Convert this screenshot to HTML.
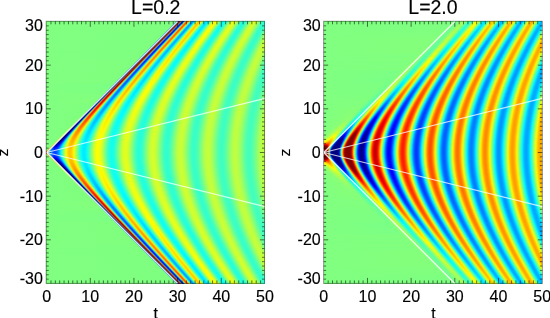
<!DOCTYPE html>
<html><head><meta charset="utf-8"><style>
html,body{margin:0;padding:0;background:#fff}
#w{position:relative;width:550px;height:318px;overflow:hidden;background:#fff;font-family:"Liberation Sans",sans-serif}
.hm{position:absolute;top:21px;height:263px}
.hm i{display:block;height:1px}
svg{position:absolute;left:0;top:0;will-change:transform}
text{font-family:"Liberation Sans",sans-serif;fill:#000;stroke:#000;stroke-width:0.15px}
.l0{background:linear-gradient(90deg,#9f1400 0px,#870000 1px,#a0dd5f 2px,#04eefb 3px,#008cff 5px,#004fff 7px,#0040ff 9px,#005fff 11px,#00a4ff 13px,#09fbf6 15px,#cdff32 19px,#f4fe0b 20px,#ffd300 22px,#ffc100 24px,#ffd600 26px,#f5ff0a 28px,#23ffdc 34px,#0afff5 35px,#00ecff 37px,#00eeff 39px,#00faff 40px,#25ffda 42px,#d3ff2c 48px,#f5ff0a 50px,#ffff00 52px,#deff21 55px,#32ffcd 62px,#0ffff0 65px,#20ffdf 68px,#72ff8d 72px,#caff35 76px,#e6ff19 79px,#d3ff2c 82px,#6fff90 87px,#2bffd4 91px,#23ffdc 94px,#45ffba 97px,#b9ff46 103px,#d7ff28 106px,#cdff32 109px,#8eff71 113px,#46ffb9 117px,#2dffd2 120px,#39ffc6 123px,#b9ff46 131px,#ceff31 134px,#bfff40 137px,#45ffba 145px,#34ffcb 148px,#46ffb9 151px,#baff45 159px,#c7ff38 162px,#b4ff4b 165px,#45ffba 173px,#3bffc4 176px,#5dffa2 180px,#b1ff4e 186px,#c2ff3d 189px,#aaff55 193px,#4dffb2 200px,#41ffbe 204px,#66ff99 208px,#b3ff4c 214px,#bdff42 217px,#b4ff4b 219px)}
.l1{background:linear-gradient(90deg,#be2d01 0px,#cc4f0d 2px,#3ff2c0 3px,#00b9ff 4px,#0066ff 6px,#003fff 8px,#0047ff 10px,#007bff 12px,#08faf7 15px,#ccff33 19px,#f3fe0c 20px,#ffd300 22px,#ffc100 24px,#ffd500 26px,#f5fe0a 28px,#23ffdc 34px,#0afff5 35px,#00ecff 37px,#00eeff 39px,#00f9ff 40px,#25ffda 42px,#d2ff2d 48px,#f5ff0a 50px,#ffff00 52px,#deff21 55px,#32ffcd 62px,#0ffff0 65px,#20ffdf 68px,#72ff8d 72px,#caff35 76px,#e6ff19 79px,#d3ff2c 82px,#6fff90 87px,#2bffd4 91px,#23ffdc 94px,#45ffba 97px,#b9ff46 103px,#d7ff28 106px,#cdff32 109px,#8eff71 113px,#46ffb9 117px,#2dffd2 120px,#39ffc6 123px,#b9ff46 131px,#ceff31 134px,#bfff40 137px,#45ffba 145px,#34ffcb 148px,#46ffb9 151px,#baff45 159px,#c7ff38 162px,#b4ff4b 165px,#45ffba 173px,#3bffc4 176px,#5dffa2 180px,#b1ff4e 186px,#c2ff3d 189px,#aaff55 193px,#4dffb2 200px,#41ffbe 204px,#66ff99 208px,#b3ff4c 214px,#bdff42 217px,#b4ff4b 219px)}
.l2{background:linear-gradient(90deg,#b8ed47 0px,#a6fa59 1px,#dc6007 2px,#ce6417 3px,#27d9d8 4px,#0087ff 5px,#0060ff 6px,#0038ff 8px,#003fff 10px,#0073ff 12px,#05f7fa 15px,#c9ff36 19px,#f1ff0e 20px,#ffec00 21px,#ffc500 23px,#ffc600 25px,#f7fe08 28px,#24ffdb 34px,#0bfff4 35px,#00ecff 37px,#00edff 39px,#0cfff3 41px,#7dff82 45px,#d2ff2d 48px,#f5ff0a 50px,#ffff00 52px,#dfff20 55px,#32ffcd 62px,#0ffff0 65px,#1fffe0 68px,#72ff8d 72px,#caff35 76px,#e6ff19 79px,#d4ff2b 82px,#37ffc8 90px,#21ffde 93px,#35ffca 96px,#c6ff39 104px,#d8ff27 107px,#c1ff3e 110px,#3affc5 118px,#2dffd2 121px,#45ffba 124px,#b9ff46 131px,#ceff31 134px,#bfff40 137px,#45ffba 145px,#34ffcb 148px,#45ffba 151px,#baff45 159px,#c7ff38 162px,#b4ff4b 165px,#45ffba 173px,#3bffc4 176px,#5dffa2 180px,#b1ff4e 186px,#c2ff3d 189px,#aaff55 193px,#4dffb2 200px,#41ffbe 204px,#66ff99 208px,#b3ff4c 214px,#bdff42 217px,#b5ff4a 219px)}
.l3{background:linear-gradient(90deg,#81ff7e 0px,#80ff7f 1px,#a4fa5b 2px,#e56408 3px,#cf7722 4px,#19b6e6 5px,#0058ff 6px,#003bff 7px,#0029ff 9px,#0047ff 11px,#008eff 13px,#01effe 15px,#28ffd7 16px,#c3ff3c 19px,#edff12 20px,#ffee00 21px,#ffc500 23px,#ffc400 25px,#f9fd06 28px,#26ffd9 34px,#0cfff3 35px,#00edff 37px,#00ecff 39px,#0afff5 41px,#7bff84 45px,#d1ff2e 48px,#fdff02 51px,#fbff04 53px,#caff35 56px,#33ffcc 62px,#0ffff0 65px,#1fffe0 68px,#71ff8e 72px,#c9ff36 76px,#e6ff19 79px,#d4ff2b 82px,#70ff8f 87px,#2bffd4 91px,#23ffdc 94px,#44ffbb 97px,#b8ff47 103px,#d6ff29 106px,#cdff32 109px,#8eff71 113px,#3affc5 118px,#2dffd2 121px,#45ffba 124px,#b9ff46 131px,#ceff31 134px,#c0ff3f 137px,#46ffb9 145px,#34ffcb 148px,#45ffba 151px,#baff45 159px,#c7ff38 162px,#b4ff4b 165px,#45ffba 173px,#3bffc4 176px,#5cffa3 180px,#b1ff4e 186px,#c1ff3e 190px,#9eff61 194px,#4dffb2 200px,#41ffbe 204px,#66ff99 208px,#b3ff4c 214px,#bdff42 217px,#b5ff4a 219px)}
.l4{background:linear-gradient(90deg,#80ff7f 0px,#80ff7f 2px,#a3fb5c 3px,#ed6708 4px,#c88232 5px,#0f8cf0 6px,#002dff 7px,#001aff 8px,#0016ff 9px,#0033ff 11px,#007cff 13px,#00e1ff 15px,#1affe5 16px,#bbff44 19px,#e7ff18 20px,#fff200 21px,#ffc600 23px,#ffc200 25px,#ffe300 27px,#fbfb04 28px,#93ff6c 31px,#29ffd6 34px,#0efff1 35px,#00f9ff 36px,#00e8ff 38px,#08fff7 41px,#79ff86 45px,#cfff30 48px,#f4ff0b 50px,#ffff00 52px,#e1ff1e 55px,#34ffcb 62px,#0ffff0 65px,#1effe1 68px,#70ff8f 72px,#c9ff36 76px,#e6ff19 79px,#d5ff2a 82px,#71ff8e 87px,#38ffc7 90px,#21ffde 93px,#34ffcb 96px,#c6ff39 104px,#d8ff27 107px,#c2ff3d 110px,#3affc5 118px,#2dffd2 121px,#44ffbb 124px,#b9ff46 131px,#ceff31 134px,#c0ff3f 137px,#46ffb9 145px,#34ffcb 148px,#45ffba 151px,#b9ff46 159px,#c7ff38 162px,#b4ff4b 165px,#45ffba 173px,#3bffc4 176px,#5cffa3 180px,#b1ff4e 186px,#c1ff3e 190px,#9eff61 194px,#4dffb2 200px,#41ffbe 204px,#66ff99 208px,#b2ff4d 214px,#bdff42 217px,#b5ff4a 219px)}
.l5{background:linear-gradient(90deg,#80ff7f 0px,#80ff7f 3px,#a3fb5c 4px,#f36d08 5px,#bc9141 6px,#0862f7 7px,#0006fd 8px,#0007fd 10px,#0019ff 11px,#0063ff 13px,#00ccff 15px,#0bfaf4 16px,#dfff20 20px,#fdf702 21px,#ffc700 23px,#ffbf00 25px,#ffdd00 27px,#fef701 28px,#c0ff3f 30px,#2dffd2 34px,#01fafe 36px,#00e8ff 38px,#06fff9 41px,#76ff89 45px,#cdff32 48px,#fdff02 51px,#fcff03 53px,#ceff31 56px,#35ffca 62px,#0ffff0 65px,#1dffe2 68px,#6eff91 72px,#c8ff37 76px,#e6ff19 79px,#d5ff2a 82px,#89ff76 86px,#39ffc6 90px,#21ffde 93px,#34ffcb 96px,#c5ff3a 104px,#d8ff27 107px,#c3ff3c 110px,#3bffc4 118px,#2dffd2 121px,#44ffbb 124px,#b8ff47 131px,#ceff31 134px,#c0ff3f 137px,#46ffb9 145px,#34ffcb 148px,#45ffba 151px,#b9ff46 159px,#c7ff38 162px,#a9ff56 166px,#50ffaf 172px,#3bffc4 175px,#4fffb0 179px,#b1ff4e 186px,#c1ff3e 190px,#9eff61 194px,#4dffb2 200px,#41ffbe 204px,#66ff99 208px,#b2ff4d 214px,#bdff42 217px,#b5ff4a 219px)}
.l6{background:linear-gradient(90deg,#80ff7f 0px,#80ff7f 4px,#a2fb5d 5px,#f67609 6px,#b49c4b 7px,#053bf4 8px,#0000de 9px,#0000e3 10px,#0002f5 11px,#0019ff 12px,#0077ff 14px,#02ebfd 16px,#2cffd3 17px,#d3ff2c 20px,#f9fb06 21px,#ffc900 23px,#ffbc00 25px,#ffd700 27px,#fff200 28px,#ecff13 29px,#31ffce 34px,#02fcfd 36px,#00e8ff 38px,#00f2ff 40px,#04fefb 41px,#52ffad 44px,#caff35 48px,#f1ff0e 50px,#fffe00 52px,#f4ff0b 54px,#b8ff47 57px,#37ffc8 62px,#10ffef 65px,#1cffe3 68px,#6cff93 72px,#c7ff38 76px,#e6ff19 79px,#d6ff29 82px,#8aff75 86px,#3affc5 90px,#21ffde 93px,#33ffcc 96px,#c5ff3a 104px,#d8ff27 107px,#c3ff3c 110px,#3bffc4 118px,#2cffd3 121px,#43ffbc 124px,#b8ff47 131px,#ceff31 134px,#c1ff3e 137px,#47ffb8 145px,#34ffcb 148px,#44ffbb 151px,#b9ff46 159px,#c7ff38 162px,#b5ff4a 165px,#46ffb9 173px,#3bffc4 176px,#5bffa4 180px,#b0ff4f 186px,#c2ff3d 189px,#b5ff4a 192px,#4effb1 200px,#3fffc0 203px,#59ffa6 207px,#b2ff4d 214px,#bdff42 217px,#b5ff4a 219px)}
.l7{background:linear-gradient(90deg,#80ff80 0px,#80ff7f 5px,#a2fc5d 6px,#f68209 7px,#a8a457 8px,#0327e1 9px,#0000bc 10px,#0000ce 11px,#0002ed 12px,#001cff 13px,#008dff 15px,#00ceff 16px,#13fcec 17px,#c4ff3b 20px,#f2fe0d 21px,#ffe700 22px,#ffbd00 24px,#ffc000 26px,#ffe900 28px,#f4fe0b 29px,#37ffc8 34px,#03fdfc 36px,#00e8ff 38px,#00efff 40px,#02fcfd 41px,#4dffb2 44px,#c7ff38 48px,#f0ff0f 50px,#fffe00 52px,#f5ff0a 54px,#bbff44 57px,#39ffc6 62px,#10ffef 65px,#11ffee 67px,#3cffc3 70px,#c5ff3a 76px,#e6ff19 79px,#d7ff28 82px,#8cff73 86px,#3bffc4 90px,#21ffde 93px,#32ffcd 96px,#c4ff3b 104px,#d8ff27 107px,#c4ff3b 110px,#3cffc3 118px,#2cffd3 121px,#43ffbc 124px,#c3ff3c 132px,#ceff31 135px,#b6ff49 138px,#47ffb8 145px,#34ffcb 148px,#44ffbb 151px,#b8ff47 159px,#c7ff38 162px,#b6ff49 165px,#46ffb9 173px,#3bffc4 176px,#5bffa4 180px,#b0ff4f 186px,#c2ff3d 189px,#b6ff49 192px,#4effb1 200px,#3fffc0 203px,#58ffa7 207px,#b2ff4d 214px,#bdff42 217px,#b5ff4a 219px)}
.l8{background:linear-gradient(90deg,#80ff80 0px,#80ff7f 6px,#a1fc5e 7px,#f68d09 8px,#96a669 9px,#001bc7 10px,#00009d 11px,#0000bc 12px,#0002e8 13px,#0023ff 14px,#03eafc 17px,#33ffcc 18px,#b0ff4f 20px,#e4ff1b 21px,#fff000 22px,#ffbe00 24px,#ffbb00 26px,#ffe000 28px,#fbfb04 29px,#1fffe0 35px,#06fef9 36px,#00e6ff 39px,#01fafe 41px,#2affd5 43px,#c3ff3c 48px,#eeff11 50px,#fffe00 52px,#f7ff08 54px,#bfff40 57px,#3cffc3 62px,#19ffe6 64px,#10ffef 67px,#3affc5 70px,#c3ff3c 76px,#e6ff19 79px,#d9ff26 82px,#8eff71 86px,#3cffc3 90px,#21ffde 93px,#31ffce 96px,#79ff86 100px,#c3ff3c 104px,#d8ff27 107px,#c5ff3a 110px,#3dffc2 118px,#2cffd3 121px,#42ffbd 124px,#c2ff3d 132px,#ceff31 135px,#b6ff49 138px,#48ffb7 145px,#34ffcb 148px,#43ffbc 151px,#b8ff47 159px,#c7ff38 162px,#b6ff49 165px,#47ffb8 173px,#3bffc4 176px,#5affa5 180px,#afff50 186px,#c2ff3d 189px,#acff53 193px,#4effb1 200px,#3fffc0 203px,#58ffa7 207px,#b2ff4d 214px,#bdff42 217px,#b6ff49 219px)}
.l9{background:linear-gradient(90deg,#80ff80 0px,#80ff7f 7px,#a1fc5e 8px,#f5990a 9px,#88a675 10px,#0013a8 11px,#000088 12px,#0000ae 13px,#0003e6 14px,#002dff 15px,#00c1ff 17px,#12faed 18px,#d1ff2e 21px,#faf905 22px,#ffc100 24px,#ffb500 26px,#ffd600 28px,#fef301 29px,#e7ff18 30px,#25ffda 35px,#0afff5 36px,#00e9ff 38px,#00eaff 40px,#0bfff4 42px,#d8ff27 49px,#f9ff06 51px,#f9ff06 54px,#c3ff3c 57px,#3effc1 62px,#11ffee 65px,#10ffef 67px,#37ffc8 70px,#c1ff3e 76px,#e5ff1a 79px,#daff25 82px,#90ff6f 86px,#3dffc2 90px,#21ffde 93px,#30ffcf 96px,#8cff73 101px,#ceff31 105px,#d7ff28 108px,#b8ff47 111px,#3dffc2 118px,#2cffd3 121px,#41ffbe 124px,#c1ff3e 132px,#ceff31 135px,#b7ff48 138px,#48ffb7 145px,#34ffcb 148px,#43ffbc 151px,#b7ff48 159px,#c7ff38 162px,#b7ff48 165px,#47ffb8 173px,#3bffc4 176px,#4effb1 179px,#b8ff47 187px,#c1ff3e 190px,#a0ff5f 194px,#4fffb0 200px,#3fffc0 203px,#57ffa8 207px,#b1ff4e 214px,#beff41 217px,#b6ff49 219px)}
.l10{background:linear-gradient(90deg,#80ff80 0px,#80ff7f 8px,#a0fd5f 9px,#f5a50a 10px,#7ea27c 11px,#000b9c 12px,#000082 13px,#0000a4 14px,#0004e6 15px,#0039ff 16px,#01dcfe 18px,#2dffd2 19px,#b8ff47 21px,#eefe11 22px,#ffe500 23px,#ffc600 24px,#ffb500 25px,#ffb900 27px,#ffe700 29px,#f3fe0c 30px,#2dffd2 35px,#10ffef 36px,#00f8ff 37px,#00e4ff 39px,#06fef9 42px,#5affa5 45px,#d3ff2c 49px,#f7ff08 51px,#fffd00 53px,#efff10 55px,#adff52 58px,#42ffbd 62px,#12ffed 65px,#0ffff0 67px,#34ffcb 70px,#bfff40 76px,#e5ff1a 79px,#dbff24 82px,#93ff6c 86px,#3fffc0 90px,#21ffde 93px,#2fffd0 96px,#75ff8a 100px,#c1ff3e 104px,#d8ff27 107px,#c7ff38 110px,#3effc1 118px,#2cffd3 121px,#40ffbf 124px,#c1ff3e 132px,#ceff31 135px,#b8ff47 138px,#49ffb6 145px,#34ffcb 148px,#42ffbd 151px,#b7ff48 159px,#c7ff38 162px,#b7ff48 165px,#47ffb8 173px,#3bffc4 176px,#59ffa6 180px,#b8ff47 187px,#c1ff3e 190px,#a1ff5e 194px,#4fffb0 200px,#3fffc0 203px,#57ffa8 207px,#b1ff4e 214px,#bbff44 218px,#b6ff49 219px)}
.l11{background:linear-gradient(90deg,#80ff80 0px,#80ff7f 9px,#a0fd5f 10px,#f5b00a 11px,#75a181 12px,#000893 13px,#000080 14px,#00009e 15px,#0007e8 16px,#0049ff 17px,#0af1f5 19px,#4effb1 20px,#d7ff28 22px,#fdf302 23px,#ffcf00 24px,#ffb800 25px,#ffae00 26px,#ffc000 28px,#fcf803 30px,#b2ff4d 32px,#37ffc8 35px,#02fbfd 37px,#00e4ff 39px,#00edff 41px,#02fcfd 42px,#32ffcd 44px,#ceff31 49px,#f5ff0a 51px,#fffc00 53px,#f3ff0c 55px,#b2ff4d 58px,#30ffcf 63px,#0dfff2 66px,#20ffdf 69px,#76ff89 73px,#ceff31 77px,#e7ff18 80px,#d0ff2f 83px,#41ffbe 90px,#21ffde 93px,#2dffd2 96px,#73ff8c 100px,#bfff40 104px,#d8ff27 107px,#c8ff37 110px,#71ff8e 115px,#35ffca 119px,#2effd1 122px,#5cffa3 126px,#c0ff3f 132px,#ceff31 135px,#b9ff46 138px,#3fffc0 146px,#35ffca 149px,#4dffb2 152px,#b6ff49 159px,#c7ff38 162px,#b8ff47 165px,#48ffb7 173px,#3bffc4 176px,#4cffb3 179px,#b8ff47 187px,#c2ff3d 190px,#a2ff5d 194px,#47ffb8 201px,#40ffbf 204px,#62ff9d 208px,#b0ff4f 214px,#bcff43 218px,#b6ff49 219px)}
.l12{background:linear-gradient(90deg,#80ff80 0px,#80ff7f 10px,#9ffd60 11px,#f4bb0b 12px,#679f89 13px,#00058e 14px,#000080 15px,#00009c 16px,#000beb 17px,#005bff 18px,#00bcff 19px,#1dfce2 20px,#b7ff48 22px,#f1fd0e 23px,#ffdd00 24px,#ffbe00 25px,#ffad00 26px,#ffab00 27px,#ffcc00 29px,#ffeb00 30px,#ecff13 31px,#43ffbc 35px,#05fefa 37px,#00e4ff 39px,#00e9ff 41px,#00f7ff 42px,#0efff1 43px,#c9ff36 49px,#f3ff0c 51px,#fffc00 53px,#f6ff09 55px,#b8ff47 58px,#33ffcc 63px,#14ffeb 65px,#12ffed 68px,#42ffbd 71px,#ccff33 77px,#e7ff18 80px,#d2ff2d 83px,#82ff7d 87px,#33ffcc 91px,#20ffdf 94px,#38ffc7 97px,#beff41 104px,#d8ff27 107px,#caff35 110px,#73ff8c 115px,#36ffc9 119px,#2effd1 122px,#4bffb4 125px,#bfff40 132px,#cfff30 135px,#baff45 138px,#40ffbf 146px,#35ffca 149px,#59ffa6 153px,#b5ff4a 159px,#c7ff38 162px,#b9ff46 165px,#49ffb6 173px,#3affc5 176px,#57ffa8 180px,#b7ff48 187px,#c2ff3d 190px,#a2ff5d 194px,#50ffaf 200px,#40ffbf 204px,#62ff9d 208px,#b0ff4f 214px,#bcff43 218px,#b7ff48 219px)}
.l13{background:linear-gradient(90deg,#80ff80 0px,#80ff7f 11px,#9ffe60 12px,#f2c40d 13px,#589b93 14px,#000388 15px,#000080 16px,#00009c 17px,#0011ef 18px,#006eff 19px,#02d5fd 20px,#38ffc7 21px,#8dff72 22px,#d4ff2b 23px,#fdef02 24px,#ffc800 25px,#ffb000 26px,#ffa600 27px,#ffbe00 29px,#fafa05 31px,#2bffd4 36px,#0cfff3 37px,#00e5ff 39px,#00e5ff 41px,#07fef8 43px,#dbff24 50px,#fcff03 52px,#f9ff06 55px,#beff41 58px,#37ffc8 63px,#0efff1 66px,#11ffee 68px,#3effc1 71px,#caff35 77px,#e7ff18 80px,#d5ff2a 83px,#85ff7a 87px,#35ffca 91px,#20ffdf 94px,#37ffc8 97px,#bcff43 104px,#d8ff27 107px,#cbff34 110px,#89ff76 114px,#42ffbd 118px,#2cffd3 121px,#3cffc3 124px,#beff41 132px,#cfff30 135px,#bbff44 138px,#41ffbe 146px,#35ffca 149px,#4bffb4 152px,#b5ff4a 159px,#c7ff38 162px,#b9ff46 165px,#49ffb6 173px,#3affc5 176px,#56ffa9 180px,#b6ff49 187px,#c2ff3d 190px,#a3ff5c 194px,#48ffb7 201px,#40ffbf 204px,#61ff9e 208px,#afff50 214px,#beff41 217px,#b7ff48 219px)}
.l14{background:linear-gradient(90deg,#80ff80 0px,#80ff7f 12px,#9efe61 13px,#efcd10 14px,#509197 15px,#000087 16px,#000080 17px,#00009e 18px,#001af2 19px,#0084ff 20px,#09e9f6 21px,#56ffa9 22px,#abff54 23px,#eefd11 24px,#ffd900 25px,#ffb700 26px,#ffa500 27px,#ffa400 28px,#ffb000 29px,#ffec00 31px,#e9ff16 32px,#38ffc7 36px,#15ffea 37px,#01f9fe 38px,#00e0ff 40px,#00ebff 42px,#02fbfd 43px,#35ffca 45px,#baff45 49px,#ebff14 51px,#fffc00 53px,#fcff03 55px,#c4ff3b 58px,#3cffc3 63px,#18ffe7 65px,#0ffff0 68px,#3affc5 71px,#c7ff38 77px,#e7ff18 80px,#d7ff28 83px,#89ff76 87px,#37ffc8 91px,#20ffdf 94px,#34ffcb 97px,#c8ff37 105px,#d8ff27 108px,#c0ff3f 111px,#43ffbc 118px,#2cffd3 121px,#3bffc4 124px,#bdff42 132px,#cfff30 135px,#bcff43 138px,#42ffbd 146px,#34ffcb 149px,#49ffb6 152px,#b4ff4b 159px,#c7ff38 162px,#baff45 165px,#4affb5 173px,#3affc5 176px,#55ffaa 180px,#b6ff49 187px,#c2ff3d 190px,#a4ff5b 194px,#49ffb6 201px,#40ffbf 204px,#60ff9f 208px,#afff50 214px,#beff41 217px,#b8ff47 219px)}
.l15{background:linear-gradient(90deg,#80ff80 0px,#80ff7f 13px,#9dfe62 14px,#edd612 15px,#4a879a 16px,#000085 17px,#000080 18px,#0000a1 19px,#0025f6 20px,#009aff 21px,#18f6e7 22px,#c8ff37 24px,#fcf003 25px,#ffc500 26px,#ffa900 27px,#ff9e00 28px,#ffa400 29px,#ffd800 31px,#f9f906 32px,#21ffde 37px,#05fdfa 38px,#00e0ff 40px,#00e5ff 42px,#00f5ff 43px,#0dfff2 44px,#ceff31 50px,#f7ff08 52px,#fefe01 55px,#e2ff1d 57px,#2bffd4 64px,#10ffef 66px,#0dfff2 68px,#35ffca 71px,#c3ff3c 77px,#e7ff18 80px,#d9ff26 83px,#8dff72 87px,#3affc5 91px,#20ffdf 94px,#32ffcd 97px,#c6ff39 105px,#d9ff26 108px,#c2ff3d 111px,#45ffba 118px,#2cffd3 121px,#3affc5 124px,#8cff73 129px,#c6ff39 133px,#cdff32 136px,#b1ff4e 139px,#43ffbc 146px,#34ffcb 149px,#48ffb7 152px,#bdff42 160px,#c7ff38 163px,#a3ff5c 167px,#4bffb4 173px,#3affc5 176px,#54ffab 180px,#b5ff4a 187px,#c2ff3d 190px,#a5ff5a 194px,#49ffb6 201px,#43ffbc 205px,#6dff92 209px,#aeff51 214px,#beff41 217px,#b8ff47 219px)}
.l16{background:linear-gradient(90deg,#80ff80 0px,#80ff7f 14px,#9dfe62 15px,#ebdf14 16px,#448299 17px,#000083 18px,#000080 19px,#0000a5 20px,#0032f8 21px,#00b2ff 22px,#2efcd1 23px,#92ff6d 24px,#e3fe1c 25px,#ffdc00 26px,#ffb300 27px,#ff9e00 28px,#ff9b00 29px,#ffa800 30px,#ffe800 32px,#e9ff16 33px,#30ffcf 37px,#0efff1 38px,#00f3ff 39px,#00dcff 41px,#00edff 43px,#05fdfa 44px,#85ff7a 48px,#e0ff1f 51px,#fefd01 53px,#f8ff07 56px,#b8ff47 59px,#30ffcf 64px,#0cfff3 67px,#13ffec 69px,#46ffb9 72px,#bfff40 77px,#e6ff19 80px,#dcff23 83px,#91ff6e 87px,#3cffc3 91px,#20ffdf 94px,#30ffcf 97px,#8fff70 102px,#d0ff2f 106px,#d6ff29 109px,#b5ff4a 112px,#47ffb8 118px,#2cffd3 121px,#38ffc7 124px,#8aff75 129px,#c5ff3a 133px,#ceff31 136px,#b3ff4c 139px,#44ffbb 146px,#34ffcb 149px,#47ffb8 152px,#bcff43 160px,#c7ff38 163px,#a5ff5a 167px,#4cffb3 173px,#3affc5 176px,#48ffb7 179px,#b4ff4b 187px,#c2ff3d 190px,#a6ff59 194px,#4affb5 201px,#40ffbf 204px,#5effa1 208px,#aeff51 214px,#bdff42 218px,#b8ff47 219px)}
.l17{background:linear-gradient(90deg,#80ff80 0px,#80ff7f 15px,#9cff63 16px,#e8e717 17px,#3d7b9a 18px,#000081 19px,#000080 20px,#0001aa 21px,#0041fa 22px,#03c8fc 23px,#49ffb6 24px,#afff50 25px,#f5f60a 26px,#ffc600 27px,#ffa400 28px,#ff9600 29px,#ff9a00 30px,#ffaf00 31px,#fbf704 33px,#a0ff5f 35px,#41ffbe 37px,#1bffe4 38px,#02f9fd 39px,#00dcff 41px,#00e6ff 43px,#01f8fe 44px,#13ffec 45px,#d9ff26 51px,#fdfe02 53px,#fcff03 56px,#c0ff3f 59px,#35ffca 64px,#0cfff3 67px,#1bffe4 70px,#72ff8d 74px,#ceff31 78px,#e9ff16 81px,#d1ff2e 84px,#3fffc0 91px,#20ffdf 94px,#2effd1 97px,#76ff89 101px,#c2ff3d 105px,#d9ff26 108px,#c6ff39 111px,#3bffc4 119px,#2cffd3 122px,#42ffbd 125px,#b9ff46 132px,#cfff30 135px,#c0ff3f 138px,#45ffba 146px,#34ffcb 149px,#46ffb9 152px,#bbff44 160px,#c7ff38 163px,#b3ff4c 166px,#43ffbc 174px,#3bffc4 177px,#5fffa0 181px,#b4ff4b 187px,#c2ff3d 190px,#b2ff4d 193px,#4affb5 201px,#3fffc0 204px,#5dffa2 208px,#adff52 214px,#bdff42 218px,#b9ff46 219px)}
.l18{background:linear-gradient(90deg,#7fff80 0px,#80ff7f 16px,#9cff63 17px,#e2ec1d 18px,#35749c 19px,#000080 20px,#000080 21px,#0002b0 22px,#0052fd 23px,#0adcf5 24px,#65ff9a 25px,#cbff34 26px,#fde502 27px,#ffb300 28px,#ff9700 29px,#ff9100 30px,#ff9d00 31px,#ffe000 33px,#edfe12 34px,#2bffd4 38px,#09fef6 39px,#00deff 41px,#00dfff 43px,#08fef7 45px,#d0ff2f 51px,#faff05 53px,#fefd01 56px,#e1ff1e 58px,#3bffc4 64px,#0dfff2 67px,#0efff1 69px,#3bffc4 72px,#caff35 78px,#e9ff16 81px,#d5ff2a 84px,#32ffcd 92px,#1fffe0 95px,#39ffc6 98px,#c0ff3f 105px,#d9ff26 108px,#c8ff37 111px,#3dffc2 119px,#2bffd4 122px,#41ffbe 125px,#c3ff3c 133px,#ceff31 136px,#b6ff49 139px,#46ffb9 146px,#34ffcb 149px,#44ffbb 152px,#baff45 160px,#c8ff37 163px,#b4ff4b 166px,#44ffbb 174px,#3bffc4 177px,#5effa1 181px,#b3ff4c 187px,#c2ff3d 190px,#a8ff57 194px,#4bffb4 201px,#3fffc0 204px,#5cffa3 208px,#b5ff4a 215px,#bdff42 218px,#b9ff46 219px)}
.l19{background:linear-gradient(90deg,#80ff80 0px,#80ff7f 17px,#9bff64 18px,#ddf122 19px,#2d6da3 20px,#000080 21px,#000080 22px,#0005b6 23px,#0066fd 24px,#15eaea 25px,#81ff7e 26px,#e3fc1c 27px,#ffd000 28px,#ffa200 29px,#ff8e00 30px,#ff8f00 31px,#ffa300 32px,#fdf002 34px,#d8ff27 35px,#3fffc0 38px,#16ffe9 39px,#01f6fe 40px,#00d8ff 42px,#00e5ff 44px,#01f9fe 45px,#39ffc6 47px,#c6ff39 51px,#f6ff09 53px,#fff700 55px,#f9ff06 57px,#b6ff49 60px,#2bffd4 65px,#0ffff0 67px,#0cfff3 69px,#35ffca 72px,#c6ff39 78px,#e8ff17 81px,#e3ff1c 83px,#b5ff4a 86px,#35ffca 92px,#1fffe0 95px,#36ffc9 98px,#beff41 105px,#d9ff26 108px,#caff35 111px,#3fffc0 119px,#2bffd4 122px,#3fffc0 125px,#c1ff3e 133px,#cfff30 136px,#b8ff47 139px,#48ffb7 146px,#34ffcb 149px,#43ffbc 152px,#b9ff46 160px,#c8ff37 163px,#b5ff4a 166px,#45ffba 174px,#3bffc4 177px,#5cffa3 181px,#b2ff4d 187px,#c2ff3d 190px,#b4ff4b 193px,#4cffb3 201px,#3fffc0 204px,#5bffa4 208px,#b4ff4b 215px,#baff45 219px)}
.l20{background:linear-gradient(90deg,#80ff80 0px,#80ff7f 18px,#9aff65 19px,#d7f628 20px,#2664aa 21px,#000080 22px,#000080 23px,#0008be 24px,#007afe 25px,#26f4d9 26px,#9dff62 27px,#f4f30b 28px,#ffbb00 29px,#ff9400 30px,#ff8700 31px,#ff9000 32px,#ffab00 33px,#f4fb0b 35px,#29ffd6 39px,#06fdf9 40px,#00d9ff 42px,#00ddff 44px,#0afef5 46px,#d8ff27 52px,#fefd01 54px,#fff700 56px,#efff10 58px,#84ff7b 62px,#31ffce 65px,#11ffee 67px,#0afff5 69px,#2fffd0 72px,#c1ff3e 78px,#e8ff17 81px,#dbff24 84px,#8dff72 88px,#38ffc7 92px,#1fffe0 95px,#33ffcc 98px,#c9ff36 106px,#d9ff26 109px,#c0ff3f 112px,#41ffbe 119px,#2bffd4 122px,#3dffc2 125px,#c0ff3f 133px,#cfff30 136px,#baff45 139px,#3effc1 147px,#35ffca 150px,#5bffa4 154px,#b8ff47 160px,#c8ff37 163px,#b7ff48 166px,#46ffb9 174px,#3affc5 177px,#5bffa4 181px,#b1ff4e 187px,#c2ff3d 190px,#b5ff4a 193px,#4dffb2 201px,#3fffc0 204px,#5affa5 208px,#b4ff4b 215px,#baff45 219px)}
.l21{background:linear-gradient(90deg,#80ff80 0px,#80ff7f 19px,#9aff65 20px,#d2fa2d 21px,#225aab 22px,#000080 23px,#000080 24px,#000cc6 25px,#0190fe 26px,#3cfac3 27px,#b9ff46 28px,#fce303 29px,#ffa800 30px,#ff8800 31px,#ff8200 32px,#ff9300 33px,#ffb500 34px,#ffe400 35px,#e3ff1c 36px,#40ffbf 39px,#15ffea 40px,#00f3ff 41px,#00d4ff 43px,#00e4ff 45px,#02f9fd 46px,#19ffe6 47px,#ceff31 52px,#fbff04 54px,#fff500 56px,#f6ff09 58px,#adff52 61px,#38ffc7 65px,#0bfff4 68px,#0efff1 70px,#3effc1 73px,#bcff43 78px,#e7ff18 81px,#deff21 84px,#aaff55 87px,#3cffc3 92px,#1fffe0 95px,#30ffcf 98px,#c7ff38 106px,#daff25 109px,#c2ff3d 112px,#43ffbc 119px,#2bffd4 122px,#3bffc4 125px,#beff41 133px,#cfff30 136px,#bbff44 139px,#40ffbf 147px,#34ffcb 150px,#4cffb3 153px,#b6ff49 160px,#c8ff37 163px,#b8ff47 166px,#47ffb8 174px,#3affc5 177px,#59ffa6 181px,#b0ff4f 187px,#c2ff3d 190px,#acff53 194px,#4effb1 201px,#3fffc0 204px,#59ffa6 208px,#b3ff4c 215px,#bbff44 219px)}
.l22{background:linear-gradient(90deg,#80ff80 0px,#80ff7f 20px,#99ff66 21px,#ccfb33 22px,#1f55a7 23px,#000080 24px,#000081 25px,#0012cc 26px,#02a5fd 27px,#54fdab 28px,#d2fd2d 29px,#ffce00 30px,#ff9700 31px,#ff7e00 32px,#ff8100 33px,#ff9900 34px,#fbf204 36px,#ceff31 37px,#2affd5 40px,#06fcf9 41px,#00d6ff 43px,#00daff 45px,#0afef5 47px,#dfff20 53px,#fffa00 55px,#fff700 57px,#fcfe03 58px,#b7ff48 61px,#40ffbf 65px,#0cfff3 68px,#0bfff4 70px,#37ffc8 73px,#cbff34 79px,#eaff15 82px,#d5ff2a 85px,#40ffbf 92px,#1fffe0 95px,#2dffd2 98px,#77ff88 102px,#c4ff3b 106px,#daff25 109px,#c5ff3a 112px,#39ffc6 120px,#2bffd4 123px,#45ffba 126px,#bcff43 133px,#cfff30 136px,#bdff42 139px,#41ffbe 147px,#34ffcb 150px,#4affb5 153px,#b5ff4a 160px,#c8ff37 163px,#b9ff46 166px,#48ffb7 174px,#3affc5 177px,#58ffa7 181px,#b8ff47 188px,#c2ff3d 191px,#a1ff5e 195px,#46ffb9 202px,#41ffbe 205px,#64ff9b 209px,#b2ff4d 215px,#beff41 218px,#bbff44 219px)}
.l23{background:linear-gradient(90deg,#80ff80 0px,#80ff7f 21px,#98ff67 22px,#c5fa3a 23px,#1b50a3 24px,#000080 25px,#000082 26px,#001ad2 27px,#07b8f8 28px,#6dff92 29px,#e6f719 30px,#ffb900 31px,#ff8800 32px,#ff7700 33px,#ff8100 34px,#ffa100 35px,#ffd100 36px,#f0fb0f 37px,#45ffba 40px,#16ffe9 41px,#00f1ff 42px,#00d0ff 44px,#00e1ff 46px,#01f7fe 47px,#19ffe6 48px,#d3ff2c 53px,#fdfd02 55px,#fff400 57px,#f3ff0c 59px,#a5ff5a 62px,#30ffcf 66px,#0ffff0 68px,#09fff6 70px,#30ffcf 73px,#c6ff39 79px,#eaff15 82px,#d9ff26 85px,#87ff78 89px,#33ffcc 93px,#1effe1 96px,#37ffc8 99px,#c1ff3e 106px,#daff25 109px,#c8ff37 112px,#3bffc4 120px,#2bffd4 123px,#43ffbc 126px,#baff45 133px,#cfff30 136px,#bfff40 139px,#43ffbc 147px,#34ffcb 150px,#48ffb7 153px,#beff41 161px,#c7ff38 164px,#b0ff4f 167px,#49ffb6 174px,#3affc5 177px,#56ffa9 181px,#b7ff48 188px,#c2ff3d 191px,#a2ff5d 195px,#47ffb8 202px,#40ffbf 205px,#63ff9c 209px,#b1ff4e 215px,#beff41 218px,#bcff43 219px)}
.l24{background:linear-gradient(90deg,#80ff80 0px,#80ff7f 22px,#97ff68 23px,#bdf942 24px,#184b9f 25px,#000080 26px,#000083 27px,#0022d9 28px,#0ecaf1 29px,#88ff77 30px,#f3ec0c 31px,#ffa500 32px,#ff7b00 33px,#ff7200 34px,#ff8400 35px,#ffe000 37px,#dffe20 38px,#2fffd0 41px,#07fcf8 42px,#00d2ff 44px,#00d6ff 46px,#09fef6 48px,#c6ff39 53px,#f9ff06 55px,#fff200 57px,#fbfe04 59px,#b1ff4e 62px,#38ffc7 66px,#12ffed 68px,#07fff8 70px,#18ffe7 72px,#59ffa6 75px,#c0ff3f 79px,#e9ff16 82px,#ddff22 85px,#8dff72 89px,#37ffc8 93px,#1effe1 96px,#34ffcb 99px,#ccff33 107px,#d9ff26 110px,#bdff42 113px,#3dffc2 120px,#2bffd4 123px,#40ffbf 126px,#c4ff3b 134px,#cfff30 137px,#b5ff4a 140px,#44ffbb 147px,#33ffcc 150px,#46ffb9 153px,#bcff43 161px,#c8ff37 164px,#a4ff5b 168px,#4bffb4 174px,#3affc5 177px,#49ffb6 180px,#b6ff49 188px,#c2ff3d 191px,#a4ff5b 195px,#51ffae 201px,#3fffc0 204px,#55ffaa 208px,#b0ff4f 215px,#bcff43 219px)}
.l25{background:linear-gradient(90deg,#80ff80 0px,#80ff7f 23px,#b4f74b 25px,#15469c 26px,#000080 27px,#000084 28px,#002dde 29px,#18d9e7 30px,#a3ff5c 31px,#fbdb04 32px,#ff9300 33px,#ff7000 34px,#ff6f00 35px,#ff8a00 36px,#fbef04 38px,#cbff34 39px,#4effb1 41px,#1bffe4 42px,#01f2fe 43px,#00ccff 45px,#00dcff 47px,#01f4fe 48px,#17ffe8 49px,#d7ff28 54px,#f2ff0d 55px,#fffa00 56px,#fff200 58px,#f1ff0e 60px,#7dff82 64px,#29ffd6 67px,#0bfff4 69px,#09fff6 71px,#37ffc8 74px,#ceff31 80px,#ebff14 83px,#d3ff2c 86px,#3bffc4 93px,#1effe1 96px,#30ffcf 99px,#c9ff36 107px,#daff25 110px,#c0ff3f 113px,#40ffbf 120px,#2bffd4 123px,#3dffc2 126px,#c2ff3d 134px,#cfff30 137px,#b7ff48 140px,#46ffb9 147px,#33ffcc 150px,#44ffbb 153px,#bbff44 161px,#c8ff37 164px,#b3ff4c 167px,#43ffbc 175px,#3bffc4 178px,#60ff9f 182px,#b5ff4a 188px,#c2ff3d 191px,#a6ff59 195px,#49ffb6 202px,#40ffbf 205px,#60ff9f 209px,#afff50 215px,#beff41 218px,#bcff43 219px)}
.l26{background:linear-gradient(90deg,#80ff80 0px,#80ff7f 24px,#acf653 26px,#11419e 27px,#000080 28px,#000086 29px,#003be3 30px,#26e4d9 31px,#bcfd43 32px,#fec701 33px,#ff8200 34px,#ff6700 35px,#ff6f00 36px,#ff9100 37px,#ffc600 38px,#f2f80d 39px,#39ffc6 42px,#0bfdf4 43px,#00d0ff 45px,#00c9ff 46px,#00e5ff 48px,#06fcf9 49px,#c9ff36 54px,#fcfe03 56px,#fff000 58px,#fafe05 60px,#abff54 63px,#31ffce 67px,#0efff1 69px,#07fff8 71px,#1cffe3 73px,#7dff82 77px,#c8ff37 80px,#ebff14 83px,#e4ff1b 85px,#b2ff4d 88px,#40ffbf 93px,#1effe1 96px,#2cffd3 99px,#78ff87 103px,#c6ff39 107px,#daff25 110px,#c4ff3b 113px,#43ffbc 120px,#2bffd4 123px,#3bffc4 126px,#c0ff3f 134px,#d0ff2f 137px,#baff45 140px,#48ffb7 147px,#33ffcc 150px,#42ffbd 153px,#baff45 161px,#c8ff37 164px,#b5ff4a 167px,#44ffbb 175px,#3bffc4 178px,#51ffae 181px,#b4ff4b 188px,#c2ff3d 191px,#b2ff4d 194px,#4affb5 202px,#3fffc0 205px,#5effa1 209px,#aeff51 215px,#beff41 218px,#bdff42 219px)}
.l27{background:linear-gradient(90deg,#80ff80 0px,#80ff7f 25px,#a4f45b 27px,#0e3ca1 28px,#000080 29px,#000089 30px,#0048e8 31px,#37eec8 32px,#d1f92e 33px,#ffb300 34px,#ff7300 35px,#ff6000 36px,#ff7000 37px,#ff9a00 38px,#ffd500 39px,#e3fd1c 40px,#5dffa2 42px,#24ffdb 43px,#02f4fd 44px,#00d8ff 45px,#00c9ff 46px,#00c9ff 47px,#00efff 49px,#13ffec 50px,#daff25 55px,#f5ff0a 56px,#ffef00 58px,#fefb01 60px,#d7ff28 62px,#3bffc4 67px,#12ffed 69px,#05fffa 71px,#15ffea 73px,#73ff8c 77px,#c1ff3e 80px,#eaff15 83px,#e7ff18 85px,#b9ff46 88px,#33ffcc 94px,#1dffe2 97px,#37ffc8 100px,#c2ff3d 107px,#dbff24 110px,#c7ff38 113px,#46ffb9 120px,#2bffd4 123px,#38ffc7 126px,#beff41 134px,#d0ff2f 137px,#bcff43 140px,#3fffc0 148px,#34ffcb 151px,#4cffb3 154px,#b8ff47 161px,#c8ff37 164px,#b7ff48 167px,#45ffba 175px,#3affc5 178px,#5cffa3 182px,#b2ff4d 188px,#c3ff3c 191px,#a9ff56 195px,#4bffb4 202px,#3fffc0 205px,#5cffa3 209px,#adff52 215px,#bdff42 219px)}
.l28{background:linear-gradient(90deg,#80ff80 0px,#80ff7f 26px,#9cf363 28px,#0b38a5 29px,#000080 30px,#00008c 31px,#0057ed 32px,#4bf4b4 33px,#e2f11d 34px,#ff9e00 35px,#ff6600 36px,#ff5c00 37px,#ff7400 38px,#ffa500 39px,#fde402 40px,#d0ff2f 41px,#47ffb8 43px,#12feed 44px,#00e7ff 45px,#00ceff 46px,#00c5ff 47px,#00cbff 48px,#03f9fc 50px,#4effb1 52px,#caff35 55px,#fdfc02 57px,#ffee00 59px,#fafe05 61px,#a7ff58 64px,#2cffd3 68px,#0bfff4 70px,#07fff8 72px,#34ffcb 75px,#cfff30 81px,#e9ff16 83px,#eaff15 85px,#c0ff3f 88px,#38ffc7 94px,#1dffe2 97px,#32ffcd 100px,#bfff40 107px,#dbff24 110px,#caff35 113px,#6eff91 118px,#3bffc4 121px,#2affd5 124px,#42ffbd 127px,#bbff44 134px,#d0ff2f 137px,#bfff40 140px,#41ffbe 148px,#33ffcc 151px,#57ffa8 155px,#b6ff49 161px,#c8ff37 164px,#b9ff46 167px,#47ffb8 175px,#3affc5 178px,#5affa5 182px,#b1ff4e 188px,#c3ff3c 191px,#abff54 195px,#4cffb3 202px,#3fffc0 205px,#5bffa4 209px,#b5ff4a 216px,#bdff42 219px)}
.l29{background:linear-gradient(90deg,#80ff80 0px,#80ff7f 27px,#93ff6c 28px,#94f16b 29px,#0932a7 30px,#000080 31px,#00018f 32px,#0267ee 33px,#60f89f 34px,#eee511 35px,#ff8b00 36px,#ff5b00 37px,#ff5900 38px,#ff7900 39px,#f7f008 41px,#bbff44 42px,#33ffcc 44px,#06f8f9 45px,#00c6ff 47px,#00c3ff 48px,#00cfff 49px,#00e8ff 50px,#0dfef2 51px,#dbff24 56px,#f6ff09 57px,#ffed00 59px,#fefa01 61px,#d6ff29 63px,#36ffc9 68px,#0ffff0 70px,#04fffb 72px,#2bffd4 75px,#c8ff37 81px,#e6ff19 83px,#ecff13 85px,#c7ff38 88px,#3dffc2 94px,#1dffe2 97px,#2effd1 100px,#7cff83 104px,#c9ff36 108px,#dbff24 111px,#c0ff3f 114px,#3effc1 121px,#2affd5 124px,#3fffc0 127px,#b8ff47 134px,#d0ff2f 137px,#c1ff3e 140px,#43ffbc 148px,#33ffcc 151px,#47ffb8 154px,#b4ff4b 161px,#c8ff37 164px,#baff45 167px,#48ffb7 175px,#3affc5 178px,#4cffb3 181px,#b9ff46 189px,#c2ff3d 192px,#a0ff5f 196px,#4dffb2 202px,#3fffc0 205px,#59ffa6 209px,#b4ff4b 216px,#beff41 219px)}
.l30{background:linear-gradient(90deg,#80ff80 0px,#80ff7f 28px,#93ff6c 29px,#8eed71 30px,#082ca7 31px,#000080 32px,#000291 33px,#0478ee 34px,#76fc89 35px,#f7d508 36px,#ff7900 37px,#ff5100 38px,#ff5800 39px,#ff8100 40px,#ffc000 41px,#edf912 42px,#5dffa2 44px,#1fffe0 45px,#01edfe 46px,#00cfff 47px,#00c1ff 48px,#00c4ff 49px,#01f2fe 51px,#1bffe4 52px,#c9ff36 56px,#eaff15 57px,#fefb01 58px,#ffeb00 60px,#fafe05 62px,#c6ff39 64px,#42ffbd 68px,#14ffeb 70px,#03fffc 72px,#11ffee 74px,#53ffac 77px,#c0ff3f 81px,#e3ff1c 83px,#edff12 85px,#ceff31 88px,#31ffce 95px,#1cffe3 98px,#38ffc7 101px,#c6ff39 108px,#dbff24 111px,#c4ff3b 114px,#41ffbe 121px,#2affd5 124px,#3cffc3 127px,#c2ff3d 135px,#d0ff2f 138px,#b8ff47 141px,#45ffba 148px,#33ffcc 151px,#45ffba 154px,#bdff42 162px,#c8ff37 165px,#a4ff5b 169px,#4affb5 175px,#3affc5 178px,#4affb5 181px,#b7ff48 189px,#c2ff3d 192px,#a2ff5d 196px,#4fffb0 202px,#3fffc0 205px,#57ffa8 209px,#b2ff4d 216px,#beff41 219px)}
.l31{background:linear-gradient(90deg,#80ff80 0px,#80ff7f 29px,#92ff6d 30px,#88ea75 31px,#072aa3 32px,#000080 33px,#000394 34px,#0887ed 35px,#8dfc72 36px,#fbc304 37px,#ff6900 38px,#ff4900 39px,#ff5900 40px,#ff8a00 41px,#ffcf00 42px,#defd21 43px,#48ffb7 45px,#0efdf1 46px,#00dfff 47px,#00c6ff 48px,#00beff 49px,#00c7ff 50px,#06faf9 52px,#daff25 57px,#f7ff08 58px,#ffeb00 60px,#fff800 62px,#f1ff0e 63px,#32ffcd 69px,#0bfff4 71px,#03fffc 73px,#1affe5 75px,#82ff7d 79px,#ceff31 82px,#e9ff16 84px,#ebff14 86px,#c1ff3e 89px,#36ffc9 95px,#1cffe3 98px,#33ffcc 101px,#c2ff3d 108px,#dbff24 111px,#c8ff37 114px,#45ffba 121px,#2affd5 124px,#39ffc6 127px,#c0ff3f 135px,#d0ff2f 138px,#bbff44 141px,#47ffb8 148px,#33ffcc 151px,#43ffbc 154px,#bbff44 162px,#c8ff37 165px,#b4ff4b 168px,#4cffb3 175px,#3affc5 178px,#48ffb7 181px,#b6ff49 189px,#c3ff3c 192px,#a4ff5b 196px,#47ffb8 203px,#40ffbf 206px,#62ff9d 210px,#b1ff4e 216px,#beff41 219px)}
.l32{background:linear-gradient(90deg,#80ff80 0px,#80ff7f 30px,#91ff6e 31px,#83e87a 32px,#0628a0 33px,#000080 34px,#000599 35px,#0d95eb 36px,#a3fb5c 37px,#feaf01 38px,#ff5a00 39px,#ff4300 40px,#ff5b00 41px,#ff9400 42px,#fdde02 43px,#cbff34 44px,#33ffcc 46px,#04f5fb 47px,#00d3ff 48px,#00beff 49px,#00bdff 50px,#00ccff 51px,#00e8ff 52px,#11feee 53px,#c7ff38 57px,#e9ff16 58px,#fefa01 59px,#ffe900 61px,#fbfd04 63px,#c6ff39 65px,#3effc1 69px,#11ffee 71px,#02fffd 73px,#12ffed 75px,#59ffa6 78px,#c6ff39 82px,#e7ff18 84px,#e7ff18 87px,#b3ff4c 90px,#3cffc3 95px,#1cffe3 98px,#2effd1 101px,#bdff42 108px,#dbff24 111px,#ccff33 114px,#3bffc4 122px,#2affd5 125px,#42ffbd 128px,#bdff42 135px,#d1ff2e 138px,#bdff42 141px,#4affb5 148px,#33ffcc 151px,#40ffbf 154px,#b9ff46 162px,#c9ff36 165px,#b6ff49 168px,#4effb1 175px,#3affc5 178px,#46ffb9 181px,#b5ff4a 189px,#c3ff3c 192px,#b2ff4d 195px,#48ffb7 203px,#3fffc0 206px,#60ff9f 210px,#b0ff4f 216px,#beff41 219px)}
.l33{background:linear-gradient(90deg,#80ff80 0px,#80ff7f 31px,#91ff6e 32px,#7ee67e 33px,#05259c 34px,#000080 35px,#00079e 36px,#13a5e7 37px,#b7f748 38px,#ff9c00 39px,#ff4c00 40px,#ff3e00 41px,#ff6000 42px,#f8eb07 44px,#b6ff49 45px,#20ffdf 47px,#01e9fe 48px,#00c8ff 49px,#00b9ff 50px,#00beff 51px,#02f3fd 53px,#21ffde 54px,#d8ff27 58px,#f6fe09 59px,#ffe800 61px,#fff600 63px,#f3ff0c 64px,#2fffd0 70px,#09fff6 72px,#03fffc 74px,#1cffe3 76px,#87ff78 80px,#d3ff2c 83px,#ecff13 85px,#ebff14 87px,#bbff44 90px,#42ffbd 95px,#1dffe2 98px,#20ffdf 100px,#4bffb4 103px,#b8ff47 108px,#daff25 111px,#cfff30 114px,#89ff76 118px,#3effc1 122px,#29ffd6 125px,#3fffc0 128px,#baff45 135px,#d1ff2e 138px,#c0ff3f 141px,#41ffbe 149px,#33ffcc 152px,#49ffb6 155px,#b7ff48 162px,#c9ff36 165px,#b8ff47 168px,#45ffba 176px,#3affc5 179px,#5cffa3 183px,#b3ff4c 189px,#c3ff3c 192px,#b3ff4c 195px,#4affb5 203px,#3fffc0 206px,#5effa1 210px,#afff50 216px,#beff41 219px)}
.l34{background:linear-gradient(90deg,#80ff80 0px,#80ff7f 32px,#90ff6f 33px,#78e382 34px,#052399 35px,#000080 36px,#000ba1 37px,#1cb2de 38px,#c9f036 39px,#ff8800 40px,#ff4000 41px,#ff3c00 42px,#ff6600 43px,#ffae00 44px,#eff410 45px,#50ffaf 47px,#10fcef 48px,#00dbff 49px,#00beff 50px,#00b6ff 51px,#00c1ff 52px,#08faf7 54px,#c2ff3d 58px,#e7ff18 59px,#fdfa02 60px,#ffe600 62px,#fdfb02 64px,#c8ff37 66px,#3cffc3 70px,#0efff1 72px,#00ffff 74px,#13ffec 76px,#5dffa2 79px,#cbff34 83px,#eaff15 85px,#edff12 87px,#c4ff3b 90px,#36ffc9 96px,#1effe1 98px,#1dffe2 100px,#45ffba 103px,#c4ff3b 109px,#dcff23 112px,#c6ff39 115px,#42ffbd 122px,#29ffd6 125px,#3bffc4 128px,#c3ff3c 136px,#d0ff2f 139px,#b7ff48 142px,#43ffbc 149px,#33ffcc 152px,#47ffb8 155px,#bfff40 163px,#c8ff37 166px,#a0ff5f 170px,#47ffb8 176px,#39ffc6 179px,#59ffa6 183px,#b1ff4e 189px,#c3ff3c 192px,#b5ff4a 195px,#4bffb4 203px,#3fffc0 206px,#50ffaf 209px,#b6ff49 217px,#beff41 219px)}
.l35{background:linear-gradient(90deg,#80ff80 0px,#80ff7f 33px,#8fff70 34px,#73e185 35px,#042195 36px,#000080 37px,#000fa5 38px,#26bfd6 39px,#d8e727 40px,#ff7500 41px,#ff3600 42px,#ff3a00 43px,#ff6d00 44px,#ffbc00 45px,#e2fa1d 46px,#3cffc3 48px,#06f5f9 49px,#00ceff 50px,#00b7ff 51px,#00b5ff 52px,#00c6ff 53px,#00e6ff 54px,#13feec 55px,#d3ff2c 59px,#f4ff0b 60px,#ffe600 62px,#fff200 64px,#f6fe09 65px,#6eff91 69px,#2dffd2 71px,#07fff8 73px,#02fffd 75px,#1dffe2 77px,#c2ff3d 83px,#e6ff19 85px,#efff10 87px,#deff21 89px,#83ff7c 93px,#3cffc3 96px,#1bffe4 99px,#22ffdd 101px,#52ffad 104px,#bfff40 109px,#dcff23 112px,#cbff34 115px,#38ffc7 123px,#29ffd6 126px,#45ffba 129px,#c0ff3f 136px,#d1ff2e 139px,#baff45 142px,#46ffb9 149px,#32ffcd 152px,#44ffbb 155px,#bdff42 163px,#c8ff37 166px,#a4ff5b 170px,#49ffb6 176px,#39ffc6 179px,#57ffa8 183px,#b9ff46 190px,#c2ff3d 193px,#a0ff5f 197px,#4dffb2 203px,#3fffc0 206px,#4fffb0 209px,#b5ff4a 217px,#beff41 219px)}
.l36{background:linear-gradient(90deg,#80ff80 0px,#80ff7f 34px,#8eff71 35px,#6edf8a 36px,#031f94 37px,#000080 38px,#0013a8 39px,#31cacc 40px,#e3db1c 41px,#ff6300 42px,#ff2d00 43px,#ff3b00 44px,#ff7600 45px,#fecb01 46px,#d2fe2d 47px,#28ffd7 49px,#01e9fe 50px,#00c3ff 51px,#00b2ff 52px,#00b6ff 53px,#00cdff 54px,#02f1fd 55px,#22ffdd 56px,#baff45 59px,#e2ff1d 60px,#fdfb02 61px,#ffe300 63px,#fef801 65px,#ebff14 66px,#3bffc4 71px,#0dfff2 73px,#00feff 75px,#13ffec 77px,#60ff9f 80px,#cfff30 84px,#ecff13 86px,#edff12 88px,#d4ff2b 90px,#31ffce 97px,#1cffe3 99px,#1fffe0 101px,#4bffb4 104px,#b9ff46 109px,#dbff24 112px,#cfff30 115px,#86ff79 119px,#3bffc4 123px,#29ffd6 126px,#41ffbe 129px,#bdff42 136px,#d1ff2e 139px,#bdff42 142px,#3dffc2 150px,#33ffcc 153px,#4effb1 156px,#bbff44 163px,#c9ff36 166px,#a7ff58 170px,#4bffb4 176px,#39ffc6 179px,#49ffb6 182px,#b7ff48 190px,#c3ff3c 193px,#a2ff5d 197px,#4effb1 203px,#3effc1 206px,#58ffa7 210px,#b3ff4c 217px,#beff41 219px)}
.l37{background:linear-gradient(90deg,#80ff80 0px,#80ff7f 35px,#8eff71 36px,#68dd8f 37px,#021d95 38px,#000080 39px,#0017ac 40px,#41d1be 41px,#edcd12 42px,#ff5200 43px,#ff2500 44px,#ff3d00 45px,#ff8100 46px,#fcd903 47px,#bfff40 48px,#63ff9c 49px,#17fde8 50px,#00dbff 51px,#00b9ff 52px,#00aeff 53px,#00b9ff 54px,#07f9f8 56px,#cbff34 60px,#f1ff0e 61px,#fff300 62px,#ffe300 64px,#fafd05 66px,#95ff6a 69px,#2dffd2 72px,#05fffa 74px,#01fefe 76px,#1dffe2 78px,#c6ff39 84px,#e9ff16 86px,#f0ff0f 88px,#c9ff36 91px,#37ffc8 97px,#1affe5 100px,#32ffcd 103px,#c5ff3a 110px,#ddff22 113px,#c6ff39 116px,#3fffc0 123px,#28ffd7 126px,#3dffc2 129px,#baff45 136px,#d1ff2e 139px,#c1ff3e 142px,#40ffbf 150px,#33ffcc 153px,#4affb5 156px,#b9ff46 163px,#c9ff36 166px,#b6ff49 169px,#43ffbc 177px,#3affc5 180px,#5fffa0 184px,#b6ff49 190px,#c3ff3c 193px,#a5ff5a 197px,#50ffaf 203px,#3effc1 206px,#56ffa9 210px,#b2ff4d 217px,#bdff42 219px)}
.l38{background:linear-gradient(90deg,#80ff80 0px,#80ff7f 36px,#8dff72 37px,#63db94 38px,#011a96 39px,#000080 40px,#001cb1 41px,#50d9af 42px,#f3bc0c 43px,#ff4200 44px,#ff1f00 45px,#ff4000 46px,#ff8c00 47px,#f7e508 48px,#abff54 49px,#4effb1 50px,#0bf7f4 51px,#00cdff 52px,#00b1ff 53px,#00adff 54px,#00beff 55px,#00e0ff 56px,#11fdee 57px,#afff50 60px,#dbff24 61px,#fafc05 62px,#ffe100 64px,#fff400 66px,#f1ff0e 67px,#3cffc3 72px,#0bfff4 74px,#00fcff 76px,#13ffec 78px,#61ff9e 81px,#d2ff2d 85px,#eeff11 87px,#edff12 89px,#bcff43 92px,#3effc1 97px,#1affe5 100px,#2cffd3 103px,#bfff40 110px,#ddff22 113px,#cbff34 116px,#44ffbb 123px,#29ffd6 126px,#39ffc6 129px,#c3ff3c 137px,#d1ff2e 140px,#b7ff48 143px,#42ffbd 150px,#32ffcd 153px,#47ffb8 156px,#b6ff49 163px,#c9ff36 166px,#b9ff46 169px,#45ffba 177px,#39ffc6 180px,#5cffa3 184px,#b4ff4b 190px,#c3ff3c 193px,#b3ff4c 196px,#48ffb7 204px,#3fffc0 207px,#60ff9f 211px,#b0ff4f 217px,#bdff42 219px)}
.l39{background:linear-gradient(90deg,#80ff80 0px,#80ff7f 37px,#8cff73 38px,#5ed999 39px,#011897 40px,#000080 41px,#0024b5 42px,#5ee1a1 43px,#f8ab07 44px,#ff3300 45px,#ff1a00 46px,#ff4500 47px,#ff9900 48px,#eff010 49px,#97ff68 50px,#3affc5 51px,#04edfb 52px,#00c1ff 53px,#00abff 54px,#00adff 55px,#00c4ff 56px,#01ebfe 57px,#1fffe0 58px,#c0ff3f 61px,#eaff15 62px,#fff500 63px,#ffe400 64px,#ffe800 66px,#fdfa02 67px,#c1ff3e 69px,#2dffd2 73px,#04fffb 75px,#00fdff 77px,#1cffe3 79px,#c9ff36 85px,#ebff14 87px,#f0ff0f 89px,#c6ff39 92px,#46ffb9 97px,#1bffe4 100px,#26ffd9 103px,#76ff89 107px,#caff35 111px,#ddff22 114px,#c1ff3e 117px,#3affc5 124px,#28ffd7 127px,#42ffbd 130px,#c0ff3f 137px,#d1ff2e 140px,#bbff44 143px,#45ffba 150px,#32ffcd 153px,#44ffbb 156px,#beff41 164px,#c8ff37 167px,#a2ff5d 171px,#47ffb8 177px,#39ffc6 180px,#59ffa6 184px,#b2ff4d 190px,#c3ff3c 193px,#b5ff4a 196px,#4affb5 204px,#3fffc0 207px,#5dffa2 211px,#afff50 217px,#bcff43 219px)}
.l40{background:linear-gradient(90deg,#80ff80 0px,#80ff7f 38px,#8cff73 39px,#59d69e 40px,#001697 41px,#000080 42px,#002cba 43px,#6fe590 44px,#fb9904 45px,#ff2600 46px,#ff1600 47px,#ff4b00 48px,#ffa700 49px,#e3f71c 50px,#28fed7 52px,#01e0fe 53px,#00b6ff 54px,#00a7ff 55px,#00afff 56px,#04f4fb 58px,#2fffd0 59px,#d1ff2e 62px,#f6fd09 63px,#ffdf00 65px,#ffe000 66px,#f6fe09 68px,#88ff77 71px,#20ffdf 74px,#00fdff 76px,#03fefc 78px,#28ffd7 80px,#beff41 85px,#e6ff19 87px,#f2ff0d 89px,#e1ff1e 91px,#9fff60 94px,#3affc5 98px,#19ffe6 101px,#22ffdd 103px,#56ffa9 106px,#c5ff3a 111px,#deff21 114px,#c7ff38 117px,#3effc1 124px,#28ffd7 127px,#3effc1 130px,#bcff43 137px,#d2ff2d 140px,#bfff40 143px,#49ffb6 150px,#32ffcd 153px,#41ffbe 156px,#bcff43 164px,#c9ff36 167px,#b3ff4c 170px,#49ffb6 177px,#39ffc6 180px,#4affb5 183px,#b9ff46 191px,#c3ff3c 194px,#9fff60 198px,#4cffb3 204px,#3effc1 207px,#5bffa4 211px,#b6ff49 218px,#bcff43 219px)}
.l41{background:linear-gradient(90deg,#80ff80 0px,#80ff7f 39px,#8bff74 40px,#55d3a2 41px,#001397 42px,#000080 43px,#0233bd 44px,#7fe580 45px,#fd8602 46px,#ff1a00 47px,#ff1400 48px,#ff5200 49px,#ffb500 50px,#d4fb2b 51px,#6eff91 52px,#18fce7 53px,#00d2ff 54px,#00adff 55px,#00a4ff 56px,#00b3ff 57px,#0cfbf3 59px,#b2ff4d 62px,#e1ff1e 63px,#fdf802 64px,#ffdc00 66px,#fef501 68px,#ecff13 69px,#2fffd0 74px,#03fffc 76px,#00fbff 78px,#1bffe4 80px,#cbff34 86px,#edff12 88px,#f1ff0e 90px,#d8ff27 92px,#2fffd0 99px,#1affe5 101px,#1effe1 103px,#4dffb2 106px,#bfff40 111px,#deff21 114px,#ccff33 117px,#43ffbc 124px,#28ffd7 127px,#39ffc6 130px,#c5ff3a 138px,#d1ff2e 141px,#b5ff4a 144px,#40ffbf 151px,#32ffcd 154px,#4affb5 157px,#b9ff46 164px,#c9ff36 167px,#b6ff49 170px,#4cffb3 177px,#39ffc6 180px,#48ffb7 183px,#b8ff47 191px,#c3ff3c 194px,#afff50 197px,#4effb1 204px,#3effc1 207px,#4effb1 210px,#b4ff4b 218px,#bbff44 219px)}
.l42{background:linear-gradient(90deg,#80ff80 0px,#80ff7f 40px,#8aff75 41px,#52cfa5 42px,#001197 43px,#000080 44px,#033ac0 45px,#8ee571 46px,#fe7401 47px,#ff0f00 48px,#ff1400 49px,#ff5b00 50px,#fec401 51px,#c4fe3b 52px,#5affa5 53px,#0cf5f3 54px,#00c5ff 55px,#00a6ff 56px,#00a3ff 57px,#00b8ff 58px,#00e1ff 59px,#18fee7 60px,#c3ff3c 63px,#efff10 64px,#ffef00 65px,#ffde00 66px,#ffdc00 67px,#fbfb04 69px,#b8ff47 71px,#41ffbe 74px,#0bfff4 76px,#00f9ff 78px,#01fdfe 79px,#26ffd9 81px,#bfff40 86px,#e8ff17 88px,#f3ff0c 90px,#e1ff1e 92px,#80ff7f 96px,#36ffc9 99px,#1cffe3 101px,#1affe5 103px,#45ffba 106px,#c9ff36 112px,#ddff22 114px,#d1ff2e 117px,#86ff79 121px,#39ffc6 125px,#28ffd7 128px,#43ffbc 131px,#c1ff3e 138px,#d2ff2d 141px,#b9ff46 144px,#43ffbc 151px,#32ffcd 154px,#46ffb9 157px,#b7ff48 164px,#caff35 167px,#b9ff46 170px,#44ffbb 178px,#39ffc6 181px,#50ffaf 184px,#b6ff49 191px,#c3ff3c 194px,#a5ff5a 198px,#50ffaf 204px,#3effc1 207px,#56ffa9 211px,#b3ff4c 218px,#baff45 219px)}
.l43{background:linear-gradient(90deg,#80ff80 0px,#80ff7f 41px,#8aff75 42px,#4fcba8 43px,#000e97 44px,#000080 45px,#0541c4 46px,#9de562 47px,#ff6100 48px,#fd0700 49px,#fe1500 50px,#ff6500 51px,#fbd104 52px,#b1ff4e 53px,#46ffb9 54px,#05ebfa 55px,#00b9ff 56px,#00a0ff 57px,#00a4ff 58px,#00bfff 59px,#02ebfd 60px,#27ffd8 61px,#d4ff2b 64px,#f9fb06 65px,#ffda00 67px,#ffdd00 68px,#f4fe0b 70px,#32ffcd 75px,#03fefc 77px,#00f9ff 79px,#05fffa 80px,#32ffcd 82px,#ccff33 87px,#eeff11 89px,#f2ff0d 91px,#c2ff3d 94px,#3fffc0 99px,#1fffe0 101px,#18ffe7 103px,#3cffc3 106px,#c3ff3c 112px,#dfff20 115px,#c8ff37 118px,#3effc1 125px,#27ffd8 128px,#3effc1 131px,#beff41 138px,#d2ff2d 141px,#beff41 144px,#46ffb9 151px,#31ffce 154px,#43ffbc 157px,#bfff40 165px,#c9ff36 168px,#b0ff4f 171px,#46ffb9 178px,#39ffc6 181px,#4effb1 184px,#b3ff4c 191px,#c4ff3b 194px,#a8ff57 198px,#48ffb7 205px,#3fffc0 208px,#60ff9f 212px,#b1ff4e 218px,#b9ff46 219px)}
.l44{background:linear-gradient(90deg,#80ff80 0px,#80ff7f 42px,#89ff76 43px,#4dc8aa 44px,#000d96 45px,#000080 46px,#0648c7 47px,#a9e056 48px,#ff4f00 49px,#f80300 50px,#fd1800 51px,#ff7000 52px,#f6de09 53px,#9eff61 54px,#33fecc 55px,#01dffe 56px,#00aeff 57px,#009bff 58px,#00a6ff 59px,#06f4f9 61px,#76ff89 63px,#e3ff1c 65px,#fef401 66px,#ffdf00 67px,#ffd800 68px,#fef401 70px,#e9ff16 71px,#24ffdb 76px,#0bfff4 77px,#00f7ff 79px,#0cfff3 81px,#60ff9f 84px,#c0ff3f 87px,#e9ff16 89px,#f4ff0b 91px,#e1ff1e 93px,#7dff82 97px,#33ffcc 100px,#1affe5 102px,#1bffe4 104px,#48ffb7 107px,#bdff42 112px,#deff21 115px,#ceff31 118px,#43ffbc 125px,#27ffd8 128px,#39ffc6 131px,#b9ff46 138px,#d2ff2d 141px,#c1ff3e 144px,#3effc1 152px,#32ffcd 155px,#4cffb3 158px,#bcff43 165px,#caff35 168px,#b3ff4c 171px,#48ffb7 178px,#38ffc7 181px,#4bffb4 184px,#bbff44 192px,#c2ff3d 195px,#abff54 198px,#4affb5 205px,#3effc1 208px,#5dffa2 212px,#b8ff47 219px)}
.l45{background:linear-gradient(90deg,#80ff80 0px,#80ff7f 43px,#88ff77 44px,#4ac5ab 45px,#000c94 46px,#000080 47px,#0b51c5 48px,#b7d948 49px,#fe3e00 50px,#f30100 51px,#fd1b00 52px,#ff7c00 53px,#efe810 54px,#8aff75 55px,#22fcdd 56px,#00d1ff 57px,#00a4ff 58px,#0099ff 59px,#00aaff 60px,#00d1ff 61px,#0efaf1 62px,#c2ff3d 65px,#f1fe0e 66px,#ffeb00 67px,#ffd900 68px,#ffd700 69px,#fbfa04 71px,#b3ff4c 73px,#37ffc8 76px,#04fefb 78px,#00f7ff 80px,#03fefc 81px,#2fffd0 83px,#cdff32 88px,#f0ff0f 90px,#f3ff0c 92px,#d7ff28 94px,#3cffc3 100px,#1dffe2 102px,#18ffe7 104px,#3fffc0 107px,#c7ff38 113px,#dfff20 116px,#c5ff3a 119px,#39ffc6 126px,#27ffd8 129px,#42ffbd 132px,#c3ff3c 139px,#d2ff2d 142px,#b8ff47 145px,#41ffbe 152px,#31ffce 155px,#48ffb7 158px,#b9ff46 165px,#caff35 168px,#b6ff49 171px,#4bffb4 178px,#38ffc7 181px,#48ffb7 184px,#b9ff46 192px,#c3ff3c 195px,#adff52 198px,#4cffb3 205px,#3effc1 208px,#4fffb0 211px,#b6ff49 219px)}
.l46{background:linear-gradient(90deg,#80ff80 0px,#80ff7f 44px,#88ff77 45px,#47c3ab 46px,#000c92 47px,#000080 48px,#0f5ac1 49px,#c4d23b 50px,#fc2f00 51px,#ed0000 52px,#fc2000 53px,#ff8800 54px,#e5f01a 55px,#76ff89 56px,#15f8ea 57px,#00c3ff 58px,#009cff 59px,#0097ff 60px,#00afff 61px,#00dcff 62px,#1afee5 63px,#d3ff2c 66px,#fafa05 67px,#ffd500 69px,#ffd900 70px,#f3fe0c 72px,#29ffd6 77px,#0dfff2 78px,#00fbff 79px,#00f9ff 81px,#09fff6 82px,#5dffa2 85px,#c0ff3f 88px,#eaff15 90px,#f6ff09 92px,#e1ff1e 94px,#7bff84 98px,#31ffce 101px,#18ffe7 103px,#1bffe4 105px,#4bffb4 108px,#c1ff3e 113px,#dfff20 116px,#cbff34 119px,#3effc1 126px,#27ffd8 129px,#3dffc2 132px,#bfff40 139px,#d3ff2c 142px,#bdff42 145px,#44ffbb 152px,#31ffce 155px,#45ffba 158px,#c1ff3e 166px,#c9ff36 169px,#adff52 172px,#43ffbc 179px,#39ffc6 182px,#5effa1 186px,#b7ff48 192px,#c4ff3b 195px,#a4ff5b 199px,#4effb1 205px,#3effc1 208px,#58ffa7 212px,#b5ff4a 219px)}
.l47{background:linear-gradient(90deg,#80ff80 0px,#80ff7f 45px,#87ff78 46px,#44c1ac 47px,#000b90 48px,#000080 49px,#1464bf 50px,#cdc732 51px,#f92300 52px,#e80000 53px,#fc2500 54px,#ff9600 55px,#d8f627 56px,#62ff9d 57px,#0bf0f4 58px,#00b6ff 59px,#0096ff 60px,#0098ff 61px,#00b6ff 62px,#02e7fd 63px,#29ffd6 64px,#acff53 66px,#e2ff1d 67px,#fef201 68px,#ffdb00 69px,#ffd300 70px,#ffdc00 71px,#fef301 72px,#e9ff16 73px,#3dffc2 77px,#05fefa 79px,#00f4ff 81px,#01fcfe 82px,#2bffd4 84px,#ccff33 89px,#f1ff0e 91px,#f4ff0b 93px,#c1ff3e 96px,#39ffc6 101px,#1bffe4 103px,#17ffe8 105px,#41ffbe 108px,#b9ff46 113px,#dfff20 116px,#d0ff2f 119px,#82ff7d 123px,#35ffca 127px,#27ffd8 130px,#47ffb8 133px,#baff45 139px,#d3ff2c 142px,#c1ff3e 145px,#48ffb7 152px,#31ffce 155px,#41ffbe 158px,#beff41 166px,#c9ff36 169px,#b1ff4e 172px,#46ffb9 179px,#38ffc7 182px,#4effb1 185px,#b4ff4b 192px,#c4ff3b 195px,#b3ff4c 198px,#47ffb8 206px,#3fffc0 209px,#62ff9d 213px,#b3ff4c 219px)}
.l48{background:linear-gradient(90deg,#80ff80 0px,#80ff7f 46px,#86ff79 47px,#42bfad 48px,#000a8e 49px,#000081 50px,#186ebe 51px,#d4bb2b 52px,#f51800 53px,#e30100 54px,#fd2c00 55px,#fea401 56px,#c9fa36 57px,#4effb1 58px,#05e5fa 59px,#00aaff 60px,#0091ff 61px,#0099ff 62px,#00beff 63px,#05f0fa 64px,#39ffc6 65px,#bdff42 67px,#effe10 68px,#ffe800 69px,#ffd500 70px,#ffd300 71px,#fbf904 73px,#afff50 75px,#2fffd0 78px,#11ffee 79px,#01fbfe 80px,#00f6ff 82px,#05fefa 83px,#38ffc7 85px,#beff41 89px,#ebff14 91px,#f7ff08 93px,#e2ff1d 95px,#7aff85 99px,#2fffd0 102px,#17ffe8 104px,#1bffe4 106px,#4effb1 109px,#c4ff3b 114px,#ddff22 116px,#d6ff29 119px,#8bff74 123px,#3affc5 127px,#26ffd9 130px,#41ffbe 133px,#c3ff3c 140px,#d3ff2c 143px,#b8ff47 146px,#40ffbf 153px,#31ffce 156px,#4affb5 159px,#bbff44 166px,#caff35 169px,#b4ff4b 172px,#48ffb7 179px,#38ffc7 182px,#4bffb4 185px,#bbff44 193px,#c3ff3c 196px,#9cff63 200px,#49ffb6 206px,#3effc1 209px,#5fffa0 213px,#b1ff4e 219px)}
.l49{background:linear-gradient(90deg,#80ff80 0px,#80ff7f 47px,#86ff79 48px,#3fbdae 49px,#000a8c 50px,#000083 51px,#1d77be 52px,#dcaf23 53px,#ee1100 54px,#e00100 55px,#fd3300 56px,#fdb202 57px,#b9fd46 58px,#3cfec3 59px,#01d8fe 60px,#00a0ff 61px,#008dff 62px,#009dff 63px,#0cf7f3 65px,#cdff32 68px,#f9fa06 69px,#ffdf00 70px,#ffd100 71px,#ffd400 72px,#f5fd0a 74px,#46ffb9 78px,#07fff8 80px,#00f2ff 82px,#0cfff3 84px,#68ff97 87px,#cbff34 90px,#f1ff0e 92px,#f5ff0a 94px,#d9ff26 96px,#38ffc7 102px,#1affe5 104px,#17ffe8 106px,#43ffbc 109px,#bcff43 114px,#e0ff1f 117px,#ceff31 120px,#3fffc0 127px,#26ffd9 130px,#3bffc4 133px,#bfff40 140px,#d3ff2c 143px,#bdff42 146px,#43ffbc 153px,#31ffce 156px,#45ffba 159px,#b8ff47 166px,#caff35 169px,#b8ff47 172px,#41ffbe 180px,#39ffc6 183px,#62ff9d 187px,#b9ff46 193px,#c3ff3c 196px,#adff52 199px,#4bffb4 206px,#3effc1 209px,#5cffa3 213px,#afff50 219px)}
.l50{background:linear-gradient(90deg,#80ff80 0px,#85ff7a 49px,#3cbbaf 50px,#00098a 51px,#000084 52px,#247eba 53px,#e4a21b 54px,#e70a00 55px,#de0100 56px,#fe3b00 57px,#fbc004 58px,#a7fe58 59px,#2bfcd4 60px,#00caff 61px,#0097ff 62px,#008bff 63px,#00a1ff 64px,#00d2ff 65px,#17fce8 66px,#a1ff5e 68px,#ddff22 69px,#fdf202 70px,#ffd800 71px,#ffce00 72px,#ffd700 73px,#ffef00 74px,#eaff15 75px,#37ffc8 79px,#16ffe9 80px,#02fcfd 81px,#00f2ff 83px,#02fcfd 84px,#32ffcd 86px,#bcff43 90px,#ebff14 92px,#f8ff07 94px,#e4ff1b 96px,#97ff68 99px,#2dffd2 103px,#16ffe9 105px,#1bffe4 107px,#50ffaf 110px,#c7ff38 115px,#e1ff1e 118px,#c6ff39 121px,#46ffb9 127px,#26ffd9 130px,#36ffc9 133px,#baff45 140px,#d3ff2c 143px,#c2ff3d 146px,#47ffb8 153px,#30ffcf 156px,#41ffbe 159px,#c0ff3f 167px,#c9ff36 170px,#afff50 173px,#44ffbb 180px,#39ffc6 183px,#50ffaf 186px,#b7ff48 193px,#c4ff3b 196px,#b0ff4f 199px,#4dffb2 206px,#3effc1 209px,#4effb1 212px,#adff52 219px)}
.l51{background:linear-gradient(90deg,#80ff80 0px,#84ff7b 50px,#3ab9af 51px,#000889 52px,#000085 53px,#2c83b6 54px,#e89217 55px,#de0700 56px,#dc0200 57px,#fe4400 58px,#f7cd08 59px,#94ff6b 60px,#1df8e2 61px,#00bcff 62px,#008fff 63px,#008aff 64px,#00a7ff 65px,#01ddfe 66px,#24fedb 67px,#b2ff4d 69px,#ebfe14 70px,#ffe800 71px,#ffd100 72px,#ffcd00 73px,#ffdb00 74px,#fdf602 75px,#deff21 76px,#29ffd6 80px,#0bfff4 81px,#00f0ff 83px,#07fef8 85px,#3fffc0 87px,#c9ff36 91px,#f2ff0d 93px,#f7ff08 95px,#dbff24 97px,#37ffc8 103px,#18ffe7 105px,#16ffe9 107px,#45ffba 110px,#bfff40 115px,#dcff23 117px,#d9ff26 120px,#a7ff58 123px,#3cffc3 128px,#25ffda 131px,#3fffc0 134px,#c3ff3c 141px,#d3ff2c 144px,#b9ff46 147px,#3fffc0 154px,#31ffce 157px,#4affb5 160px,#bdff42 167px,#caff35 170px,#b3ff4c 173px,#46ffb9 180px,#38ffc7 183px,#4dffb2 186px,#b4ff4b 193px,#c4ff3b 196px,#b3ff4c 199px,#46ffb9 207px,#3fffc0 210px,#63ff9c 214px,#aaff55 219px)}
.l52{background:linear-gradient(90deg,#80ff80 0px,#84ff7b 51px,#37b7b0 52px,#000887 53px,#000086 54px,#3387b2 55px,#eb8312 56px,#d60400 57px,#dc0300 58px,#fe4f00 59px,#f1d80e 60px,#81ff7e 61px,#12f1ed 62px,#00afff 63px,#0088ff 64px,#008aff 65px,#00aeff 66px,#03e7fc 67px,#33ffcc 68px,#c3ff3c 70px,#f6fb09 71px,#ffcd00 73px,#ffce00 74px,#f7fb08 76px,#9fff60 78px,#42ffbd 80px,#04fdfb 82px,#00efff 84px,#00f8ff 85px,#0efff1 86px,#d5ff2a 92px,#f7ff08 94px,#f4ff0b 96px,#d1ff2e 98px,#42ffbd 103px,#1dffe2 105px,#14ffeb 107px,#27ffd8 109px,#c9ff36 116px,#e0ff1f 118px,#ddff22 120px,#b0ff4f 123px,#42ffbd 128px,#25ffda 131px,#39ffc6 134px,#beff41 141px,#d4ff2b 144px,#beff41 147px,#43ffbc 154px,#30ffcf 157px,#46ffb9 160px,#b9ff46 167px,#cbff34 170px,#b7ff48 173px,#49ffb6 180px,#38ffc7 183px,#49ffb6 186px,#b1ff4e 193px,#c4ff3b 196px,#b6ff49 199px,#48ffb7 207px,#3effc1 210px,#60ff9f 214px,#a8ff57 219px)}
.l53{background:linear-gradient(90deg,#80ff80 0px,#83ff7c 52px,#35b5b2 53px,#000787 54px,#000087 55px,#3a8ead 56px,#ee740e 57px,#cd0200 58px,#db0500 59px,#fe5a00 60px,#eae215 61px,#6dff92 62px,#0ae8f5 63px,#00a3ff 64px,#0083ff 65px,#008cff 66px,#00b7ff 67px,#07f0f8 68px,#44ffbb 69px,#d3ff2c 71px,#fcf403 72px,#ffd600 73px,#ffc900 74px,#ffd100 75px,#ffe900 76px,#effe10 77px,#33ffcc 81px,#11ffee 82px,#00f8ff 83px,#00eeff 84px,#03fcfc 86px,#37ffc8 88px,#c6ff39 92px,#f1ff0e 94px,#f9ff06 96px,#ddff22 98px,#36ffc9 104px,#17ffe8 106px,#16ffe9 108px,#45ffba 111px,#c1ff3e 116px,#e2ff1d 119px,#cbff34 122px,#39ffc6 129px,#25ffda 132px,#42ffbd 135px,#b9ff46 141px,#d4ff2b 144px,#c3ff3c 147px,#3bffc4 155px,#31ffce 158px,#4fffb0 161px,#b6ff49 167px,#cbff34 170px,#baff45 173px,#42ffbd 181px,#39ffc6 184px,#52ffad 187px,#b9ff46 194px,#c4ff3b 197px,#a0ff5f 201px,#4affb5 207px,#3dffc2 210px,#5cffa3 214px,#a5ff5a 219px)}
.l54{background:linear-gradient(90deg,#80ff80 0px,#82ff7d 53px,#32b3b5 54px,#000687 55px,#000187 56px,#4296a5 57px,#f0680a 58px,#c50100 59px,#dc0600 60px,#ff6500 61px,#e0ea1f 62px,#5affa5 63px,#05dcfa 64px,#0098ff 65px,#007eff 66px,#008fff 67px,#00c0ff 68px,#0ff7f0 69px,#e2ff1d 72px,#feeb01 73px,#ffcf00 74px,#ffc800 75px,#ffd400 76px,#fef001 77px,#e3ff1c 78px,#4fffb0 81px,#08fef7 83px,#00edff 85px,#07fef8 87px,#6aff95 90px,#d2ff2d 93px,#f7ff08 95px,#f6ff09 97px,#d4ff2b 99px,#42ffbd 104px,#1cffe3 106px,#13ffec 108px,#27ffd8 110px,#cbff34 117px,#e1ff1e 119px,#d2ff2d 122px,#3fffc0 129px,#24ffdb 132px,#3bffc4 135px,#c2ff3d 142px,#d4ff2b 145px,#baff45 148px,#3fffc0 155px,#30ffcf 158px,#4affb5 161px,#beff41 168px,#cbff34 171px,#b2ff4d 174px,#45ffba 181px,#38ffc7 184px,#4effb1 187px,#b6ff49 194px,#c4ff3b 197px,#b1ff4e 200px,#4dffb2 207px,#3dffc2 210px,#59ffa6 214px,#a2ff5d 219px)}
.l55{background:linear-gradient(90deg,#80ff80 0px,#82ff7d 54px,#30b2b7 55px,#000687 56px,#000387 57px,#499e9f 58px,#f05a07 59px,#bd0000 60px,#de0800 61px,#ff7200 62px,#d4f02b 63px,#48feb7 64px,#02d0fd 65px,#008eff 66px,#007cff 67px,#0093ff 68px,#00cbff 69px,#19fbe6 70px,#b1ff4e 72px,#eefd11 73px,#ffe100 74px,#ffca00 75px,#ffc800 76px,#fbf704 78px,#d6ff29 79px,#40ffbf 82px,#19ffe6 83px,#02fbfd 84px,#00edff 86px,#00f8ff 87px,#0ffff0 88px,#c1ff3e 93px,#f1ff0e 95px,#fbff04 97px,#e1ff1e 99px,#36ffc9 105px,#17ffe8 107px,#15ffea 109px,#30ffcf 111px,#c3ff3c 117px,#deff21 119px,#e0ff1f 121px,#b7ff48 124px,#46ffb9 129px,#25ffda 132px,#35ffca 135px,#bcff43 142px,#d5ff2a 145px,#c0ff3f 148px,#43ffbc 155px,#30ffcf 158px,#45ffba 161px,#baff45 168px,#cbff34 171px,#b6ff49 174px,#48ffb7 181px,#37ffc8 184px,#4bffb4 187px,#b3ff4c 194px,#c5ff3a 197px,#b4ff4b 200px,#46ffb9 208px,#3effc1 211px,#63ff9c 215px,#9eff61 219px)}
.l56{background:linear-gradient(90deg,#80ff80 0px,#81ff7e 55px,#2db0ba 56px,#000587 57px,#000487 58px,#4ea299 59px,#ed4d06 60px,#b50000 61px,#df0b00 62px,#ff8000 63px,#c7f638 64px,#38fcc7 65px,#01c2fe 66px,#0085ff 67px,#007aff 68px,#0099ff 69px,#01d5fe 70px,#26fed9 71px,#c2ff3d 73px,#f7f808 74px,#ffd700 75px,#ffc500 76px,#ffc900 77px,#f4fc0b 79px,#32ffcd 83px,#0efff1 84px,#00f5ff 85px,#00ebff 86px,#03fbfc 88px,#3bffc4 90px,#ceff31 94px,#f7ff08 96px,#f9ff06 98px,#d7ff28 100px,#2cffd3 106px,#13ffec 108px,#18ffe7 110px,#52ffad 113px,#baff45 117px,#dbff24 119px,#e3ff1c 121px,#c0ff3f 124px,#3cffc3 130px,#24ffdb 133px,#3effc1 136px,#c5ff3a 143px,#d4ff2b 146px,#b7ff48 149px,#48ffb7 155px,#2fffd0 158px,#41ffbe 161px,#b6ff49 168px,#cbff34 171px,#baff45 174px,#4bffb4 181px,#37ffc8 184px,#47ffb8 187px,#bbff44 195px,#c4ff3b 198px,#9eff61 202px,#48ffb7 208px,#3effc1 211px,#5fffa0 215px,#9bff64 219px)}
.l57{background:linear-gradient(90deg,#80ff80 0px,#81ff7e 56px,#2baebc 57px,#000587 58px,#000587 59px,#58a390 60px,#e94204 61px,#af0000 62px,#e10e00 63px,#fe8d01 64px,#b8f947 65px,#29f8d6 66px,#00b4ff 67px,#007dff 68px,#007aff 69px,#00a0ff 70px,#02e0fd 71px,#35ffca 72px,#d2ff2d 74px,#fcf003 75px,#ffcf00 76px,#ffc300 77px,#ffcc00 78px,#ffe800 79px,#ebfe14 80px,#50ffaf 83px,#06fdf9 85px,#00e9ff 87px,#08fef7 89px,#49ffb6 91px,#bcff43 94px,#efff10 96px,#fdff02 98px,#e5ff1a 100px,#70ff8f 104px,#23ffdc 107px,#11ffee 109px,#1effe1 111px,#5fffa0 114px,#c5ff3a 118px,#e0ff1f 120px,#e1ff1e 122px,#b5ff4a 125px,#43ffbc 130px,#24ffdb 133px,#37ffc8 136px,#c0ff3f 143px,#d5ff2a 146px,#bdff42 149px,#3fffc0 156px,#30ffcf 159px,#49ffb6 162px,#beff41 169px,#cbff34 172px,#b2ff4d 175px,#44ffbb 182px,#38ffc7 185px,#4fffb0 188px,#b8ff47 195px,#c4ff3b 198px,#afff50 201px,#4bffb4 208px,#3dffc2 211px,#50ffaf 214px,#97ff68 219px)}
.l58{background:linear-gradient(90deg,#80ff80 0px,#80ff7f 57px,#29abbe 58px,#000487 59px,#00078a 60px,#61a389 61px,#e53703 62px,#a90000 63px,#e31200 64px,#fd9a02 65px,#a8fc57 66px,#1df2e2 67px,#00a7ff 68px,#0077ff 69px,#007bff 70px,#00a8ff 71px,#06eaf9 72px,#45ffba 73px,#e1fe1e 75px,#ffe700 76px,#ffc800 77px,#ffc100 78px,#ffd000 79px,#fdf002 80px,#dfff20 81px,#41ffbe 84px,#18ffe7 85px,#01f9fe 86px,#00ebff 87px,#00eaff 88px,#00f6ff 89px,#0ffff0 90px,#c8ff37 95px,#f6ff09 97px,#fcff03 99px,#dcff23 101px,#45ffba 106px,#1cffe3 108px,#11ffee 110px,#25ffda 112px,#88ff77 116px,#ceff31 119px,#e3ff1c 121px,#ddff22 123px,#a9ff56 126px,#3affc5 131px,#23ffdc 134px,#40ffbf 137px,#baff45 143px,#d5ff2a 146px,#c2ff3d 149px,#44ffbb 156px,#2fffd0 159px,#44ffbb 162px,#baff45 169px,#ccff33 172px,#b6ff49 175px,#47ffb8 182px,#37ffc8 185px,#4bffb4 188px,#b5ff4a 195px,#c5ff3a 198px,#b2ff4d 201px,#4effb1 208px,#3dffc2 211px,#4dffb2 214px,#94ff6b 219px)}
.l59{background:linear-gradient(90deg,#80ff80 0px,#7fff80 58px,#28a8bf 59px,#000387 60px,#00088c 61px,#6ba381 62px,#e02f01 63px,#a40000 64px,#e61700 65px,#fba804 66px,#96fd69 67px,#13ebec 68px,#009aff 69px,#0071ff 70px,#007dff 71px,#00b0ff 72px,#0cf2f3 73px,#56ffa9 74px,#aaff55 75px,#edfc12 76px,#ffdc00 77px,#ffc300 78px,#ffc100 79px,#faf705 81px,#d1ff2e 82px,#33ffcc 85px,#0dfff2 86px,#00f2ff 87px,#00e8ff 88px,#02fafd 90px,#19ffe6 91px,#d4ff2b 96px,#fbff04 98px,#f9ff06 100px,#d2ff2d 102px,#39ffc6 107px,#16ffe9 109px,#12ffed 111px,#2dffd2 113px,#c6ff39 119px,#e1ff1e 121px,#e1ff1e 123px,#b4ff4b 126px,#41ffbe 131px,#23ffdc 134px,#39ffc6 137px,#c3ff3c 144px,#d5ff2a 147px,#baff45 150px,#49ffb6 156px,#2fffd0 159px,#3fffc0 162px,#c2ff3d 170px,#caff35 173px,#adff52 176px,#4bffb4 182px,#37ffc8 185px,#48ffb7 188px,#bcff43 196px,#c4ff3b 199px,#9cff63 203px,#51ffae 208px,#3dffc2 211px,#4affb5 214px,#90ff6f 219px)}
.l60{background:linear-gradient(90deg,#80ff80 0px,#7fff80 59px,#27a4c0 60px,#000387 61px,#00098e 62px,#75a37a 63px,#d82800 64px,#a00000 65px,#e91b00 66px,#f7b408 67px,#85fe7a 68px,#0ce1f3 69px,#008fff 70px,#006dff 71px,#0080ff 72px,#00baff 73px,#15f7ea 74px,#baff45 76px,#f6f709 77px,#ffd300 78px,#ffbf00 79px,#ffc300 80px,#f4fb0b 82px,#26ffd9 86px,#05fcfa 87px,#00e6ff 89px,#07fdf8 91px,#4bffb4 93px,#c1ff3e 96px,#f4ff0b 98px,#feff01 100px,#e1ff1e 102px,#2effd1 108px,#11ffee 110px,#15ffea 112px,#50ffaf 115px,#bbff44 119px,#ddff22 121px,#e4ff1b 123px,#beff41 126px,#38ffc7 132px,#23ffdc 135px,#42ffbd 138px,#bdff42 144px,#d6ff29 147px,#c0ff3f 150px,#40ffbf 157px,#2fffd0 160px,#48ffb7 163px,#beff41 170px,#cbff34 173px,#b2ff4d 176px,#43ffbc 183px,#37ffc8 186px,#50ffaf 189px,#b9ff46 196px,#c4ff3b 199px,#aeff51 202px,#49ffb6 209px,#3dffc2 212px,#52ffad 215px,#8cff73 219px)}
.l61{background:linear-gradient(90deg,#80ff80 0px,#7eff81 60px,#27a1c1 61px,#000287 62px,#000b91 63px,#7da175 64px,#d02100 65px,#9c0000 66px,#eb2200 67px,#f3c10c 68px,#73ff8c 69px,#07d6f8 70px,#0084ff 71px,#006aff 72px,#0084ff 73px,#00c5ff 74px,#20fbdf 75px,#caff35 77px,#fcf003 78px,#ffca00 79px,#ffbc00 80px,#ffc600 81px,#ffe400 82px,#eafe15 83px,#45ffba 86px,#19ffe6 87px,#01f7fe 88px,#00e8ff 89px,#00e6ff 90px,#00f3ff 91px,#0efff1 92px,#ceff31 97px,#faff05 99px,#fcff03 101px,#d7ff28 103px,#3bffc4 108px,#16ffe9 110px,#11ffee 112px,#2bffd4 114px,#c6ff39 120px,#e1ff1e 122px,#e2ff1d 124px,#b3ff4c 127px,#3fffc0 132px,#22ffdd 135px,#3bffc4 138px,#c5ff3a 145px,#d5ff2a 148px,#b7ff48 151px,#45ffba 157px,#2effd1 160px,#42ffbd 163px,#baff45 170px,#ccff33 173px,#b7ff48 176px,#46ffb9 183px,#37ffc8 186px,#4cffb3 189px,#b6ff49 196px,#c5ff3a 199px,#b1ff4e 202px,#4cffb3 209px,#3dffc2 212px,#4effb1 215px,#87ff78 219px)}
.l62{background:linear-gradient(90deg,#80ff80 0px,#7dff82 61px,#269ec1 62px,#000287 63px,#000c93 64px,#829d72 65px,#c81a00 66px,#9a0000 67px,#ed2a00 68px,#edcb12 69px,#61fe9e 70px,#03c9fc 71px,#007aff 72px,#0068ff 73px,#008aff 74px,#01d0fe 75px,#2dfed2 76px,#d9ff26 78px,#fee601 79px,#ffc300 80px,#ffba00 81px,#ffca00 82px,#feec01 83px,#deff21 84px,#37ffc8 87px,#0efef1 88px,#00f1ff 89px,#00e5ff 90px,#00e8ff 91px,#01f8fe 92px,#18ffe7 93px,#b9ff46 97px,#f1ff0e 99px,#fffd00 101px,#e6ff19 103px,#30ffcf 109px,#11ffee 111px,#14ffeb 113px,#35ffca 115px,#bbff44 120px,#e5ff1a 123px,#deff21 125px,#a8ff57 128px,#48ffb7 132px,#23ffdc 135px,#28ffd7 137px,#57ffa8 140px,#c0ff3f 145px,#d6ff29 148px,#bdff42 151px,#3dffc2 158px,#2fffd0 161px,#4bffb4 164px,#b5ff4a 170px,#ccff33 173px,#bbff44 176px,#4affb5 183px,#36ffc9 186px,#48ffb7 189px,#b3ff4c 196px,#c5ff3a 199px,#b5ff4a 202px,#45ffba 210px,#3effc1 213px,#64ff9b 217px,#83ff7c 219px)}
.l63{background:linear-gradient(90deg,#80ff80 0px,#7dff82 62px,#259bc2 63px,#000187 64px,#000d96 65px,#879a6f 66px,#bf1500 67px,#990000 68px,#ef3100 69px,#e6d519 70px,#50fdaf 71px,#02bcfd 72px,#0072ff 73px,#0067ff 74px,#0090ff 75px,#03dafc 76px,#3cffc3 77px,#99ff66 78px,#e6fd19 79px,#ffdc00 80px,#ffbd00 81px,#ffba00 82px,#ffcf00 83px,#fbf404 84px,#d1ff2e 85px,#2affd5 88px,#06fcf9 89px,#00e3ff 91px,#05fcfa 93px,#4bffb4 95px,#c6ff39 98px,#f8ff07 100px,#fefe01 102px,#deff21 104px,#3effc1 109px,#16ffe9 111px,#0ffff0 113px,#29ffd6 115px,#c6ff39 121px,#e2ff1d 123px,#e2ff1d 125px,#b3ff4c 128px,#3effc1 133px,#25ffda 135px,#2effd1 138px,#7aff85 142px,#c8ff37 146px,#d5ff2a 149px,#b4ff4b 152px,#42ffbd 158px,#2effd1 161px,#45ffba 164px,#bdff42 171px,#ccff33 174px,#b3ff4c 177px,#43ffbc 184px,#37ffc8 187px,#50ffaf 190px,#baff45 197px,#c5ff3a 200px,#9fff60 204px,#48ffb7 210px,#3dffc2 213px,#53ffac 216px,#7eff81 219px)}
.l64{background:linear-gradient(90deg,#80ff80 0px,#7cff83 63px,#2497c3 64px,#000087 65px,#001097 66px,#8c996a 67px,#b61100 68px,#9a0000 69px,#f23a00 70px,#dedf21 71px,#41f9be 72px,#00aeff 73px,#006aff 74px,#0067ff 75px,#0098ff 76px,#06e4f9 77px,#4cffb3 78px,#a9ff56 79px,#f1f90e 80px,#ffd200 81px,#ffb900 82px,#ffbb00 83px,#f5f90a 85px,#1dffe2 89px,#02f7fd 90px,#00e5ff 91px,#00e2ff 92px,#0bfef4 94px,#d2ff2d 99px,#fdfe02 101px,#fcfe03 103px,#d4ff2b 105px,#33ffcc 110px,#11ffee 112px,#11ffee 114px,#32ffcd 116px,#bbff44 121px,#deff21 123px,#e5ff1a 125px,#d1ff2e 127px,#35ffca 134px,#22ffdd 136px,#34ffcb 139px,#c2ff3d 146px,#d6ff29 149px,#bbff44 152px,#48ffb7 158px,#2effd1 161px,#40ffbf 164px,#b9ff46 171px,#cdff32 174px,#b8ff47 177px,#46ffb9 184px,#36ffc9 187px,#4cffb3 190px,#b7ff48 197px,#c5ff3a 200px,#b1ff4e 203px,#4bffb4 210px,#3cffc3 213px,#5cffa3 217px,#7aff85 219px)}
.l65{background:linear-gradient(90deg,#80ff80 0px,#7cff83 64px,#2394c4 65px,#000087 66px,#001397 67px,#939762 68px,#ae0d00 69px,#9c0000 70px,#f44300 71px,#d3e52c 72px,#32f6cd 73px,#00a1ff 74px,#0063ff 75px,#0068ff 76px,#00a0ff 77px,#0bedf4 78px,#5cffa3 79px,#b9ff46 80px,#f8f307 81px,#ffc900 82px,#ffb500 83px,#ffbd00 84px,#ffdd00 85px,#edfd12 86px,#3fffc0 89px,#11ffee 90px,#00f0ff 91px,#00e2ff 92px,#00e4ff 93px,#01f4fe 94px,#14ffeb 95px,#bbff44 99px,#f5ff0a 101px,#fffb00 103px,#f8ff07 104px,#c9ff36 106px,#43ffbc 110px,#17ffe8 112px,#0dfff2 114px,#26ffd9 116px,#c5ff3a 122px,#e3ff1c 124px,#e3ff1c 126px,#b4ff4b 129px,#3cffc3 134px,#24ffdb 136px,#25ffda 138px,#4fffb0 141px,#bbff44 146px,#d7ff28 149px,#c2ff3d 152px,#3fffc0 159px,#2effd1 162px,#48ffb7 165px,#b4ff4b 171px,#cdff32 174px,#bcff43 177px,#4affb5 184px,#36ffc9 187px,#47ffb8 190px,#b3ff4c 197px,#c6ff39 200px,#b4ff4b 203px,#44ffbb 211px,#3effc1 214px,#66ff99 218px,#75ff8a 219px)}
.l66{background:linear-gradient(90deg,#80ff80 0px,#7bff84 65px,#2292c4 66px,#000087 67px,#021696 68px,#9b9358 69px,#a80a00 70px,#9e0000 71px,#f64d00 72px,#c7eb38 73px,#27f0d8 74px,#0094ff 75px,#005dff 76px,#006aff 77px,#00aaff 78px,#13f3ec 79px,#c9ff36 81px,#fcea03 82px,#ffc100 83px,#ffb300 84px,#ffc100 85px,#fee601 86px,#e2fe1d 87px,#31ffce 90px,#08fdf7 91px,#00dfff 93px,#03f9fc 95px,#1fffe0 96px,#c8ff37 100px,#fbfe04 102px,#fefc01 104px,#f3ff0c 105px,#9aff65 108px,#37ffc8 111px,#12ffed 113px,#0ffff0 115px,#2effd1 117px,#cfff30 123px,#e6ff19 125px,#e0ff1f 127px,#a8ff57 130px,#45ffba 134px,#21ffde 137px,#35ffca 140px,#c4ff3b 147px,#d7ff28 150px,#b9ff46 153px,#45ffba 159px,#2dffd2 162px,#43ffbc 165px,#bcff43 172px,#cdff32 175px,#b5ff4a 178px,#43ffbc 185px,#37ffc8 188px,#50ffaf 191px,#afff50 197px,#c5ff3a 200px,#b8ff47 203px,#47ffb8 211px,#3dffc2 214px,#61ff9e 218px,#70ff8f 219px)}
.l67{background:linear-gradient(90deg,#80ff80 0px,#7bff84 66px,#2191c3 67px,#000086 68px,#031894 69px,#a4904f 70px,#a10700 71px,#a10100 72px,#f75900 73px,#bbf144 74px,#1ce9e3 75px,#0088ff 76px,#0059ff 77px,#006eff 78px,#00b4ff 79px,#1df8e2 80px,#d8fe27 82px,#fee001 83px,#ffba00 84px,#ffb200 85px,#ffc600 86px,#fdee02 87px,#d5ff2a 88px,#23ffdc 91px,#03f8fc 92px,#00e4ff 93px,#00dfff 94px,#08fdf7 96px,#56ffa9 98px,#d4ff2b 101px,#f0ff0f 102px,#fefd01 103px,#fdfe02 105px,#d1ff2e 107px,#2dffd2 112px,#0efff1 114px,#13ffec 116px,#38ffc7 118px,#c4ff3b 123px,#e3ff1c 125px,#e5ff1a 127px,#b5ff4a 130px,#3cffc3 135px,#23ffdc 137px,#24ffdb 139px,#50ffaf 142px,#bdff42 147px,#d7ff28 150px,#c0ff3f 153px,#3dffc2 160px,#2effd1 163px,#4bffb4 166px,#b8ff47 172px,#cdff32 175px,#baff45 178px,#47ffb8 185px,#36ffc9 188px,#4bffb4 191px,#b7ff48 198px,#c6ff39 201px,#b1ff4e 204px,#4affb5 211px,#3cffc3 214px,#50ffaf 217px,#6cff93 219px)}
.l68{background:linear-gradient(90deg,#80ff80 0px,#7aff85 67px,#2190c2 68px,#000086 69px,#041b93 70px,#a88a49 71px,#9c0500 72px,#a30200 73px,#f86401 74px,#acf453 75px,#14e0eb 76px,#007cff 77px,#0055ff 78px,#0072ff 79px,#00bfff 80px,#29fbd6 81px,#8eff71 82px,#e5fc1a 83px,#ffd600 84px,#ffb400 85px,#ffb200 86px,#ffcc00 87px,#f9f406 88px,#c7ff38 89px,#4affb5 91px,#17ffe8 92px,#00f1ff 93px,#00dfff 94px,#00dfff 95px,#00efff 96px,#0ffef0 97px,#bcff43 101px,#f7ff08 103px,#fff900 105px,#f9ff06 106px,#c6ff39 108px,#3cffc3 112px,#13ffec 114px,#0dfff2 116px,#2affd5 118px,#ceff31 124px,#e6ff19 126px,#e1ff1e 128px,#a9ff56 131px,#45ffba 135px,#27ffd8 137px,#21ffde 139px,#47ffb8 142px,#c6ff39 148px,#d7ff28 151px,#b7ff48 154px,#42ffbd 160px,#2dffd2 163px,#45ffba 166px,#bfff40 173px,#cdff32 176px,#b1ff4e 179px,#4bffb4 185px,#36ffc9 188px,#47ffb8 191px,#b3ff4c 198px,#c6ff39 201px,#b4ff4b 204px,#4dffb2 211px,#3cffc3 214px,#4dffb2 217px,#67ff98 219px)}
.l69{background:linear-gradient(90deg,#80ff80 0px,#80ff7f 67px,#79ff86 68px,#208ec1 69px,#000085 70px,#061e92 71px,#a98445 72px,#970400 73px,#a70300 74px,#f86f02 75px,#9df762 76px,#0dd6f2 77px,#0071ff 78px,#0052ff 79px,#0078ff 80px,#01cafe 81px,#36fec9 82px,#9eff61 83px,#eff810 84px,#ffcc00 85px,#ffaf00 86px,#ffb300 87px,#ffd300 88px,#f2f90d 89px,#3cffc3 92px,#0dfdf2 93px,#00eaff 94px,#00dcff 95px,#00e1ff 96px,#01f5fe 97px,#19ffe6 98px,#c9ff36 102px,#e9ff16 103px,#fcfd03 104px,#fffb00 106px,#f3ff0c 107px,#96ff69 110px,#31ffce 113px,#0efff1 115px,#10ffef 117px,#34ffcb 119px,#c2ff3d 124px,#e3ff1c 126px,#e6ff19 128px,#b6ff49 131px,#3bffc4 136px,#20ffdf 139px,#3dffc2 142px,#bfff40 148px,#d8ff27 151px,#bfff40 154px,#48ffb7 160px,#2dffd2 163px,#3fffc0 166px,#bbff44 173px,#cdff32 176px,#b7ff48 179px,#44ffbb 186px,#36ffc9 189px,#4fffb0 192px,#bbff44 199px,#c5ff3a 202px,#acff53 205px,#46ffb9 212px,#3dffc2 215px,#62ff9d 219px)}
.l70{background:linear-gradient(90deg,#80ff80 0px,#80ff7f 68px,#79ff86 69px,#1f8dc0 70px,#000085 71px,#072090 72px,#aa7e41 73px,#920300 74px,#aa0300 75px,#f97a03 76px,#8efa71 77px,#09caf6 78px,#0068ff 79px,#0051ff 80px,#007eff 81px,#03d4fc 82px,#45feba 83px,#aeff51 84px,#f6f209 85px,#ffc200 86px,#ffac00 87px,#ffb600 88px,#ffdb00 89px,#e9fd16 90px,#2effd1 93px,#06faf9 94px,#00e4ff 95px,#00dbff 96px,#04f9fb 98px,#24ffdb 99px,#d5ff2a 103px,#f2ff0d 104px,#fffb00 105px,#fdfd02 107px,#d0ff2f 109px,#42ffbd 113px,#14ffeb 115px,#0bfff4 117px,#26ffd9 119px,#ccff33 125px,#e7ff18 127px,#e3ff1c 129px,#abff54 132px,#45ffba 136px,#26ffd9 138px,#21ffde 140px,#47ffb8 143px,#b7ff48 148px,#d8ff27 151px,#c6ff39 154px,#40ffbf 161px,#2dffd2 164px,#47ffb8 167px,#b5ff4a 173px,#cdff32 176px,#bcff43 179px,#48ffb7 186px,#35ffca 189px,#4affb5 192px,#b7ff48 199px,#c6ff39 202px,#b1ff4e 205px,#49ffb6 212px,#3cffc3 215px,#51ffae 218px,#5effa1 219px)}
.l71{background:linear-gradient(90deg,#80ff80 0px,#80ff7f 69px,#78ff87 70px,#1e8bc0 71px,#000084 72px,#08238f 73px,#ab783d 74px,#8f0200 75px,#ae0500 76px,#f78605 77px,#7ffb80 78px,#06bef9 79px,#005fff 80px,#0050ff 81px,#0085ff 82px,#06def9 83px,#55ffaa 84px,#beff41 85px,#fbe904 86px,#ffba00 87px,#ffaa00 88px,#ffba00 89px,#fee301 90px,#defe21 91px,#5affa5 93px,#21ffde 94px,#02f4fd 95px,#00deff 96px,#00daff 97px,#09fdf6 99px,#e0ff1f 104px,#f9fe06 105px,#fff700 107px,#fafe05 108px,#c5ff3a 110px,#37ffc8 114px,#0ffff0 116px,#0dfff2 118px,#2fffd0 120px,#c0ff3f 125px,#e3ff1c 127px,#e7ff18 129px,#ceff31 131px,#3bffc4 137px,#22ffdd 139px,#23ffdc 141px,#51ffae 144px,#c0ff3f 149px,#d6ff29 151px,#ccff33 154px,#81ff7e 158px,#39ffc6 162px,#2effd1 165px,#50ffaf 168px,#bdff42 174px,#cdff32 177px,#b4ff4b 180px,#41ffbe 187px,#36ffc9 190px,#52ffad 193px,#b3ff4c 199px,#c6ff39 202px,#b5ff4a 205px,#4dffb2 212px,#3cffc3 215px,#4dffb2 218px,#59ffa6 219px)}
.l72{background:linear-gradient(90deg,#80ff80 0px,#80ff7f 70px,#78ff87 71px,#1d8abf 72px,#000084 73px,#0a2590 74px,#ad723a 75px,#8d0100 76px,#b10700 77px,#f59208 78px,#6ffb90 79px,#03b2fc 80px,#0056ff 81px,#0050ff 82px,#008dff 83px,#0ce6f3 84px,#65ff9a 85px,#cdfe32 86px,#fee001 87px,#ffb300 88px,#ffa900 89px,#ffbf00 90px,#fceb03 91px,#d1ff2e 92px,#4bffb4 94px,#15feea 95px,#00edff 96px,#00daff 97px,#00dbff 98px,#00eeff 99px,#11feee 100px,#c8ff37 104px,#eaff15 105px,#fdfc02 106px,#fff900 108px,#f4ff0b 109px,#b9ff46 111px,#2cffd3 115px,#0bfff4 117px,#10ffef 119px,#55ffaa 122px,#caff35 126px,#e7ff18 128px,#e4ff1b 130px,#c5ff3a 132px,#46ffb9 137px,#26ffd9 139px,#20ffdf 141px,#46ffb9 144px,#b8ff47 149px,#d8ff27 152px,#d1ff2e 154px,#a1ff5e 157px,#3effc1 162px,#2dffd2 165px,#49ffb6 168px,#b8ff47 174px,#ceff31 177px,#baff45 180px,#45ffba 187px,#35ffca 190px,#4dffb2 193px,#baff45 200px,#c6ff39 203px,#adff52 206px,#46ffb9 213px,#3dffc2 216px,#55ffaa 219px)}
.l73{background:linear-gradient(90deg,#80ff80 0px,#80ff7f 71px,#77ff88 72px,#1d89be 73px,#000083 74px,#0b2892 75px,#ae6c37 76px,#8b0000 77px,#b40a00 78px,#f29d0c 79px,#60f99f 80px,#02a4fd 81px,#004fff 82px,#0051ff 83px,#0096ff 84px,#12eeed 85px,#75ff8a 86px,#dafd25 87px,#ffd500 88px,#ffad00 89px,#ffa900 90px,#ffc400 91px,#f9f206 92px,#c4ff3b 93px,#3dffc2 95px,#0bfcf4 96px,#00d7ff 98px,#00ddff 99px,#01f4fe 100px,#1bffe4 101px,#d4ff2b 105px,#f3ff0c 106px,#fff400 108px,#fefb01 109px,#d0ff2f 111px,#3effc1 115px,#11ffee 117px,#0afff5 119px,#29ffd6 121px,#bcff43 126px,#e2ff1d 128px,#e9ff16 130px,#d0ff2f 132px,#3cffc3 138px,#22ffdd 140px,#22ffdd 142px,#51ffae 145px,#c1ff3e 150px,#d9ff26 153px,#bdff42 156px,#44ffbb 162px,#2cffd3 165px,#42ffbd 168px,#c0ff3f 175px,#cdff32 178px,#b1ff4e 181px,#49ffb6 187px,#35ffca 190px,#48ffb7 193px,#b6ff49 200px,#c6ff39 203px,#b2ff4d 206px,#49ffb6 213px,#3cffc3 216px,#51ffae 219px)}
.l74{background:linear-gradient(90deg,#80ff80 0px,#80ff7f 72px,#77ff88 73px,#1c87bd 74px,#000083 75px,#0c2a94 76px,#ae6935 77px,#880000 78px,#b80c00 79px,#efa90f 80px,#52f7ad 81px,#0097ff 82px,#0049ff 83px,#0053ff 84px,#009fff 85px,#1bf3e4 86px,#85ff7a 87px,#e6fa19 88px,#ffcb00 89px,#ffa800 90px,#ffaa00 91px,#f3f80c 93px,#2fffd0 96px,#05f8fa 97px,#00dfff 98px,#00d6ff 99px,#00e1ff 100px,#04f9fb 101px,#26ffd9 102px,#b8ff47 105px,#dfff20 106px,#f9fe06 107px,#fff500 109px,#fbfd04 110px,#c5ff3a 112px,#33ffcc 116px,#0cfff3 118px,#0dfff2 120px,#32ffcd 122px,#c7ff38 127px,#e7ff18 129px,#e6ff19 131px,#b0ff4f 134px,#33ffcc 139px,#1fffe0 141px,#26ffd9 143px,#5cffa3 146px,#b9ff46 150px,#d9ff26 153px,#c5ff3a 156px,#3cffc3 163px,#2cffd3 166px,#4bffb4 169px,#baff45 175px,#ceff31 178px,#b7ff48 181px,#42ffbd 188px,#36ffc9 191px,#50ffaf 194px,#b2ff4d 200px,#c7ff38 203px,#b6ff49 206px,#4dffb2 213px,#3bffc4 216px,#4dffb2 219px)}
.l75{background:linear-gradient(90deg,#80ff80 0px,#80ff7f 73px,#76ff89 74px,#1b86bd 75px,#000082 76px,#0e2d96 77px,#ad6732 78px,#850000 79px,#bc0f00 80px,#eab215 81px,#44f4bb 82px,#008aff 83px,#0043ff 84px,#0057ff 85px,#00aaff 86px,#25f8da 87px,#95ff6a 88px,#f0f50f 89px,#ffc100 90px,#ffa400 91px,#ffac00 92px,#ffd300 93px,#eafb15 94px,#22ffdd 97px,#02f2fd 98px,#00daff 99px,#00d6ff 100px,#09fcf6 102px,#64ff9b 104px,#c5ff3a 106px,#e9ff16 107px,#fdfb02 108px,#fff600 110px,#f7ff08 111px,#b9ff46 113px,#29ffd6 117px,#08fff7 119px,#11ffee 121px,#3dffc2 123px,#d0ff2f 128px,#eaff15 130px,#e2ff1d 132px,#a5ff5a 135px,#3dffc2 139px,#21ffde 141px,#21ffde 143px,#50ffaf 146px,#c2ff3d 151px,#d9ff26 154px,#bdff42 157px,#43ffbc 163px,#2cffd3 166px,#44ffbb 169px,#c2ff3d 176px,#cdff32 179px,#afff50 182px,#47ffb8 188px,#35ffca 191px,#4bffb4 194px,#b9ff46 201px,#c6ff39 204px,#aeff51 207px,#46ffb9 214px,#3cffc3 217px,#49ffb6 219px)}
.l76{background:linear-gradient(90deg,#80ff80 0px,#80ff7f 74px,#76ff89 75px,#1a85bc 76px,#000082 77px,#0f2f99 78px,#ad642e 79px,#840000 80px,#c11200 81px,#e3bc1c 82px,#39eec6 83px,#007eff 84px,#003eff 85px,#005bff 86px,#01b4fe 87px,#32fbcd 88px,#a5ff5a 89px,#f6ee09 90px,#ffb800 91px,#ffa100 92px,#ffaf00 93px,#ffdc00 94px,#e0fe1f 95px,#51ffae 97px,#16fee9 98px,#00eaff 99px,#00d6ff 100px,#00d6ff 101px,#00ebff 102px,#11feee 103px,#d1ff2e 107px,#f2ff0d 108px,#fff700 109px,#fff100 110px,#fef901 111px,#f0ff0f 112px,#3bffc4 117px,#0efff1 119px,#09fff6 121px,#2cffd3 123px,#c3ff3c 128px,#e6ff19 130px,#e8ff17 132px,#cbff34 134px,#34ffcb 140px,#1effe1 142px,#25ffda 144px,#5bffa4 147px,#b9ff46 151px,#daff25 154px,#c4ff3b 157px,#3bffc4 164px,#2cffd3 167px,#4dffb2 170px,#bdff42 176px,#ceff31 179px,#b5ff4a 182px,#4cffb3 188px,#35ffca 191px,#46ffb9 194px,#b5ff4a 201px,#c7ff38 204px,#b3ff4c 207px,#49ffb6 214px,#3bffc4 217px,#46ffb9 219px)}
.l77{background:linear-gradient(90deg,#80ff80 0px,#80ff7f 75px,#75ff8a 76px,#1a83bb 77px,#000081 78px,#123099 79px,#ae5d2b 80px,#840000 81px,#c51700 82px,#dcc523 83px,#2de8d2 84px,#0072ff 85px,#003bff 86px,#005fff 87px,#01bffe 88px,#3ffdc0 89px,#b5ff4a 90px,#fbe504 91px,#ffb000 92px,#ff9f00 93px,#ffb400 94px,#fde402 95px,#d4ff2b 96px,#43ffbc 98px,#0dfcf2 99px,#00e3ff 100px,#00d3ff 101px,#00d9ff 102px,#01f1fe 103px,#1bffe4 104px,#b2ff4d 107px,#dcff23 108px,#f9fe06 109px,#fff200 111px,#fdfc02 112px,#e8ff17 113px,#30ffcf 118px,#09fff6 120px,#0cfff3 122px,#35ffca 124px,#cdff32 129px,#eaff15 131px,#e5ff1a 133px,#c2ff3d 135px,#3effc1 140px,#21ffde 142px,#20ffdf 144px,#4fffb0 147px,#c2ff3d 152px,#daff25 155px,#bcff43 158px,#41ffbe 164px,#2bffd4 167px,#45ffba 170px,#b7ff48 176px,#cfff30 179px,#bbff44 182px,#44ffbb 189px,#35ffca 192px,#4dffb2 195px,#bcff43 202px,#c6ff39 205px,#9cff63 209px,#4dffb2 214px,#3bffc4 217px,#43ffbc 219px)}
.l78{background:linear-gradient(90deg,#80ff80 0px,#80ff7f 76px,#74ff8b 77px,#1982ba 78px,#000081 79px,#152e9a 80px,#ae552a 81px,#830000 82px,#c81c00 83px,#d5cf2a 84px,#23e1dc 85px,#0066ff 86px,#0038ff 87px,#0065ff 88px,#04c9fb 89px,#4efeb1 90px,#c4fe3b 91px,#fddc02 92px,#ffa900 93px,#ff9e00 94px,#ffb900 95px,#fbec04 96px,#c6ff39 97px,#35ffca 99px,#06f8f9 100px,#00dcff 101px,#00d1ff 102px,#00dcff 103px,#03f6fc 104px,#26ffd9 105px,#bfff40 108px,#e6ff19 109px,#fdfb02 110px,#fff000 111px,#f9fe06 113px,#bbff44 115px,#45ffba 118px,#11ffee 120px,#06fff9 122px,#25ffda 124px,#bfff40 129px,#e5ff1a 131px,#eaff15 133px,#cfff30 135px,#35ffca 141px,#1effe1 143px,#24ffdb 145px,#5affa5 148px,#b9ff46 152px,#daff25 155px,#c5ff3a 158px,#3affc5 165px,#2cffd3 168px,#4effb1 171px,#beff41 177px,#cfff30 180px,#b3ff4c 183px,#49ffb6 189px,#34ffcb 192px,#48ffb7 195px,#b8ff47 202px,#c7ff38 205px,#b0ff4f 208px,#46ffb9 215px,#3cffc3 218px,#40ffbf 219px)}
.l79{background:linear-gradient(90deg,#80ff80 0px,#80ff7f 77px,#74ff8b 78px,#1881ba 79px,#000080 80px,#173098 81px,#ae4e27 82px,#830000 83px,#cc2100 84px,#cbd634 85px,#1cd7e3 86px,#005bff 87px,#0036ff 88px,#006cff 89px,#06d3f9 90px,#5dffa2 91px,#d2fd2d 92px,#fed101 93px,#ffa300 94px,#ff9e00 95px,#ffbf00 96px,#f6f309 97px,#b8ff47 98px,#28ffd7 100px,#02f2fd 101px,#00d6ff 102px,#00d0ff 103px,#08fbf7 105px,#67ff98 107px,#cbff34 109px,#f0ff0f 110px,#fff700 111px,#ffef00 112px,#f3ff0c 114px,#aeff51 116px,#39ffc6 119px,#0bfff4 121px,#08fff7 123px,#2effd1 125px,#c9ff36 130px,#e9ff16 132px,#e8ff17 134px,#adff52 137px,#40ffbf 141px,#21ffde 143px,#1fffe0 145px,#4dffb2 148px,#c2ff3d 153px,#d9ff26 155px,#d6ff29 157px,#a9ff56 160px,#40ffbf 165px,#2bffd4 168px,#46ffb9 171px,#b9ff46 177px,#cfff30 180px,#b9ff46 183px,#42ffbd 190px,#35ffca 193px,#50ffaf 196px,#b4ff4b 202px,#c7ff38 205px,#b5ff4a 208px,#4affb5 215px,#3bffc4 218px,#3effc1 219px)}
.l80{background:linear-gradient(90deg,#80ff80 0px,#80ff7f 78px,#73ff8c 79px,#177fb9 80px,#000080 81px,#1a3296 82px,#ad4725 83px,#820000 84px,#d12600 85px,#c0dc3f 86px,#15cdea 87px,#0051ff 88px,#0035ff 89px,#0073ff 90px,#0bdcf4 91px,#6cff93 92px,#defa21 93px,#ffc700 94px,#ff9d00 95px,#ffa000 96px,#ffc700 97px,#f0f80f 98px,#1cfee3 101px,#00eaff 102px,#00d2ff 103px,#00d1ff 104px,#00e6ff 105px,#0ffdf0 106px,#d7ff28 110px,#f7fe08 111px,#ffee00 113px,#fef901 114px,#ecff13 115px,#2fffd0 120px,#07fff8 122px,#0cfff3 124px,#37ffc8 126px,#d2ff2d 131px,#ecff13 133px,#e3ff1c 135px,#a1ff5e 138px,#37ffc8 142px,#1effe1 144px,#22ffdd 146px,#58ffa7 149px,#b8ff47 153px,#d5ff2a 155px,#d9ff26 157px,#b3ff4c 160px,#48ffb7 165px,#2bffd4 168px,#3fffc0 171px,#c0ff3f 178px,#cfff30 181px,#b1ff4e 184px,#47ffb8 190px,#34ffcb 193px,#4affb5 196px,#bbff44 203px,#c7ff38 206px,#adff52 209px,#4effb1 215px,#3bffc4 218px,#3cffc3 219px)}
.l81{background:linear-gradient(90deg,#80ff80 0px,#80ff7f 79px,#73ff8c 80px,#167eb9 81px,#000080 82px,#1c3493 83px,#ab4222 84px,#820000 85px,#d52c00 86px,#b5e24a 87px,#0fc4f0 88px,#0048ff 89px,#0034ff 90px,#007bff 91px,#10e5ef 92px,#7cff83 93px,#e8f617 94px,#ffbc00 95px,#ff9900 96px,#ffa200 97px,#ffcf00 98px,#e7fb18 99px,#4fffb0 101px,#11fdee 102px,#00e2ff 103px,#00ceff 104px,#00d3ff 105px,#00ecff 106px,#18ffe7 107px,#b7ff48 110px,#e2ff1d 111px,#fcfb03 112px,#ffef00 114px,#fcfc03 115px,#beff41 117px,#44ffbb 120px,#0ffff0 122px,#05fffa 124px,#25ffda 126px,#c3ff3c 131px,#e8ff17 133px,#eaff15 135px,#cbff34 137px,#43ffbc 142px,#22ffdd 144px,#1effe1 146px,#4bffb4 149px,#c1ff3e 154px,#d9ff26 156px,#cdff32 159px,#3fffc0 166px,#2affd5 169px,#47ffb8 172px,#baff45 178px,#d0ff2f 181px,#b8ff47 184px,#4cffb3 190px,#34ffcb 193px,#45ffba 196px,#b7ff48 203px,#c7ff38 206px,#b2ff4d 209px,#47ffb8 216px,#3bffc4 219px)}
.l82{background:linear-gradient(90deg,#80ff80 0px,#80ff7f 80px,#72ff8d 81px,#167db9 82px,#000080 83px,#1f3791 84px,#a94020 85px,#830000 86px,#d93200 87px,#aae755 88px,#0cb8f3 89px,#0040ff 90px,#0035ff 91px,#0084ff 92px,#17ece8 93px,#8cff73 94px,#f0f00f 95px,#ffb300 96px,#ff9600 97px,#ffa500 98px,#fed701 99px,#dcfd23 100px,#41ffbe 102px,#09f9f6 103px,#00dbff 104px,#00ccff 105px,#00d6ff 106px,#02f2fd 107px,#23ffdc 108px,#c3ff3c 111px,#ecff13 112px,#fef701 113px,#ffec00 114px,#f8fe07 116px,#b2ff4d 118px,#39ffc6 121px,#09fff6 123px,#07fff8 125px,#2effd1 127px,#cdff32 132px,#ecff13 134px,#e7ff18 136px,#a6ff59 139px,#39ffc6 143px,#1effe1 145px,#20ffdf 147px,#55ffaa 150px,#b8ff47 154px,#dbff24 157px,#c6ff39 160px,#47ffb8 166px,#2affd5 169px,#3fffc0 172px,#b3ff4c 178px,#cfff30 181px,#beff41 184px,#45ffba 191px,#34ffcb 194px,#4cffb3 197px,#b2ff4d 203px,#c8ff37 206px,#b7ff48 209px,#4bffb4 216px,#3bffc4 219px)}
.l83{background:linear-gradient(90deg,#80ff80 0px,#80ff7f 81px,#72ff8d 82px,#157cba 83px,#000080 84px,#21398e 85px,#a73e1d 86px,#830000 87px,#db3b00 88px,#9eeb61 89px,#08acf7 90px,#0038ff 91px,#0036ff 92px,#008dff 93px,#20f1df 94px,#9cff63 95px,#f6e809 96px,#ffaa00 97px,#ff9400 98px,#ffa900 99px,#fde002 100px,#d0fe2f 101px,#33ffcc 103px,#04f4fb 104px,#00d5ff 105px,#00cbff 106px,#00daff 107px,#05f7fa 108px,#2effd1 109px,#cfff30 112px,#f4fe0b 113px,#ffeb00 115px,#fff500 116px,#f1ff0e 117px,#2effd1 122px,#05fffa 124px,#0afff5 126px,#38ffc7 128px,#bdff42 132px,#e7ff18 134px,#edff12 136px,#d0ff2f 138px,#46ffb9 143px,#22ffdd 145px,#1cffe3 147px,#48ffb7 150px,#c1ff3e 155px,#dcff23 158px,#beff41 161px,#3fffc0 167px,#2bffd4 169px,#39ffc6 172px,#bcff43 179px,#d0ff2f 182px,#b7ff48 185px,#4affb5 191px,#33ffcc 194px,#47ffb8 197px,#b9ff46 204px,#c7ff38 207px,#afff50 210px,#50ffaf 216px,#3affc5 219px)}
.l84{background:linear-gradient(90deg,#80ff80 0px,#80ff7f 82px,#71ff8e 83px,#147abb 84px,#000080 85px,#243b8c 86px,#a63b1b 87px,#840000 88px,#dc4301 89px,#91ed6e 90px,#05a0fa 91px,#0031ff 92px,#0038ff 93px,#0097ff 94px,#2af6d5 95px,#acff53 96px,#fadf05 97px,#ffa300 98px,#ff9300 99px,#ffaf00 100px,#fbe804 101px,#c3ff3c 102px,#26ffd9 104px,#01edfe 105px,#00cfff 106px,#00cbff 107px,#0bfbf4 109px,#dbff24 113px,#fafc05 114px,#ffec00 116px,#fef801 117px,#e9ff16 118px,#45ffba 122px,#0dfff2 124px,#03fffc 126px,#25ffda 128px,#c7ff38 133px,#ebff14 135px,#eaff15 137px,#c7ff38 139px,#3cffc3 144px,#1effe1 146px,#1fffe0 148px,#52ffad 151px,#b6ff49 155px,#d5ff2a 157px,#dbff24 159px,#b5ff4a 162px,#47ffb8 167px,#2affd5 170px,#3fffc0 173px,#c3ff3c 180px,#cfff30 183px,#aeff51 186px,#43ffbc 192px,#34ffcb 195px,#4effb1 198px,#b4ff4b 204px,#c8ff37 207px,#b5ff4a 210px,#48ffb7 217px,#3bffc4 219px)}
.l85{background:linear-gradient(90deg,#80ff80 0px,#80ff7f 83px,#71ff8e 84px,#1479bc 85px,#000080 86px,#263e89 87px,#a43919 88px,#850000 89px,#de4b02 90px,#84ee7b 91px,#0394fc 92px,#002aff 93px,#003bff 94px,#00a1ff 95px,#36f9c9 96px,#bafe45 97px,#fdd602 98px,#ff9c00 99px,#ff9200 100px,#ffb500 101px,#f7ee08 102px,#b5ff4a 103px,#61ff9e 104px,#1afee5 105px,#00e5ff 106px,#00cbff 107px,#00ccff 108px,#00e5ff 109px,#12fded 110px,#b8ff47 113px,#e6ff19 114px,#fef801 115px,#ffeb00 116px,#fbfb04 118px,#e0ff1f 119px,#3affc5 123px,#08fff7 125px,#00ffff 126px,#15ffea 128px,#71ff8e 131px,#d1ff2e 134px,#eeff11 136px,#e6ff19 138px,#a1ff5e 141px,#33ffcc 145px,#1bffe4 147px,#22ffdd 149px,#5dffa2 152px,#c0ff3f 156px,#d9ff26 158px,#d9ff26 160px,#abff54 163px,#3fffc0 168px,#29ffd6 171px,#47ffb8 174px,#bdff42 180px,#d0ff2f 183px,#b6ff49 186px,#48ffb7 192px,#33ffcc 195px,#48ffb7 198px,#bbff44 205px,#c7ff38 208px,#adff52 211px,#4dffb2 217px,#3cffc3 219px)}
.l86{background:linear-gradient(90deg,#80ff80 0px,#80ff7f 84px,#70ff8f 85px,#1378bc 86px,#000080 87px,#284087 88px,#a33716 89px,#870000 90px,#e05303 91px,#79ee86 92px,#0287fd 93px,#0025ff 94px,#003fff 95px,#01acfe 96px,#43fbbc 97px,#c8fd37 98px,#fecb01 99px,#ff9600 100px,#ff9300 101px,#ffbc00 102px,#f1f50e 103px,#53ffac 105px,#11fcee 106px,#00ddff 107px,#00c8ff 108px,#00ceff 109px,#01ebfe 110px,#1cffe3 111px,#c5ff3a 114px,#efff10 115px,#fff300 116px,#ffe900 117px,#f7fe08 119px,#acff53 121px,#2fffd0 124px,#04fffb 126px,#08fff7 128px,#38ffc7 130px,#c0ff3f 134px,#e9ff16 136px,#edff12 138px,#cdff32 140px,#40ffbf 145px,#1fffe0 147px,#1dffe2 149px,#39ffc6 151px,#c8ff37 157px,#dcff23 159px,#d5ff2a 161px,#a1ff5e 164px,#47ffb8 168px,#29ffd6 171px,#3fffc0 174px,#c4ff3b 181px,#cfff30 184px,#adff52 187px,#41ffbe 193px,#34ffcb 196px,#50ffaf 199px,#b6ff49 205px,#c8ff37 208px,#b3ff4c 211px,#46ffb9 218px,#3effc1 219px)}
.l87{background:linear-gradient(90deg,#80ff80 0px,#80ff7f 85px,#70ff8f 86px,#1277bd 87px,#000080 88px,#2b4384 89px,#a13514 90px,#890000 91px,#e25c04 92px,#6eee91 93px,#017bfe 94px,#0020ff 95px,#0044ff 96px,#02b7fd 97px,#51fdae 98px,#d4fa2b 99px,#ffc100 100px,#ff9100 101px,#ff9500 102px,#ffc300 103px,#e9f916 104px,#45ffba 106px,#09f8f6 107px,#00d5ff 108px,#00c6ff 109px,#00d1ff 110px,#02f1fd 111px,#27ffd8 112px,#d1ff2e 115px,#f7fd08 116px,#ffe800 118px,#fff300 119px,#f0ff0f 120px,#25ffda 125px,#01fefe 127px,#0dfff2 129px,#43ffbc 131px,#caff35 135px,#eeff11 137px,#eaff15 139px,#c4ff3b 141px,#37ffc8 146px,#1bffe4 148px,#20ffdf 150px,#5affa5 153px,#beff41 157px,#d9ff26 159px,#daff25 161px,#adff52 164px,#3fffc0 169px,#2affd5 171px,#38ffc7 174px,#beff41 181px,#d0ff2f 184px,#b5ff4a 187px,#47ffb8 193px,#33ffcc 196px,#4affb5 199px,#bdff42 206px,#c7ff38 209px,#aaff55 212px,#4affb5 218px,#41ffbe 219px)}
.l88{background:linear-gradient(90deg,#80ff80 0px,#80ff7f 86px,#6fff90 87px,#1276be 88px,#000080 89px,#2d4582 90px,#a03311 91px,#8a0000 92px,#e46406 93px,#61ed9e 94px,#006fff 95px,#001cff 96px,#0049ff 97px,#05c0fa 98px,#5ffea0 99px,#dff620 100px,#ffb600 101px,#ff8d00 102px,#ff9700 103px,#ffcc00 104px,#dffc20 105px,#37ffc8 107px,#04f2fb 108px,#00cfff 109px,#00c5ff 110px,#00d5ff 111px,#06f6f9 112px,#33ffcc 113px,#aaff55 115px,#dcff23 116px,#fcfa03 117px,#ffea00 118px,#ffe900 119px,#fef701 120px,#e8ff17 121px,#3dffc2 125px,#07fff8 127px,#03fffc 129px,#2dffd2 131px,#d4ff2b 136px,#f0ff0f 138px,#e6ff19 140px,#9cff63 143px,#2effd1 147px,#19ffe6 149px,#25ffda 151px,#65ff9a 154px,#c6ff39 158px,#dcff23 160px,#d6ff29 162px,#a2ff5d 165px,#47ffb8 169px,#29ffd6 172px,#32ffcd 174px,#7aff85 178px,#c4ff3b 182px,#cfff30 185px,#acff53 188px,#40ffbf 194px,#34ffcb 197px,#52ffad 200px,#b8ff47 206px,#c8ff37 209px,#b0ff4f 212px,#44ffbb 219px)}
.l89{background:linear-gradient(90deg,#80ff80 0px,#80ff7f 87px,#6fff90 88px,#1174be 89px,#000080 90px,#304880 91px,#9f3010 92px,#8c0000 93px,#e36b09 94px,#56eaa9 95px,#0063ff 96px,#0019ff 97px,#004fff 98px,#08caf7 99px,#6eff91 100px,#e9f216 101px,#ffad00 102px,#ff8900 103px,#ff9b00 104px,#fed401 105px,#d4fe2b 106px,#2affd5 108px,#02eafd 109px,#00caff 110px,#00c5ff 111px,#0bfaf4 113px,#b7ff48 116px,#e7ff18 117px,#fef501 118px,#ffe700 119px,#ffea00 120px,#fbfb04 121px,#deff21 122px,#32ffcd 126px,#14ffeb 127px,#03fefc 128px,#06fff9 130px,#36ffc9 132px,#c3ff3c 136px,#ecff13 138px,#eeff11 140px,#cbff34 142px,#3affc5 147px,#1cffe3 149px,#1effe1 151px,#3dffc2 153px,#bcff43 158px,#d9ff26 160px,#dbff24 162px,#afff50 165px,#3fffc0 170px,#28ffd7 173px,#47ffb8 176px,#beff41 182px,#d1ff2e 185px,#b4ff4b 188px,#45ffba 194px,#33ffcc 197px,#4bffb4 200px,#b3ff4c 206px,#c9ff36 209px,#b6ff49 212px,#48ffb7 219px)}
.l90{background:linear-gradient(90deg,#80ff80 0px,#80ff7f 88px,#6fff90 89px,#1172be 90px,#000080 91px,#304880 92px,#9f2c10 93px,#8e0100 94px,#e1750d 95px,#4ce5b3 96px,#0057ff 97px,#0016ff 98px,#0055ff 99px,#0cd3f3 100px,#7dff82 101px,#f0eb0f 102px,#ffa400 103px,#ff8700 104px,#ff9f00 105px,#fddd02 106px,#c8fe37 107px,#6dff92 108px,#1ffee0 109px,#00e2ff 110px,#00c5ff 111px,#00c6ff 112px,#00e1ff 113px,#13fdec 114px,#c3ff3c 117px,#f0fe0f 118px,#fff000 119px,#ffe500 120px,#f7fd08 122px,#a8ff57 124px,#28ffd7 127px,#0dfff2 128px,#00fdff 130px,#0afff5 131px,#41ffbe 133px,#cdff32 137px,#f0ff0f 139px,#eaff15 141px,#c1ff3e 143px,#49ffb6 147px,#22ffdd 149px,#19ffe6 151px,#31ffce 153px,#c5ff3a 159px,#dcff23 161px,#d8ff27 163px,#a4ff5b 166px,#48ffb7 170px,#28ffd7 173px,#3effc1 176px,#b7ff48 182px,#d1ff2e 185px,#bbff44 188px,#4cffb3 194px,#32ffcd 197px,#45ffba 200px,#baff45 207px,#c8ff37 210px,#aeff51 213px,#4cffb3 219px)}
.l91{background:linear-gradient(90deg,#80ff80 0px,#80ff7f 89px,#6eff91 90px,#1171be 91px,#000080 92px,#2f4880 93px,#9d2a10 94px,#8f0100 95px,#df7e10 96px,#42e0bd 97px,#004cff 98px,#0014ff 99px,#005dff 100px,#11dbee 101px,#8dff72 102px,#f5e30a 103px,#ff9c00 104px,#ff8500 105px,#ffa400 106px,#fae505 107px,#bbff44 108px,#5fffa0 109px,#14fceb 110px,#00daff 111px,#00c2ff 112px,#00c8ff 113px,#01e7fe 114px,#1cfee3 115px,#cfff30 118px,#f7fc08 119px,#ffe400 121px,#fff100 122px,#f1fe0e 123px,#41ffbe 127px,#07fff8 129px,#01fefe 131px,#2affd5 133px,#baff45 137px,#e9ff16 139px,#f1ff0e 141px,#d2ff2d 143px,#3fffc0 148px,#1dffe2 150px,#1bffe4 152px,#51ffae 155px,#baff45 159px,#d9ff26 161px,#dcff23 163px,#c5ff3a 165px,#3fffc0 171px,#28ffd7 174px,#46ffb9 177px,#bfff40 183px,#d1ff2e 186px,#b4ff4b 189px,#44ffbb 195px,#32ffcd 198px,#4cffb3 201px,#b5ff4a 207px,#c9ff36 210px,#b4ff4b 213px,#52ffad 219px)}
.l92{background:linear-gradient(90deg,#80ff80 0px,#80ff7f 90px,#6efe91 91px,#116fbe 92px,#000080 93px,#2f4982 94px,#9b280f 95px,#900200 96px,#dd8813 97px,#38dbc7 98px,#0041ff 99px,#0013ff 100px,#0065ff 101px,#17e3e8 102px,#9cff63 103px,#f9da06 104px,#ff9400 105px,#ff8500 106px,#ffaa00 107px,#f6ec09 108px,#adff52 109px,#51ffae 110px,#0cf8f3 111px,#00d3ff 112px,#00c0ff 113px,#00cbff 114px,#02eefd 115px,#27ffd8 116px,#a5ff5a 118px,#dbff24 119px,#fcf903 120px,#ffe700 121px,#ffe500 122px,#fef501 123px,#e8ff17 124px,#36ffc9 128px,#16ffe9 129px,#03fefc 130px,#04fefb 132px,#34ffcb 134px,#c4ff3b 138px,#eeff11 140px,#efff10 142px,#c9ff36 144px,#36ffc9 149px,#1affe5 151px,#1fffe0 153px,#5bffa4 156px,#c2ff3d 160px,#dcff23 162px,#daff25 164px,#a7ff58 167px,#49ffb6 171px,#28ffd7 174px,#3dffc2 177px,#b7ff48 183px,#d2ff2d 186px,#bbff44 189px,#4affb5 195px,#32ffcd 198px,#46ffb9 201px,#bcff43 208px,#c8ff37 211px,#acff53 214px,#57ffa8 219px)}
.l93{background:linear-gradient(90deg,#80ff80 0px,#80ff7f 91px,#6efe91 92px,#116dbf 93px,#000080 94px,#314782 95px,#99260e 96px,#920300 97px,#db9117 98px,#30d4cf 99px,#0037ff 100px,#0013ff 101px,#006dff 102px,#1fe9e0 103px,#abfe54 104px,#fcd003 105px,#ff8d00 106px,#ff8500 107px,#ffb100 108px,#f1f20e 109px,#9fff60 110px,#43ffbc 111px,#07f2f8 112px,#00ccff 113px,#00beff 114px,#00cfff 115px,#05f3fa 116px,#33ffcc 117px,#b2ff4d 119px,#e6ff19 120px,#fef301 121px,#ffe400 122px,#ffe700 123px,#fcf903 124px,#dfff20 125px,#2bffd4 129px,#0efff1 130px,#00fbff 132px,#07fff8 133px,#3effc1 135px,#ceff31 139px,#f1ff0e 141px,#ebff14 143px,#c0ff3f 145px,#45ffba 149px,#1effe1 151px,#19ffe6 153px,#35ffca 155px,#caff35 161px,#deff21 163px,#d5ff2a 165px,#9cff63 168px,#40ffbf 172px,#29ffd6 174px,#2cffd3 176px,#58ffa7 179px,#bfff40 184px,#d2ff2d 187px,#b3ff4c 190px,#43ffbc 196px,#32ffcd 199px,#4effb1 202px,#b7ff48 208px,#c9ff36 211px,#b3ff4c 214px,#5effa1 219px)}
.l94{background:linear-gradient(90deg,#7fff80 0px,#80ff7f 92px,#6dfe92 93px,#106cbf 94px,#000080 95px,#344583 96px,#97240d 97px,#940400 98px,#d7981d 99px,#29cbd6 100px,#002eff 101px,#0013ff 102px,#0076ff 103px,#29eed6 104px,#b9fd46 105px,#fec601 106px,#ff8800 107px,#ff8600 108px,#ffb900 109px,#e9f616 110px,#36ffc9 112px,#03ecfc 113px,#00c6ff 114px,#00beff 115px,#00d4ff 116px,#09f8f6 117px,#81ff7e 119px,#effe10 121px,#ffee00 122px,#ffe200 123px,#f8fc07 125px,#a6ff59 127px,#47ffb8 129px,#08fff7 131px,#00fbff 133px,#0cfff3 134px,#49ffb6 136px,#baff45 139px,#eaff15 141px,#f2ff0d 143px,#d1ff2e 145px,#3bffc4 150px,#1affe5 152px,#1cffe3 154px,#3dffc2 156px,#c0ff3f 161px,#dcff23 163px,#dbff24 165px,#aaff55 168px,#4affb5 172px,#27ffd8 175px,#3cffc3 178px,#b7ff48 184px,#cfff30 186px,#c8ff37 189px,#82ff7d 193px,#3dffc2 197px,#34ffcb 200px,#56ffa9 203px,#b1ff4e 208px,#c9ff36 211px,#b8ff47 214px,#65ff9a 219px)}
.l95{background:linear-gradient(90deg,#80ff80 0px,#7fff80 93px,#6dfe92 94px,#106abf 95px,#000080 96px,#364284 97px,#95210c 98px,#970500 99px,#d39f23 100px,#23c1dc 101px,#0025ff 102px,#0015fe 103px,#0080ff 104px,#32f3cd 105px,#c5fb3a 106px,#febc01 107px,#ff8300 108px,#ff8800 109px,#ffc100 110px,#e0fa1f 111px,#29fed6 113px,#01e4fe 114px,#00c1ff 115px,#00beff 116px,#00daff 117px,#10fbef 118px,#caff35 121px,#f6fc09 122px,#ffe800 123px,#ffe100 124px,#f3fe0c 126px,#3cffc3 130px,#19ffe6 131px,#03fefc 132px,#02fdfd 134px,#12ffed 135px,#c4ff3b 140px,#efff10 142px,#f0ff0f 144px,#c9ff36 146px,#33ffcc 151px,#18ffe7 153px,#20ffdf 155px,#61ff9e 158px,#c8ff37 162px,#dfff20 164px,#d8ff27 166px,#9fff60 169px,#42ffbd 173px,#29ffd6 175px,#34ffcb 178px,#bfff40 185px,#d2ff2d 188px,#b3ff4c 191px,#42ffbd 197px,#32ffcd 200px,#4effb1 203px,#b8ff47 209px,#c9ff36 212px,#b1ff4e 215px,#6cff93 219px)}
.l96{background:linear-gradient(90deg,#80ff80 0px,#7fff80 94px,#6dfe92 95px,#1069bf 96px,#000080 97px,#394085 98px,#941f0b 99px,#9a0600 100px,#cfa62a 101px,#1cb8e3 102px,#001dfe 103px,#0017fe 104px,#008aff 105px,#3ef6c1 106px,#d2f82d 107px,#ffb100 108px,#ff7e00 109px,#ff8b00 110px,#fec901 111px,#d5fc2a 112px,#1efde1 114px,#00dcff 115px,#00bdff 116px,#00c0ff 117px,#00e0ff 118px,#19fde6 119px,#d6ff29 122px,#fbf804 123px,#ffe400 124px,#ffe100 125px,#fff100 126px,#ebff14 127px,#31ffce 131px,#11ffee 132px,#01fcfe 133px,#04fefb 135px,#3affc5 137px,#ceff31 141px,#f3ff0c 143px,#ecff13 145px,#bfff40 147px,#41ffbe 151px,#1cffe3 153px,#19ffe6 155px,#37ffc8 157px,#bcff43 162px,#dbff24 164px,#ddff22 166px,#adff52 169px,#3affc5 174px,#27ffd8 176px,#2effd1 178px,#61ff9e 181px,#b7ff48 185px,#d3ff2c 188px,#bcff43 191px,#49ffb6 197px,#31ffce 200px,#47ffb8 203px,#beff41 210px,#c8ff37 213px,#a9ff56 216px,#74ff8b 219px)}
.l97{background:linear-gradient(90deg,#80ff80 0px,#7fff80 95px,#6cfe93 96px,#1067bf 97px,#000080 98px,#3b3e86 99px,#921d0a 100px,#9d0700 101px,#c9ae30 102px,#16afe9 103px,#0017fd 104px,#001afd 105px,#0194fe 106px,#4bf9b4 107px,#dbf324 108px,#ffa700 109px,#ff7b00 110px,#ff8f00 111px,#fed201 112px,#cafe35 113px,#66ff99 114px,#14faeb 115px,#00d3ff 116px,#00baff 117px,#00c3ff 118px,#01e7fe 119px,#23ffdc 120px,#a8ff57 122px,#e1ff1e 123px,#fef301 124px,#ffe100 125px,#ffe200 126px,#fdf602 127px,#e2ff1d 128px,#27ffd8 132px,#0afff5 133px,#00f9ff 135px,#08fff7 136px,#44ffbb 138px,#b9ff46 141px,#ebff14 143px,#f4ff0b 145px,#d2ff2d 147px,#38ffc7 152px,#18ffe7 154px,#1cffe3 156px,#5affa5 159px,#c5ff3a 163px,#deff21 165px,#daff25 167px,#a3ff5c 170px,#43ffbc 174px,#29ffd6 176px,#29ffd6 178px,#55ffaa 181px,#bfff40 186px,#d2ff2d 188px,#c3ff3c 191px,#42ffbd 198px,#32ffcd 201px,#4fffb0 204px,#b9ff46 210px,#caff35 213px,#b0ff4f 216px,#7cff83 219px)}
.l98{background:linear-gradient(90deg,#80ff80 0px,#7fff80 96px,#6cfd93 97px,#1066c0 98px,#000080 99px,#3e3c86 100px,#911b08 101px,#9f0a00 102px,#c4b636 103px,#13a4ec 104px,#0011fc 105px,#001efd 106px,#029efd 107px,#57fca8 108px,#e5ef1a 109px,#ff9e00 110px,#ff7800 111px,#ff9300 112px,#fcda03 113px,#bdff42 114px,#58ffa7 115px,#0df6f2 116px,#00ccff 117px,#00b8ff 118px,#00c6ff 119px,#03edfc 120px,#2effd1 121px,#b5ff4a 123px,#ebfe14 124px,#ffed00 125px,#ffde00 126px,#ffe400 127px,#fbf904 128px,#d8ff27 129px,#44ffbb 132px,#1effe1 133px,#05fefa 134px,#00faff 136px,#0dfff2 137px,#4fffb0 139px,#c3ff3c 142px,#f0ff0f 144px,#f1ff0e 146px,#c9ff36 148px,#49ffb6 152px,#1effe1 154px,#17ffe8 156px,#32ffcd 158px,#b8ff47 163px,#daff25 165px,#dfff20 167px,#b1ff4e 170px,#3bffc4 175px,#27ffd8 177px,#39ffc6 180px,#b7ff48 186px,#d3ff2c 189px,#bcff43 192px,#48ffb7 198px,#31ffce 201px,#48ffb7 204px,#b3ff4c 210px,#caff35 213px,#b6ff49 216px,#84ff7b 219px)}
.l99{background:linear-gradient(90deg,#80ff80 0px,#7fff80 97px,#6cfd93 98px,#0f64c0 99px,#000080 100px,#403b87 101px,#901907 102px,#a10c00 103px,#bebe3c 104px,#0f98f0 105px,#000df9 106px,#0022fd 107px,#04a9fb 108px,#65fd9a 109px,#ece813 110px,#ff9500 111px,#ff7600 112px,#ff9800 113px,#f9e206 114px,#b0ff4f 115px,#4affb5 116px,#07f0f8 117px,#00c5ff 118px,#00b7ff 119px,#00caff 120px,#06f3f9 121px,#3affc5 122px,#c2ff3d 124px,#f3fd0c 125px,#ffdd00 127px,#f6fc09 129px,#9bff64 131px,#39ffc6 133px,#15ffea 134px,#01fcfe 135px,#02fcfd 137px,#14ffeb 138px,#cdff32 143px,#f4ff0b 145px,#eeff11 147px,#c0ff3f 149px,#3fffc0 153px,#1affe5 155px,#19ffe6 157px,#3affc5 159px,#c1ff3e 164px,#deff21 166px,#dcff23 168px,#a7ff58 171px,#45ffba 175px,#2affd5 177px,#28ffd7 179px,#53ffac 182px,#beff41 187px,#d3ff2c 190px,#b4ff4b 193px,#41ffbe 199px,#31ffce 202px,#4fffb0 205px,#baff45 211px,#caff35 214px,#afff50 217px,#8dff72 219px)}
.l100{background:linear-gradient(90deg,#80ff80 0px,#7fff80 98px,#6bfd94 99px,#0f63c0 100px,#000080 101px,#433c84 102px,#911706 103px,#a30f00 104px,#b6c245 105px,#0c8df3 106px,#000af7 107px,#0026fc 108px,#06b2f9 109px,#73fe8c 110px,#f1e00e 111px,#ff8d00 112px,#ff7500 113px,#ff9e00 114px,#f4e90b 115px,#a2ff5d 116px,#3dffc2 117px,#04e9fb 118px,#00bfff 119px,#00b6ff 120px,#00d0ff 121px,#0bf8f4 122px,#ceff31 125px,#f9f906 126px,#ffe300 127px,#ffdc00 128px,#ffec00 129px,#effe10 130px,#2effd1 134px,#0dfff2 135px,#00f9ff 136px,#04fdfb 138px,#3effc1 140px,#d6ff29 144px,#f7ff08 146px,#e9ff16 148px,#b6ff49 150px,#36ffc9 154px,#16ffe9 156px,#1cffe3 158px,#5effa1 161px,#c9ff36 165px,#e0ff1f 167px,#d8ff27 169px,#9dff62 172px,#3dffc2 176px,#27ffd8 178px,#2bffd4 180px,#5dffa2 183px,#b6ff49 187px,#d3ff2c 190px,#caff35 192px,#82ff7d 196px,#3bffc4 200px,#33ffcc 203px,#58ffa7 206px,#b4ff4b 211px,#caff35 214px,#b5ff4a 217px,#95ff6a 219px)}
.l101{background:linear-gradient(90deg,#7fff80 0px,#7fff80 99px,#6bfd94 100px,#0f61c0 101px,#000080 102px,#473e81 103px,#921505 104px,#a51200 105px,#adc54f 106px,#0983f6 107px,#0007f5 108px,#002bfc 109px,#09bcf6 110px,#82ff7d 111px,#f6d809 112px,#ff8600 113px,#ff7500 114px,#ffa500 115px,#eff010 116px,#94ff6b 117px,#30fecf 118px,#01e2fe 119px,#00baff 120px,#00b7ff 121px,#00d6ff 122px,#12fbed 123px,#d9ff26 126px,#fdf502 127px,#ffdf00 128px,#ffdd00 129px,#fef101 130px,#e7ff18 131px,#24ffdb 135px,#07fef8 136px,#00f7ff 138px,#08fef7 139px,#49ffb6 141px,#c1ff3e 144px,#f1ff0e 146px,#f3ff0c 148px,#caff35 150px,#47ffb8 154px,#1cffe3 156px,#16ffe9 158px,#33ffcc 160px,#bdff42 165px,#ddff22 167px,#deff21 169px,#abff54 172px,#48ffb7 176px,#2affd5 178px,#27ffd8 180px,#51ffae 183px,#beff41 188px,#d4ff2b 191px,#b5ff4a 194px,#41ffbe 200px,#31ffce 203px,#50ffaf 206px,#bbff44 212px,#caff35 215px,#aeff51 218px,#9dff62 219px)}
.l102{background:linear-gradient(90deg,#80ff80 0px,#7fff80 100px,#6bfd94 101px,#0f60c0 102px,#000080 103px,#4a407d 104px,#931304 105px,#a81500 106px,#a4c958 107px,#0678f9 108px,#0005f2 109px,#0031fc 110px,#0cc6f3 111px,#90fe6f 112px,#f9ce06 113px,#ff7f00 114px,#ff7600 115px,#ffad00 116px,#e8f417 117px,#86ff79 118px,#25fdda 119px,#00d9ff 120px,#00b6ff 121px,#00b9ff 122px,#00dcff 123px,#1bfde4 124px,#a7ff58 126px,#e4ff1b 127px,#feef01 128px,#ffdb00 129px,#ffdf00 130px,#fdf502 131px,#deff21 132px,#44ffbb 135px,#1bffe4 136px,#03fcfc 137px,#00f4ff 138px,#00f9ff 139px,#0efff1 140px,#54ffab 142px,#cbff34 145px,#f5ff0a 147px,#f0ff0f 149px,#c1ff3e 151px,#3dffc2 155px,#18ffe7 157px,#18ffe7 159px,#3cffc3 161px,#c5ff3a 166px,#e0ff1f 168px,#dbff24 170px,#a1ff5e 173px,#3fffc0 177px,#27ffd8 179px,#2affd5 181px,#5bffa4 184px,#b5ff4a 188px,#d4ff2b 191px,#beff41 194px,#48ffb7 200px,#30ffcf 203px,#48ffb7 206px,#b5ff4a 212px,#cbff34 215px,#b5ff4a 218px,#a5ff5a 219px)}
.l103{background:linear-gradient(90deg,#80ff80 0px,#7fff80 101px,#6bfd94 102px,#0f5ec1 103px,#000080 104px,#4d437a 105px,#941103 106px,#aa1800 107px,#9dcc61 108px,#056df9 109px,#0004f0 110px,#0037fc 111px,#12cded 112px,#9efe61 113px,#fcc403 114px,#ff7900 115px,#ff7700 116px,#ffb500 117px,#dff820 118px,#1afbe5 120px,#00d1ff 121px,#00b3ff 122px,#00bbff 123px,#01e3fe 124px,#25feda 125px,#b4ff4b 127px,#edfe12 128px,#ffe900 129px,#ffd900 130px,#ffe200 131px,#faf905 132px,#d4ff2b 133px,#38ffc7 136px,#12ffed 137px,#01f9fe 138px,#00f3ff 139px,#01fbfe 140px,#14ffeb 141px,#d4ff2b 146px,#f8ff07 148px,#ebff14 150px,#b7ff48 152px,#34ffcb 156px,#15ffea 158px,#1cffe3 160px,#61ff9e 163px,#cdff32 167px,#e2ff1d 169px,#d7ff28 171px,#97ff68 174px,#38ffc7 178px,#25ffda 180px,#2effd1 182px,#65ff9a 185px,#bdff42 189px,#d4ff2b 192px,#b7ff48 195px,#41ffbe 201px,#31ffce 204px,#4fffb0 207px,#bcff43 213px,#caff35 216px,#adff52 219px)}
.l104{background:linear-gradient(90deg,#80ff80 0px,#7fff80 102px,#6afd95 103px,#0f5dc1 104px,#000080 105px,#504577 106px,#951002 107px,#ad1a00 108px,#96ce68 109px,#0461fa 110px,#0003ed 111px,#003efd 112px,#17d5e8 113px,#acfc53 114px,#fdba02 115px,#ff7400 116px,#ff7a00 117px,#ffbd00 118px,#d5fb2a 119px,#6aff95 120px,#12f7ed 121px,#00c9ff 122px,#00b0ff 123px,#00beff 124px,#03eafc 125px,#30ffcf 126px,#c1ff3e 128px,#f5fb0a 129px,#ffe300 130px,#ffd800 131px,#f5fc0a 133px,#93ff6c 135px,#2effd1 137px,#0bfff4 138px,#00f3ff 140px,#04fdfb 141px,#1cffe3 142px,#bdff42 146px,#f1ff0e 148px,#faff05 149px,#e6ff19 151px,#89ff76 154px,#2cffd3 157px,#13ffec 159px,#21ffde 161px,#6cff93 164px,#c1ff3e 167px,#dfff20 169px,#deff21 171px,#a7ff58 174px,#42ffbd 178px,#27ffd8 180px,#28ffd7 182px,#58ffa7 185px,#b3ff4c 189px,#d4ff2b 192px,#bfff40 195px,#48ffb7 201px,#30ffcf 204px,#47ffb8 207px,#b6ff49 213px,#cbff34 216px,#b4ff4b 219px)}
.l105{background:linear-gradient(90deg,#80ff80 0px,#7fff80 103px,#6afc95 104px,#0e5bc1 105px,#000080 106px,#524974 107px,#941001 108px,#b11d00 109px,#8fd070 110px,#0357fa 111px,#0002eb 112px,#0045fd 113px,#1ddde2 114px,#b8fa47 115px,#feb001 116px,#ff6f00 117px,#ff7d00 118px,#fec501 119px,#cafd35 120px,#5cffa3 121px,#0bf2f4 122px,#00c2ff 123px,#00afff 124px,#00c3ff 125px,#06f0f9 126px,#3cffc3 127px,#cdff32 129px,#faf705 130px,#ffde00 131px,#ffd800 132px,#ffea00 133px,#eefe11 134px,#24ffdb 138px,#06fdf9 139px,#00f4ff 141px,#07fef8 142px,#4cffb3 144px,#c7ff38 147px,#f5ff0a 149px,#faff05 150px,#dfff20 152px,#3cffc3 157px,#16ffe9 159px,#18ffe7 161px,#3dffc2 163px,#c9ff36 168px,#e2ff1d 170px,#daff25 172px,#9cff63 175px,#3affc5 179px,#25ffda 181px,#2cffd3 183px,#62ff9d 186px,#bbff44 190px,#d2ff2d 192px,#d1ff2e 194px,#a5ff5a 197px,#41ffbe 202px,#30ffcf 205px,#4fffb0 208px,#bdff42 214px,#caff35 217px,#baff45 219px)}
.l106{background:linear-gradient(90deg,#80ff80 0px,#7fff80 104px,#6afc95 105px,#0e5ac1 106px,#000080 107px,#534d71 108px,#931000 109px,#b52200 110px,#87d278 111px,#024ef9 112px,#0002e9 113px,#004cfe 114px,#25e3da 115px,#c4f73b 116px,#ffa600 117px,#ff6b00 118px,#ff8000 119px,#fdce02 120px,#befe41 121px,#4effb1 122px,#06ecf9 123px,#00bbff 124px,#00aeff 125px,#00c8ff 126px,#0af5f5 127px,#48ffb7 128px,#d8ff27 130px,#fdf202 131px,#ffda00 132px,#ffd900 133px,#feef01 134px,#e6ff19 135px,#45ffba 138px,#1affe5 139px,#02fbfd 140px,#00f1ff 141px,#00f6ff 142px,#0dfff2 143px,#57ffa8 145px,#d1ff2e 148px,#f9ff06 150px,#faff05 151px,#d8ff27 153px,#33ffcc 158px,#13ffec 160px,#1bffe4 162px,#63ff9c 165px,#bbff44 168px,#deff21 170px,#e0ff1f 172px,#c3ff3c 174px,#45ffba 179px,#28ffd7 181px,#27ffd8 183px,#54ffab 186px,#c3ff3c 191px,#d4ff2b 193px,#cdff32 195px,#9cff63 198px,#49ffb6 202px,#2fffd0 205px,#47ffb8 208px,#b6ff49 214px,#cbff34 217px,#c0ff3f 219px)}
.l107{background:linear-gradient(90deg,#80ff80 0px,#7fff80 105px,#69fc96 106px,#0e58c1 107px,#000080 108px,#524f70 109px,#910f00 110px,#b62701 111px,#7cd283 112px,#0144f9 113px,#0002e8 114px,#0055fe 115px,#2ee8d1 116px,#cff330 117px,#ff9c00 118px,#ff6800 119px,#ff8500 120px,#fad605 121px,#b1ff4e 122px,#41ffbe 123px,#03e4fc 124px,#00b6ff 125px,#00aeff 126px,#00cdff 127px,#10f9ef 128px,#e3ff1c 131px,#feec01 132px,#ffd700 133px,#ffdb00 134px,#fdf302 135px,#dcff23 136px,#3affc5 139px,#12ffed 140px,#00f7ff 141px,#00f0ff 142px,#01f9fe 143px,#13ffec 144px,#daff25 149px,#f1ff0e 150px,#fbff04 151px,#e9ff16 153px,#afff50 155px,#2bffd4 159px,#12ffed 161px,#20ffdf 163px,#6eff91 166px,#c4ff3b 169px,#e1ff1e 171px,#ddff22 173px,#a2ff5d 176px,#3dffc2 180px,#25ffda 182px,#2affd5 184px,#5effa1 187px,#baff45 191px,#d2ff2d 193px,#d2ff2d 195px,#a7ff58 198px,#41ffbe 203px,#30ffcf 206px,#4fffb0 209px,#bdff42 215px,#caff35 218px,#c5ff3a 219px)}
.l108{background:linear-gradient(90deg,#80ff80 0px,#7fff80 106px,#69fc96 107px,#0e57c1 108px,#000080 109px,#515070 110px,#900e00 111px,#b82b02 112px,#72d28d 113px,#003cf8 114px,#0003e6 115px,#005dfe 116px,#38edc7 117px,#d8ef27 118px,#ff9300 119px,#ff6600 120px,#ff8a00 121px,#f8de07 122px,#a4ff5b 123px,#34fecb 124px,#01dcfe 125px,#00b1ff 126px,#00afff 127px,#00d4ff 128px,#18fce7 129px,#aeff51 131px,#ecfd13 132px,#ffe600 133px,#ffd500 134px,#ffdd00 135px,#faf805 136px,#d2ff2d 137px,#2fffd0 140px,#0bfef4 141px,#00f0ff 143px,#03fbfc 144px,#1bffe4 145px,#c2ff3d 149px,#e2ff1d 150px,#fcff03 152px,#e3ff1c 154px,#3cffc3 159px,#15ffea 161px,#17ffe8 163px,#3dffc2 165px,#ccff33 170px,#e3ff1c 172px,#d9ff26 174px,#98ff67 177px,#36ffc9 181px,#23ffdc 183px,#2effd1 185px,#68ff97 188px,#c1ff3e 192px,#d5ff2a 194px,#ceff31 196px,#9dff62 199px,#49ffb6 203px,#2fffd0 206px,#46ffb9 209px,#b7ff48 215px,#ccff33 218px,#c8ff37 219px)}
.l109{background:linear-gradient(90deg,#80ff80 0px,#7fff80 107px,#69fc96 108px,#0e56c1 109px,#000080 110px,#4f5170 111px,#8e0d00 112px,#ba3003 113px,#6bcf94 114px,#0034f5 115px,#0004e5 116px,#0067fe 117px,#41f2be 118px,#e1ea1e 119px,#ff8a00 120px,#ff6400 121px,#ff9000 122px,#f3e50c 123px,#96ff69 124px,#29fdd6 125px,#00d4ff 126px,#00adff 127px,#00b1ff 128px,#01dbfe 129px,#21fdde 130px,#baff45 132px,#f3fb0c 133px,#ffe000 134px,#ffd300 135px,#f5fb0a 137px,#8eff71 139px,#25ffda 141px,#05fdfa 142px,#00f0ff 143px,#06fdf9 145px,#4dffb2 147px,#ccff33 150px,#e9ff16 151px,#f9ff06 152px,#fcff03 153px,#dcff23 155px,#33ffcc 160px,#12ffed 162px,#1affe5 164px,#64ff9b 167px,#beff41 170px,#e0ff1f 172px,#e0ff1f 174px,#c1ff3e 176px,#41ffbe 181px,#26ffd9 183px,#28ffd7 185px,#5affa5 188px,#b8ff47 192px,#d6ff29 195px,#bcff43 198px,#42ffbd 204px,#2fffd0 207px,#4effb1 210px,#bdff42 216px,#cbff34 219px)}
.l110{background:linear-gradient(90deg,#80ff80 0px,#7fff80 108px,#69fc96 109px,#0d55c1 110px,#000080 111px,#4d5270 112px,#8c0c00 113px,#bc3404 114px,#63cc9c 115px,#002cf3 116px,#0006e4 117px,#0070fe 118px,#4df4b2 119px,#e8e217 120px,#ff8100 121px,#ff6400 122px,#ff9600 123px,#eeec11 124px,#88ff77 125px,#1ffbe0 126px,#00ccff 127px,#00aaff 128px,#00b4ff 129px,#01e2fe 130px,#2cfed3 131px,#c7ff38 133px,#f9f706 134px,#ffdb00 135px,#ffd300 136px,#ffe600 137px,#effd10 138px,#4affb5 141px,#1cffe3 142px,#02fafd 143px,#00eeff 144px,#0bfef4 146px,#58ffa7 148px,#d5ff2a 151px,#efff10 152px,#fcff03 153px,#fbff04 154px,#d4ff2b 156px,#2bffd4 161px,#10ffef 163px,#1fffe0 165px,#6fff90 168px,#c6ff39 171px,#e3ff1c 173px,#ddff22 175px,#9eff61 178px,#39ffc6 182px,#23ffdc 184px,#2bffd4 186px,#64ff9b 189px,#bfff40 193px,#d5ff2a 195px,#d0ff2f 197px,#a0ff5f 200px,#4affb5 204px,#2fffd0 207px,#45ffba 210px,#b7ff48 216px,#ccff33 219px)}
.l111{background:linear-gradient(90deg,#80ff80 0px,#7fff80 109px,#68fc97 110px,#0d55c0 111px,#000080 112px,#4c5370 113px,#8b0b00 114px,#be3905 115px,#5ccaa3 116px,#0025f0 117px,#0007e3 118px,#0179fd 119px,#5af7a5 120px,#eddb12 121px,#ff7a00 122px,#ff6400 123px,#ff9d00 124px,#e7f118 125px,#7aff85 126px,#16f7e9 127px,#00c4ff 128px,#00a7ff 129px,#00b8ff 130px,#03e8fc 131px,#37ffc8 132px,#d2ff2d 134px,#fcf203 135px,#ffd600 136px,#ffd400 137px,#ffeb00 138px,#e7fe18 139px,#3effc1 142px,#13ffec 143px,#00f6ff 144px,#00edff 145px,#00f6ff 146px,#11ffee 147px,#bcff43 151px,#f4ff0b 153px,#fdff02 154px,#f9ff06 155px,#ccff33 157px,#3dffc2 161px,#14ffeb 163px,#15ffea 165px,#3dffc2 167px,#ceff31 172px,#e5ff1a 174px,#d8ff27 176px,#94ff6b 179px,#45ffba 182px,#27ffd8 184px,#26ffd9 186px,#56ffa9 189px,#b5ff4a 193px,#d6ff29 196px,#beff41 199px,#43ffbc 205px,#2fffd0 208px,#4dffb2 211px,#bdff42 217px,#ccff33 219px)}
.l112{background:linear-gradient(90deg,#80ff80 0px,#7fff80 110px,#68fb97 111px,#0d55bf 112px,#000080 113px,#4a5470 114px,#890a00 115px,#c03e06 116px,#55c7aa 117px,#001fed 118px,#0008e4 119px,#0283fc 120px,#66f999 121px,#f3d30c 122px,#ff7200 123px,#ff6400 124px,#ffa500 125px,#dff520 126px,#6dff92 127px,#0ff2f0 128px,#00bcff 129px,#00a6ff 130px,#00bcff 131px,#07eef8 132px,#43ffbc 133px,#ddff22 135px,#feeb01 136px,#ffd300 137px,#ffd500 138px,#fdf002 139px,#deff21 140px,#33ffcc 143px,#0cfef3 144px,#00edff 146px,#02f9fd 147px,#19ffe6 148px,#c6ff39 152px,#e6ff19 153px,#f9ff06 154px,#feff01 155px,#e1ff1e 157px,#34ffcb 162px,#11ffee 164px,#19ffe6 166px,#46ffb9 168px,#c0ff3f 172px,#e1ff1e 174px,#e0ff1f 176px,#bfff40 178px,#3dffc2 183px,#24ffdb 185px,#29ffd6 187px,#60ff9f 190px,#bdff42 194px,#d4ff2b 196px,#d1ff2e 198px,#a2ff5d 201px,#3cffc3 206px,#2effd1 208px,#44ffbb 211px,#b6ff49 217px,#caff35 219px)}
.l113{background:linear-gradient(90deg,#80ff80 0px,#7fff80 111px,#68fb97 112px,#0d54be 113px,#000080 114px,#485570 115px,#880900 116px,#c24307 117px,#4dc5b2 118px,#001ae9 119px,#000ae4 120px,#038cfc 121px,#72fb8d 122px,#f6ca09 123px,#ff6c00 124px,#ff6600 125px,#ffad00 126px,#d6f829 127px,#5fffa0 128px,#0aecf5 129px,#00b6ff 130px,#00a5ff 131px,#00c1ff 132px,#0bf4f4 133px,#50ffaf 134px,#a2ff5d 135px,#e7fd18 136px,#ffe500 137px,#ffd000 138px,#ffd800 139px,#fbf404 140px,#d4ff2b 141px,#29ffd6 144px,#06fcf9 145px,#00eeff 146px,#00eeff 147px,#04fbfb 148px,#21ffde 149px,#d0ff2f 153px,#fcff03 155px,#fdff02 156px,#d9ff26 158px,#2cffd3 163px,#0ffff0 165px,#1effe1 167px,#6fff90 170px,#c8ff37 173px,#e4ff1b 175px,#ddff22 177px,#9bff64 180px,#35ffca 184px,#22ffdd 186px,#2dffd2 188px,#6aff95 191px,#c4ff3b 195px,#d6ff29 197px,#ceff31 199px,#82ff7d 203px,#44ffbb 206px,#2effd1 209px,#4bffb4 212px,#bdff42 218px,#c7ff38 219px)}
.l114{background:linear-gradient(90deg,#80ff80 0px,#7fff80 112px,#67fb98 113px,#0d54be 114px,#000080 115px,#485770 116px,#870800 117px,#c34709 118px,#45c1ba 119px,#0016e5 120px,#000ce4 121px,#0596fa 122px,#7ffb80 123px,#f9c006 124px,#ff6600 125px,#ff6800 126px,#feb501 127px,#cbfa34 128px,#52ffad 129px,#05e5fa 130px,#00b0ff 131px,#00a5ff 132px,#00c7ff 133px,#11f8ee 134px,#afff50 136px,#effb10 137px,#ffdf00 138px,#ffcf00 139px,#ffdb00 140px,#f8f807 141px,#c9ff36 142px,#51ffae 144px,#1fffe0 145px,#02f9fd 146px,#00ecff 147px,#08fdf7 149px,#57ffa8 151px,#d9ff26 154px,#f2ff0d 155px,#feff01 156px,#fcff03 157px,#d1ff2e 159px,#3fffc0 163px,#14ffeb 165px,#14ffeb 167px,#3cffc3 169px,#b8ff47 173px,#dfff20 175px,#e3ff1c 177px,#c5ff3a 179px,#41ffbe 184px,#24ffdb 186px,#26ffd9 188px,#5bffa4 191px,#bbff44 195px,#d4ff2b 197px,#d3ff2c 199px,#a5ff5a 202px,#3dffc2 207px,#2fffd0 210px,#54ffab 213px,#b6ff49 218px,#c3ff3c 219px)}
.l115{background:linear-gradient(90deg,#80ff80 0px,#7fff80 113px,#67fb98 114px,#0d53bd 115px,#000080 116px,#49576e 117px,#870700 118px,#c34a0c 119px,#3fbac0 120px,#0011e2 121px,#000fe5 122px,#089ff7 123px,#8cfb73 124px,#fbb704 125px,#ff6100 126px,#ff6a00 127px,#febe01 128px,#c0fd3f 129px,#45feba 130px,#03ddfc 131px,#00aaff 132px,#00a6ff 133px,#00ceff 134px,#19fbe6 135px,#bbff44 137px,#f6f809 138px,#ffd900 139px,#ffce00 140px,#ffdf00 141px,#f2fb0d 142px,#46ffb9 145px,#16ffe9 146px,#01f5fe 147px,#00eaff 148px,#00f2ff 149px,#0efef1 150px,#beff41 154px,#f8ff07 156px,#fffe00 157px,#f9ff06 158px,#c8ff37 160px,#36ffc9 164px,#10ffef 166px,#17ffe8 168px,#44ffbb 170px,#c1ff3e 174px,#e3ff1c 176px,#e1ff1e 178px,#a3ff5c 181px,#39ffc6 185px,#22ffdd 187px,#2affd5 189px,#65ff9a 192px,#c2ff3d 196px,#d6ff29 198px,#d0ff2f 200px,#9cff63 203px,#45ffba 207px,#2effd1 210px,#4affb5 213px,#bdff42 219px)}
.l116{background:linear-gradient(90deg,#80ff80 0px,#7fff80 114px,#67fb98 115px,#0c53bc 116px,#000080 117px,#4d546b 118px,#870600 119px,#c1500f 120px,#3ab2c5 121px,#000ede 122px,#0012e6 123px,#0ba8f4 124px,#99fb66 125px,#fdad02 126px,#ff5c00 127px,#ff6e00 128px,#fcc603 129px,#b4fe4b 130px,#38fec7 131px,#01d5fe 132px,#00a6ff 133px,#00a8ff 134px,#00d4ff 135px,#22fddd 136px,#c7ff38 138px,#faf305 139px,#ffd400 140px,#ffce00 141px,#ffe400 142px,#ebfd14 143px,#3bffc4 146px,#0efef1 147px,#00f1ff 148px,#00eaff 149px,#01f5fe 150px,#15ffea 151px,#c8ff37 155px,#e8ff17 156px,#fbff04 157px,#fffe00 158px,#f6ff09 159px,#bfff40 161px,#4cffb3 164px,#18ffe7 166px,#0ffff0 168px,#31ffce 170px,#c9ff36 175px,#e6ff19 177px,#ddff22 179px,#99ff66 182px,#46ffb9 185px,#26ffd9 187px,#24ffdb 189px,#40ffbf 191px,#b7ff48 196px,#d3ff2c 198px,#d5ff2a 200px,#a8ff57 203px,#3fffc0 208px,#2effd1 210px,#35ffca 212px,#7bff84 216px,#b5ff4a 219px)}
.l117{background:linear-gradient(90deg,#80ff80 0px,#7fff80 115px,#67fb98 116px,#0c52bb 117px,#000080 118px,#515167 119px,#880500 120px,#c05612 121px,#35aaca 122px,#000bd9 123px,#0015e7 124px,#0eb2f1 125px,#a4f95b 126px,#fea301 127px,#ff5900 128px,#ff7200 129px,#face05 130px,#a7fe58 131px,#2dfcd2 132px,#00cdff 133px,#00a2ff 134px,#00aaff 135px,#01dcfe 136px,#2cfed3 137px,#d3ff2c 139px,#fded02 140px,#ffd000 141px,#ffcf00 142px,#feea01 143px,#e3fe1c 144px,#30ffcf 147px,#08fdf7 148px,#00edff 149px,#00eaff 150px,#02f9fd 151px,#1dffe2 152px,#d2ff2d 156px,#efff10 157px,#fefe01 158px,#f2ff0d 160px,#b5ff4a 162px,#42ffbd 165px,#14ffeb 167px,#12ffed 169px,#39ffc6 171px,#b9ff46 175px,#e1ff1e 177px,#e4ff1b 179px,#c4ff3b 181px,#3effc1 186px,#23ffdc 188px,#27ffd8 190px,#5fffa0 193px,#bfff40 197px,#d6ff29 199px,#d2ff2d 201px,#9fff60 204px,#47ffb8 208px,#2dffd2 211px,#48ffb7 214px,#adff52 219px)}
.l118{background:linear-gradient(90deg,#80ff80 0px,#7fff80 116px,#66fb99 117px,#0c52bb 118px,#000080 119px,#544f63 120px,#890400 121px,#bf5d15 122px,#30a3ce 123px,#0009d5 124px,#0019e8 125px,#12baed 126px,#b0f74f 127px,#ff9900 128px,#ff5500 129px,#ff7600 130px,#f7d708 131px,#9aff65 132px,#23fadc 133px,#00c4ff 134px,#009fff 135px,#00adff 136px,#03e2fc 137px,#38ffc7 138px,#ddfe22 140px,#fee701 141px,#ffcd00 142px,#ffd100 143px,#fdef02 144px,#d9ff26 145px,#26ffd9 148px,#04fafb 149px,#00eaff 150px,#00ebff 151px,#05fbfa 152px,#25ffda 153px,#b4ff4b 156px,#f5ff0a 158px,#fdfe02 160px,#cfff30 162px,#39ffc6 166px,#10ffef 168px,#15ffea 170px,#42ffbd 172px,#c2ff3d 176px,#e4ff1b 178px,#e1ff1e 180px,#bcff43 182px,#36ffc9 187px,#21ffde 189px,#2bffd4 191px,#69ff96 194px,#c6ff39 198px,#d8ff27 200px,#cdff32 202px,#95ff6a 205px,#40ffbf 209px,#2effd1 212px,#50ffaf 215px,#a3ff5c 219px)}
.l119{background:linear-gradient(90deg,#80ff80 0px,#7fff80 117px,#66fa99 118px,#0c52ba 119px,#000080 120px,#584c5f 121px,#8a0400 122px,#be6318 123px,#2a9dd3 124px,#0007d2 125px,#001cea 126px,#18c2e7 127px,#bcf443 128px,#ff9000 129px,#ff5300 130px,#ff7c00 131px,#f3de0c 132px,#8dff72 133px,#1af6e5 134px,#00bcff 135px,#009dff 136px,#00b1ff 137px,#05e9fa 138px,#43ffbc 139px,#9cff63 140px,#e7fd18 141px,#ffe000 142px,#ffca00 143px,#ffd400 144px,#fbf404 145px,#cfff30 146px,#50ffaf 148px,#1cffe3 149px,#01f6fe 150px,#00e8ff 151px,#09fdf6 153px,#5effa1 155px,#beff41 157px,#e3ff1c 158px,#faff05 159px,#faff05 161px,#c6ff39 163px,#30ffcf 167px,#0dfff2 169px,#19ffe6 171px,#6dff92 174px,#caff35 177px,#e7ff18 179px,#ddff22 181px,#b3ff4c 183px,#43ffbc 187px,#24ffdb 189px,#24ffdb 191px,#59ffa6 194px,#bcff43 198px,#d5ff2a 200px,#d4ff2b 202px,#a3ff5c 205px,#49ffb6 209px,#30ffcf 211px,#2fffd0 213px,#58ffa7 216px,#98ff67 219px)}
.l120{background:linear-gradient(90deg,#80ff80 0px,#7fff80 118px,#66fa99 119px,#0c51b9 120px,#000080 121px,#5c495b 122px,#8a0300 123px,#bd6a1b 124px,#2596d7 125px,#0005ce 126px,#0021ec 127px,#1dc9e2 128px,#c5f03a 129px,#ff8600 130px,#ff5100 131px,#ff8200 132px,#eee411 133px,#7fff80 134px,#12f2ed 135px,#00b5ff 136px,#009cff 137px,#00b6ff 138px,#09eef6 139px,#50ffaf 140px,#a9ff56 141px,#effa10 142px,#ffda00 143px,#ffc900 144px,#ffd700 145px,#f7f808 146px,#c4ff3b 147px,#45ffba 149px,#13ffec 150px,#00f1ff 151px,#00e7ff 152px,#00f1ff 153px,#0ffef0 154px,#c8ff37 158px,#eaff15 159px,#fdfe02 160px,#f7ff08 162px,#bdff42 164px,#47ffb8 167px,#14ffeb 169px,#0ffff0 171px,#37ffc8 173px,#b9ff46 177px,#e2ff1d 179px,#e5ff1a 181px,#c4ff3b 183px,#3bffc4 188px,#21ffde 190px,#27ffd8 192px,#63ff9c 195px,#c3ff3c 199px,#d8ff27 201px,#d0ff2f 203px,#99ff66 206px,#42ffbd 210px,#2effd1 212px,#32ffcd 214px,#61ff9e 217px,#8dff72 219px)}
.l121{background:linear-gradient(90deg,#80ff80 0px,#7fff80 119px,#65fa9a 120px,#0c51b9 121px,#000080 122px,#604759 123px,#8b0200 124px,#bd701e 125px,#2090db 126px,#0003cb 127px,#0026ed 128px,#23d1dc 129px,#ceeb31 130px,#ff7d00 131px,#ff5000 132px,#ff8800 133px,#e9eb16 134px,#72ff8d 135px,#0decf2 136px,#00aeff 137px,#009bff 138px,#00bbff 139px,#0ef4f1 140px,#b5ff4a 142px,#f5f70a 143px,#ffd400 144px,#ffc800 145px,#ffdc00 146px,#f1fb0e 147px,#3affc5 150px,#0cfdf3 151px,#00e6ff 153px,#01f4fe 154px,#16ffe9 155px,#d2ff2d 159px,#f1ff0e 160px,#fefc01 161px,#f3ff0c 163px,#b3ff4c 165px,#3dffc2 168px,#10ffef 170px,#12ffed 172px,#3fffc0 174px,#c2ff3d 178px,#e5ff1a 180px,#e2ff1d 182px,#bcff43 184px,#4affb5 188px,#26ffd9 190px,#22ffdd 192px,#3dffc2 194px,#b8ff47 199px,#d5ff2a 201px,#d5ff2a 203px,#a7ff58 206px,#4cffb3 210px,#31ffce 212px,#2effd1 214px,#56ffa9 217px,#81ff7e 219px)}
.l122{background:linear-gradient(90deg,#80ff80 0px,#7fff80 120px,#65fa9a 121px,#0b51b8 122px,#000080 123px,#634458 124px,#8c0100 125px,#bc7621 126px,#1e88dc 127px,#0003c7 128px,#002cee 129px,#29d8d6 130px,#d7e628 131px,#ff7400 132px,#ff4f00 133px,#ff8f00 134px,#e1ef1e 135px,#64ff9b 136px,#08e5f7 137px,#00a8ff 138px,#009bff 139px,#00c1ff 140px,#15f7ea 141px,#c1ff3e 143px,#faf205 144px,#ffcf00 145px,#ffc800 146px,#ffe100 147px,#eafd15 148px,#2fffd0 151px,#06fbf9 152px,#00e9ff 153px,#00e7ff 154px,#02f7fd 155px,#1effe1 156px,#b2ff4d 159px,#dbff24 160px,#f6ff09 161px,#fefd01 163px,#edff12 164px,#a8ff57 166px,#34ffcb 169px,#0dfff2 171px,#0bfff4 172px,#2bffd4 174px,#caff35 179px,#e8ff17 181px,#deff21 183px,#96ff69 186px,#41ffbe 189px,#22ffdd 191px,#24ffdb 193px,#5dffa2 196px,#c0ff3f 200px,#d7ff28 202px,#d2ff2d 204px,#9eff61 207px,#44ffbb 211px,#2cffd3 214px,#4bffb4 217px,#74ff8b 219px)}
.l123{background:linear-gradient(90deg,#80ff80 0px,#7fff80 121px,#65fa9a 122px,#0b50b7 123px,#000081 124px,#674257 125px,#8c0000 126px,#bb7a24 127px,#1b7fdd 128px,#0002c4 129px,#0032ef 130px,#32ddcd 131px,#dfe020 132px,#ff6c00 133px,#ff4f00 134px,#ff9700 135px,#d9f326 136px,#57ffa8 137px,#05defa 138px,#00a2ff 139px,#009cff 140px,#00c8ff 141px,#1dfae2 142px,#cdff32 144px,#fcec03 145px,#ffcb00 146px,#ffc900 147px,#fee601 148px,#e2fe1d 149px,#25ffda 152px,#03f8fc 153px,#00e6ff 154px,#00e8ff 155px,#05fafa 156px,#27ffd8 157px,#bcff43 160px,#e3ff1c 161px,#fbfe04 162px,#fcfe03 164px,#c6ff39 166px,#4cffb3 169px,#15ffea 171px,#0dfff2 173px,#33ffcc 175px,#b8ff47 179px,#e2ff1d 181px,#e6ff19 183px,#c4ff3b 185px,#39ffc6 190px,#20ffdf 192px,#28ffd7 194px,#66ff99 197px,#c7ff38 201px,#d9ff26 203px,#ceff31 205px,#94ff6b 208px,#3dffc2 212px,#2cffd3 214px,#35ffca 216px,#68ff97 219px)}
.l124{background:linear-gradient(90deg,#80ff80 0px,#7fff80 122px,#65fa9a 123px,#0b50b7 124px,#000082 125px,#6a4056 126px,#8d0000 127px,#b87d29 128px,#1876df 129px,#0001c1 130px,#0038f0 131px,#3be2c4 132px,#e4d81b 133px,#ff6500 134px,#ff5000 135px,#ff9f00 136px,#d0f72f 137px,#4afeb5 138px,#03d6fc 139px,#009eff 140px,#009dff 141px,#00cfff 142px,#26fcd9 143px,#d8fe27 145px,#fee601 146px,#ffc800 147px,#ffcb00 148px,#fdec02 149px,#d9ff26 150px,#53ffac 152px,#1bffe4 153px,#01f3fe 154px,#00e4ff 155px,#09fdf6 157px,#64ff9b 159px,#c7ff38 161px,#ebff14 162px,#fdfd02 163px,#f9fe06 165px,#bcff43 167px,#42ffbd 170px,#11ffee 172px,#0ffff0 174px,#3bffc4 176px,#c1ff3e 180px,#e6ff19 182px,#e3ff1c 184px,#bcff43 186px,#48ffb7 190px,#24ffdb 192px,#21ffde 194px,#3effc1 196px,#bcff43 201px,#d7ff28 203px,#d5ff2a 205px,#a2ff5d 208px,#47ffb8 212px,#2effd1 214px,#2fffd0 216px,#5cffa3 219px)}
.l125{background:linear-gradient(90deg,#80ff80 0px,#7fff80 123px,#64fa9b 124px,#0b4fb6 125px,#000083 126px,#6b4055 127px,#8d0000 128px,#b6802e 129px,#156ee0 130px,#0000bf 131px,#003ff2 132px,#44e7bb 133px,#ead115 134px,#ff5e00 135px,#ff5100 136px,#fea701 137px,#c5f93a 138px,#3efdc1 139px,#01cdfe 140px,#009aff 141px,#00a0ff 142px,#01d6fe 143px,#30fecf 144px,#e2fd1d 146px,#ffdf00 147px,#ffc500 148px,#ffce00 149px,#fbf104 150px,#ceff31 151px,#48ffb7 153px,#13feec 154px,#00eeff 155px,#00e3ff 156px,#00eeff 157px,#0ffef0 158px,#d0ff2f 162px,#f1ff0e 163px,#fffb00 164px,#f5ff0a 166px,#b2ff4d 168px,#39ffc6 171px,#0dfff2 173px,#09fff6 174px,#27ffd8 176px,#c9ff36 181px,#e9ff16 183px,#dfff20 185px,#b4ff4b 187px,#3fffc0 191px,#21ffde 193px,#24ffdb 195px,#5fffa0 198px,#c3ff3c 202px,#d9ff26 204px,#d1ff2e 206px,#99ff66 209px,#40ffbf 213px,#2cffd3 215px,#33ffcc 217px,#50ffaf 219px)}
.l126{background:linear-gradient(90deg,#80ff80 0px,#7fff80 124px,#64fa9b 125px,#0b4fb5 126px,#000084 127px,#6d4054 128px,#8d0000 129px,#b38233 130px,#1266e2 131px,#0000bd 132px,#0045f4 133px,#4decb2 134px,#efc910 135px,#ff5800 136px,#ff5300 137px,#feaf01 138px,#bbfb44 139px,#33fbcc 140px,#01c5fe 141px,#0096ff 142px,#00a3ff 143px,#03ddfc 144px,#3bfec4 145px,#9bff64 146px,#eafb15 147px,#ffd800 148px,#ffc300 149px,#ffd100 150px,#f8f507 151px,#c3ff3c 152px,#3dffc2 154px,#0cfdf3 155px,#00e3ff 157px,#01f2fe 158px,#16ffe9 159px,#d9ff26 163px,#f7ff08 164px,#fefb01 166px,#efff10 167px,#a8ff57 169px,#30ffcf 172px,#0afff5 174px,#0afff5 175px,#2effd1 177px,#d1ff2e 182px,#eaff15 184px,#dbff24 186px,#8cff73 189px,#38ffc7 192px,#1fffe0 194px,#28ffd7 196px,#69ff96 199px,#c9ff36 203px,#daff25 205px,#cdff32 207px,#76ff89 211px,#39ffc6 214px,#2bffd4 216px,#46ffb9 219px)}
.l127{background:linear-gradient(90deg,#80ff80 0px,#7fff80 125px,#64f99b 126px,#0b4fb5 127px,#000085 128px,#6e4053 129px,#8d0000 130px,#af8738 131px,#0f5fe2 132px,#0000bb 133px,#004df5 134px,#58efa7 135px,#f3c00c 136px,#ff5200 137px,#ff5600 138px,#fdb802 139px,#affd50 140px,#29f9d6 141px,#00bdff 142px,#0093ff 143px,#00a6ff 144px,#05e4fa 145px,#47ffb8 146px,#a7ff58 147px,#f1f80e 148px,#ffd200 149px,#ffc200 150px,#ffd600 151px,#f3f90c 152px,#32ffcd 155px,#06faf9 156px,#00e6ff 157px,#00e3ff 158px,#02f5fd 159px,#1effe1 160px,#b9ff46 163px,#e2ff1d 164px,#fbfd04 165px,#fdfc02 167px,#e9ff16 168px,#28ffd7 173px,#08fff7 175px,#1cffe3 177px,#7cff83 180px,#bfff40 182px,#e6ff19 184px,#e5ff1a 186px,#bdff42 188px,#47ffb8 192px,#23ffdc 194px,#21ffde 196px,#40ffbf 198px,#bfff40 203px,#d8ff27 205px,#d4ff2b 207px,#9eff61 210px,#42ffbd 214px,#2cffd3 216px,#31ffce 218px,#3dffc2 219px)}
.l128{background:linear-gradient(90deg,#80ff80 0px,#7fff80 126px,#64f99b 127px,#0b4eb4 128px,#000086 129px,#6f4052 130px,#8c0100 131px,#aa8c3d 132px,#0c59e2 133px,#0000ba 134px,#0155f5 135px,#63f19c 136px,#f5b70a 137px,#ff4d00 138px,#ff5900 139px,#fbc004 140px,#a3fe5c 141px,#20f5df 142px,#00b5ff 143px,#0091ff 144px,#00abff 145px,#08eaf7 146px,#53ffac 147px,#b4ff4b 148px,#f7f308 149px,#ffcd00 150px,#ffc200 151px,#ffda00 152px,#edfc12 153px,#28ffd7 156px,#03f6fc 157px,#00e3ff 158px,#00e5ff 159px,#04f9fb 160px,#27ffd8 161px,#c3ff3c 164px,#eaff15 165px,#fefc01 166px,#fbfe04 168px,#bdff42 170px,#40ffbf 173px,#0efff1 175px,#08fff7 176px,#22ffdd 178px,#c7ff38 183px,#e9ff16 185px,#e1ff1e 187px,#b5ff4a 189px,#3effc1 193px,#20ffdf 195px,#24ffdb 197px,#48ffb7 199px,#c6ff39 204px,#daff25 206px,#d0ff2f 208px,#94ff6b 211px,#3cffc3 215px,#2bffd4 217px,#35ffca 219px)}
.l129{background:linear-gradient(90deg,#80ff80 0px,#7fff80 127px,#63f99c 128px,#0a4eb4 129px,#000086 130px,#704051 131px,#8b0200 132px,#a59242 133px,#0953e1 134px,#0001b8 135px,#025df5 136px,#6ef291 137px,#f8ae07 138px,#ff4800 139px,#ff5d00 140px,#f8c807 141px,#96fe69 142px,#18f1e7 143px,#00adff 144px,#0090ff 145px,#00b0ff 146px,#0deff2 147px,#5fffa0 148px,#c0ff3f 149px,#faee05 150px,#ffc800 151px,#ffc300 152px,#ffe000 153px,#e5fd1a 154px,#5affa5 156px,#1effe1 157px,#01f2fe 158px,#00e1ff 159px,#00e7ff 160px,#08fbf7 161px,#66ff99 163px,#cdff32 165px,#f1ff0e 166px,#fff900 167px,#f7fe08 169px,#b4ff4b 171px,#36ffc9 174px,#0afff5 176px,#08fff7 177px,#29ffd6 179px,#cfff30 184px,#ebff14 186px,#ddff22 188px,#8cff73 191px,#37ffc8 194px,#1effe1 196px,#28ffd7 198px,#6bff94 201px,#baff45 204px,#d7ff28 206px,#d6ff29 208px,#a3ff5c 211px,#45ffba 215px,#2dffd2 217px,#2fffd0 219px)}
.l130{background:linear-gradient(90deg,#80ff80 0px,#7fff80 128px,#63f99c 129px,#0a4eb3 130px,#000087 131px,#724050 132px,#8c0300 133px,#a29646 134px,#084ce0 135px,#0001b7 136px,#0365f5 137px,#79f486 138px,#fba504 139px,#ff4400 140px,#ff6100 141px,#f6d009 142px,#8aff75 143px,#12eced 144px,#00a6ff 145px,#0090ff 146px,#00b6ff 147px,#13f4ec 148px,#cbff34 150px,#fde702 151px,#ffc400 152px,#ffc400 153px,#fee501 154px,#dcfe23 155px,#4fffb0 157px,#15feea 158px,#00edff 159px,#00dfff 160px,#00eaff 161px,#0dfdf2 162px,#d6ff29 166px,#f6fe09 167px,#fff900 169px,#f2ff0d 170px,#a9ff56 172px,#2effd1 175px,#14ffeb 176px,#08fff7 177px,#09fff6 178px,#31ffce 180px,#bcff43 184px,#e7ff18 186px,#e7ff18 188px,#bfff40 190px,#46ffb9 194px,#22ffdd 196px,#20ffdf 198px,#59ffa6 201px,#c1ff3e 205px,#daff25 207px,#d3ff2c 209px,#9aff65 212px,#3effc1 216px,#2bffd4 218px,#2bffd4 219px)}
.l131{background:linear-gradient(90deg,#80ff80 0px,#7fff80 129px,#63f99c 130px,#0a4db2 131px,#000187 132px,#73434d 133px,#8c0400 134px,#a19a49 135px,#0744de 136px,#0002b7 137px,#046df5 138px,#83f57c 139px,#fc9b03 140px,#ff4000 141px,#ff6600 142px,#f2d70d 143px,#7cff83 144px,#0de6f2 145px,#00a0ff 146px,#0090ff 147px,#00bcff 148px,#1af7e5 149px,#d6fe29 151px,#fee101 152px,#ffc100 153px,#ffc600 154px,#fdeb02 155px,#d2ff2d 156px,#44ffbb 158px,#0efdf1 159px,#00e8ff 160px,#00dfff 161px,#00eeff 162px,#14feeb 163px,#dfff20 167px,#fbfd04 168px,#fff500 169px,#fefa01 170px,#edff12 171px,#72ff8d 174px,#26ffd9 176px,#0ffff0 177px,#06fff9 178px,#0bfff4 179px,#39ffc6 181px,#c5ff3a 185px,#eaff15 187px,#e3ff1c 189px,#b7ff48 191px,#3effc1 195px,#1fffe0 197px,#23ffdc 199px,#48ffb7 201px,#b4ff4b 205px,#d5ff2a 207px,#d9ff26 209px,#a9ff56 212px,#49ffb6 216px,#2effd1 218px,#2affd5 219px)}
.r0{background:linear-gradient(90deg,#800000 0px,#800000 3px,#c91700 4px,#b1ed4e 5px,#0072fd 6px,#00008b 7px,#000080 9px,#000080 14px,#0000b6 15px,#0075ff 16px,#3dfbc2 17px,#e3ef1c 18px,#ff6400 19px,#d30200 20px,#820000 21px,#800000 26px,#9f0000 27px,#f61400 28px,#ff8700 29px,#e8f517 30px,#6cff93 31px,#07e4f8 32px,#0076ff 33px,#0016fc 34px,#0000c5 35px,#000090 36px,#000080 37px,#000080 38px,#000097 39px,#0000cc 40px,#0019fd 41px,#01d9fe 43px,#48ffb7 44px,#b5ff4a 45px,#fddf02 46px,#ff8300 47px,#ff3500 48px,#f50300 49px,#d10000 50px,#c20000 51px,#ca0000 52px,#e80000 53px,#ff1c00 54px,#ff6000 55px,#ffb200 56px,#ecfa13 57px,#34ffcb 59px,#00daff 60px,#008bff 61px,#004aff 62px,#001aff 63px,#0001fb 64px,#0000f4 65px,#0003fd 66px,#0021ff 67px,#0053ff 68px,#00dfff 70px,#32ffcd 71px,#dcff23 73px,#ffd400 74px,#ff9000 75px,#ff5900 76px,#ff3200 77px,#ff1d00 78px,#ff1a00 79px,#ff2b00 80px,#ff4c00 81px,#ff7d00 82px,#f4f70b 84px,#16fde9 87px,#00ceff 88px,#0064ff 90px,#0045ff 91px,#0036ff 92px,#0038ff 93px,#004cff 94px,#006fff 95px,#00dcff 97px,#20ffdf 98px,#f2fb0d 101px,#ffca00 102px,#ff9500 103px,#ff6e00 104px,#ff5400 105px,#ff4b00 106px,#ff5200 107px,#ff6800 108px,#ffbd00 110px,#fbf404 111px,#c5ff3a 112px,#3effc1 114px,#07f7f8 115px,#0097ff 117px,#0076ff 118px,#0062ff 119px,#005dff 120px,#0068ff 121px,#0081ff 122px,#00d7ff 124px,#13feec 125px,#cfff30 128px,#fcf203 129px,#ff9a00 131px,#ff7d00 132px,#ff6f00 133px,#ff6e00 134px,#ff7c00 135px,#ffbe00 137px,#feee01 138px,#d8ff27 139px,#24ffdb 142px,#00edff 143px,#009cff 145px,#0084ff 146px,#007aff 147px,#007dff 148px,#00abff 150px,#09fbf6 152px,#e6ff19 156px,#ffe600 157px,#ff9e00 159px,#ff8b00 160px,#ff8500 161px,#ff9f00 163px,#ffe700 165px,#e7ff18 166px,#10feef 170px,#00e0ff 171px,#00a1ff 173px,#0092ff 174px,#009aff 176px,#00d0ff 178px,#03f6fc 179px,#2affd5 180px,#f6fc09 184px,#ffba00 186px,#ff9900 188px,#ffa700 190px,#ffe100 192px,#f2fe0d 193px,#2bffd4 197px,#04f9fb 198px,#00baff 200px,#00a0ff 202px,#00b4ff 204px,#00f1ff 206px,#1cffe3 207px,#deff21 211px,#fef501 212px,#ffba00 214px,#ffa700 216px,#ffc000 218px)}
.r1{background:linear-gradient(90deg,#800000 0px,#800000 3px,#c91500 4px,#baea45 5px,#0080ff 6px,#000091 7px,#000080 8px,#000080 14px,#0000b1 15px,#006eff 16px,#38f9c7 17px,#dff220 18px,#ff6900 19px,#d60300 20px,#830000 21px,#800000 26px,#9d0000 27px,#f51300 28px,#ff8500 29px,#e9f416 30px,#6eff91 31px,#07e6f8 32px,#0078ff 33px,#0017fc 34px,#0000c6 35px,#000091 36px,#000080 37px,#000080 38px,#000096 39px,#0000cb 40px,#0019fd 41px,#0072ff 42px,#00d8ff 43px,#46ffb9 44px,#b4ff4b 45px,#fde002 46px,#ff8400 47px,#ff3600 48px,#f50300 49px,#d20000 50px,#c20000 51px,#ca0000 52px,#e80000 53px,#ff1b00 54px,#ff5f00 55px,#ffb100 56px,#edf912 57px,#35ffca 59px,#00dbff 60px,#008cff 61px,#004aff 62px,#001aff 63px,#0001fb 64px,#0000f4 65px,#0003fd 66px,#0021ff 67px,#0052ff 68px,#00deff 70px,#32ffcd 71px,#dcff23 73px,#ffd400 74px,#ff9000 75px,#ff5900 76px,#ff3200 77px,#ff1d00 78px,#ff1a00 79px,#ff2a00 80px,#ff4c00 81px,#ffba00 83px,#f4f70b 84px,#17fde8 87px,#00cfff 88px,#0093ff 89px,#0064ff 90px,#0045ff 91px,#0036ff 92px,#0038ff 93px,#004cff 94px,#006fff 95px,#00dbff 97px,#20ffdf 98px,#f2fb0d 101px,#ffca00 102px,#ff6e00 104px,#ff5500 105px,#ff4b00 106px,#ff5200 107px,#ff6800 108px,#ff8c00 109px,#fbf304 111px,#c6ff39 112px,#3effc1 114px,#07f7f8 115px,#0098ff 117px,#0076ff 118px,#0062ff 119px,#005dff 120px,#0068ff 121px,#00a6ff 123px,#00d7ff 124px,#12feed 125px,#cfff30 128px,#fcf203 129px,#ff9a00 131px,#ff7d00 132px,#ff6f00 133px,#ff6e00 134px,#ff7c00 135px,#ffbe00 137px,#feee01 138px,#d8ff27 139px,#24ffdb 142px,#00edff 143px,#009cff 145px,#0084ff 146px,#007aff 147px,#007dff 148px,#00abff 150px,#09fbf6 152px,#e6ff19 156px,#ffe600 157px,#ff9e00 159px,#ff8b00 160px,#ff8500 161px,#ff9f00 163px,#ffe700 165px,#e7ff18 166px,#10feef 170px,#00e0ff 171px,#00a1ff 173px,#0092ff 174px,#0099ff 176px,#00d0ff 178px,#03f6fc 179px,#2affd5 180px,#f6fc09 184px,#ffbb00 186px,#ff9900 188px,#ffa700 190px,#ffe100 192px,#f2fe0d 193px,#2bffd4 197px,#04f9fb 198px,#00baff 200px,#00a0ff 202px,#00b4ff 204px,#00f1ff 206px,#1cffe3 207px,#deff21 211px,#fdf502 212px,#ffba00 214px,#ffa700 216px,#ffc000 218px)}
.r2{background:linear-gradient(90deg,#800000 0px,#800000 3px,#c51100 4px,#cddf32 5px,#09a7f6 6px,#0001aa 7px,#000080 8px,#000080 14px,#0000a4 15px,#005aff 16px,#29f4d6 17px,#d2f72d 18px,#ff7900 19px,#e00600 20px,#860000 21px,#800000 26px,#990000 27px,#f21000 28px,#ff7e00 29px,#ecf013 30px,#75ff8a 31px,#0ae9f5 32px,#001bfd 34px,#0000c9 35px,#000093 36px,#000080 37px,#000080 38px,#000095 39px,#0000c9 40px,#0016fc 41px,#006eff 42px,#00d5ff 43px,#42ffbd 44px,#b0ff4f 45px,#fce203 46px,#ff3800 48px,#f60400 49px,#d30000 50px,#c20000 51px,#c90000 52px,#e70000 53px,#ff1a00 54px,#ff5d00 55px,#ffae00 56px,#eef811 57px,#37ffc8 59px,#00ddff 60px,#008dff 61px,#004cff 62px,#001bff 63px,#0001fc 64px,#0000f4 65px,#0003fd 66px,#0020ff 67px,#0051ff 68px,#00dcff 70px,#30ffcf 71px,#daff25 73px,#ffd600 74px,#ff9100 75px,#ff5a00 76px,#ff3300 77px,#ff1d00 78px,#ff1a00 79px,#ff2a00 80px,#ff4b00 81px,#ffb900 83px,#f5f60a 84px,#63ff9c 86px,#18fee7 87px,#00d0ff 88px,#0094ff 89px,#0065ff 90px,#0045ff 91px,#0036ff 92px,#0038ff 93px,#004bff 94px,#006eff 95px,#00daff 97px,#1fffe0 98px,#f1fb0e 101px,#ffcb00 102px,#ff9600 103px,#ff6e00 104px,#ff5500 105px,#ff4b00 106px,#ff5200 107px,#ff6700 108px,#ffbc00 110px,#fbf304 111px,#c7ff38 112px,#3fffc0 114px,#07f7f8 115px,#0098ff 117px,#0076ff 118px,#0062ff 119px,#005dff 120px,#0068ff 121px,#0080ff 122px,#00d6ff 124px,#12fded 125px,#ceff31 128px,#fcf303 129px,#ff9a00 131px,#ff7e00 132px,#ff6f00 133px,#ff6e00 134px,#ff9600 136px,#feed01 138px,#d8ff27 139px,#24ffdb 142px,#00edff 143px,#009cff 145px,#007aff 147px,#007dff 148px,#00abff 150px,#09fbf6 152px,#e6ff19 156px,#ffe700 157px,#ff9e00 159px,#ff8b00 160px,#ff8500 161px,#ff9f00 163px,#ffe600 165px,#e7ff18 166px,#10feef 170px,#00e1ff 171px,#00a1ff 173px,#0092ff 174px,#0099ff 176px,#00cfff 178px,#03f6fc 179px,#2affd5 180px,#f6fc09 184px,#ffbb00 186px,#ff9900 188px,#ffa700 190px,#ffe000 192px,#f2fe0d 193px,#2cffd3 197px,#05f9fa 198px,#00baff 200px,#00a0ff 202px,#00b3ff 204px,#00f0ff 206px,#1cffe3 207px,#ddff22 211px,#fdf502 212px,#ffbb00 214px,#ffa700 216px,#ffc000 218px)}
.r3{background:linear-gradient(90deg,#800000 0px,#800000 3px,#c20c00 4px,#e7cd18 5px,#20d8df 6px,#0017d5 7px,#000080 8px,#000080 14px,#000094 15px,#003dfb 16px,#17e5e8 17px,#bafe45 18px,#ff9400 19px,#ec1000 20px,#8e0000 21px,#800000 22px,#800000 26px,#920000 27px,#ec0a00 28px,#ff7200 29px,#f2ea0d 30px,#81ff7e 31px,#0feff0 32px,#0086ff 33px,#0021fe 34px,#0000ce 35px,#000096 36px,#000080 37px,#000080 38px,#000092 39px,#0000c5 40px,#0012fb 41px,#0068ff 42px,#00ceff 43px,#3cffc3 44px,#aaff55 45px,#fae705 46px,#ff3c00 48px,#f80500 49px,#d40000 50px,#c30000 51px,#c80000 52px,#e50000 53px,#ff1700 54px,#ff5a00 55px,#ffab00 56px,#f0f60f 57px,#3bffc4 59px,#00e0ff 60px,#004eff 62px,#001dff 63px,#0002fc 64px,#0000f4 65px,#0003fc 66px,#001fff 67px,#004fff 68px,#008eff 69px,#00daff 70px,#2dffd2 71px,#d7ff28 73px,#ffd800 74px,#ff5c00 76px,#ff3400 77px,#ff1e00 78px,#ff1a00 79px,#ff2900 80px,#ff4a00 81px,#ff7a00 82px,#f6f509 84px,#65ff9a 86px,#19fee6 87px,#00d2ff 88px,#0066ff 90px,#0046ff 91px,#0036ff 92px,#0038ff 93px,#004bff 94px,#006dff 95px,#00d9ff 97px,#1dffe2 98px,#f0fc0f 101px,#ffcc00 102px,#ff9700 103px,#ff6f00 104px,#ff5500 105px,#ff4b00 106px,#ff5100 107px,#ff6700 108px,#ffbb00 110px,#fcf203 111px,#c8ff37 112px,#41ffbe 114px,#08f8f7 115px,#0099ff 117px,#0077ff 118px,#0063ff 119px,#005dff 120px,#0067ff 121px,#00a5ff 123px,#00d5ff 124px,#11fdee 125px,#cdff32 128px,#fcf403 129px,#ff9b00 131px,#ff7e00 132px,#ff6f00 133px,#ff6e00 134px,#ff7b00 135px,#ffbc00 137px,#ffec00 138px,#daff25 139px,#26ffd9 142px,#01eefe 143px,#009dff 145px,#0085ff 146px,#007aff 147px,#007dff 148px,#008dff 149px,#00d2ff 151px,#08faf7 152px,#e5ff1a 156px,#ffe800 157px,#ff9f00 159px,#ff8500 161px,#ff8b00 162px,#ffbd00 164px,#ffe600 165px,#e8ff17 166px,#11feee 170px,#00e1ff 171px,#00a1ff 173px,#008fff 175px,#00afff 177px,#03f6fc 179px,#29ffd6 180px,#f5fd0a 184px,#ffbb00 186px,#ff9900 188px,#ffa600 190px,#ffe000 192px,#f3fd0c 193px,#2cffd3 197px,#05f9fa 198px,#00bbff 200px,#00a0ff 202px,#00b3ff 204px,#00f0ff 206px,#1bffe4 207px,#ddff22 211px,#fdf502 212px,#ffbb00 214px,#ffa700 216px,#ffc000 218px)}
.r4{background:linear-gradient(90deg,#800000 0px,#800000 3px,#c00600 4px,#faae05 5px,#54f9ab 6px,#0059fb 7px,#000096 8px,#000080 9px,#000086 15px,#001fee 16px,#06c9f9 17px,#90ff6f 18px,#feba01 19px,#f92300 20px,#9f0000 21px,#800000 22px,#800000 26px,#8b0000 27px,#e30500 28px,#ff6200 29px,#f9e006 30px,#91ff6e 31px,#17f6e8 32px,#0093ff 33px,#002bff 34px,#0000d6 35px,#00009b 36px,#000080 37px,#000080 38px,#00008f 39px,#0000c0 40px,#000ef9 41px,#0060ff 42px,#00c5ff 43px,#33ffcc 44px,#a1ff5e 45px,#f8ec07 46px,#ff4100 48px,#f90800 49px,#d70000 50px,#c30000 51px,#c70000 52px,#e20000 53px,#ff1400 54px,#ff5500 55px,#f3f30c 57px,#41ffbe 59px,#02e4fd 60px,#0052ff 62px,#001fff 63px,#0003fc 64px,#0000f4 65px,#0002fc 66px,#001dff 67px,#004cff 68px,#00d6ff 70px,#29ffd6 71px,#d3ff2c 73px,#ffdc00 74px,#ff5e00 76px,#ff3500 77px,#ff1e00 78px,#ff1a00 79px,#ff2800 80px,#ff4800 81px,#ffb400 83px,#f8f407 84px,#b7ff48 85px,#1cffe3 87px,#00d4ff 88px,#0068ff 90px,#0047ff 91px,#0037ff 92px,#0038ff 93px,#004aff 94px,#006bff 95px,#00d6ff 97px,#1bffe4 98px,#eefc11 101px,#ffce00 102px,#ff7000 104px,#ff5600 105px,#ff4b00 106px,#ff5100 107px,#ff6600 108px,#ff8900 109px,#fcf003 111px,#caff35 112px,#43ffbc 114px,#09f9f6 115px,#009aff 117px,#0078ff 118px,#0063ff 119px,#005dff 120px,#0067ff 121px,#007fff 122px,#00d4ff 124px,#10fdef 125px,#cbff34 128px,#fbf504 129px,#ff9c00 131px,#ff7f00 132px,#ff6f00 133px,#ff6e00 134px,#ff7b00 135px,#ffbb00 137px,#ffeb00 138px,#dbff24 139px,#27ffd8 142px,#01effe 143px,#009dff 145px,#0085ff 146px,#007aff 147px,#007dff 148px,#00a9ff 150px,#07faf8 152px,#acff53 155px,#e4ff1b 156px,#ffe900 157px,#ff9f00 159px,#ff8500 161px,#ff8b00 162px,#ffbc00 164px,#ffe500 165px,#e9ff16 166px,#11ffee 170px,#00e2ff 171px,#00a2ff 173px,#0092ff 174px,#008fff 175px,#00aeff 177px,#02f5fd 179px,#28ffd7 180px,#f5fd0a 184px,#ffbc00 186px,#ff9900 188px,#ffa600 190px,#ffdf00 192px,#f3fd0c 193px,#2dffd2 197px,#05fafa 198px,#00bbff 200px,#00a0ff 202px,#00b3ff 204px,#00efff 206px,#1affe5 207px,#dcff23 211px,#fdf602 212px,#ffbb00 214px,#ffa700 216px,#ffbf00 218px)}
.r5{background:linear-gradient(90deg,#800000 0px,#800000 3px,#c60300 4px,#ff8500 5px,#a5fe5a 6px,#09bff6 7px,#0016dc 8px,#000082 9px,#000080 15px,#0009d3 16px,#0098ff 17px,#59ffa6 18px,#f1df0e 19px,#ff4800 20px,#bd0000 21px,#800000 22px,#850000 27px,#d50100 28px,#ff4e00 29px,#fecf01 30px,#a6ff59 31px,#25fbda 32px,#00a5ff 33px,#0039ff 34px,#0000e1 35px,#0000a2 36px,#000082 37px,#000080 38px,#00008c 39px,#0000b9 40px,#0009f5 41px,#0056ff 42px,#00baff 43px,#28fed7 44px,#96ff69 45px,#f3f10c 46px,#ff4900 48px,#fc0b00 49px,#c40000 51px,#c60000 52px,#df0000 53px,#fe1000 54px,#ff4f00 55px,#f7f008 57px,#a7ff58 58px,#48ffb7 59px,#04e9fb 60px,#0056ff 62px,#0023ff 63px,#0004fd 64px,#0000f4 65px,#0001fb 66px,#001aff 67px,#0049ff 68px,#0086ff 69px,#00d0ff 70px,#23ffdc 71px,#ceff31 73px,#ffe100 74px,#ff9a00 75px,#ff6100 76px,#ff3700 77px,#ff1f00 78px,#ff1a00 79px,#ff2700 80px,#ff4600 81px,#ff7500 82px,#faf205 84px,#bbff44 85px,#20ffdf 87px,#00d8ff 88px,#006aff 90px,#0048ff 91px,#0037ff 92px,#0037ff 93px,#0048ff 94px,#006aff 95px,#00d3ff 97px,#18fee7 98px,#ecfd13 101px,#ffd100 102px,#ff9b00 103px,#ff7200 104px,#ff5700 105px,#ff4b00 106px,#ff5000 107px,#ff6500 108px,#ffb700 110px,#fdee02 111px,#cdff32 112px,#45ffba 114px,#0afaf5 115px,#009cff 117px,#0079ff 118px,#0064ff 119px,#005dff 120px,#0066ff 121px,#00a2ff 123px,#00d2ff 124px,#0efcf1 125px,#c9ff36 128px,#faf605 129px,#ff9d00 131px,#ff7f00 132px,#ff6f00 133px,#ff6e00 134px,#ff7a00 135px,#ffba00 137px,#ffea00 138px,#ddff22 139px,#29ffd6 142px,#01f0fe 143px,#009eff 145px,#007aff 147px,#008cff 149px,#00d0ff 151px,#07f9f8 152px,#70ff8f 154px,#e2ff1d 156px,#ffea00 157px,#ffa000 159px,#ff8c00 160px,#ff8500 161px,#ff9d00 163px,#ffe400 165px,#ebff14 166px,#12ffed 170px,#00e3ff 171px,#00a2ff 173px,#008fff 175px,#0098ff 176px,#00cdff 178px,#02f4fd 179px,#27ffd8 180px,#f4fd0b 184px,#ffbc00 186px,#ff9900 188px,#ff9900 189px,#ffbd00 191px,#f4fd0b 193px,#2effd1 197px,#06faf9 198px,#00bcff 200px,#00a0ff 202px,#00b2ff 204px,#00efff 206px,#19ffe6 207px,#dbff24 211px,#fdf602 212px,#ffbc00 214px,#ffa700 216px,#ffbf00 218px)}
.r6{background:linear-gradient(90deg,#800000 0px,#880000 3px,#d80200 4px,#ff6200 5px,#e4ec1b 6px,#41f9be 7px,#0075ff 8px,#0004bb 9px,#000080 10px,#000080 15px,#0000ac 16px,#0059ff 17px,#26f1d9 18px,#cdf932 19px,#ff7d00 20px,#e00800 21px,#870000 22px,#800000 27px,#c00000 28px,#ff3500 29px,#ffb700 30px,#bfff40 31px,#39ffc6 32px,#00baff 33px,#004bff 34px,#0004eb 35px,#0000ac 36px,#000085 37px,#000080 38px,#000088 39px,#0000b2 40px,#0005ef 41px,#004aff 42px,#00adff 43px,#1dfbe2 44px,#ecf713 46px,#ffa700 47px,#ff5200 48px,#fd1000 49px,#de0000 50px,#c60000 51px,#c50000 52px,#fc0c00 54px,#ff4800 55px,#faea05 57px,#b1ff4e 58px,#51ffae 59px,#06eef9 60px,#005cff 62px,#0027ff 63px,#0005fe 64px,#0000f5 65px,#0001fb 66px,#0017ff 67px,#0044ff 68px,#00caff 70px,#1efee1 71px,#c8ff37 73px,#fee501 74px,#ff6500 76px,#ff3a00 77px,#ff2000 78px,#ff1a00 79px,#ff2600 80px,#ff4300 81px,#ff7100 82px,#fbee04 84px,#c0ff3f 85px,#24ffdb 87px,#00dcff 88px,#009eff 89px,#006dff 90px,#004aff 91px,#0038ff 92px,#0037ff 93px,#0047ff 94px,#0067ff 95px,#00d0ff 97px,#15fdea 98px,#e9fe16 101px,#ffd400 102px,#ff7400 104px,#ff5800 105px,#ff4c00 106px,#ff5000 107px,#ff6300 108px,#ffb500 110px,#feec01 111px,#d0ff2f 112px,#0cfbf3 115px,#009eff 117px,#007aff 118px,#0064ff 119px,#005dff 120px,#0066ff 121px,#007cff 122px,#00d0ff 124px,#0cfcf3 125px,#c6ff39 128px,#f9f706 129px,#ff9e00 131px,#ff8000 132px,#ff7000 133px,#ff6d00 134px,#ff7900 135px,#ffb800 137px,#ffe800 138px,#dfff20 139px,#2bffd4 142px,#02f1fd 143px,#00a0ff 145px,#0087ff 146px,#007bff 147px,#007cff 148px,#008bff 149px,#00ceff 151px,#06f8f9 152px,#6eff91 154px,#e0ff1f 156px,#ffec00 157px,#ffa100 159px,#ff8500 161px,#ff8a00 162px,#ffba00 164px,#ffe200 165px,#ecff13 166px,#14ffeb 170px,#00e5ff 171px,#00a3ff 173px,#008fff 175px,#00adff 177px,#02f3fd 179px,#25ffda 180px,#f3fd0c 184px,#ffbd00 186px,#ff9900 188px,#ffa500 190px,#ffdd00 192px,#f5fd0a 193px,#06fbf9 198px,#00bcff 200px,#00a0ff 202px,#00b2ff 204px,#00edff 206px,#18ffe7 207px,#daff25 211px,#fdf702 212px,#ffbc00 214px,#ffa700 216px,#ffbe00 218px)}
.r7{background:linear-gradient(90deg,#9a0000 0px,#a50000 2px,#c20000 3px,#f20600 4px,#ff5000 5px,#fdc602 6px,#a0ff5f 7px,#13dfec 8px,#0044fa 9px,#0000a4 10px,#000080 11px,#000080 15px,#00008d 16px,#0024f2 17px,#06c8f9 18px,#8cff73 19px,#fdbc02 20px,#f92500 21px,#a00000 22px,#800000 23px,#800000 27px,#a90000 28px,#fa1e00 29px,#ff9900 30px,#d9fa26 31px,#56ffa9 32px,#01d2fe 33px,#0060ff 34px,#000bf5 35px,#0000b7 36px,#00008a 37px,#000080 38px,#000085 39px,#0000aa 40px,#0001e7 41px,#003bff 42px,#009dff 43px,#12f6ed 44px,#e1fc1e 46px,#ffb500 47px,#ff5d00 48px,#ff1700 49px,#e30000 50px,#c80000 51px,#c50000 52px,#d80000 53px,#fa0800 54px,#ff4000 55px,#fde202 57px,#bbff44 58px,#5cffa3 59px,#0bf4f4 60px,#0063ff 62px,#002bff 63px,#0007fe 64px,#0000fa 66px,#0014ff 67px,#003fff 68px,#00c3ff 70px,#18fce7 71px,#c0ff3f 73px,#fcea03 74px,#ff6900 76px,#ff3d00 77px,#ff2200 78px,#ff1a00 79px,#ff2400 80px,#ff4000 81px,#ff6d00 82px,#fdea02 84px,#c6ff39 85px,#2affd5 87px,#00e1ff 88px,#00a2ff 89px,#0070ff 90px,#004cff 91px,#0039ff 92px,#0036ff 93px,#0045ff 94px,#0065ff 95px,#0092ff 96px,#00ccff 97px,#12fced 98px,#e5ff1a 101px,#ffd800 102px,#ff7600 104px,#ff5900 105px,#ff4c00 106px,#ff4f00 107px,#ff6200 108px,#ff8300 109px,#feea01 111px,#d4ff2b 112px,#0ffcf0 115px,#00d1ff 116px,#00a0ff 117px,#007cff 118px,#0065ff 119px,#005dff 120px,#0065ff 121px,#007bff 122px,#00cdff 124px,#0afaf5 125px,#c3ff3c 128px,#f8f807 129px,#ffa000 131px,#ff7000 133px,#ff6d00 134px,#ff7800 135px,#ffb600 137px,#ffe500 138px,#e2ff1d 139px,#2effd1 142px,#03f3fc 143px,#00a1ff 145px,#0087ff 146px,#007bff 147px,#007cff 148px,#00a6ff 150px,#05f7fa 152px,#32ffcd 153px,#deff21 156px,#ffed00 157px,#ffa200 159px,#ff8d00 160px,#ff8500 161px,#ff8a00 162px,#ffb900 164px,#ffe000 165px,#eefe11 166px,#16ffe9 170px,#00e6ff 171px,#00a4ff 173px,#0093ff 174px,#0097ff 176px,#00cbff 178px,#01f2fe 179px,#24ffdb 180px,#f2fe0d 184px,#ffe000 185px,#ffa600 187px,#ff9900 189px,#ffbb00 191px,#f6fc09 193px,#07fbf8 198px,#00bdff 200px,#00a0ff 202px,#00b1ff 204px,#00ecff 206px,#17ffe8 207px,#d9ff26 211px,#fcf803 212px,#ffbd00 214px,#ffa700 216px,#ffbe00 218px)}
.r8{background:linear-gradient(90deg,#f91a00 0px,#fc1300 3px,#ff2300 4px,#ff5000 5px,#ff9d00 6px,#e6f419 7px,#62ff9d 8px,#04bcfb 9px,#0027f2 10px,#000096 11px,#000080 12px,#000080 16px,#0005d0 17px,#0082ff 18px,#40fbbf 19px,#e2ed1d 20px,#ff6100 21px,#cf0200 22px,#820000 23px,#800000 27px,#940000 28px,#ed0c00 29px,#ff7700 30px,#efed10 31px,#77ff88 32px,#0ae8f5 33px,#007bff 34px,#0018fc 35px,#0000c6 36px,#000092 37px,#000080 38px,#000082 39px,#0000a2 40px,#0000db 41px,#002bff 42px,#09ecf6 44px,#64ff9b 45px,#d2ff2d 46px,#ffc500 47px,#ff6b00 48px,#ff2100 49px,#ea0000 50px,#cb0000 51px,#c40000 52px,#d40000 53px,#f70400 54px,#ff3700 55px,#ff8100 56px,#ffd800 57px,#c8ff37 58px,#11f9ee 60px,#00b4ff 61px,#006bff 62px,#0031ff 63px,#000aff 64px,#0000f9 66px,#0010ff 67px,#003aff 68px,#0074ff 69px,#00bbff 70px,#11faee 71px,#b7ff48 73px,#faf005 74px,#ff6f00 76px,#ff4100 77px,#ff2400 78px,#ff1a00 79px,#ff2200 80px,#ff3d00 81px,#ff6800 82px,#fee501 84px,#cdff32 85px,#31ffce 87px,#01e7fe 88px,#00a7ff 89px,#0074ff 90px,#004eff 91px,#003aff 92px,#0036ff 93px,#0044ff 94px,#0062ff 95px,#008eff 96px,#00c7ff 97px,#0efbf1 98px,#e0ff1f 101px,#ffdd00 102px,#ff7900 104px,#ff5b00 105px,#ff4c00 106px,#ff4e00 107px,#ff6000 108px,#ffae00 110px,#ffe600 111px,#d8ff27 112px,#12fded 115px,#00d4ff 116px,#007eff 118px,#0066ff 119px,#005dff 120px,#0064ff 121px,#0079ff 122px,#00caff 124px,#08f9f7 125px,#f6fa09 129px,#ffa300 131px,#ff8300 132px,#ff7100 133px,#ff6d00 134px,#ff7700 135px,#ff8f00 136px,#ffe300 138px,#e5ff1a 139px,#31ffce 142px,#03f5fc 143px,#00a3ff 145px,#0088ff 146px,#007bff 147px,#007cff 148px,#00a4ff 150px,#03f6fc 152px,#69ff96 154px,#dbff24 156px,#feef01 157px,#ffa400 159px,#ff8e00 160px,#ff8500 161px,#ff9b00 163px,#ffde00 165px,#effe10 166px,#18ffe7 170px,#00e8ff 171px,#00a5ff 173px,#008fff 175px,#00abff 177px,#01f1fe 179px,#22ffdd 180px,#f0fe0f 184px,#ffe200 185px,#ffa700 187px,#ff9900 189px,#ffba00 191px,#f7fc08 193px,#08fcf7 198px,#00beff 200px,#00a0ff 202px,#00b1ff 204px,#00ebff 206px,#15ffea 207px,#d7ff28 211px,#fbf904 212px,#ffbe00 214px,#ffa700 216px,#ffbd00 218px)}
.r9{background:linear-gradient(90deg,#ff7e00 0px,#ff5400 4px,#ff6100 5px,#ff8a00 6px,#fed401 7px,#bcff43 8px,#38fac7 9px,#0099ff 10px,#0016e9 11px,#00008f 12px,#000080 13px,#000080 16px,#0000a2 17px,#0039fc 18px,#0ed9f1 19px,#9fff60 20px,#fead01 21px,#f41d00 22px,#9a0000 23px,#800000 24px,#860000 28px,#d70200 29px,#ff5100 30px,#fcd303 31px,#9eff61 32px,#1ef8e1 33px,#009aff 34px,#002fff 35px,#0000d9 36px,#00009e 37px,#000082 38px,#000081 39px,#000099 40px,#0000ce 41px,#001bfe 42px,#02ddfd 44px,#4fffb0 45px,#beff41 46px,#ffd700 47px,#ff7a00 48px,#ff2d00 49px,#f10100 50px,#cf0000 51px,#c40000 52px,#d10000 53px,#f20200 54px,#ff2c00 55px,#ffca00 57px,#d6ff29 58px,#1afce5 60px,#00c0ff 61px,#0075ff 62px,#0038ff 63px,#000fff 64px,#0000f8 65px,#000cff 67px,#0034ff 68px,#006cff 69px,#0cf6f3 71px,#adff52 73px,#f5f50a 74px,#ff7500 76px,#ff4500 77px,#ff2600 78px,#ff1a00 79px,#ff2100 80px,#ff3a00 81px,#ff6300 82px,#ffdf00 84px,#d4ff2b 85px,#38ffc7 87px,#02ecfd 88px,#0078ff 90px,#0051ff 91px,#003bff 92px,#0036ff 93px,#0042ff 94px,#005eff 95px,#00c2ff 97px,#0af8f5 98px,#dbff24 101px,#ffe200 102px,#ff7c00 104px,#ff5d00 105px,#ff4d00 106px,#ff4e00 107px,#ff5e00 108px,#ffaa00 110px,#ffe100 111px,#ddff22 112px,#15feea 115px,#00d8ff 116px,#0080ff 118px,#0067ff 119px,#005eff 120px,#0063ff 121px,#0077ff 122px,#00c6ff 124px,#06f7f9 125px,#7bff84 127px,#f4fb0b 129px,#ffa500 131px,#ff8500 132px,#ff7200 133px,#ff6d00 134px,#ff7600 135px,#ffb100 137px,#ffdf00 138px,#e8ff17 139px,#34ffcb 142px,#05f7fa 143px,#00a5ff 145px,#008aff 146px,#007cff 147px,#007bff 148px,#0088ff 149px,#00c8ff 151px,#03f4fc 152px,#2cffd3 153px,#d8ff27 156px,#fef101 157px,#ffa500 159px,#ff8500 161px,#ff9900 163px,#ffdc00 165px,#f1fd0e 166px,#1bffe4 170px,#00ebff 171px,#00a6ff 173px,#0094ff 174px,#0096ff 176px,#00c8ff 178px,#00efff 179px,#1fffe0 180px,#efff10 184px,#ffe400 185px,#ffa800 187px,#ff9a00 188px,#ffa300 190px,#ffd900 192px,#f8fb07 193px,#9bff64 195px,#09fdf6 198px,#00bfff 200px,#00a1ff 202px,#00a2ff 203px,#00c8ff 205px,#00e9ff 206px,#13ffec 207px,#d5ff2a 211px,#fbf904 212px,#ffbe00 214px,#ffa700 216px,#ffbc00 218px)}
.r10{background:linear-gradient(90deg,#ffd000 0px,#ffb500 2px,#ff8800 4px,#ff7f00 5px,#ff8c00 6px,#ffb600 7px,#f2f30d 8px,#92ff6d 9px,#1cf0e3 10px,#007bff 11px,#000de0 12px,#00008c 13px,#000080 15px,#000087 17px,#000de4 18px,#0091ff 19px,#48fcb7 20px,#e4eb1b 21px,#ff5f00 22px,#cf0300 23px,#830000 24px,#800000 28px,#b60000 29px,#fd2b00 30px,#ffab00 31px,#c8fe37 32px,#40ffbf 33px,#00beff 34px,#004dff 35px,#0004eb 36px,#0000ad 37px,#000087 38px,#000080 39px,#000091 40px,#0000c0 41px,#000ef8 42px,#0061ff 43px,#00c7ff 44px,#37ffc8 45px,#a6ff59 46px,#fae805 47px,#ff3b00 49px,#f70500 50px,#d50000 51px,#c50000 52px,#cd0000 53px,#ec0000 54px,#ff2200 55px,#ff6800 56px,#ffbb00 57px,#e3fc1c 58px,#27ffd8 60px,#00cdff 61px,#0080ff 62px,#0041ff 63px,#0014ff 64px,#0000fa 65px,#0009ff 67px,#002dff 68px,#0063ff 69px,#06f0f9 71px,#4cffb3 72px,#f0fa0f 74px,#ffbd00 75px,#ff7c00 76px,#ff4a00 77px,#ff2900 78px,#ff1b00 79px,#ff1f00 80px,#ff3600 81px,#ff5e00 82px,#ff9400 83px,#ffd700 84px,#ddff22 85px,#40ffbf 87px,#04f1fb 88px,#007dff 90px,#0055ff 91px,#003dff 92px,#0036ff 93px,#0040ff 94px,#005bff 95px,#0085ff 96px,#07f5f8 98px,#8dff72 100px,#d4ff2b 101px,#ffe700 102px,#ff7f00 104px,#ff5f00 105px,#ff4e00 106px,#ff4d00 107px,#ff5c00 108px,#ff7a00 109px,#ffdc00 111px,#e3ff1c 112px,#1affe5 115px,#00ddff 116px,#0083ff 118px,#0069ff 119px,#005eff 120px,#0062ff 121px,#0075ff 122px,#00c3ff 124px,#04f5fb 125px,#36ffc9 126px,#f1fd0e 129px,#ffd500 130px,#ff8700 132px,#ff7300 133px,#ff6d00 134px,#ff7500 135px,#ffae00 137px,#ffdc00 138px,#ecfe13 139px,#38ffc7 142px,#07f8f8 143px,#00a7ff 145px,#008bff 146px,#007cff 147px,#007bff 148px,#0087ff 149px,#00c5ff 151px,#02f1fd 152px,#29ffd6 153px,#d5ff2a 156px,#fdf302 157px,#ffa700 159px,#ff9000 160px,#ff8800 162px,#ffb400 164px,#f4fd0b 166px,#1effe1 170px,#00edff 171px,#00a8ff 173px,#0095ff 174px,#008fff 175px,#00a8ff 177px,#00edff 179px,#1dffe2 180px,#ecff13 184px,#ffe600 185px,#ffa900 187px,#ff9900 189px,#ffa200 190px,#ffd700 192px,#f9fa06 193px,#9eff61 195px,#0bfdf4 198px,#00c1ff 200px,#00a1ff 202px,#00afff 204px,#00e8ff 206px,#11ffee 207px,#d3ff2c 211px,#fafa05 212px,#ffbf00 214px,#ffa700 216px,#ffbb00 218px)}
.r11{background:linear-gradient(90deg,#f0fd0f 0px,#fdef02 2px,#ffa600 5px,#ff9e00 6px,#ffae00 7px,#ffda00 8px,#d7fe28 9px,#6eff91 10px,#0ce1f3 11px,#0064ff 12px,#0008db 13px,#00008c 14px,#000080 16px,#000080 17px,#0000b8 18px,#0043fe 19px,#0ddaf2 20px,#9aff65 21px,#fdb402 22px,#f72300 23px,#a20000 24px,#800000 25px,#800000 28px,#980000 29px,#f00e00 30px,#ff7c00 31px,#eaf015 32px,#6eff91 33px,#07e1f8 34px,#0070ff 35px,#0012f9 36px,#0000bf 37px,#000090 38px,#000080 39px,#00008b 40px,#0000b3 41px,#0005ef 42px,#0049ff 43px,#00aeff 44px,#1ffce0 45px,#8cff73 46px,#eff510 47px,#ffa100 48px,#ff4c00 49px,#fc0d00 50px,#dc0000 51px,#c70000 52px,#ca0000 53px,#e50000 54px,#ff1700 55px,#ff5a00 56px,#ffab00 57px,#eff710 58px,#37ffc8 60px,#00dcff 61px,#008cff 62px,#004bff 63px,#001bff 64px,#0002fc 65px,#0000f6 66px,#0006fe 67px,#0027ff 68px,#005aff 69px,#02e8fd 71px,#3fffc0 72px,#e7fd18 74px,#ffc700 75px,#ff8500 76px,#ff5100 77px,#ff2d00 78px,#ff1c00 79px,#ff1e00 80px,#ff3200 81px,#ff5800 82px,#ffce00 84px,#e6fe19 85px,#4affb5 87px,#09f6f6 88px,#0083ff 90px,#0059ff 91px,#003fff 92px,#0036ff 93px,#003eff 94px,#0057ff 95px,#00b5ff 97px,#04f1fb 98px,#3cffc3 99px,#cdff32 101px,#fdec02 102px,#ff8400 104px,#ff6200 105px,#ff4f00 106px,#ff4c00 107px,#ff5a00 108px,#ff7700 109px,#ffd700 111px,#e9fe16 112px,#20ffdf 115px,#00e2ff 116px,#0086ff 118px,#006bff 119px,#005eff 120px,#0061ff 121px,#0073ff 122px,#00beff 124px,#03f1fc 125px,#31ffce 126px,#edfe12 129px,#ffd900 130px,#ff8900 132px,#ff7400 133px,#ff6d00 134px,#ff7400 135px,#ff8900 136px,#ffd800 138px,#effd10 139px,#3cffc3 142px,#09faf6 143px,#00a9ff 145px,#007dff 147px,#007bff 148px,#0086ff 149px,#00c2ff 151px,#01effe 152px,#25ffda 153px,#d1ff2e 156px,#fcf503 157px,#ffa900 159px,#ff9100 160px,#ff8600 161px,#ff8800 162px,#ffb200 164px,#f6fc09 166px,#21ffde 170px,#00efff 171px,#00a9ff 173px,#008fff 175px,#00a7ff 177px,#00ebff 179px,#1affe5 180px,#eaff15 184px,#ffe800 185px,#ffaa00 187px,#ff9800 189px,#ffb600 191px,#fbf904 193px,#a1ff5e 195px,#0dfef2 198px,#00e2ff 199px,#00acff 201px,#00a2ff 203px,#00c5ff 205px,#00e6ff 206px,#0ffff0 207px,#d1ff2e 211px,#f9fb06 212px,#ffc100 214px,#ffa700 216px,#ffba00 218px)}
.r12{background:linear-gradient(90deg,#c7ff38 0px,#dfff20 2px,#f4fc0b 3px,#ffcf00 5px,#ffbc00 6px,#ffb800 7px,#ffca00 8px,#f9f306 9px,#b7ff48 10px,#4fffb0 11px,#04cffb 12px,#0053ff 13px,#0005d7 14px,#00008e 15px,#000080 16px,#000080 17px,#000096 18px,#0010ee 19px,#0090ff 20px,#3dfbc2 21px,#dbf224 22px,#ff7100 23px,#dd0700 24px,#890000 25px,#800000 28px,#860000 29px,#d40100 30px,#ff4c00 31px,#fdcf02 32px,#a1ff5e 33px,#1ff8e0 34px,#0099ff 35px,#002dff 36px,#0000d7 37px,#00009e 38px,#000083 39px,#000086 40px,#0000a6 41px,#0000e0 42px,#0031ff 43px,#0092ff 44px,#0df1f2 45px,#6fff90 46px,#dcfd23 47px,#ffb900 48px,#ff6000 49px,#ff1800 50px,#e50000 51px,#ca0000 52px,#c80000 53px,#de0000 54px,#fd0d00 55px,#ff4b00 56px,#f8ed07 58px,#aaff55 59px,#4affb5 60px,#04e9fb 61px,#0056ff 63px,#0022ff 64px,#0004fd 65px,#0000f6 66px,#0003fd 67px,#0020ff 68px,#0051ff 69px,#00ddff 71px,#31ffce 72px,#ddff22 74px,#ffd300 75px,#ff8e00 76px,#ff5800 77px,#ff3100 78px,#ff1d00 79px,#ff1c00 80px,#ff2e00 81px,#ff5200 82px,#ffc400 84px,#edfb12 85px,#0efaf1 88px,#00c3ff 89px,#005dff 91px,#0041ff 92px,#0036ff 93px,#003cff 94px,#0053ff 95px,#007aff 96px,#02ebfd 98px,#33ffcc 99px,#c5ff3a 101px,#fbf204 102px,#ff8800 104px,#ff6500 105px,#ff5000 106px,#ff4c00 107px,#ff5800 108px,#ff7300 109px,#ffd100 111px,#eefd11 112px,#26ffd9 115px,#00e8ff 116px,#0089ff 118px,#006dff 119px,#005fff 120px,#0060ff 121px,#0071ff 122px,#008fff 123px,#01edfe 125px,#2bffd4 126px,#e9ff16 129px,#ffdd00 130px,#ff8b00 132px,#ff7500 133px,#ff6d00 134px,#ff7300 135px,#ff8700 136px,#ffd400 138px,#f2fc0d 139px,#0bfcf4 143px,#00acff 145px,#007eff 147px,#007aff 148px,#009cff 150px,#00ecff 152px,#21ffde 153px,#cdff32 156px,#faf705 157px,#ffab00 159px,#ff9200 160px,#ff8600 161px,#ff8700 162px,#ffaf00 164px,#f8fa07 166px,#24ffdb 170px,#01f2fe 171px,#00abff 173px,#008fff 175px,#00a5ff 177px,#00e8ff 179px,#17ffe8 180px,#e7ff18 184px,#ffeb00 185px,#ffab00 187px,#ff9800 189px,#ffb500 191px,#fcf703 193px,#a4ff5b 195px,#0ffef0 198px,#00e4ff 199px,#00adff 201px,#00a1ff 203px,#00c4ff 205px,#00e4ff 206px,#0efef1 207px,#f7fc08 212px,#ffc200 214px,#ffa700 216px,#ffb900 218px)}
.r13{background:linear-gradient(90deg,#aaff55 0px,#bdff42 2px,#ebff14 4px,#fdf502 5px,#ffcf00 7px,#ffce00 8px,#ffe400 9px,#e7fe18 10px,#9bff64 11px,#36fdc9 12px,#01bdfe 13px,#0047fe 14px,#0004d8 15px,#000095 16px,#000080 17px,#000088 18px,#0000cd 19px,#0043ff 20px,#08d2f7 21px,#83ff7c 22px,#f9cb06 23px,#fd3900 24px,#b80000 25px,#810000 26px,#800000 29px,#ae0000 30px,#fa2000 31px,#ff9b00 32px,#d4fb2b 33px,#4dffb2 34px,#01c7fe 35px,#0054ff 36px,#0006ee 37px,#0000b1 38px,#00008b 39px,#000084 40px,#00009b 41px,#0000cd 42px,#001afd 43px,#03dcfc 45px,#50ffaf 46px,#c0ff3f 47px,#ffd400 48px,#ff7600 49px,#ff2900 50px,#ef0100 51px,#d00000 52px,#c70000 53px,#d70000 54px,#f90600 55px,#ff3b00 56px,#fede01 58px,#bfff40 59px,#5effa1 60px,#0cf4f3 61px,#0063ff 63px,#002bff 64px,#0008ff 65px,#0000f7 66px,#0001fc 67px,#0019ff 68px,#0047ff 69px,#0084ff 70px,#00cfff 71px,#23ffdc 72px,#ceff31 74px,#ffdf00 75px,#ff9900 76px,#ff6000 77px,#ff3700 78px,#ff2000 79px,#ff1c00 80px,#ff2b00 81px,#ff4b00 82px,#ff7c00 83px,#f4f70b 85px,#15fdea 88px,#00ccff 89px,#0091ff 90px,#0063ff 91px,#0044ff 92px,#0037ff 93px,#003bff 94px,#0050ff 95px,#0074ff 96px,#00e4ff 98px,#2affd5 99px,#bcff43 101px,#f8f607 102px,#ff8e00 104px,#ff6800 105px,#ff5200 106px,#ff4c00 107px,#ff5600 108px,#ff6f00 109px,#ffcb00 111px,#f3fb0c 112px,#2dffd2 115px,#01edfe 116px,#008dff 118px,#006fff 119px,#0060ff 120px,#0060ff 121px,#006eff 122px,#00b5ff 124px,#00e9ff 125px,#25ffda 126px,#e3ff1c 129px,#ffe200 130px,#ff8e00 132px,#ff7700 133px,#ff6d00 134px,#ff7200 135px,#ff8500 136px,#ffd000 138px,#f6fa09 139px,#0ffdf0 143px,#00d9ff 144px,#0091ff 146px,#007fff 147px,#007aff 148px,#0083ff 149px,#00bcff 151px,#00e8ff 152px,#1dffe2 153px,#c9ff36 156px,#f8f907 157px,#ffad00 159px,#ff8700 161px,#ff8700 162px,#ffad00 164px,#f9f806 166px,#96ff69 168px,#28ffd7 170px,#02f4fd 171px,#00adff 173px,#008fff 175px,#0093ff 176px,#00bfff 178px,#00e5ff 179px,#13ffec 180px,#e3ff1c 184px,#ffee00 185px,#ffad00 187px,#ff9800 189px,#ffb300 191px,#fdf502 193px,#d9ff26 194px,#11ffee 198px,#00e6ff 199px,#00aeff 201px,#00a1ff 203px,#00c2ff 205px,#0cfef3 207px,#f6fd09 212px,#ffc300 214px,#ffa700 216px,#ffb800 218px)}
.r14{background:linear-gradient(90deg,#98ff67 0px,#b6ff49 3px,#f9fb06 6px,#ffdf00 8px,#ffe300 9px,#fbf804 10px,#cfff30 11px,#81ff7e 12px,#23fadc 13px,#00adff 14px,#003ffe 15px,#0004dc 16px,#0000a3 17px,#000092 18px,#0000b4 19px,#0012f5 20px,#0085ff 21px,#29f6d6 22px,#c3fb3c 23px,#ff9400 24px,#f01500 25px,#9b0000 26px,#800000 27px,#800000 29px,#900000 30px,#e40600 31px,#ff6300 32px,#f5e10a 33px,#87ff78 34px,#10edef 35px,#0081ff 36px,#001bfc 37px,#0000c9 38px,#000098 39px,#000085 40px,#000092 41px,#0000bb 42px,#000af5 43px,#0057ff 44px,#00beff 45px,#2ffed0 46px,#9fff60 47px,#f7ea08 48px,#ff3e00 50px,#f80600 51px,#d70000 52px,#c80000 53px,#d20000 54px,#f20100 55px,#ff2b00 56px,#ff7400 57px,#ffca00 58px,#d5ff2a 59px,#19fce6 61px,#00bdff 62px,#0071ff 63px,#0036ff 64px,#000eff 65px,#0000f9 66px,#0000fa 67px,#0012ff 68px,#003dff 69px,#0078ff 70px,#00c0ff 71px,#16fce9 72px,#bfff40 74px,#fceb03 75px,#ff6900 77px,#ff3d00 78px,#ff2200 79px,#ff1b00 80px,#ff2700 81px,#ff4500 82px,#ff7300 83px,#faf105 85px,#bbff44 86px,#1fffe0 88px,#00d7ff 89px,#0099ff 90px,#0069ff 91px,#0048ff 92px,#0038ff 93px,#0039ff 94px,#004cff 95px,#006eff 96px,#00dbff 98px,#21ffde 99px,#f3fa0c 102px,#ff9400 104px,#ff6c00 105px,#ff5400 106px,#ff4c00 107px,#ff5400 108px,#ff6c00 109px,#ffc400 111px,#f7f708 112px,#78ff87 114px,#35ffca 115px,#03f2fc 116px,#0092ff 118px,#0072ff 119px,#0061ff 120px,#005fff 121px,#006cff 122px,#00b0ff 124px,#00e3ff 125px,#1fffe0 126px,#ddff22 129px,#ffe800 130px,#ff9200 132px,#ff7900 133px,#ff6d00 134px,#ff7100 135px,#ff8200 136px,#ffcb00 138px,#f8f807 139px,#89ff76 141px,#13feec 143px,#00deff 144px,#0093ff 146px,#0080ff 147px,#007aff 148px,#0082ff 149px,#00b8ff 151px,#00e4ff 152px,#18ffe7 153px,#f6fb09 157px,#ffb000 159px,#ff8700 161px,#ff8600 162px,#ff9200 163px,#ffce00 165px,#fbf604 166px,#d1ff2e 167px,#2cffd3 170px,#03f6fc 171px,#00afff 173px,#0099ff 174px,#0093ff 176px,#00bdff 178px,#00e2ff 179px,#10feef 180px,#e0ff1f 184px,#fff000 185px,#ffaf00 187px,#ff9d00 188px,#ff9f00 190px,#ffce00 192px,#fef301 193px,#dcff23 194px,#14ffeb 198px,#00e9ff 199px,#00afff 201px,#00a1ff 203px,#00c0ff 205px,#0afdf5 207px,#f4fe0b 212px,#ffc500 214px,#ffa800 216px,#ffb700 218px)}
.r15{background:linear-gradient(90deg,#8dff72 0px,#a2ff5d 3px,#f2fe0d 7px,#ffef00 9px,#fff500 10px,#edff12 11px,#b8ff47 12px,#16f4e9 14px,#00a0ff 15px,#003bfe 16px,#0004e3 17px,#0000b7 18px,#0000b4 19px,#0001e1 20px,#0040ff 21px,#02c1fd 22px,#61ff9e 23px,#ebe614 24px,#ff6000 25px,#d90500 26px,#8a0000 27px,#800000 29px,#820000 30px,#bf0000 31px,#fd2e00 32px,#ffad00 33px,#c4fe3b 34px,#3afec5 35px,#00b5ff 36px,#0043ff 37px,#0002e6 38px,#0000aa 39px,#00008c 40px,#00008d 41px,#0000ac 42px,#0001e5 43px,#0038ff 44px,#009bff 45px,#14f5eb 46px,#7bff84 47px,#e5fa1a 48px,#ffad00 49px,#ff5500 50px,#fe1100 51px,#e10000 52px,#cb0000 53px,#ce0000 54px,#e90000 55px,#ff1c00 56px,#ff6000 57px,#ffb300 58px,#e9fa16 59px,#2cffd3 61px,#00d1ff 62px,#0082ff 63px,#0043ff 64px,#0015ff 65px,#0001fb 66px,#0000f9 67px,#000cff 68px,#0033ff 69px,#006aff 70px,#0bf5f4 72px,#aeff51 74px,#f6f409 75px,#ff7400 77px,#ff4400 78px,#ff2600 79px,#ff1b00 80px,#ff2400 81px,#ff3f00 82px,#ff6a00 83px,#fde802 85px,#c8ff37 86px,#2bffd4 88px,#00e2ff 89px,#0070ff 91px,#004cff 92px,#0039ff 93px,#0038ff 94px,#0048ff 95px,#0068ff 96px,#00d2ff 98px,#17fee8 99px,#ecfd13 102px,#ffd000 103px,#ff9a00 104px,#ff7100 105px,#ff5700 106px,#ff4c00 107px,#ff5200 108px,#ff6800 109px,#ff8c00 110px,#fbf304 112px,#c6ff39 113px,#3dffc2 115px,#06f6f9 116px,#0096ff 118px,#0075ff 119px,#0062ff 120px,#005eff 121px,#006aff 122px,#0084ff 123px,#00ddff 125px,#18ffe7 126px,#d6ff29 129px,#feed01 130px,#ff9500 132px,#ff7b00 133px,#ff6e00 134px,#ff7000 135px,#ff8000 136px,#ffc600 138px,#fbf504 139px,#ccff33 140px,#18ffe7 143px,#00e3ff 144px,#0096ff 146px,#0081ff 147px,#007aff 148px,#0081ff 149px,#00b5ff 151px,#00dfff 152px,#13ffec 153px,#f3fd0c 157px,#ffb300 159px,#ff8800 161px,#ff8600 162px,#ffa800 164px,#fdf402 166px,#d6ff29 167px,#31ffce 170px,#05f8fa 171px,#00b1ff 173px,#0090ff 175px,#00a0ff 177px,#00deff 179px,#0dfef2 180px,#dcff23 184px,#fef301 185px,#ffb000 187px,#ff9800 189px,#ffb000 191px,#fef101 193px,#e0ff1f 194px,#17ffe8 198px,#00ecff 199px,#00b1ff 201px,#00a1ff 203px,#00beff 205px,#08fcf7 207px,#94ff6b 210px,#f1fe0e 212px,#ffe500 213px,#ffb200 215px,#ffa900 217px,#ffb600 218px)}
.r16{background:linear-gradient(90deg,#87ff78 0px,#9fff60 4px,#f9fe06 9px,#f8ff07 11px,#d9ff26 12px,#a4ff5b 13px,#58ffa7 14px,#0cedf3 15px,#0039ff 17px,#0005ec 18px,#0000ce 19px,#0000d7 20px,#0014fc 21px,#0077ff 22px,#15eaea 23px,#9cff63 24px,#fcc003 25px,#fd3600 26px,#bf0000 27px,#830000 28px,#800000 30px,#9b0000 31px,#ed0b00 32px,#ff6f00 33px,#f0e80f 34px,#7aff85 35px,#0be5f4 36px,#0075ff 37px,#0014fa 38px,#0000c4 39px,#000097 40px,#00008b 41px,#00009f 42px,#0000d0 43px,#001cfd 44px,#03dffc 46px,#55ffaa 47px,#c6ff39 48px,#ffcd00 49px,#ff7000 50px,#ff2400 51px,#ed0000 52px,#d00000 53px,#cb0000 54px,#e00000 55px,#fd0e00 56px,#ff4c00 57px,#f7ef08 59px,#a6ff59 60px,#44ffbb 61px,#02e5fd 62px,#0051ff 64px,#001fff 65px,#0003fd 66px,#0007ff 68px,#0029ff 69px,#005dff 70px,#04ebfb 72px,#45ffba 73px,#ecfb13 75px,#ffc100 76px,#ff7f00 77px,#ff4d00 78px,#ff2b00 79px,#ff1c00 80px,#ff2100 81px,#ff3800 82px,#ff6100 83px,#ffdc00 85px,#d6ff29 86px,#39ffc6 88px,#02ecfd 89px,#0078ff 91px,#0051ff 92px,#003bff 93px,#0037ff 94px,#0044ff 95px,#0062ff 96px,#00c8ff 98px,#0ffbf0 99px,#e3ff1c 102px,#ffd900 103px,#ff7700 105px,#ff5a00 106px,#ff4d00 107px,#ff5000 108px,#ff6400 109px,#ff8600 110px,#fded02 112px,#cfff30 113px,#46ffb9 115px,#0bfaf4 116px,#009cff 118px,#0079ff 119px,#0064ff 120px,#005eff 121px,#0068ff 122px,#0080ff 123px,#00d6ff 125px,#12fded 126px,#cfff30 129px,#fcf203 130px,#ff9900 132px,#ff7d00 133px,#ff6f00 134px,#ff6f00 135px,#ff7d00 136px,#ffc100 138px,#fdf102 139px,#d3ff2c 140px,#1effe1 143px,#00e8ff 144px,#0099ff 146px,#0083ff 147px,#007aff 148px,#007fff 149px,#00b1ff 151px,#00daff 152px,#0ffdf0 153px,#effe10 157px,#ffde00 158px,#ff9a00 160px,#ff8900 161px,#ff8f00 163px,#ffc700 165px,#fef001 166px,#dbff24 167px,#35ffca 170px,#07fbf8 171px,#00b4ff 173px,#0090ff 175px,#0091ff 176px,#00b8ff 178px,#0afdf5 180px,#d8ff27 184px,#fdf502 185px,#ffb200 187px,#ff9800 189px,#ffae00 191px,#ffee00 193px,#e4ff1b 194px,#1bffe4 198px,#00efff 199px,#00b2ff 201px,#00a0ff 203px,#00bcff 205px,#06faf9 207px,#5fffa0 209px,#efff10 212px,#ffe800 213px,#ffb300 215px,#ffa900 217px,#ffb500 218px)}
.r17{background:linear-gradient(90deg,#83ff7c 0px,#93ff6c 4px,#d0ff2f 8px,#f0ff0f 10px,#f4ff0b 11px,#e8ff17 12px,#c8ff37 13px,#92ff6d 14px,#47ffb8 15px,#07e6f8 16px,#003bff 18px,#0008f6 19px,#0000e6 20px,#0004f7 21px,#003fff 22px,#00acff 23px,#3bfcc4 24px,#ccf933 25px,#ff9400 26px,#f51900 27px,#aa0000 28px,#810000 29px,#870000 31px,#ca0000 32px,#fe3500 33px,#ffb400 34px,#befe41 35px,#34fdcb 36px,#00aeff 37px,#003dff 38px,#0002e3 39px,#0000aa 40px,#000090 41px,#000096 42px,#0000bc 43px,#0008f4 44px,#0054ff 45px,#00bbff 46px,#2dfed2 47px,#9eff61 48px,#f7ea08 49px,#ff3c00 51px,#f80600 52px,#d80000 53px,#cb0000 54px,#d80000 55px,#f80500 56px,#ff3800 57px,#fedc01 59px,#c1ff3e 60px,#5fffa0 61px,#0cf4f3 62px,#0062ff 64px,#002bff 65px,#0008ff 66px,#0003fe 68px,#001fff 69px,#004fff 70px,#008fff 71px,#00dcff 72px,#31ffce 73px,#ddff22 75px,#ffd100 76px,#ff8d00 77px,#ff5600 78px,#ff3100 79px,#ff1e00 80px,#ff1f00 81px,#ff3200 82px,#ff5800 83px,#ff8d00 84px,#ffcf00 85px,#e4fe1b 86px,#47ffb8 88px,#07f4f8 89px,#0081ff 91px,#0057ff 92px,#003eff 93px,#0037ff 94px,#0041ff 95px,#005cff 96px,#00beff 98px,#09f6f6 99px,#91ff6e 101px,#d8ff27 102px,#ffe300 103px,#ff7d00 105px,#ff5d00 106px,#ff4e00 107px,#ff4f00 108px,#ff6000 109px,#ff8000 110px,#ffe600 112px,#d8ff27 113px,#11fdee 116px,#00d3ff 117px,#007dff 119px,#0066ff 120px,#005eff 121px,#0066ff 122px,#007cff 123px,#00cfff 125px,#0cfbf3 126px,#c7ff38 129px,#faf605 130px,#ff9e00 132px,#ff8000 133px,#ff7000 134px,#ff6e00 135px,#ff7b00 136px,#ff9500 137px,#ffec00 139px,#daff25 140px,#25ffda 143px,#01edfe 144px,#009cff 146px,#007aff 148px,#007eff 149px,#008fff 150px,#00d5ff 152px,#0bfcf4 153px,#eaff15 157px,#ffe300 158px,#ff9c00 160px,#ff8a00 161px,#ff8500 162px,#ffa300 164px,#ffed00 166px,#e0ff1f 167px,#0afcf5 171px,#00b7ff 173px,#0091ff 175px,#009dff 177px,#00d7ff 179px,#08fbf7 180px,#d3ff2c 184px,#fbf804 185px,#ffb500 187px,#ff9800 189px,#ffac00 191px,#ffeb00 193px,#e8ff17 194px,#1fffe0 198px,#01f2fe 199px,#00b4ff 201px,#00a0ff 203px,#00baff 205px,#04f9fb 207px,#5bffa4 209px,#ecff13 212px,#ffea00 213px,#ffb400 215px,#ffa800 217px,#ffb300 218px)}
.r18{background:linear-gradient(90deg,#81ff7e 0px,#92ff6d 5px,#cbff34 9px,#e6ff19 11px,#e7ff18 12px,#d9ff26 13px,#b8ff47 14px,#82ff7d 15px,#39ffc6 16px,#04dffb 17px,#0040ff 19px,#0010fe 20px,#0003fd 21px,#0020ff 22px,#006cff 23px,#06d8f9 24px,#6cff93 25px,#ebe814 26px,#ff6b00 27px,#e80900 28px,#9c0000 29px,#800000 30px,#800000 31px,#a60000 32px,#f00d00 33px,#ff7200 34px,#f0e90f 35px,#79ff86 36px,#0ae4f5 37px,#0074ff 38px,#0014fa 39px,#0000c5 40px,#00009b 41px,#000093 42px,#0000ab 43px,#0000e1 44px,#0031ff 45px,#0092ff 46px,#0ff1f0 47px,#74ff8b 48px,#e1fb1e 49px,#ffb100 50px,#ff5800 51px,#fe1300 52px,#e30000 53px,#ce0000 54px,#d20000 55px,#ef0100 56px,#ff2500 57px,#ff6c00 58px,#ffc100 59px,#ddfe22 60px,#1dfde2 62px,#00c1ff 63px,#0075ff 64px,#0038ff 65px,#000fff 66px,#0000fb 67px,#0001fc 68px,#0016ff 69px,#0042ff 70px,#007eff 71px,#00c8ff 72px,#1dfee2 73px,#caff35 75px,#fee201 76px,#ff6200 78px,#ff3800 79px,#ff2100 80px,#ff1d00 81px,#ff2d00 82px,#ff4f00 83px,#ff8100 84px,#ffc000 85px,#f0fa0f 86px,#0ffbf0 89px,#00c5ff 90px,#008aff 91px,#005eff 92px,#0042ff 93px,#0037ff 94px,#003eff 95px,#0056ff 96px,#007eff 97px,#03effc 99px,#3affc5 100px,#ccff33 102px,#fdec02 103px,#ff8300 105px,#ff6200 106px,#ff4f00 107px,#ff4e00 108px,#ff5c00 109px,#ff7a00 110px,#ffdc00 112px,#e3ff1c 113px,#19ffe6 116px,#00dbff 117px,#0082ff 119px,#0069ff 120px,#005eff 121px,#0064ff 122px,#0078ff 123px,#00c8ff 125px,#07f8f8 126px,#beff41 129px,#f6fa09 130px,#ffa300 132px,#ff8300 133px,#ff7100 134px,#ff6e00 135px,#ff7900 136px,#ff9100 137px,#ffe600 139px,#e1ff1e 140px,#2cffd3 143px,#02f2fd 144px,#00a0ff 146px,#0087ff 147px,#007bff 148px,#007dff 149px,#00a9ff 151px,#07f9f8 153px,#72ff8d 155px,#e4ff1b 157px,#ffe800 158px,#ff9f00 160px,#ff8500 162px,#ff8c00 163px,#ffbf00 165px,#ffe800 166px,#e5ff1a 167px,#0efef1 171px,#00deff 172px,#00a0ff 174px,#0090ff 176px,#00b2ff 178px,#05f9fa 180px,#65ff9a 182px,#cfff30 184px,#f9fa06 185px,#ffb700 187px,#ff9900 189px,#ff9b00 190px,#ffc400 192px,#ffe700 193px,#ecff13 194px,#23ffdc 198px,#02f4fd 199px,#00b6ff 201px,#00a0ff 203px,#00b9ff 205px,#03f7fc 207px,#26ffd9 208px,#e8ff17 212px,#ffee00 213px,#ffb600 215px,#ffa800 217px,#ffb200 218px)}
.r19{background:linear-gradient(90deg,#80ff7f 0px,#91ff6e 6px,#ddff22 12px,#dcff23 13px,#ccff33 14px,#a9ff56 15px,#73ff8c 16px,#2dfed2 17px,#02d9fd 18px,#0047ff 20px,#001fff 21px,#001cff 22px,#0045ff 23px,#0098ff 24px,#1af4e5 25px,#9cff63 26px,#facb05 27px,#ff4900 28px,#d80300 29px,#950000 30px,#800000 31px,#900000 32px,#d00000 33px,#fe3500 34px,#ffb100 35px,#c2fe3d 36px,#38fdc7 37px,#00b2ff 38px,#0041ff 39px,#0002e6 40px,#0000af 41px,#000097 42px,#0000a0 43px,#0000c9 44px,#0013fb 45px,#0069ff 46px,#01d2fe 47px,#46ffb9 48px,#b9ff46 49px,#fed701 50px,#ff7800 51px,#ff2b00 52px,#f10100 53px,#d40000 54px,#cf0000 55px,#e40000 56px,#fe1300 57px,#ff5400 58px,#ffa500 59px,#f1f40e 60px,#38ffc7 62px,#01dbfe 63px,#008aff 64px,#0049ff 65px,#001aff 66px,#0002fd 67px,#0000fb 68px,#000eff 69px,#0035ff 70px,#006dff 71px,#00b4ff 72px,#0ef7f1 73px,#b4ff4b 75px,#f9f006 76px,#ff6e00 78px,#ff4100 79px,#ff2500 80px,#ff1d00 81px,#ff2800 82px,#ff4600 83px,#ff7500 84px,#f8f207 86px,#b8ff47 87px,#1bfee4 89px,#00d2ff 90px,#0066ff 92px,#0046ff 93px,#0038ff 94px,#003bff 95px,#0050ff 96px,#0075ff 97px,#00e6ff 99px,#2dffd2 100px,#bfff40 102px,#f9f406 103px,#ff8b00 105px,#ff6700 106px,#ff5200 107px,#ff4d00 108px,#ff5900 109px,#ff7400 110px,#ffd300 112px,#ecfd13 113px,#23ffdc 116px,#00e4ff 117px,#0087ff 119px,#006cff 120px,#005fff 121px,#0062ff 122px,#0074ff 123px,#00c0ff 125px,#04f3fb 126px,#34ffcb 127px,#f0fd0f 130px,#ffd500 131px,#ff8700 133px,#ff7300 134px,#ff6d00 135px,#ff7600 136px,#ff8d00 137px,#ffdf00 139px,#e8ff17 140px,#33ffcc 143px,#04f6fb 144px,#00a4ff 146px,#0089ff 147px,#007cff 148px,#007cff 149px,#008aff 150px,#00cbff 152px,#04f6fb 153px,#31ffce 154px,#deff21 157px,#ffed00 158px,#ffa200 160px,#ff8d00 161px,#ff8b00 163px,#ffbb00 165px,#ffe300 166px,#ebff14 167px,#12ffed 171px,#00e3ff 172px,#00a2ff 174px,#0090ff 176px,#00afff 178px,#03f6fc 180px,#5fffa0 182px,#f7fc08 185px,#ffba00 187px,#ff9900 189px,#ffa800 191px,#ffe300 193px,#f0fe0f 194px,#27ffd8 198px,#03f7fc 199px,#00b8ff 201px,#00a0ff 203px,#00b6ff 205px,#02f4fd 207px,#22ffdd 208px,#e4ff1b 212px,#fff100 213px,#ffb700 215px,#ffa800 217px,#ffb100 218px)}
.r20{background:linear-gradient(90deg,#80ff7f 0px,#8aff75 6px,#b3ff4c 10px,#d5ff2a 13px,#d1ff2e 14px,#c0ff3f 15px,#9cff63 16px,#67ff98 17px,#24fedb 18px,#01d4fe 19px,#008aff 20px,#0050ff 21px,#0031ff 22px,#0038ff 23px,#0069ff 24px,#01c1fe 25px,#3dfec2 26px,#c4fc3b 27px,#ffaa00 28px,#fd2f00 29px,#cb0000 30px,#950000 31px,#8b0000 32px,#b00000 33px,#f10c00 34px,#ff6c00 35px,#f3e40c 36px,#83ff7c 37px,#0feaf0 38px,#007cff 39px,#0019fb 40px,#0000cb 41px,#0000a3 42px,#00009c 43px,#0000b7 44px,#0003ec 45px,#0042ff 46px,#00a6ff 47px,#1cf9e3 48px,#8aff75 49px,#eff310 50px,#ff9d00 51px,#ff4700 52px,#fb0b00 53px,#de0000 54px,#cf0000 55px,#db0000 56px,#fa0700 57px,#ff3c00 58px,#fde102 60px,#baff45 61px,#57ffa8 62px,#08eff7 63px,#005bff 65px,#0026ff 66px,#0006ff 67px,#0000fb 68px,#0008ff 69px,#0029ff 70px,#005dff 71px,#04ebfb 73px,#46ffb9 74px,#eefa11 76px,#ffbe00 77px,#ff7d00 78px,#ff4b00 79px,#ff2a00 80px,#ff1d00 81px,#ff2400 82px,#ff3e00 83px,#ff6900 84px,#fee701 86px,#c9ff36 87px,#2bffd4 89px,#00e1ff 90px,#006fff 92px,#004cff 93px,#003aff 94px,#003aff 95px,#004bff 96px,#006dff 97px,#00d9ff 99px,#1fffe0 100px,#f2fa0d 103px,#ffc800 104px,#ff6c00 106px,#ff5400 107px,#ff4d00 108px,#ff5600 109px,#ff6e00 110px,#ffc900 112px,#f4fa0b 113px,#2effd1 116px,#01edfe 117px,#008dff 119px,#006fff 120px,#0060ff 121px,#0061ff 122px,#0070ff 123px,#008eff 124px,#01edfe 126px,#2bffd4 127px,#e9ff16 130px,#ffdd00 131px,#ff8b00 133px,#ff7500 134px,#ff6d00 135px,#ff7400 136px,#ff8900 137px,#ffd800 139px,#effd10 140px,#3bffc4 143px,#08faf7 144px,#00a8ff 146px,#008cff 147px,#007dff 148px,#007bff 149px,#00a1ff 151px,#02f2fd 153px,#2affd5 154px,#d7ff28 157px,#fdf202 158px,#ffa600 160px,#ff8f00 161px,#ff8600 162px,#ff9a00 164px,#ffde00 166px,#f0fe0f 167px,#18ffe7 171px,#00e8ff 172px,#00a5ff 174px,#0094ff 175px,#0098ff 177px,#00ccff 179px,#02f3fd 180px,#25ffda 181px,#f3fd0c 185px,#ffbd00 187px,#ffa500 188px,#ff9a00 190px,#ffbe00 192px,#f3fd0c 194px,#2cffd3 198px,#05f9fa 199px,#00baff 201px,#00a0ff 203px,#00b4ff 205px,#01f2fe 207px,#1effe1 208px,#e0ff1f 212px,#fef301 213px,#ffb900 215px,#ffa800 217px,#ffb000 218px)}
.r21{background:linear-gradient(90deg,#80ff7f 0px,#8aff75 7px,#b0ff4f 11px,#cdff32 14px,#c8ff37 15px,#b5ff4a 16px,#91ff6e 17px,#1cfce3 19px,#00d0ff 20px,#008dff 21px,#005aff 22px,#0044ff 23px,#0053ff 24px,#008cff 25px,#07e3f8 26px,#66ff99 27px,#e2f21d 28px,#ff8900 29px,#f91c00 30px,#c30000 31px,#9b0000 32px,#a10000 33px,#d40000 34px,#fe2f00 35px,#ffa500 36px,#cefc31 37px,#46feb9 38px,#01bffe 39px,#004cff 40px,#0005ed 41px,#0000b8 42px,#0000a0 43px,#0000aa 44px,#0000d4 45px,#001dfe 46px,#05e0fa 48px,#59ffa6 49px,#cbfe34 50px,#ffc600 51px,#ff6900 52px,#ff1f00 53px,#ec0000 54px,#d30000 55px,#d50000 56px,#f10100 57px,#ff2600 58px,#ff6d00 59px,#ffc300 60px,#dafe25 61px,#1afce5 63px,#00bdff 64px,#0071ff 65px,#0036ff 66px,#000eff 67px,#0000fc 68px,#0003fe 69px,#001dff 70px,#004cff 71px,#00d8ff 73px,#2effd1 74px,#dcff23 76px,#ffd200 77px,#ff8d00 78px,#ff5700 79px,#ff3100 80px,#ff1f00 81px,#ff2100 82px,#ff3600 83px,#ff5d00 84px,#ffd700 86px,#dcff23 87px,#3dffc2 89px,#03eefc 90px,#007aff 92px,#0053ff 93px,#003dff 94px,#0038ff 95px,#0046ff 96px,#0065ff 97px,#0092ff 98px,#00ccff 99px,#13fdec 100px,#e9fe16 103px,#ffd400 104px,#ff9d00 105px,#ff7300 106px,#ff5800 107px,#ff4d00 108px,#ff5300 109px,#ff6900 110px,#ff8d00 111px,#faf405 113px,#c2ff3d 114px,#39ffc6 116px,#05f4fa 117px,#0094ff 119px,#0073ff 120px,#0062ff 121px,#0060ff 122px,#006dff 123px,#00b1ff 125px,#00e5ff 126px,#21ffde 127px,#e0ff1f 130px,#ffe500 131px,#ff9000 133px,#ff7800 134px,#ff6e00 135px,#ff7200 136px,#ff8500 137px,#ffd100 139px,#f5fb0a 140px,#0dfdf2 144px,#00d7ff 145px,#008fff 147px,#007eff 148px,#007bff 149px,#0085ff 150px,#00c0ff 152px,#00edff 153px,#23ffdc 154px,#d0ff2f 157px,#fbf604 158px,#ffa900 160px,#ff9100 161px,#ff8600 162px,#ff8800 163px,#ffb300 165px,#f4fc0b 167px,#1effe1 171px,#00edff 172px,#00a7ff 174px,#008fff 176px,#00a9ff 178px,#00efff 180px,#1fffe0 181px,#effe10 185px,#ffe300 186px,#ffa800 188px,#ff9a00 189px,#ffa400 191px,#ffdc00 193px,#f6fc09 194px,#07fbf8 199px,#00bdff 201px,#00a0ff 203px,#00b2ff 205px,#00eeff 207px,#19ffe6 208px,#dcff23 212px,#fdf602 213px,#ffbb00 215px,#ffa700 217px,#ffae00 218px)}
.r22{background:linear-gradient(90deg,#80ff7f 0px,#89ff76 8px,#c5ff3a 15px,#bfff40 16px,#aaff55 17px,#86ff79 18px,#17fbe8 20px,#00ceff 21px,#0090ff 22px,#0065ff 23px,#0058ff 24px,#006fff 25px,#00aeff 26px,#19f7e6 27px,#8cff73 28px,#f4e10b 29px,#ff6d00 30px,#f41000 31px,#bf0000 32px,#a60000 33px,#bb0000 34px,#f20a00 35px,#ff6100 36px,#f9d806 37px,#96ff69 38px,#19f2e6 39px,#008dff 40px,#0025fe 41px,#0000d7 42px,#0000ad 43px,#0000a5 44px,#0000c0 45px,#0007f2 46px,#004dff 47px,#00b3ff 48px,#27fdd8 49px,#9aff65 50px,#f6eb09 51px,#ff3d00 53px,#f90600 54px,#dc0000 55px,#d30000 56px,#e50000 57px,#fe1200 58px,#ff5200 59px,#ffa300 60px,#f2f30d 61px,#38ffc7 63px,#01dafe 64px,#0089ff 65px,#0048ff 66px,#001aff 67px,#0002fe 68px,#0001fd 69px,#0014ff 70px,#003dff 71px,#0077ff 72px,#00c0ff 73px,#17fce8 74px,#c3ff3c 76px,#fde602 77px,#ff6400 79px,#ff3a00 80px,#ff2300 81px,#ff1f00 82px,#ff2f00 83px,#ff5200 84px,#ff8500 85px,#ffc500 86px,#ecfc13 87px,#0bf8f4 90px,#0085ff 92px,#005aff 93px,#0040ff 94px,#0038ff 95px,#0042ff 96px,#005dff 97px,#0087ff 98px,#09f7f6 100px,#dbff24 103px,#ffe100 104px,#ffa700 105px,#ff7b00 106px,#ff5c00 107px,#ff4e00 108px,#ff5100 109px,#ff6300 110px,#ff8500 111px,#fdec02 113px,#cfff30 114px,#0afaf5 117px,#009bff 119px,#0078ff 120px,#0064ff 121px,#005fff 122px,#006aff 123px,#0083ff 124px,#00dbff 126px,#17ffe8 127px,#d6ff29 130px,#feed01 131px,#ff9500 133px,#ff7b00 134px,#ff6e00 135px,#ff7100 136px,#ff8200 137px,#ffca00 139px,#f9f706 140px,#8aff75 142px,#13feec 144px,#00deff 145px,#0093ff 147px,#0080ff 148px,#007bff 149px,#0083ff 150px,#00bbff 152px,#00e7ff 153px,#1bffe4 154px,#c8ff37 157px,#f8f907 158px,#ffad00 160px,#ff8700 162px,#ff8700 163px,#ffaf00 165px,#f8fa07 167px,#24ffdb 171px,#01f1fe 172px,#00abff 174px,#0097ff 175px,#0095ff 177px,#00c4ff 179px,#00eaff 180px,#1affe5 181px,#eaff15 185px,#ffe800 186px,#ffaa00 188px,#ff9b00 189px,#ffa300 191px,#ffd700 193px,#f9fa06 194px,#9dff62 196px,#0afdf5 199px,#00c0ff 201px,#00a1ff 203px,#00b0ff 205px,#00eaff 207px,#15ffea 208px,#d7ff28 212px,#fcf903 213px,#ffbd00 215px,#ffa700 217px,#ffad00 218px)}
.r23{background:linear-gradient(90deg,#80ff7f 0px,#89ff76 9px,#beff41 16px,#b6ff49 17px,#a1ff5e 18px,#7dff82 19px,#12faed 21px,#00cdff 22px,#0096ff 23px,#0072ff 24px,#006cff 25px,#008bff 26px,#01cefe 27px,#36fec9 28px,#afff50 29px,#fcca03 30px,#ff5600 31px,#ef0900 32px,#c10000 33px,#b60000 34px,#d90000 35px,#fe2800 36px,#ff9400 37px,#dff620 38px,#5effa1 39px,#04d3fb 40px,#0060ff 41px,#000df6 42px,#0000c5 43px,#0000aa 44px,#0000b3 45px,#0000dd 46px,#0025ff 47px,#08e7f7 49px,#64ff9b 50px,#d6fd29 51px,#ffbc00 52px,#ff6000 53px,#ff1900 54px,#e90000 55px,#d50000 56px,#dd0000 57px,#f90500 58px,#ff3700 59px,#fedb01 61px,#c0ff3f 62px,#5cffa3 63px,#0af1f5 64px,#005dff 66px,#0028ff 67px,#0008ff 68px,#0000fd 69px,#000bff 70px,#002eff 71px,#0064ff 72px,#08f1f7 74px,#51ffae 75px,#aaff55 76px,#f4f50b 77px,#ff7400 79px,#ff4500 80px,#ff2800 81px,#ff1e00 82px,#ff2900 83px,#ff4700 84px,#ff7600 85px,#f7f308 87px,#b5ff4a 88px,#18fee7 90px,#00cfff 91px,#0092ff 92px,#0064ff 93px,#0045ff 94px,#0039ff 95px,#003eff 96px,#0055ff 97px,#007cff 98px,#03eefc 100px,#39ffc6 101px,#ccff33 103px,#fdec02 104px,#ff8300 106px,#ff6200 107px,#ff5000 108px,#ff4f00 109px,#ff5e00 110px,#ff7d00 111px,#ffe200 113px,#dcff23 114px,#13fdec 117px,#00d5ff 118px,#00a3ff 119px,#007eff 120px,#0067ff 121px,#005fff 122px,#0067ff 123px,#007dff 124px,#00d2ff 126px,#0efcf1 127px,#cbff34 130px,#fbf404 131px,#ff9b00 133px,#ff7e00 134px,#ff7000 135px,#ff7000 136px,#ff7e00 137px,#ffc200 139px,#fdf202 140px,#d1ff2e 141px,#1cffe3 144px,#00e6ff 145px,#0097ff 147px,#0082ff 148px,#007bff 149px,#0081ff 150px,#00b5ff 152px,#00e0ff 153px,#14ffeb 154px,#f4fc0b 158px,#ffb200 160px,#ff8800 162px,#ff9200 164px,#ffce00 166px,#fbf604 167px,#d1ff2e 168px,#2bffd4 171px,#03f6fc 172px,#00aeff 174px,#0090ff 176px,#00a4ff 178px,#00e5ff 180px,#14ffeb 181px,#e4ff1b 185px,#ffed00 186px,#ffac00 188px,#ff9c00 189px,#ffa100 191px,#ffd300 193px,#fcf703 194px,#a3ff5c 196px,#0efef1 199px,#00e3ff 200px,#00acff 202px,#00a2ff 204px,#00c6ff 206px,#00e6ff 207px,#10ffef 208px,#d2ff2d 212px,#f9fb06 213px,#ffc000 215px,#ffa700 217px,#ffac00 218px)}
.r24{background:linear-gradient(90deg,#80ff7f 0px,#88ff77 10px,#b7ff48 16px,#afff50 18px,#99ff66 19px,#75ff8a 20px,#0ff9f0 22px,#00ceff 23px,#009cff 24px,#007fff 25px,#0080ff 26px,#00a6ff 27px,#06e9f9 28px,#57ffa8 29px,#cdfc32 30px,#ffb200 31px,#ff4400 32px,#ed0500 33px,#c80000 34px,#cb0000 35px,#f30700 36px,#ff5300 37px,#fdc502 38px,#b1ff4e 39px,#2dfbd2 40px,#00a7ff 41px,#003aff 42px,#0002e7 43px,#0000ba 44px,#0000af 45px,#0000c7 46px,#0009f6 47px,#0053ff 48px,#00b9ff 49px,#2efdd1 50px,#a1ff5e 51px,#f9e606 52px,#ff3700 54px,#f80500 55px,#dc0000 56px,#d80000 57px,#ef0000 58px,#ff1f00 59px,#ff6400 60px,#ffb900 61px,#e2fc1d 62px,#21fdde 64px,#00c4ff 65px,#0076ff 66px,#0039ff 67px,#0011ff 68px,#0001fe 69px,#0005ff 70px,#0021ff 71px,#0051ff 72px,#0091ff 73px,#01defe 74px,#35ffca 75px,#e3fe1c 77px,#ffca00 78px,#ff8600 79px,#ff5100 80px,#ff2f00 81px,#ff2000 82px,#ff2500 83px,#ff3d00 84px,#ff6800 85px,#fee601 87px,#caff35 88px,#2bffd4 90px,#00e0ff 91px,#006eff 93px,#004cff 94px,#003aff 95px,#003bff 96px,#004eff 97px,#0072ff 98px,#00e1ff 100px,#28ffd7 101px,#bbff44 103px,#f8f607 104px,#ff8d00 106px,#ff6800 107px,#ff5300 108px,#ff4e00 109px,#ff5a00 110px,#ff7600 111px,#ffd600 113px,#e9fe16 114px,#1effe1 117px,#00e0ff 118px,#0084ff 120px,#006aff 121px,#005fff 122px,#0064ff 123px,#0078ff 124px,#00c8ff 126px,#08f8f7 127px,#7fff80 129px,#f6f909 131px,#ffa100 133px,#ff8200 134px,#ff7100 135px,#ff6f00 136px,#ff7b00 137px,#ffbb00 139px,#ffeb00 140px,#dbff24 141px,#25ffda 144px,#01edfe 145px,#009cff 147px,#0085ff 148px,#007bff 149px,#007fff 150px,#00afff 152px,#00d8ff 153px,#0dfdf2 154px,#eefe11 158px,#ffdf00 159px,#ff9a00 161px,#ff8600 163px,#ffa600 165px,#fdf202 167px,#d8ff27 168px,#32ffcd 171px,#06f9f9 172px,#00b2ff 174px,#0090ff 176px,#0092ff 177px,#00bbff 179px,#00e0ff 180px,#0efef1 181px,#deff21 185px,#fef101 186px,#ffaf00 188px,#ff9800 190px,#ffb200 192px,#fdf402 194px,#dbff24 195px,#12ffed 199px,#00e7ff 200px,#00afff 202px,#00a1ff 204px,#00c2ff 206px,#0cfef3 208px,#f7fd08 213px,#ffc200 215px,#ffa800 217px,#ffab00 218px)}
.r25{background:linear-gradient(90deg,#80ff7f 0px,#88ff77 11px,#b2ff4d 17px,#a8ff57 19px,#6eff91 21px,#0df9f2 23px,#00cfff 24px,#00a3ff 25px,#008dff 26px,#0095ff 27px,#00c0ff 28px,#15f8ea 29px,#76ff89 30px,#e3f51c 31px,#ff9b00 32px,#ff3600 33px,#ec0300 34px,#d20000 35px,#e20000 36px,#fe2000 37px,#ff7f00 38px,#f0ea0f 39px,#7dff82 40px,#0ee8f1 41px,#007cff 42px,#001dfd 43px,#0000d6 44px,#0000b6 45px,#0000bb 46px,#0000e2 47px,#0029ff 48px,#0ae9f5 50px,#68ff97 51px,#d9fc26 52px,#ffb700 53px,#ff5c00 54px,#fe1700 55px,#e90000 56px,#d90000 57px,#e40000 58px,#fd0c00 59px,#ff4700 60px,#f8eb07 62px,#a9ff56 63px,#45ffba 64px,#02e3fd 65px,#0092ff 66px,#004fff 67px,#001fff 68px,#0005ff 69px,#0002ff 70px,#0016ff 71px,#003fff 72px,#007aff 73px,#00c4ff 74px,#1bfde4 75px,#c9ff36 77px,#fee201 78px,#ff9a00 79px,#ff6000 80px,#ff3800 81px,#ff2300 82px,#ff2200 83px,#ff3500 84px,#ff5a00 85px,#ffd200 87px,#e0ff1f 88px,#40ffbf 90px,#04effb 91px,#007bff 93px,#0053ff 94px,#003eff 95px,#003aff 96px,#0048ff 97px,#0068ff 98px,#0096ff 99px,#00d1ff 100px,#18fee7 101px,#eefc11 104px,#ffcd00 105px,#ff6f00 107px,#ff5600 108px,#ff4e00 109px,#ff5600 110px,#ff6f00 111px,#ffc900 113px,#f3fa0c 114px,#2cffd3 117px,#01ebfe 118px,#008cff 120px,#006eff 121px,#0060ff 122px,#0062ff 123px,#0073ff 124px,#0092ff 125px,#03f1fc 127px,#32ffcd 128px,#effd10 131px,#ffd600 132px,#ff8700 134px,#ff7300 135px,#ff6e00 136px,#ff7800 137px,#ff8f00 138px,#ffe200 140px,#e5ff1a 141px,#2fffd0 144px,#03f4fc 145px,#00a1ff 147px,#0088ff 148px,#007cff 149px,#007eff 150px,#008dff 151px,#00d1ff 153px,#08faf7 154px,#e6ff19 158px,#ffe600 159px,#ff9e00 161px,#ff8b00 162px,#ff8600 163px,#ffa200 165px,#ffed00 167px,#e0ff1f 168px,#0afcf5 172px,#00b6ff 174px,#0091ff 176px,#0091ff 177px,#00b7ff 179px,#0afcf5 181px,#d8ff27 185px,#fdf502 186px,#ffb200 188px,#ff9800 190px,#ffaf00 192px,#fff000 194px,#e1ff1e 195px,#18ffe7 199px,#00ecff 200px,#00b1ff 202px,#00a1ff 204px,#00bfff 206px,#09fdf6 208px,#f3fe0c 213px,#ffc500 215px,#ffa800 217px,#ffaa00 218px)}
.r26{background:linear-gradient(90deg,#80ff7f 0px,#88ff77 12px,#aeff51 18px,#a1ff5e 20px,#8bff74 21px,#39ffc6 23px,#0bf9f4 24px,#00acff 26px,#009cff 27px,#00aaff 28px,#00d9ff 29px,#2bfed4 30px,#93ff6c 31px,#f1ea0e 32px,#ff8800 33px,#ff2c00 34px,#ef0200 35px,#e10000 36px,#f70600 37px,#ff4500 38px,#ffad00 39px,#cffc30 40px,#4cffb3 41px,#02c7fd 42px,#0057ff 43px,#000af5 44px,#0000cb 45px,#0000ba 46px,#0000cd 47px,#000bf8 48px,#0054ff 49px,#00baff 50px,#2efdd1 51px,#a2ff5d 52px,#f9e506 53px,#ff8700 54px,#ff3700 55px,#f80500 56px,#df0000 57px,#de0000 58px,#f50200 59px,#ff2b00 60px,#ff7300 61px,#ffcb00 62px,#d2ff2d 63px,#13f8ec 65px,#00b2ff 66px,#0067ff 67px,#002fff 68px,#000dff 69px,#0001ff 70px,#000dff 71px,#002fff 72px,#0064ff 73px,#09f2f6 75px,#53ffac 76px,#acff53 77px,#f6f409 78px,#ff7200 80px,#ff4300 81px,#ff2800 82px,#ff2000 83px,#ff2d00 84px,#ff4d00 85px,#ff7f00 86px,#ffbe00 87px,#f1f90e 88px,#0ffaf0 91px,#00c3ff 92px,#0089ff 93px,#005dff 94px,#0042ff 95px,#0039ff 96px,#0043ff 97px,#005eff 98px,#0089ff 99px,#0bf8f4 101px,#e0ff1f 104px,#ffdc00 105px,#ff7800 107px,#ff5b00 108px,#ff4f00 109px,#ff5300 110px,#ff6800 111px,#ff8c00 112px,#faf305 114px,#c4ff3b 115px,#3affc5 117px,#05f4fa 118px,#0094ff 120px,#0074ff 121px,#0062ff 122px,#0061ff 123px,#006eff 124px,#008bff 125px,#00e9ff 127px,#26ffd9 128px,#e5ff1a 131px,#ffe000 132px,#ff8d00 134px,#ff7600 135px,#ff6e00 136px,#ff7500 137px,#ff8a00 138px,#ffd900 140px,#eefe11 141px,#39ffc6 144px,#07f9f8 145px,#00a7ff 147px,#008bff 148px,#007dff 149px,#007cff 150px,#00a4ff 152px,#04f6fb 154px,#30ffcf 155px,#deff21 158px,#ffed00 159px,#ffa200 161px,#ff8600 163px,#ff9e00 165px,#ffe600 167px,#e8ff17 168px,#0ffef0 172px,#00e0ff 173px,#00a0ff 175px,#0092ff 176px,#009cff 178px,#00d5ff 180px,#06f9f9 181px,#66ff99 183px,#d1ff2e 185px,#faf905 186px,#ffb600 188px,#ffa100 189px,#ff9c00 191px,#ffc700 193px,#ffeb00 194px,#e7ff18 195px,#1effe1 199px,#00f1ff 200px,#00b3ff 202px,#00a1ff 204px,#00bcff 206px,#06faf9 208px,#5effa1 210px,#efff10 213px,#ffe700 214px,#ffb300 216px,#ffa900 218px)}
.r27{background:linear-gradient(90deg,#80ff7f 0px,#87ff78 13px,#aaff55 19px,#9bff64 21px,#62ff9d 23px,#0af9f5 25px,#00b4ff 27px,#00aaff 28px,#00beff 29px,#05eefa 30px,#46ffb9 31px,#aeff51 32px,#fadb05 33px,#ff7800 34px,#ff2600 35px,#f40200 36px,#f20000 37px,#ff1b00 38px,#ff6b00 39px,#fbd604 40px,#a3ff5c 41px,#24f8db 42px,#00a0ff 43px,#0038ff 44px,#0002ea 45px,#0000c6 46px,#0000c4 47px,#0000e5 48px,#0028ff 49px,#09e7f6 51px,#65ff9a 52px,#d7fd28 53px,#ffb900 54px,#ff5e00 55px,#ff1900 56px,#ec0000 57px,#dd0000 58px,#eb0000 59px,#ff1400 60px,#ff5300 61px,#ffa400 62px,#f1f40e 63px,#34ffcb 65px,#00d5ff 66px,#0084ff 67px,#0044ff 68px,#0019ff 69px,#0004ff 70px,#0007ff 71px,#0021ff 72px,#004fff 73px,#008fff 74px,#01dcfe 75px,#34ffcb 76px,#e3fd1c 78px,#ffca00 79px,#ff8600 80px,#ff5100 81px,#ff2f00 82px,#ff2100 83px,#ff2800 84px,#ff4200 85px,#ff6e00 86px,#fbed04 88px,#bfff40 89px,#20ffdf 91px,#00d6ff 92px,#0098ff 93px,#0068ff 94px,#0048ff 95px,#003aff 96px,#003fff 97px,#0055ff 98px,#007cff 99px,#03eefc 101px,#3affc5 102px,#cdff32 104px,#feeb01 105px,#ff8200 107px,#ff6100 108px,#ff5000 109px,#ff5100 110px,#ff6200 111px,#ff8200 112px,#fee901 114px,#d4ff2b 115px,#0cfbf3 118px,#009dff 120px,#007aff 121px,#0065ff 122px,#0060ff 123px,#006aff 124px,#0084ff 125px,#00ddff 127px,#19ffe6 128px,#d9ff26 131px,#ffea00 132px,#ff9300 134px,#ff7a00 135px,#ff6f00 136px,#ff7300 137px,#ff8500 138px,#ffd000 140px,#f5fa0a 141px,#0dfdf2 145px,#00d7ff 146px,#008fff 148px,#007fff 149px,#007cff 150px,#0086ff 151px,#00c3ff 153px,#01effe 154px,#27ffd8 155px,#d4ff2b 158px,#fdf302 159px,#ffa700 161px,#ff9000 162px,#ff8600 163px,#ff8a00 164px,#ffb700 166px,#ffdf00 167px,#effe10 168px,#16ffe9 172px,#00e6ff 173px,#00a4ff 175px,#0090ff 177px,#0099ff 178px,#00cfff 180px,#03f6fc 181px,#2affd5 182px,#f7fc08 186px,#ffba00 188px,#ff9900 190px,#ffa900 192px,#ffe500 194px,#edff12 195px,#24ffdb 199px,#02f5fd 200px,#00b6ff 202px,#00a0ff 204px,#00b9ff 206px,#03f8fc 208px,#58ffa7 210px,#eaff15 213px,#ffec00 214px,#ffb500 216px,#ffa900 218px)}
.r28{background:linear-gradient(90deg,#80ff7f 0px,#87ff78 14px,#a6ff59 20px,#96ff69 22px,#5dffa2 24px,#0af9f5 26px,#00beff 28px,#00b9ff 29px,#00d2ff 30px,#10faef 31px,#5fffa0 32px,#c5fe3a 33px,#fecb01 34px,#ff6b00 35px,#ff2300 36px,#fc0300 37px,#fe0800 38px,#ff3a00 39px,#ff9300 40px,#e9f116 41px,#75ff8a 42px,#0ce6f3 43px,#007cff 44px,#0020fe 45px,#0000e0 46px,#0000c7 47px,#0000d3 48px,#000af9 49px,#0051ff 50px,#00b4ff 51px,#29fcd6 52px,#9cff63 53px,#f7e808 54px,#ff3a00 56px,#fa0700 57px,#e40000 58px,#e30000 59px,#fa0500 60px,#ff3500 61px,#ff7f00 62px,#fed701 63px,#c3ff3c 64px,#5effa1 65px,#0bf1f4 66px,#005dff 68px,#0029ff 69px,#000bff 70px,#0004ff 71px,#0015ff 72px,#003cff 73px,#0076ff 74px,#00bfff 75px,#17fce8 76px,#c6ff39 78px,#fee401 79px,#ff9c00 80px,#ff6200 81px,#ff3900 82px,#ff2400 83px,#ff2400 84px,#ff3800 85px,#ff5f00 86px,#ffd900 88px,#d8ff27 89px,#37ffc8 91px,#02e9fd 92px,#0075ff 94px,#0050ff 95px,#003dff 96px,#003cff 97px,#004eff 98px,#0070ff 99px,#00dfff 101px,#26ffd9 102px,#baff45 104px,#f7f608 105px,#ff8d00 107px,#ff6800 108px,#ff5300 109px,#ff4f00 110px,#ff5c00 111px,#ff7900 112px,#ffdb00 114px,#e3ff1c 115px,#18fee7 118px,#00daff 119px,#00a7ff 120px,#0081ff 121px,#0068ff 122px,#0060ff 123px,#0067ff 124px,#007dff 125px,#00d2ff 127px,#0ffcf0 128px,#ccff33 131px,#fcf303 132px,#ff9a00 134px,#ff7e00 135px,#ff7000 136px,#ff7100 137px,#ff8000 138px,#ff9d00 139px,#fbf504 141px,#cbff34 142px,#16ffe9 145px,#00e0ff 146px,#0094ff 148px,#0081ff 149px,#007bff 150px,#0099ff 152px,#00e8ff 154px,#1dffe2 155px,#cbff34 158px,#f9f806 159px,#ffac00 161px,#ff9300 162px,#ff8700 163px,#ff9700 165px,#ffd800 167px,#f5fc0a 168px,#1effe1 172px,#00edff 173px,#00a7ff 175px,#0095ff 176px,#0097ff 178px,#00caff 180px,#01f1fe 181px,#22ffdd 182px,#f2fe0d 186px,#ffe000 187px,#ffa600 189px,#ff9a00 191px,#ffbe00 193px,#ffe000 194px,#f2fe0d 195px,#2bffd4 199px,#04f8fb 200px,#00baff 202px,#00a0ff 204px,#00b6ff 206px,#01f4fe 208px,#22ffdd 209px,#e4ff1b 213px,#fff000 214px,#ffb700 216px,#ffa800 218px)}
.r29{background:linear-gradient(90deg,#80ff7f 0px,#87ff78 15px,#a2ff5d 21px,#91ff6e 23px,#59ffa6 25px,#0afaf5 27px,#00c7ff 29px,#00c8ff 30px,#00e5ff 31px,#22fedd 32px,#76ff89 33px,#d8fb27 34px,#ffbc00 35px,#ff6200 36px,#ff2400 37px,#ff0c00 38px,#ff1e00 39px,#ff5b00 40px,#ffba00 41px,#cafd35 42px,#4afeb5 43px,#02c8fd 44px,#005dff 45px,#000ffa 46px,#0000d9 47px,#0000ce 48px,#0000e8 49px,#0026ff 50px,#007dff 51px,#06e1f9 52px,#5cffa3 53px,#cffe30 54px,#ffc000 55px,#ff6400 56px,#ff1e00 57px,#f10000 58px,#e20000 59px,#f00000 60px,#ff1b00 61px,#ff5b00 62px,#ffae00 63px,#eaf815 64px,#28fed7 66px,#00caff 67px,#007aff 68px,#003dff 69px,#0015ff 70px,#0005ff 71px,#000dff 72px,#002bff 73px,#005eff 74px,#06edf9 76px,#4cffb3 77px,#f3f60c 79px,#ff7500 81px,#ff4600 82px,#ff2a00 83px,#ff2200 84px,#ff2f00 85px,#ff5000 86px,#ff8200 87px,#ffc200 88px,#edfb12 89px,#50ffaf 91px,#0bf7f4 92px,#0084ff 94px,#005aff 95px,#0041ff 96px,#003bff 97px,#0047ff 98px,#0065ff 99px,#00cdff 101px,#14fdeb 102px,#ecfd13 105px,#ffd000 106px,#ff9900 107px,#ff7100 108px,#ff5700 109px,#ff4f00 110px,#ff5700 111px,#ff7000 112px,#ffcc00 114px,#f0fb0f 115px,#27ffd8 118px,#00e7ff 119px,#0089ff 121px,#006dff 122px,#0061ff 123px,#0064ff 124px,#0077ff 125px,#0098ff 126px,#07f7f8 128px,#3cffc3 129px,#beff41 131px,#f6fa09 132px,#ffa200 134px,#ff8300 135px,#ff7200 136px,#ff6f00 137px,#ff7c00 138px,#ff9600 139px,#feed01 141px,#d7ff28 142px,#21ffde 145px,#00eaff 146px,#009aff 148px,#0083ff 149px,#007bff 150px,#0081ff 151px,#0094ff 152px,#00dfff 154px,#13ffec 155px,#f4fc0b 159px,#ffb200 161px,#ff8800 163px,#ff8700 164px,#ffad00 166px,#faf805 168px,#95ff6a 170px,#27ffd8 172px,#02f3fd 173px,#00acff 175px,#0090ff 177px,#0095ff 178px,#00c4ff 180px,#00ebff 181px,#1bffe4 182px,#ecff13 186px,#ffe600 187px,#ffa900 189px,#ff9900 191px,#ffba00 193px,#f7fc08 195px,#07fbf8 200px,#00bdff 202px,#00a1ff 204px,#00b3ff 206px,#00f0ff 208px,#1bffe4 209px,#deff21 213px,#fef401 214px,#ffba00 216px,#ffa800 218px)}
.r30{background:linear-gradient(90deg,#80ff7f 0px,#86ff79 16px,#9fff60 22px,#8dff72 24px,#55ffaa 26px,#0afbf5 28px,#00d1ff 30px,#00d6ff 31px,#04f4fb 32px,#37ffc8 33px,#e6f719 35px,#ffae00 36px,#ff5c00 37px,#ff2700 38px,#ff1a00 39px,#ff3700 40px,#ff7c00 41px,#fadc05 42px,#a2ff5d 43px,#27f9d8 44px,#00a7ff 45px,#0042ff 46px,#0006f4 47px,#0000d7 48px,#0000da 49px,#0009f9 50px,#004aff 51px,#00aaff 52px,#20fadf 53px,#90ff6f 54px,#f2ee0d 55px,#ff9500 56px,#ff4200 57px,#fd0b00 58px,#e90000 59px,#e90000 60px,#fc0800 61px,#ff3b00 62px,#ff8600 63px,#fddf02 64px,#baff45 65px,#54ffab 66px,#07ecf8 67px,#0056ff 69px,#0025ff 70px,#000aff 71px,#0008ff 72px,#001dff 73px,#0048ff 74px,#0086ff 75px,#00d3ff 76px,#2affd5 77px,#dbfe24 79px,#ffd100 80px,#ff8c00 81px,#ff5600 82px,#ff3200 83px,#ff2300 84px,#ff2900 85px,#ff4300 86px,#ff7000 87px,#faef05 89px,#bcff43 90px,#1cfee3 92px,#00d2ff 93px,#0095ff 94px,#0066ff 95px,#0047ff 96px,#003bff 97px,#0042ff 98px,#005bff 99px,#0084ff 100px,#08f5f7 102px,#46ffb9 103px,#daff25 105px,#ffe100 106px,#ffa700 107px,#ff7b00 108px,#ff5d00 109px,#ff5000 110px,#ff5400 111px,#ff6800 112px,#ffbe00 114px,#faf405 115px,#c2ff3d 116px,#38ffc7 118px,#04f3fb 119px,#0092ff 121px,#0073ff 122px,#0062ff 123px,#0062ff 124px,#0071ff 125px,#008fff 126px,#02eefd 128px,#2effd1 129px,#edfe12 132px,#ffd800 133px,#ff8900 135px,#ff7400 136px,#ff6f00 137px,#ff7800 138px,#ffb400 140px,#ffe400 141px,#e3ff1c 142px,#2cffd3 145px,#02f2fd 146px,#00a0ff 148px,#0087ff 149px,#007cff 150px,#007fff 151px,#00adff 153px,#0cfcf3 155px,#edfe12 159px,#ffe000 160px,#ff9b00 162px,#ff8a00 163px,#ff8700 164px,#ffa700 166px,#fdf302 168px,#d6ff29 169px,#30ffcf 172px,#05f8fa 173px,#00b0ff 175px,#0090ff 177px,#00a3ff 179px,#00e4ff 181px,#13ffec 182px,#e4ff1b 186px,#ffed00 187px,#ffac00 189px,#ff9900 191px,#ffb600 193px,#fbf804 195px,#a0ff5f 197px,#0cfdf3 200px,#00c1ff 202px,#00a1ff 204px,#00b0ff 206px,#00ebff 208px,#15ffea 209px,#d8ff27 213px,#fcf803 214px,#ffbd00 216px,#ffa800 218px)}
.r31{background:linear-gradient(90deg,#80ff7f 0px,#86ff79 17px,#9cff63 23px,#88ff77 25px,#52ffad 27px,#0bfcf4 29px,#00dcff 31px,#00e5ff 32px,#0dfdf2 33px,#4bffb4 34px,#a0ff5f 35px,#f1f00e 36px,#ffa200 37px,#ff5800 38px,#ff2e00 39px,#ff2a00 40px,#ff5100 41px,#ff9e00 42px,#e9f316 43px,#7aff85 44px,#0febf0 45px,#0088ff 46px,#002dff 47px,#0002ef 48px,#0000db 49px,#0000eb 50px,#0021ff 51px,#0072ff 52px,#03d6fc 53px,#4dffb2 54px,#c2ff3d 55px,#fecd01 56px,#ff6f00 57px,#ff2700 58px,#f60200 59px,#e80000 60px,#f50100 61px,#ff2000 62px,#ff6100 63px,#ffb500 64px,#e5fa1a 65px,#21fdde 67px,#00c3ff 68px,#0075ff 69px,#0039ff 70px,#0014ff 71px,#0007ff 72px,#0013ff 73px,#0035ff 74px,#006cff 75px,#00b3ff 76px,#0ff7f0 77px,#b9ff46 79px,#fbec04 80px,#ff6900 82px,#ff3e00 83px,#ff2700 84px,#ff2500 85px,#ff3800 86px,#ff5f00 87px,#ff9600 88px,#ffda00 89px,#d7ff28 90px,#35ffca 92px,#02e8fd 93px,#0073ff 95px,#004fff 96px,#003dff 97px,#003eff 98px,#0051ff 99px,#0076ff 100px,#01e7fe 102px,#30ffcf 103px,#c5ff3a 105px,#fbf004 106px,#ff8600 108px,#ff6400 109px,#ff5200 110px,#ff5100 111px,#ff6200 112px,#ff8200 113px,#fee801 115px,#d4ff2b 116px,#0cfaf3 119px,#009cff 121px,#0079ff 122px,#0065ff 123px,#0061ff 124px,#006cff 125px,#0087ff 126px,#00e3ff 128px,#1fffe0 129px,#e0ff1f 132px,#ffe500 133px,#ff8f00 135px,#ff7800 136px,#ff6f00 137px,#ff7500 138px,#ffab00 140px,#ffd900 141px,#eefe11 142px,#39ffc6 145px,#07f8f8 146px,#00a6ff 148px,#008bff 149px,#007dff 150px,#007dff 151px,#008bff 152px,#00cdff 154px,#06f8f9 155px,#70ff8f 157px,#e3ff1c 159px,#ffe900 160px,#ff9f00 162px,#ff8c00 163px,#ff8600 164px,#ffa200 166px,#ffed00 168px,#e0ff1f 169px,#09fcf6 173px,#00b5ff 175px,#0091ff 177px,#0092ff 178px,#00b9ff 180px,#0cfdf3 182px,#dcff23 186px,#fef201 187px,#ffb000 189px,#ff9e00 190px,#ffa000 192px,#ffd000 194px,#fdf402 195px,#daff25 196px,#11ffee 200px,#00e6ff 201px,#00aeff 203px,#00a2ff 205px,#00c5ff 207px,#00e5ff 208px,#0ffff0 209px,#d1ff2e 213px,#f9fb06 214px,#ffc000 216px,#ffa800 218px)}
.r32{background:linear-gradient(90deg,#80ff7f 0px,#86ff79 18px,#99ff66 24px,#85ff7a 26px,#50ffaf 28px,#0cfef3 30px,#00e6ff 32px,#01f3fe 33px,#1cffe3 34px,#5effa1 35px,#b2ff4d 36px,#f8e807 37px,#ff9900 38px,#ff5700 39px,#ff3600 40px,#ff3d00 41px,#ff6c00 42px,#ffc000 43px,#cdfd32 44px,#54ffab 45px,#04d4fb 46px,#006dff 47px,#001dfe 48px,#0000ec 49px,#0000e4 50px,#0007fa 51px,#0042ff 52px,#009cff 53px,#15f4ea 54px,#7eff81 55px,#e8f617 56px,#ffa400 57px,#ff4e00 58px,#fe1200 59px,#f00000 60px,#ee0000 61px,#fe0b00 62px,#ff3f00 63px,#ff8a00 64px,#fce203 65px,#b5ff4a 66px,#4fffb0 67px,#05e8fa 68px,#0053ff 70px,#0024ff 71px,#000cff 72px,#000cff 73px,#0025ff 74px,#0053ff 75px,#02e1fd 77px,#3bffc4 78px,#e9fb16 80px,#ffc100 81px,#ff7f00 82px,#ff4d00 83px,#ff2e00 84px,#ff2400 85px,#ff3000 86px,#ff4f00 87px,#ff8100 88px,#ffc100 89px,#eefa11 90px,#51ffae 92px,#0bf7f4 93px,#0084ff 95px,#005aff 96px,#0042ff 97px,#003cff 98px,#004aff 99px,#0069ff 100px,#0098ff 101px,#00d4ff 102px,#1bfee4 103px,#f1fa0e 106px,#ffc800 107px,#ff9300 108px,#ff6d00 109px,#ff5600 110px,#ff5000 111px,#ff5c00 112px,#ff7700 113px,#ffd800 115px,#e6fe19 116px,#19ffe6 119px,#00dbff 120px,#0081ff 122px,#0069ff 123px,#0061ff 124px,#0068ff 125px,#007fff 126px,#00d5ff 128px,#12fded 129px,#d1ff2e 132px,#fdf002 133px,#ff9700 135px,#ff7c00 136px,#ff7000 137px,#ff7200 138px,#ff8400 139px,#ffce00 141px,#f7f908 142px,#0efdf1 146px,#00d8ff 147px,#0090ff 149px,#007fff 150px,#007cff 151px,#0087ff 152px,#00c5ff 154px,#02f1fd 155px,#2affd5 156px,#d8ff27 159px,#fef101 160px,#ffa500 162px,#ff8f00 163px,#ff8700 164px,#ff8c00 165px,#ffbc00 167px,#ffe400 168px,#e9ff16 169px,#10feef 173px,#00e0ff 174px,#00a1ff 176px,#0091ff 178px,#00b4ff 180px,#07faf8 182px,#9fff60 185px,#d4ff2b 186px,#fbf704 187px,#ffb400 189px,#ff9900 191px,#ffae00 193px,#ffef00 195px,#e2ff1d 196px,#18ffe7 200px,#00ecff 201px,#00b1ff 203px,#00a1ff 205px,#00c0ff 207px,#0afdf5 209px,#f5fd0a 214px,#ffc400 216px,#ffa800 218px)}
.r33{background:linear-gradient(90deg,#80ff7f 0px,#88ff77 20px,#96ff69 25px,#81ff7e 27px,#2dffd2 30px,#0efef1 31px,#00f0ff 33px,#05fcfa 34px,#2dffd2 35px,#6fff90 36px,#c3ff3c 37px,#fbdf04 38px,#ff9200 39px,#ff5900 40px,#ff4100 41px,#ff5100 42px,#ff8800 43px,#fbde04 44px,#abff54 45px,#33fdcc 46px,#00b9ff 47px,#0056ff 48px,#0012fd 49px,#0000ed 50px,#0000f1 51px,#001cff 52px,#0065ff 53px,#01c6fe 54px,#39fec6 55px,#aeff51 56px,#fbdd04 57px,#ff7f00 58px,#ff3300 59px,#fb0600 60px,#ef0000 61px,#f80200 62px,#ff2300 63px,#ff6300 64px,#ffb700 65px,#e3fb1c 66px,#1ffce0 68px,#00c0ff 69px,#0072ff 70px,#0038ff 71px,#0015ff 72px,#000aff 73px,#0018ff 74px,#003dff 75px,#0077ff 76px,#00c0ff 77px,#19fce6 78px,#c9ff36 80px,#fee001 81px,#ff9800 82px,#ff5f00 83px,#ff3800 84px,#ff2600 85px,#ff2a00 86px,#ff4200 87px,#ff6d00 88px,#fbec04 90px,#c0ff3f 91px,#1ffee0 93px,#00d4ff 94px,#0096ff 95px,#0067ff 96px,#0048ff 97px,#003dff 98px,#0044ff 99px,#005dff 100px,#0088ff 101px,#0bf8f4 103px,#e0ff1f 106px,#ffdb00 107px,#ffa200 108px,#ff7700 109px,#ff5b00 110px,#ff5000 111px,#ff5700 112px,#ff6e00 113px,#ffc800 115px,#f3fa0c 116px,#2bffd4 119px,#01eafe 120px,#008aff 122px,#006eff 123px,#0061ff 124px,#0065ff 125px,#0078ff 126px,#00c8ff 128px,#08f8f7 129px,#81ff7e 131px,#f8f807 133px,#ffa000 135px,#ff8100 136px,#ff7200 137px,#ff7100 138px,#ff7f00 139px,#ffc300 141px,#fcf203 142px,#cfff30 143px,#19ffe6 146px,#00e2ff 147px,#0095ff 149px,#0082ff 150px,#007cff 151px,#0084ff 152px,#00bcff 154px,#00e9ff 155px,#1effe1 156px,#cdff32 159px,#faf705 160px,#ffab00 162px,#ff9200 163px,#ff8700 164px,#ff9900 166px,#ffdc00 168px,#f1fd0e 169px,#18ffe7 173px,#00e8ff 174px,#00a5ff 176px,#0094ff 177px,#009aff 179px,#00cfff 181px,#03f6fc 182px,#2bffd4 183px,#cbff34 186px,#f7fb08 187px,#ffb900 189px,#ff9900 191px,#ffab00 193px,#ffe900 195px,#eaff15 196px,#1fffe0 200px,#01f2fe 201px,#00b4ff 203px,#00a1ff 205px,#00bcff 207px,#06fbf9 209px,#5fffa0 211px,#f0ff0f 214px,#ffe600 215px,#ffb300 217px,#ffa900 218px)}
.r34{background:linear-gradient(90deg,#80ff7f 0px,#85ff7a 20px,#93ff6c 26px,#7fff80 28px,#11ffee 32px,#02fbfd 33px,#00faff 34px,#10ffef 35px,#3dffc2 36px,#80ff7f 37px,#d1fe2e 38px,#fed601 39px,#ff8e00 40px,#ff5c00 41px,#ff4d00 42px,#ff6600 43px,#ffa500 44px,#eef211 45px,#88ff77 46px,#1af5e5 47px,#009eff 48px,#0043ff 49px,#000bfc 50px,#0000f2 51px,#0006fc 52px,#0038ff 53px,#0ae9f5 55px,#67ff98 56px,#d8fc27 57px,#ffb800 58px,#ff5f00 59px,#ff1e00 60px,#f80100 61px,#f30000 62px,#fe0d00 63px,#ff4000 64px,#fbe204 66px,#b4ff4b 67px,#4effb1 68px,#05e7fa 69px,#0053ff 71px,#0024ff 72px,#000eff 73px,#0010ff 74px,#002bff 75px,#005cff 76px,#05ebfa 78px,#49ffb6 79px,#a4ff5b 80px,#f2f60d 81px,#ffb500 82px,#ff7500 83px,#ff4600 84px,#ff2c00 85px,#ff2700 86px,#ff3700 87px,#ff5b00 88px,#ff9100 89px,#ffd400 90px,#ddff22 91px,#3bffc4 93px,#03ebfc 94px,#0076ff 96px,#0051ff 97px,#003fff 98px,#0040ff 99px,#0053ff 100px,#0078ff 101px,#02eafd 103px,#34ffcb 104px,#caff35 106px,#fded02 107px,#ff8300 109px,#ff6200 110px,#ff5200 111px,#ff5300 112px,#ff6600 113px,#ff8800 114px,#fcf003 116px,#c9ff36 117px,#3effc1 119px,#06f5f9 120px,#0095ff 122px,#0075ff 123px,#0064ff 124px,#0063ff 125px,#0072ff 126px,#0090ff 127px,#02effd 129px,#2fffd0 130px,#eefd11 133px,#ffd700 134px,#ffa900 135px,#ff8800 136px,#ff7400 137px,#ff7000 138px,#ff7a00 139px,#ffb800 141px,#ffe900 142px,#ddff22 143px,#26ffd9 146px,#01edfe 147px,#009cff 149px,#0085ff 150px,#007cff 151px,#0081ff 152px,#0094ff 153px,#00deff 155px,#13feec 156px,#f4fc0b 160px,#ffb100 162px,#ff8900 164px,#ff8800 165px,#ff9500 166px,#ffd300 168px,#f8fa07 169px,#91ff6e 171px,#22ffdd 173px,#01f0fe 174px,#00a9ff 176px,#0090ff 178px,#00aaff 180px,#01f0fe 182px,#21ffde 183px,#f2fe0d 187px,#ffe000 188px,#ffa600 190px,#ff9a00 191px,#ffa700 193px,#ffe200 195px,#f1fe0e 196px,#27ffd8 200px,#03f7fc 201px,#00b8ff 203px,#00a1ff 205px,#00b9ff 207px,#03f7fc 209px,#27ffd8 210px,#eaff15 214px,#ffec00 215px,#ffb500 217px,#ffa900 218px)}
.r35{background:linear-gradient(90deg,#80ff7f 0px,#85ff7a 21px,#91ff6e 27px,#7cff83 29px,#14ffeb 33px,#05fffa 34px,#06fff9 35px,#1dffe2 36px,#4cffb3 37px,#dcfd23 39px,#ffce00 40px,#ff8b00 41px,#ff6200 42px,#ff5b00 43px,#ff7c00 44px,#ffc200 45px,#d7fc28 46px,#67ff98 47px,#0ae6f5 48px,#0086ff 49px,#0035ff 50px,#0007fd 51px,#0000fa 52px,#0018ff 53px,#0057ff 54px,#00b2ff 55px,#24fbdb 56px,#94ff6b 57px,#f3ec0c 58px,#ff4400 60px,#fe0f00 61px,#f60000 62px,#fb0200 63px,#ff2400 64px,#ff6200 65px,#ffb500 66px,#e4fa1b 67px,#20fddf 69px,#00c1ff 70px,#0073ff 71px,#0039ff 72px,#0017ff 73px,#000eff 74px,#001dff 75px,#0044ff 76px,#0080ff 77px,#00cbff 78px,#23fedc 79px,#d6ff29 81px,#ffd500 82px,#ff8f00 83px,#ff5800 84px,#ff3500 85px,#ff2700 86px,#ff2f00 87px,#ff4b00 88px,#ff7a00 89px,#f3f70c 91px,#59ffa6 93px,#0ffaf0 94px,#00c2ff 95px,#0088ff 96px,#005dff 97px,#0044ff 98px,#003eff 99px,#004bff 100px,#006aff 101px,#0099ff 102px,#00d6ff 103px,#1dfee2 104px,#b2ff4d 106px,#f3f90c 107px,#ff9100 109px,#ff6b00 110px,#ff5600 111px,#ff5100 112px,#ff5f00 113px,#ff7c00 114px,#ffe100 116px,#ddff22 117px,#11fdee 120px,#00d2ff 121px,#007cff 123px,#0067ff 124px,#0062ff 125px,#006cff 126px,#0086ff 127px,#00e1ff 129px,#1effe1 130px,#e0ff1f 133px,#ffe500 134px,#ff8f00 136px,#ff7800 137px,#ff7000 138px,#ff7600 139px,#ffae00 141px,#ffdc00 142px,#ebfe14 143px,#34ffcb 146px,#04f6fb 147px,#00a3ff 149px,#0089ff 150px,#007dff 151px,#007fff 152px,#008fff 153px,#00d4ff 155px,#0afbf5 156px,#ebff14 160px,#ffe100 161px,#ff9b00 163px,#ff8700 165px,#ff9100 166px,#ffcb00 168px,#fcf403 169px,#d4ff2b 170px,#2dffd2 173px,#03f6fc 174px,#00afff 176px,#0099ff 177px,#0095ff 179px,#00c2ff 181px,#00e9ff 182px,#18ffe7 183px,#eaff15 187px,#ffe700 188px,#ffaa00 190px,#ff9a00 192px,#ffa400 193px,#ffdb00 195px,#f6fc09 196px,#06fbf9 201px,#00bcff 203px,#00a1ff 205px,#00b5ff 207px,#01f2fe 209px,#1fffe0 210px,#e3ff1c 214px,#fff200 215px,#ffb800 217px,#ffab00 218px)}
.r36{background:linear-gradient(90deg,#80ff7f 0px,#87ff78 23px,#8fff70 28px,#65ff9a 31px,#18ffe7 34px,#0bfff4 35px,#10ffef 36px,#29ffd6 37px,#5affa5 38px,#e6fb19 40px,#ffc800 41px,#ff8b00 42px,#ff6900 43px,#ff6b00 44px,#ff9300 45px,#fcdc03 46px,#baff45 47px,#48ffb7 48px,#03d2fc 49px,#0072ff 50px,#002aff 51px,#0006fe 52px,#0008ff 53px,#0030ff 54px,#0079ff 55px,#03d7fc 56px,#4bffb4 57px,#bfff40 58px,#fed001 59px,#ff7400 60px,#ff2e00 61px,#fd0600 62px,#f90000 63px,#ff0f00 64px,#ff3f00 65px,#ff8800 66px,#fcdf03 67px,#b9ff46 68px,#52ffad 69px,#06e9f9 70px,#0055ff 72px,#0027ff 73px,#0011ff 74px,#0014ff 75px,#0031ff 76px,#0063ff 77px,#09f1f6 79px,#54ffab 80px,#afff50 81px,#f7f108 82px,#ff6e00 84px,#ff4200 85px,#ff2b00 86px,#ff2a00 87px,#ff3e00 88px,#ff6600 89px,#fee401 91px,#caff35 92px,#27ffd8 94px,#00dcff 95px,#009cff 96px,#006bff 97px,#004bff 98px,#003eff 99px,#0045ff 100px,#005eff 101px,#0088ff 102px,#0bf8f4 104px,#e2ff1d 107px,#ffd900 108px,#ffa100 109px,#ff7600 110px,#ff5b00 111px,#ff5100 112px,#ff5900 113px,#ff7200 114px,#ff9a00 115px,#ffcf00 116px,#eefc11 117px,#22ffdd 120px,#00e3ff 121px,#00aeff 122px,#0086ff 123px,#006cff 124px,#0062ff 125px,#0068ff 126px,#007eff 127px,#00d2ff 129px,#10fdef 130px,#cfff30 133px,#fdf102 134px,#ff9800 136px,#ff7d00 137px,#ff7000 138px,#ff7300 139px,#ff8500 140px,#ffd000 142px,#f5fb0a 143px,#0cfcf3 147px,#00abff 149px,#008eff 150px,#007fff 151px,#007dff 152px,#008aff 153px,#00caff 155px,#04f6fb 156px,#31ffce 157px,#e0ff1f 160px,#ffeb00 161px,#ffa100 163px,#ff8d00 164px,#ff8700 165px,#ff8e00 166px,#ffc300 168px,#ffed00 169px,#dfff20 170px,#08fbf7 174px,#00b4ff 176px,#0091ff 178px,#0093ff 179px,#00bcff 181px,#00e1ff 182px,#0ffef0 183px,#e1ff1e 187px,#ffef00 188px,#ffae00 190px,#ff9d00 191px,#ff9900 192px,#ffb600 194px,#fbf804 196px,#a0ff5f 198px,#0bfdf4 201px,#00c1ff 203px,#00abff 204px,#00a4ff 206px,#00caff 208px,#00edff 209px,#18ffe7 210px,#dbff24 214px,#fdf602 215px,#ffbb00 217px,#ffac00 218px)}
.r37{background:linear-gradient(90deg,#80ff7f 0px,#87ff78 24px,#8dff72 29px,#63ff9c 32px,#1cffe3 35px,#12ffed 36px,#19ffe6 37px,#36ffc9 38px,#67ff98 39px,#edf812 41px,#ffc200 42px,#ff8c00 43px,#ff7200 44px,#ff7b00 45px,#ffaa00 46px,#f4ef0b 47px,#9cff63 48px,#2dfcd2 49px,#00bcff 50px,#0061ff 51px,#0023ff 52px,#000aff 53px,#0018ff 54px,#004bff 55px,#009cff 56px,#11f1ee 57px,#76ff89 58px,#e2f91d 59px,#ffad00 60px,#ff5800 61px,#ff1d00 62px,#fd0200 63px,#fe0400 64px,#ff2300 65px,#ff5f00 66px,#ffb000 67px,#e8f817 68px,#25fdda 70px,#00c5ff 71px,#0077ff 72px,#003dff 73px,#001aff 74px,#0011ff 75px,#0022ff 76px,#004aff 77px,#0086ff 78px,#00d2ff 79px,#2bffd4 80px,#defe21 82px,#ffcd00 83px,#ff8800 84px,#ff5400 85px,#ff3400 86px,#ff2900 87px,#ff3400 88px,#ff5400 89px,#ff8700 90px,#ffc800 91px,#e8fd17 92px,#47ffb8 94px,#06f2f9 95px,#007dff 97px,#0056ff 98px,#0042ff 99px,#0041ff 100px,#0053ff 101px,#0077ff 102px,#02e9fd 104px,#33ffcc 105px,#c9ff36 107px,#fded02 108px,#ff8300 110px,#ff6200 111px,#ff5300 112px,#ff5500 113px,#ff6800 114px,#ff8c00 115px,#faf305 117px,#c2ff3d 118px,#37ffc8 120px,#04f1fb 121px,#0091ff 123px,#0072ff 124px,#0063ff 125px,#0065ff 126px,#0076ff 127px,#00c4ff 129px,#06f5f9 130px,#7cff83 132px,#f6fa09 134px,#ffa200 136px,#ff8300 137px,#ff7200 138px,#ff7100 139px,#ff7f00 140px,#ff9b00 141px,#fcf303 143px,#ceff31 144px,#17ffe8 147px,#00e0ff 148px,#0094ff 150px,#0081ff 151px,#007cff 152px,#0086ff 153px,#00c0ff 155px,#01edfe 156px,#24ffdb 157px,#d3ff2c 160px,#fcf403 161px,#ffa700 163px,#ff8700 165px,#ff9d00 167px,#ffe300 169px,#eaff15 170px,#10feef 174px,#00e0ff 175px,#00a1ff 177px,#0093ff 178px,#0092ff 179px,#00b6ff 181px,#09fbf6 183px,#d7ff28 187px,#fdf502 188px,#ffb200 190px,#ff9900 192px,#ffb100 194px,#fef301 196px,#dcff23 197px,#12ffed 201px,#00e7ff 202px,#00aeff 204px,#00a2ff 206px,#00c5ff 208px,#00e6ff 209px,#10ffef 210px,#d3ff2c 214px,#fafa05 215px,#ffbf00 217px,#ffae00 218px)}
.r38{background:linear-gradient(90deg,#80ff7f 0px,#86ff79 25px,#8bff74 30px,#62ff9d 33px,#21ffde 36px,#19ffe6 37px,#23ffdc 38px,#41ffbe 39px,#73ff8c 40px,#f3f50c 42px,#ff8f00 44px,#ff7c00 45px,#ff8d00 46px,#ffc200 47px,#e3fa1c 48px,#7fff80 49px,#19f5e6 50px,#00a6ff 51px,#0053ff 52px,#0020ff 53px,#0012ff 54px,#002bff 55px,#0067ff 56px,#00c0ff 57px,#2efdd1 58px,#9fff60 59px,#f7e708 60px,#ff8e00 61px,#ff4200 62px,#ff1200 63px,#ff0100 64px,#ff1000 65px,#ff3c00 66px,#ff8200 67px,#fdd802 68px,#c1ff3e 69px,#5affa5 70px,#09eef6 71px,#005aff 73px,#002bff 74px,#0015ff 75px,#0018ff 76px,#0035ff 77px,#0068ff 78px,#0cf4f3 80px,#b6ff49 82px,#faed05 83px,#ff6a00 85px,#ff4000 86px,#ff2c00 87px,#ff2e00 88px,#ff4500 89px,#ff7000 90px,#faef05 92px,#baff45 93px,#19fde6 95px,#00ceff 96px,#0091ff 97px,#0063ff 98px,#0048ff 99px,#003fff 100px,#004bff 101px,#0068ff 102px,#00d2ff 104px,#1afee5 105px,#f2fa0d 108px,#ffc700 109px,#ff9200 110px,#ff6c00 111px,#ff5700 112px,#ff5300 113px,#ff6000 114px,#ff7f00 115px,#ffe400 117px,#d8ff27 118px,#0efbf1 121px,#00cdff 122px,#009dff 123px,#007aff 124px,#0066ff 125px,#0063ff 126px,#0070ff 127px,#008cff 128px,#01eafe 130px,#28ffd7 131px,#eafe15 134px,#ffdb00 135px,#ff8a00 137px,#ff7600 138px,#ff7000 139px,#ff7a00 140px,#ffb800 142px,#ffe800 143px,#ddff22 144px,#25ffda 147px,#01edfe 148px,#009bff 150px,#0085ff 151px,#007cff 152px,#0082ff 153px,#0096ff 154px,#00e2ff 156px,#17ffe8 157px,#c6ff39 160px,#f7fa08 161px,#ffae00 163px,#ff8800 165px,#ff9800 167px,#ffda00 169px,#f3fd0c 170px,#1affe5 174px,#00e9ff 175px,#00a5ff 177px,#0091ff 179px,#009aff 180px,#00d1ff 182px,#04f7fb 183px,#62ff9d 185px,#cdff32 187px,#f9fa06 188px,#ffb700 190px,#ff9a00 192px,#ff9d00 193px,#ffc800 195px,#ffed00 196px,#e5ff1a 197px,#1affe5 201px,#00eeff 202px,#00b2ff 204px,#00a2ff 206px,#00c0ff 208px,#0afdf5 210px,#f6fd09 215px,#ffc300 217px,#ffb000 218px)}
.r39{background:linear-gradient(90deg,#80ff7f 0px,#86ff79 26px,#89ff76 31px,#61ff9e 34px,#25ffda 37px,#20ffdf 38px,#2cffd3 39px,#4cffb3 40px,#7fff80 41px,#bfff40 42px,#f7f208 43px,#ffbc00 44px,#ff9300 45px,#ff8700 46px,#ff9f00 47px,#fed901 48px,#ccfe33 49px,#63ff9c 50px,#0beaf4 51px,#0049ff 53px,#0020ff 54px,#001eff 55px,#0041ff 56px,#0086ff 57px,#05e0fa 58px,#54ffab 59px,#c6fe39 60px,#fecb01 61px,#ff7200 62px,#ff3000 63px,#ff0c00 64px,#ff0700 65px,#ff2200 66px,#ff5900 67px,#ffa700 68px,#eff410 69px,#2efed1 71px,#00ceff 72px,#007eff 73px,#0043ff 74px,#001fff 75px,#0015ff 76px,#0025ff 77px,#004dff 78px,#008aff 79px,#00d7ff 80px,#30ffcf 81px,#e2fd1d 83px,#ffc800 84px,#ff8400 85px,#ff5100 86px,#ff3300 87px,#ff2b00 88px,#ff3900 89px,#ff5c00 90px,#ff9100 91px,#ffd500 92px,#dbff24 93px,#38ffc7 95px,#02e8fd 96px,#0074ff 98px,#0051ff 99px,#0041ff 100px,#0045ff 101px,#005cff 102px,#0084ff 103px,#08f5f7 105px,#94ff6b 107px,#deff21 108px,#ffdd00 109px,#ffa300 110px,#ff7800 111px,#ff5c00 112px,#ff5200 113px,#ff5a00 114px,#ff7300 115px,#ffd100 117px,#ecfd13 118px,#1effe1 121px,#00dfff 122px,#00abff 123px,#0084ff 124px,#006bff 125px,#0062ff 126px,#006aff 127px,#0082ff 128px,#00daff 130px,#16fee9 131px,#d9ff26 134px,#feea01 135px,#ff9300 137px,#ff7a00 138px,#ff7000 139px,#ff7600 140px,#ff8b00 141px,#ffdb00 143px,#ecfe13 144px,#35ffca 147px,#05f6fa 148px,#00a3ff 150px,#007dff 152px,#0080ff 153px,#0090ff 154px,#00d7ff 156px,#0cfcf3 157px,#effe10 161px,#ffde00 162px,#ff9a00 164px,#ff8a00 165px,#ff8800 166px,#ffac00 168px,#faf805 170px,#94ff6b 172px,#25ffda 174px,#01f2fe 175px,#00abff 177px,#0097ff 178px,#0097ff 180px,#00c9ff 182px,#01f0fe 183px,#22ffdd 184px,#f2fd0d 188px,#ffdf00 189px,#ffa600 191px,#ff9a00 192px,#ffa900 194px,#ffe500 196px,#eeff11 197px,#23ffdc 201px,#02f4fd 202px,#00b6ff 204px,#00a1ff 206px,#00bcff 208px,#05fafa 210px,#5effa1 212px,#f0ff0f 215px,#ffe700 216px,#ffb300 218px)}
.r40{background:linear-gradient(90deg,#80ff7f 0px,#86ff79 27px,#88ff77 32px,#60ff9f 35px,#29ffd6 38px,#27ffd8 39px,#35ffca 40px,#57ffa8 41px,#c9ff36 43px,#faee05 44px,#ffbb00 45px,#ff9800 46px,#ff9400 47px,#ffb200 48px,#f9ec06 49px,#b2ff4d 50px,#4affb5 51px,#04dbfb 52px,#0084ff 53px,#0042ff 54px,#0024ff 55px,#002cff 56px,#0059ff 57px,#00a6ff 58px,#15f5ea 59px,#7bff84 60px,#e4f81b 61px,#ffac00 62px,#ff5a00 63px,#ff2300 64px,#ff0a00 65px,#ff1200 66px,#ff3800 67px,#ff7900 68px,#ffce00 69px,#cdfe32 70px,#66ff99 71px,#0ef3f1 72px,#00a9ff 73px,#0062ff 74px,#0031ff 75px,#0019ff 76px,#001cff 77px,#0038ff 78px,#006aff 79px,#00b0ff 80px,#0ef5f1 81px,#baff45 83px,#fbea04 84px,#ff6700 86px,#ff3f00 87px,#ff2d00 88px,#ff3100 89px,#ff4b00 90px,#ff7900 91px,#f4f60b 93px,#5affa5 95px,#10f9ef 96px,#00c2ff 97px,#0088ff 98px,#005dff 99px,#0046ff 100px,#0041ff 101px,#0051ff 102px,#0073ff 103px,#01e3fe 105px,#2cffd3 106px,#c3ff3c 108px,#fbf004 109px,#ff8600 111px,#ff6500 112px,#ff5400 113px,#ff5600 114px,#ff6900 115px,#ff8d00 116px,#f9f406 118px,#c0ff3f 119px,#34ffcb 121px,#03f0fc 122px,#008fff 124px,#0071ff 125px,#0064ff 126px,#0066ff 127px,#0079ff 128px,#009bff 129px,#09f9f6 131px,#c6ff39 134px,#faf605 135px,#ff9d00 137px,#ff8000 138px,#ff7200 139px,#ff7300 140px,#ff8400 141px,#ffa200 142px,#f7f908 144px,#0dfcf2 148px,#00d6ff 149px,#008fff 151px,#007fff 152px,#007eff 153px,#008bff 154px,#00cbff 156px,#05f7fa 157px,#33ffcc 158px,#e2ff1d 161px,#ffe900 162px,#ff9f00 164px,#ff8d00 165px,#ff8800 166px,#ff9000 167px,#ffc700 169px,#fef101 170px,#d9ff26 171px,#31ffce 174px,#05f8fa 175px,#00b1ff 177px,#0091ff 179px,#00a5ff 181px,#00e8ff 183px,#17ffe8 184px,#eaff15 188px,#ffe800 189px,#ffaa00 191px,#ff9a00 193px,#ffbc00 195px,#f5fd0a 197px,#2dffd2 201px,#05f9fa 202px,#00baff 204px,#00a1ff 206px,#00b7ff 208px,#02f6fd 210px,#25ffda 211px,#e8ff17 215px,#ffed00 216px,#ffb600 218px)}
.r41{background:linear-gradient(90deg,#80ff7f 0px,#85ff7a 28px,#86ff79 33px,#60ff9f 36px,#2effd1 39px,#2effd1 40px,#3effc1 41px,#60ff9f 42px,#d1ff2e 44px,#fcec03 45px,#ffbc00 46px,#ff9f00 47px,#ffa100 48px,#ffc500 49px,#eef811 50px,#99ff66 51px,#33fecc 52px,#01cafe 53px,#0077ff 54px,#003fff 55px,#002aff 56px,#003cff 57px,#0073ff 58px,#00c6ff 59px,#31fece 60px,#a0ff5f 61px,#f7e808 62px,#ff9000 63px,#ff4700 64px,#ff1a00 65px,#ff0e00 66px,#ff2100 67px,#ff5200 68px,#f5ee0a 70px,#a1ff5e 71px,#3bffc4 72px,#01d9fe 73px,#0088ff 74px,#004bff 75px,#0025ff 76px,#0019ff 77px,#0028ff 78px,#004fff 79px,#008cff 80px,#01d8fe 81px,#31ffce 82px,#e4fc1b 84px,#ffc600 85px,#ff8200 86px,#ff5100 87px,#ff3400 88px,#ff2e00 89px,#ff3e00 90px,#ff6300 91px,#ff9a00 92px,#fedf01 93px,#d0ff2f 94px,#2bffd4 96px,#00dfff 97px,#009fff 98px,#006dff 99px,#004eff 100px,#0041ff 101px,#0049ff 102px,#0064ff 103px,#0090ff 104px,#00caff 105px,#13fcec 106px,#edfc12 109px,#ffcd00 110px,#ff9700 111px,#ff6f00 112px,#ff5900 113px,#ff5400 114px,#ff6100 115px,#ff7f00 116px,#ffe400 118px,#d8ff27 119px,#0dfbf2 122px,#00ccff 123px,#009cff 124px,#007aff 125px,#0067ff 126px,#0064ff 127px,#0072ff 128px,#008fff 129px,#02eefd 131px,#2fffd0 132px,#effd10 135px,#ffd500 136px,#ff8700 138px,#ff7500 139px,#ff7200 140px,#ff7e00 141px,#ff9800 142px,#fdf002 144px,#d2ff2d 145px,#1affe5 148px,#00e3ff 149px,#0096ff 151px,#0082ff 152px,#007dff 153px,#0086ff 154px,#009dff 155px,#01eefe 157px,#25ffda 158px,#d4ff2b 161px,#fdf302 162px,#ffa600 164px,#ff9000 165px,#ff8800 166px,#ff8d00 167px,#ff9f00 168px,#ffe700 170px,#e5ff1a 171px,#0cfdf3 175px,#00b8ff 177px,#0092ff 179px,#0093ff 180px,#00baff 182px,#00dfff 183px,#0efef1 184px,#dfff20 188px,#fef001 189px,#ffae00 191px,#ff9a00 193px,#ffb600 195px,#faf905 197px,#9eff61 199px,#0afdf5 202px,#00bfff 204px,#00a2ff 206px,#00b3ff 208px,#00f0ff 210px,#1cffe3 211px,#e0ff1f 215px,#fef301 216px,#ffb900 218px)}
.r42{background:linear-gradient(90deg,#80ff7f 0px,#87ff78 30px,#85ff7a 34px,#5fffa0 37px,#32ffcd 40px,#34ffcb 41px,#46ffb9 42px,#6aff95 43px,#d8ff27 45px,#fde902 46px,#ffbd00 47px,#ffa600 48px,#ffae00 49px,#ffd800 50px,#ddfd22 51px,#20fadf 53px,#00baff 54px,#006dff 55px,#003eff 56px,#0033ff 57px,#004fff 58px,#008eff 59px,#05e2fa 60px,#54ffab 61px,#c3fe3c 62px,#fecf01 63px,#ff7700 64px,#ff3800 65px,#ff1600 66px,#ff1500 67px,#ff3400 68px,#ff6f00 69px,#ffc100 70px,#dbfd24 71px,#18f9e7 73px,#00b6ff 74px,#006cff 75px,#0039ff 76px,#001eff 77px,#001fff 78px,#0039ff 79px,#006bff 80px,#00b0ff 81px,#0ef5f1 82px,#baff45 84px,#fbe904 85px,#ff6700 87px,#ff4000 88px,#ff2f00 89px,#ff3500 90px,#ff5000 91px,#ff8000 92px,#ffbf00 93px,#eefa11 94px,#4fffb0 96px,#0af5f5 97px,#0081ff 99px,#0059ff 100px,#0045ff 101px,#0044ff 102px,#0058ff 103px,#007dff 104px,#04effb 106px,#3dffc2 107px,#d4ff2b 109px,#fee401 110px,#ffaa00 111px,#ff7d00 112px,#ff5f00 113px,#ff5400 114px,#ff5b00 115px,#ff7300 116px,#ff9a00 117px,#ffd000 118px,#edfd12 119px,#1fffe0 122px,#00e0ff 123px,#00abff 124px,#0084ff 125px,#006bff 126px,#0063ff 127px,#006cff 128px,#0084ff 129px,#00deff 131px,#1bffe4 132px,#deff21 135px,#ffe500 136px,#ff9000 138px,#ff7900 139px,#ff7100 140px,#ff7900 141px,#ff8f00 142px,#ffe300 144px,#e3ff1c 145px,#2affd5 148px,#02f0fd 149px,#009eff 151px,#0087ff 152px,#007dff 153px,#0082ff 154px,#00b6ff 156px,#00e1ff 157px,#17ffe8 158px,#c6ff39 161px,#f7fa08 162px,#ffae00 164px,#ff9500 165px,#ff8900 166px,#ff8a00 167px,#ffb600 169px,#ffdc00 170px,#f0fe0f 171px,#16ffe9 175px,#00e6ff 176px,#00a4ff 178px,#0094ff 179px,#009cff 181px,#00d6ff 183px,#07faf8 184px,#a0ff5f 187px,#fcf703 189px,#ffb400 191px,#ff9a00 193px,#ff9f00 194px,#ffce00 196px,#fef301 197px,#dcff23 198px,#11ffee 202px,#00e6ff 203px,#00aeff 205px,#00a3ff 207px,#00c7ff 209px,#00e8ff 210px,#13ffec 211px,#d7ff28 215px,#fbf804 216px,#ffbd00 218px)}
.r43{background:linear-gradient(90deg,#80ff80 0px,#87ff78 31px,#84ff7b 35px,#4effb1 39px,#37ffc8 41px,#3affc5 42px,#4effb1 43px,#72ff8d 44px,#ddfe22 46px,#fee801 47px,#ffc000 48px,#ffaf00 49px,#ffbd00 50px,#fde802 51px,#c8ff37 52px,#12f4ed 54px,#00abff 55px,#0065ff 56px,#0040ff 57px,#003fff 58px,#0064ff 59px,#00aaff 60px,#14f5eb 61px,#77ff88 62px,#e0f91f 63px,#ffb300 64px,#ff6200 65px,#ff2d00 66px,#ff1700 67px,#ff2100 68px,#ff4b00 69px,#ff8f00 70px,#fbe304 71px,#b3ff4c 72px,#4dffb2 73px,#05e6fa 74px,#0096ff 75px,#0055ff 76px,#002cff 77px,#001dff 78px,#002aff 79px,#004fff 80px,#008bff 81px,#01d7fe 82px,#30ffcf 83px,#e3fd1c 85px,#ffc700 86px,#ff8300 87px,#ff5200 88px,#ff3600 89px,#ff3100 90px,#ff4200 91px,#ff6800 92px,#fde602 94px,#c7ff38 95px,#22fedd 97px,#00d6ff 98px,#0098ff 99px,#0069ff 100px,#004cff 101px,#0043ff 102px,#004eff 103px,#006cff 104px,#009bff 105px,#00d8ff 106px,#20ffdf 107px,#b7ff48 109px,#f6f609 110px,#ff8d00 112px,#ff6900 113px,#ff5700 114px,#ff5600 115px,#ff6800 116px,#ff8b00 117px,#faf205 119px,#c3ff3c 120px,#36ffc9 122px,#03f1fc 123px,#0090ff 125px,#0072ff 126px,#0065ff 127px,#0068ff 128px,#007bff 129px,#009dff 130px,#0cfaf3 132px,#caff35 135px,#fbf304 136px,#ff9a00 138px,#ff7f00 139px,#ff7200 140px,#ff7500 141px,#ff8700 142px,#ffd400 144px,#f1fc0e 145px,#3cffc3 148px,#08f9f7 149px,#00a7ff 151px,#008cff 152px,#007fff 153px,#0080ff 154px,#008fff 155px,#00d5ff 157px,#0bfcf4 158px,#eefe11 162px,#ffde00 163px,#ff9a00 165px,#ff8b00 166px,#ff8900 167px,#ff9500 168px,#ffd200 170px,#f8f907 171px,#92ff6d 173px,#22ffdd 175px,#01f0fe 176px,#00a9ff 178px,#0091ff 180px,#00adff 182px,#02f4fd 184px,#28ffd7 185px,#c9ff36 188px,#f6fc09 189px,#ffba00 191px,#ff9a00 193px,#ffac00 195px,#ffec00 197px,#e6ff19 198px,#1bffe4 202px,#00eeff 203px,#00b2ff 205px,#00a2ff 207px,#00c1ff 209px,#0cfdf3 211px,#f7fc08 216px,#ffc200 218px)}
.r44{background:linear-gradient(90deg,#80ff80 0px,#86ff79 32px,#83ff7c 36px,#3bffc4 42px,#41ffbe 43px,#56ffa9 44px,#7aff85 45px,#e2fe1d 47px,#fee701 48px,#ffc400 49px,#ffb800 50px,#ffcb00 51px,#f6f509 52px,#b3ff4c 53px,#55ffaa 54px,#09ebf6 55px,#009eff 56px,#0061ff 57px,#0044ff 58px,#004dff 59px,#007bff 60px,#00c7ff 61px,#2dfdd2 62px,#99ff66 63px,#f3ed0c 64px,#ff5100 66px,#ff2600 67px,#ff1b00 68px,#ff3100 69px,#ff6500 70px,#ffb100 71px,#e9f816 72px,#27fdd8 74px,#00c7ff 75px,#007aff 76px,#0042ff 77px,#0025ff 78px,#0022ff 79px,#003aff 80px,#006aff 81px,#0cf4f3 83px,#b8ff47 85px,#faeb05 86px,#ff6900 88px,#ff4200 89px,#ff3100 90px,#ff3800 91px,#ff5500 92px,#ff8500 93px,#ffc600 94px,#e9fc16 95px,#46ffb9 97px,#06f1f9 98px,#007cff 100px,#0057ff 101px,#0045ff 102px,#0048ff 103px,#005eff 104px,#0086ff 105px,#0af7f5 107px,#99ff66 109px,#e3fe1c 110px,#ffd700 111px,#ff9f00 112px,#ff7500 113px,#ff5c00 114px,#ff5500 115px,#ff6000 116px,#ff7c00 117px,#ffe000 119px,#dcff23 120px,#0ffcf0 123px,#00cfff 124px,#009eff 125px,#007bff 126px,#0068ff 127px,#0065ff 128px,#0073ff 129px,#0091ff 130px,#02f0fd 132px,#31ffce 133px,#f1fc0e 136px,#ffd300 137px,#ffa600 138px,#ff8600 139px,#ff7500 140px,#ff7300 141px,#ff8000 142px,#ffc600 144px,#fbf504 145px,#cbff34 146px,#13feec 149px,#00ddff 150px,#0093ff 152px,#0081ff 153px,#007eff 154px,#008aff 155px,#00a3ff 156px,#04f5fb 158px,#30ffcf 159px,#e0ff1f 162px,#ffeb00 163px,#ffa100 165px,#ff8d00 166px,#ff8800 167px,#ff9000 168px,#ffc800 170px,#fdf202 171px,#d8ff27 172px,#30ffcf 175px,#04f7fb 176px,#00b0ff 178px,#009aff 179px,#0096ff 181px,#00c4ff 183px,#00ecff 184px,#1cffe3 185px,#eefe11 189px,#ffe300 190px,#ffa800 192px,#ff9b00 193px,#ff9b00 194px,#ffc000 196px,#ffe300 197px,#f0fe0f 198px,#25ffda 202px,#02f5fd 203px,#00b7ff 205px,#00a6ff 206px,#00a9ff 208px,#00daff 210px,#06faf9 211px,#60ff9f 213px,#f1fe0e 216px,#ffe500 217px,#ffc700 218px)}
.r45{background:linear-gradient(90deg,#80ff80 0px,#82ff7d 37px,#44ffbb 42px,#3fffc0 43px,#47ffb8 44px,#5dffa2 45px,#b2ff4d 47px,#e6fe19 48px,#fee701 49px,#ffc800 50px,#ffc200 51px,#ffda00 52px,#ebfc14 53px,#9eff61 54px,#42ffbd 55px,#04e0fb 56px,#0094ff 57px,#005eff 58px,#004bff 59px,#005dff 60px,#0093ff 61px,#04e1fb 62px,#4dffb2 63px,#baff45 64px,#fcd903 65px,#ff8300 66px,#ff4400 67px,#ff2300 68px,#ff2300 69px,#ff4400 70px,#ff8100 71px,#fed301 72px,#c8ff37 73px,#62ff9d 74px,#0df1f2 75px,#00a7ff 76px,#0062ff 77px,#0035ff 78px,#0022ff 79px,#002bff 80px,#004eff 81px,#0088ff 82px,#00d3ff 83px,#2cfed3 84px,#e0fd1f 86px,#ffca00 87px,#ff8600 88px,#ff5400 89px,#ff3800 90px,#ff3300 91px,#ff4500 92px,#ff6d00 93px,#fcea03 95px,#c0ff3f 96px,#1cfee3 98px,#00d0ff 99px,#0093ff 100px,#0066ff 101px,#004bff 102px,#0045ff 103px,#0053ff 104px,#0074ff 105px,#00a5ff 106px,#01e4fe 107px,#2dffd2 108px,#c6ff39 110px,#fcee03 111px,#ff8400 113px,#ff6400 114px,#ff5600 115px,#ff5a00 116px,#ff7000 117px,#ff9600 118px,#ffca00 119px,#f1fb0e 120px,#24ffdb 123px,#00e3ff 124px,#00aeff 125px,#0086ff 126px,#006dff 127px,#0064ff 128px,#006dff 129px,#0085ff 130px,#00dfff 132px,#1cffe3 133px,#e0ff1f 136px,#ffe400 137px,#ffb300 138px,#ff8f00 139px,#ff7900 140px,#ff7200 141px,#ff7b00 142px,#ff9300 143px,#ffe800 145px,#ddff22 146px,#24ffdb 149px,#01ebfe 150px,#009aff 152px,#0085ff 153px,#007eff 154px,#0085ff 155px,#00bdff 157px,#00eaff 158px,#20ffdf 159px,#d1ff2e 162px,#fcf503 163px,#ffa800 165px,#ff9100 166px,#ff8800 167px,#ff8d00 168px,#ff9f00 169px,#ffe700 171px,#e5ff1a 172px,#0cfdf3 176px,#00b7ff 178px,#0093ff 180px,#0094ff 181px,#00bcff 183px,#00e1ff 184px,#11feee 185px,#e3ff1c 189px,#ffed00 190px,#ffad00 192px,#ff9d00 193px,#ff9a00 194px,#ffba00 196px,#f7fb08 198px,#30ffcf 202px,#06faf9 203px,#00bcff 205px,#00a2ff 207px,#00b7ff 209px,#02f5fd 211px,#24ffdb 212px,#e9ff16 216px,#ffed00 217px,#ffcc00 218px)}
.r46{background:linear-gradient(90deg,#80ff80 0px,#85ff7a 37px,#6dff92 40px,#47ffb8 43px,#4dffb2 45px,#64ff9b 46px,#b8ff47 48px,#e9fe16 49px,#ffe700 50px,#ffcd00 51px,#ffcc00 52px,#fee801 53px,#dbff24 54px,#30fecf 56px,#01d4fe 57px,#008cff 58px,#005eff 59px,#0054ff 60px,#006fff 61px,#00acff 62px,#10f3ef 63px,#6dff92 64px,#d6fc29 65px,#ffc100 66px,#ff7000 67px,#ff3a00 68px,#ff2400 69px,#ff2f00 70px,#ff5a00 71px,#f5ee0a 73px,#a2ff5d 74px,#3bffc4 75px,#02dafd 76px,#008aff 77px,#004fff 78px,#002cff 79px,#0025ff 80px,#003aff 81px,#0067ff 82px,#09f1f6 84px,#56ffa9 85px,#b2ff4d 86px,#f8ee07 87px,#ff6d00 89px,#ff4500 90px,#ff3400 91px,#ff3b00 92px,#ff5800 93px,#ff8900 94px,#ffca00 95px,#e5fd1a 96px,#41ffbe 98px,#04edfb 99px,#0079ff 101px,#0055ff 102px,#0046ff 103px,#004bff 104px,#0064ff 105px,#008fff 106px,#00c9ff 107px,#12fbed 108px,#edfc12 111px,#ffcc00 112px,#ff9700 113px,#ff7000 114px,#ff5a00 115px,#ff5700 116px,#ff6600 117px,#ff8600 118px,#fdee02 120px,#cbff34 121px,#3dffc2 123px,#06f4f9 124px,#0093ff 126px,#0075ff 127px,#0066ff 128px,#0068ff 129px,#007bff 130px,#009dff 131px,#0bfaf4 133px,#cbff34 136px,#fbf304 137px,#ff9900 139px,#ff7e00 140px,#ff7300 141px,#ff7600 142px,#ff8a00 143px,#ffd800 145px,#eefd11 146px,#36ffc9 149px,#05f6fa 150px,#00a4ff 152px,#008aff 153px,#007eff 154px,#0082ff 155px,#0093ff 156px,#00dcff 158px,#12feed 159px,#f4fc0b 163px,#ffb100 165px,#ff9700 166px,#ff8a00 167px,#ff8b00 168px,#ff9900 169px,#ffdb00 171px,#f1fd0e 172px,#16ffe9 176px,#00e6ff 177px,#00a4ff 179px,#0092ff 181px,#009dff 182px,#00d7ff 184px,#08fbf7 185px,#d7ff28 189px,#fdf502 190px,#ffb200 192px,#ff9a00 194px,#ffb400 196px,#fcf603 198px,#d6ff29 199px,#0dfef2 203px,#00e2ff 204px,#00acff 206px,#00a2ff 207px,#00b3ff 209px,#00efff 211px,#1bffe4 212px,#dfff20 216px,#fef401 217px,#ffd200 218px)}
.r47{background:linear-gradient(90deg,#80ff80 0px,#84ff7b 38px,#60ff9f 42px,#48ffb7 45px,#52ffad 46px,#6aff95 47px,#bdff42 49px,#ecfe13 50px,#ffe900 51px,#ffd300 52px,#ffd700 53px,#fbf404 54px,#c9ff36 55px,#21fcde 57px,#00c8ff 58px,#0086ff 59px,#0060ff 60px,#005fff 61px,#0082ff 62px,#00c5ff 63px,#25fcda 64px,#8cff73 65px,#ebf514 66px,#ffaa00 67px,#ff6100 68px,#ff3400 69px,#ff2900 70px,#ff3f00 71px,#ff7300 72px,#ffc000 73px,#defc21 74px,#1bfae4 76px,#00bbff 77px,#0072ff 78px,#0040ff 79px,#0029ff 80px,#002dff 81px,#004cff 82px,#0083ff 83px,#00ccff 84px,#25feda 85px,#dafe25 87px,#ffd000 88px,#ff8b00 89px,#ff5800 90px,#ff3b00 91px,#ff3600 92px,#ff4800 93px,#ff6f00 94px,#fbed04 96px,#bcff43 97px,#19fde6 99px,#00cdff 100px,#0090ff 101px,#0064ff 102px,#004bff 103px,#0047ff 104px,#0057ff 105px,#007aff 106px,#03ecfc 108px,#39ffc6 109px,#d1ff2e 111px,#fee601 112px,#ff7e00 114px,#ff6100 115px,#ff5700 116px,#ff5e00 117px,#ff7800 118px,#ffa100 119px,#ffd800 120px,#e4fe1b 121px,#15feea 124px,#00d5ff 125px,#00a3ff 126px,#007fff 127px,#006aff 128px,#0066ff 129px,#0073ff 130px,#0090ff 131px,#02effd 133px,#30ffcf 134px,#f1fc0e 137px,#ffd300 138px,#ffa600 139px,#ff8600 140px,#ff7500 141px,#ff7400 142px,#ff8200 143px,#ff9f00 144px,#f9f706 146px,#88ff77 148px,#10fdef 150px,#00d9ff 151px,#0091ff 153px,#0081ff 154px,#007fff 155px,#008dff 156px,#00cfff 158px,#07f9f8 159px,#74ff8b 161px,#e8ff17 163px,#ffe300 164px,#ff9d00 166px,#ff8c00 167px,#ff8900 168px,#ff9400 169px,#ffd000 171px,#faf805 172px,#94ff6b 174px,#24ffdb 176px,#01f1fe 177px,#00aaff 179px,#0097ff 180px,#0092ff 181px,#00aeff 183px,#03f5fc 185px,#29ffd6 186px,#cbff34 189px,#f8fb07 190px,#ffb800 192px,#ff9a00 194px,#ffae00 196px,#ffef00 198px,#e1ff1e 199px,#16ffe9 203px,#00eaff 204px,#00b0ff 206px,#00a3ff 207px,#00afff 209px,#00e7ff 211px,#11ffee 212px,#d5ff2a 216px,#fbf904 217px,#ffd900 218px)}
.r48{background:linear-gradient(90deg,#80ff80 0px,#7fff80 40px,#4cffb3 45px,#57ffa8 47px,#95ff6a 49px,#eefe11 51px,#ffeb00 52px,#ffda00 53px,#ffe200 54px,#f3fb0c 55px,#b8ff47 56px,#16f8e9 58px,#00beff 59px,#0082ff 60px,#0065ff 61px,#006bff 62px,#0096ff 63px,#02ddfd 64px,#40ffbf 65px,#a9ff56 66px,#f8e707 67px,#ff9500 68px,#ff5400 69px,#ff3200 70px,#ff3100 71px,#ff5100 72px,#ff8e00 73px,#fcde03 74px,#bcff43 75px,#56ffa9 76px,#08ecf7 77px,#005eff 79px,#0036ff 80px,#002aff 81px,#0039ff 82px,#0063ff 83px,#06ecf9 85px,#4cffb3 86px,#a9ff56 87px,#f5f20a 88px,#ff7200 90px,#ff4900 91px,#ff3700 92px,#ff3d00 93px,#ff5a00 94px,#ff8b00 95px,#ffcc00 96px,#e3fd1c 97px,#3effc1 99px,#03ebfc 100px,#0077ff 102px,#0055ff 103px,#0047ff 104px,#004eff 105px,#0069ff 106px,#0096ff 107px,#00d1ff 108px,#1afee5 109px,#b1ff4e 111px,#f3f80c 112px,#ff9000 114px,#ff6c00 115px,#ff5900 116px,#ff5900 117px,#ff6c00 118px,#ff8f00 119px,#f7f608 121px,#73ff8c 123px,#2dffd2 124px,#01eafe 125px,#008bff 127px,#0070ff 128px,#0066ff 129px,#006dff 130px,#0084ff 131px,#00dcff 133px,#1affe5 134px,#deff21 137px,#ffe500 138px,#ffb400 139px,#ff9000 140px,#ff7900 141px,#ff7300 142px,#ff7c00 143px,#ff9400 144px,#feea01 146px,#daff25 147px,#20ffdf 150px,#00e8ff 151px,#0099ff 153px,#0084ff 154px,#007eff 155px,#0087ff 156px,#009eff 157px,#01effe 159px,#28ffd7 160px,#d8ff27 163px,#fef001 164px,#ffa400 166px,#ff9000 167px,#ff8900 168px,#ff9000 169px,#ffa400 170px,#feef01 172px,#dbff24 173px,#32ffcd 176px,#06f9f9 177px,#00b1ff 179px,#009bff 180px,#0092ff 181px,#0096ff 182px,#00c5ff 184px,#00ecff 185px,#1cffe3 186px,#effe10 190px,#ffe200 191px,#ffa700 193px,#ff9b00 194px,#ffa900 196px,#ffe600 198px,#ecff13 199px,#21ffde 203px,#01f3fe 204px,#00b5ff 206px,#00a5ff 207px,#00abff 209px,#00deff 211px,#09fdf6 212px,#f6fd09 217px,#ffe000 218px)}
.r49{background:linear-gradient(90deg,#80ff80 0px,#83ff7c 40px,#4fffb0 46px,#5dffa2 48px,#9aff65 50px,#effe10 52px,#ffed00 53px,#ffe100 54px,#ffed00 55px,#e8fe17 56px,#a7ff58 57px,#0df3f2 59px,#00b5ff 60px,#0080ff 61px,#006bff 62px,#0079ff 63px,#00abff 64px,#0aeff5 65px,#5dffa2 66px,#c5fe3a 67px,#fdd402 68px,#ff8300 69px,#ff4b00 70px,#ff3300 71px,#ff3d00 72px,#ff6600 73px,#ffab00 74px,#eff410 75px,#97ff68 76px,#32fecd 77px,#01d3fe 78px,#0085ff 79px,#004eff 80px,#0030ff 81px,#002fff 82px,#0049ff 83px,#007cff 84px,#00c3ff 85px,#1cfce3 86px,#d0ff2f 88px,#fed801 89px,#ff9200 90px,#ff5e00 91px,#ff3f00 92px,#ff3900 93px,#ff4a00 94px,#ff7000 95px,#faed05 97px,#bbff44 98px,#18fce7 100px,#00cbff 101px,#008fff 102px,#0064ff 103px,#004cff 104px,#0049ff 105px,#005bff 106px,#0080ff 107px,#06f1f9 109px,#42ffbd 110px,#dbff24 112px,#ffde00 113px,#ffa500 114px,#ff7900 115px,#ff5f00 116px,#ff5800 117px,#ff6300 118px,#ff8000 119px,#ffac00 120px,#fee501 121px,#d7ff28 122px,#48ffb7 124px,#0bf9f4 125px,#009aff 127px,#0079ff 128px,#0068ff 129px,#0068ff 130px,#007aff 131px,#009bff 132px,#09f9f6 134px,#c8ff37 137px,#faf405 138px,#ff9b00 140px,#ff8000 141px,#ff7400 142px,#ff7700 143px,#ff8b00 144px,#ffac00 145px,#ffda00 146px,#ecfe13 147px,#33ffcc 150px,#04f5fb 151px,#00a2ff 153px,#0089ff 154px,#007fff 155px,#0083ff 156px,#0096ff 157px,#00e1ff 159px,#17ffe8 160px,#c7ff38 163px,#f8f907 164px,#ffad00 166px,#ff9400 167px,#ff8900 168px,#ff8c00 169px,#ff9d00 170px,#ffe300 172px,#eaff15 173px,#0efef1 177px,#00deff 178px,#00a0ff 180px,#0093ff 181px,#0094ff 182px,#00bcff 184px,#00e1ff 185px,#10feef 186px,#e4ff1b 190px,#ffed00 191px,#ffac00 193px,#ff9d00 194px,#ffa500 196px,#ffdc00 198px,#f5fc0a 199px,#2cffd3 203px,#05f9fa 204px,#00baff 206px,#00a2ff 208px,#00baff 210px,#04f8fb 212px,#5bffa4 214px,#eeff11 217px,#ffe800 218px)}
.r50{background:linear-gradient(90deg,#80ff80 0px,#82ff7d 41px,#52ffad 47px,#62ff9d 49px,#9fff60 51px,#f0fe0f 53px,#fff000 54px,#ffe800 55px,#fdf702 56px,#d9ff26 57px,#97ff68 58px,#47ffb8 59px,#07edf8 60px,#00aeff 61px,#0080ff 62px,#0073ff 63px,#0089ff 64px,#00c1ff 65px,#1afae5 66px,#dcfb23 68px,#ffbf00 69px,#ff7500 70px,#ff4600 71px,#ff3700 72px,#ff4b00 73px,#ff7d00 74px,#ffc900 75px,#d6fd29 76px,#16f8e9 78px,#00b6ff 79px,#0070ff 80px,#0042ff 81px,#002fff 82px,#0039ff 83px,#005eff 84px,#0099ff 85px,#03e4fc 86px,#40ffbf 87px,#eff710 89px,#ffb900 90px,#ff7900 91px,#ff4f00 92px,#ff3b00 93px,#ff3f00 94px,#ff5b00 95px,#ff8b00 96px,#ffcc00 97px,#e3fd1c 98px,#3dffc2 100px,#03ebfc 101px,#0077ff 103px,#0056ff 104px,#0049ff 105px,#0051ff 106px,#006dff 107px,#009cff 108px,#00d8ff 109px,#21ffde 110px,#baff45 112px,#f8f407 113px,#ff8b00 115px,#ff6900 116px,#ff5900 117px,#ff5c00 118px,#ff7200 119px,#ff9800 120px,#ffcd00 121px,#effc10 122px,#1fffe0 125px,#00dfff 126px,#00abff 127px,#0084ff 128px,#006dff 129px,#0067ff 130px,#0072ff 131px,#008dff 132px,#01ebfe 134px,#2bffd4 135px,#eefd11 138px,#ffd600 139px,#ffa800 140px,#ff8800 141px,#ff7600 142px,#ff7500 143px,#ff8300 144px,#ff9f00 145px,#f9f706 147px,#86ff79 149px,#0ffdf0 151px,#00d7ff 152px,#00adff 153px,#0090ff 154px,#0081ff 155px,#0080ff 156px,#008fff 157px,#00d3ff 159px,#0afbf5 160px,#edfe12 164px,#ffdf00 165px,#ff9a00 167px,#ff8b00 168px,#ff8a00 169px,#ff9700 170px,#ffd700 172px,#f5fb0a 173px,#1bffe4 177px,#00eaff 178px,#00a6ff 180px,#0096ff 181px,#0093ff 182px,#009dff 183px,#00d6ff 185px,#07faf8 186px,#d7ff28 190px,#fcf503 191px,#ffb200 193px,#ff9a00 195px,#ffb500 197px,#fbf704 199px,#a1ff5e 201px,#0bfdf4 204px,#00c0ff 206px,#00a2ff 208px,#00b5ff 210px,#01f2fe 212px,#1fffe0 213px,#e4ff1b 217px,#fff000 218px)}
.r51{background:linear-gradient(90deg,#80ff80 0px,#81ff7e 42px,#55ffaa 48px,#66ff99 50px,#a3ff5c 52px,#f0fe0f 54px,#fff400 55px,#fff000 56px,#f7fd08 57px,#cbff34 58px,#88ff77 59px,#38ffc7 60px,#04e5fb 61px,#00a9ff 62px,#0082ff 63px,#007cff 64px,#009aff 65px,#01d7fe 66px,#30fecf 67px,#eef411 69px,#ffac00 70px,#ff6900 71px,#ff4300 72px,#ff3f00 73px,#ff5c00 74px,#ff9700 75px,#fbe404 76px,#b5ff4a 77px,#50ffaf 78px,#06e9f9 79px,#009cff 80px,#005fff 81px,#003aff 82px,#0033ff 83px,#0047ff 84px,#0075ff 85px,#00b9ff 86px,#13f8ec 87px,#c4ff3b 89px,#fde202 90px,#ff9c00 91px,#ff6500 92px,#ff4400 93px,#ff3b00 94px,#ff4b00 95px,#ff7000 96px,#faec05 98px,#bcff43 99px,#18fde7 101px,#00ccff 102px,#008fff 103px,#0065ff 104px,#004eff 105px,#004cff 106px,#005fff 107px,#0085ff 108px,#09f5f6 110px,#97ff68 112px,#e2fe1d 113px,#ffd800 114px,#ff9f00 115px,#ff7600 116px,#ff5e00 117px,#ff5900 118px,#ff6700 119px,#ff8700 120px,#fcee03 122px,#caff35 123px,#3bffc4 125px,#05f3fa 126px,#0092ff 128px,#0074ff 129px,#0067ff 130px,#006cff 131px,#0081ff 132px,#00a5ff 133px,#00d7ff 134px,#14feeb 135px,#d9ff26 138px,#fee901 139px,#ff9200 141px,#ff7b00 142px,#ff7400 143px,#ff7c00 144px,#ff9400 145px,#feea01 147px,#daff25 148px,#20ffdf 151px,#00e8ff 152px,#00baff 153px,#0084ff 155px,#007fff 156px,#0089ff 157px,#00c5ff 159px,#02f2fd 160px,#2cffd3 161px,#ddff22 164px,#feec01 165px,#ffa200 167px,#ff8f00 168px,#ff8900 169px,#ff9200 170px,#ffa800 171px,#fcf403 173px,#d3ff2c 174px,#2affd5 177px,#03f4fc 178px,#00adff 180px,#0099ff 181px,#0092ff 182px,#0099ff 183px,#00ccff 185px,#02f3fd 186px,#27ffd8 187px,#f7fb08 191px,#ffb900 193px,#ff9b00 195px,#ffaf00 197px,#fef001 199px,#e0ff1f 200px,#14ffeb 204px,#00e9ff 205px,#00afff 207px,#00a3ff 208px,#00b0ff 210px,#00eaff 212px,#14ffeb 213px,#d9ff26 217px,#fcf703 218px)}
.r52{background:linear-gradient(90deg,#80ff80 0px,#81ff7e 43px,#57ffa8 49px,#6bff94 51px,#a7ff58 53px,#f0ff0f 55px,#fef801 56px,#fff800 57px,#eeff11 58px,#bdff42 59px,#2cfed3 61px,#01defe 62px,#00a5ff 63px,#0085ff 64px,#0087ff 65px,#00abff 66px,#05e9fa 67px,#49ffb6 68px,#adff52 69px,#f8e807 70px,#ff9b00 71px,#ff6000 72px,#ff4300 73px,#ff4900 74px,#ff6f00 75px,#ffb100 76px,#edf612 77px,#30fecf 79px,#01d1fe 80px,#0086ff 81px,#0051ff 82px,#0037ff 83px,#003aff 84px,#0058ff 85px,#008fff 86px,#01d9fe 87px,#32ffcd 88px,#e5fc1a 90px,#ffc400 91px,#ff8300 92px,#ff5500 93px,#ff3f00 94px,#ff4100 95px,#ff5b00 96px,#ff8a00 97px,#ffca00 98px,#e5fd1a 99px,#3fffc0 101px,#04ecfb 102px,#0079ff 104px,#0057ff 105px,#004bff 106px,#0054ff 107px,#0071ff 108px,#00a0ff 109px,#00ddff 110px,#27ffd8 111px,#c0ff3f 113px,#faf105 114px,#ff8700 116px,#ff6700 117px,#ff5a00 118px,#ff6000 119px,#ff7800 120px,#ffa000 121px,#ffd700 122px,#e6fe19 123px,#15fdea 126px,#00d5ff 127px,#00a3ff 128px,#007fff 129px,#006bff 130px,#0068ff 131px,#0077ff 132px,#0096ff 133px,#06f5f9 135px,#3bffc4 136px,#c1ff3e 138px,#f7f808 139px,#ff9f00 141px,#ff8200 142px,#ff7500 143px,#ff7800 144px,#ff8a00 145px,#ffd800 147px,#edfd12 148px,#34ffcb 151px,#05f5fa 152px,#00a3ff 154px,#008aff 155px,#007fff 156px,#0084ff 157px,#00b8ff 159px,#00e4ff 160px,#1affe5 161px,#cbff34 164px,#faf705 165px,#ffab00 167px,#ff9300 168px,#ff8a00 169px,#ff8e00 170px,#ffa000 171px,#ffe900 173px,#e3ff1c 174px,#09fbf6 178px,#00b5ff 180px,#0093ff 182px,#0096ff 183px,#00c2ff 185px,#00e9ff 186px,#19ffe6 187px,#edff12 191px,#ffe400 192px,#ffa800 194px,#ff9c00 195px,#ffaa00 197px,#ffe600 199px,#ecff13 200px,#20ffdf 204px,#01f2fe 205px,#00b4ff 207px,#00a5ff 208px,#00acff 210px,#00e1ff 212px,#0bfdf4 213px,#f8fc07 218px)}
.r53{background:linear-gradient(90deg,#80ff80 0px,#80ff7f 44px,#5affa5 50px,#6fff90 52px,#efff10 56px,#fefc01 57px,#fdfe02 58px,#e3ff1c 59px,#b0ff4f 60px,#21fdde 62px,#01d7fe 63px,#00a3ff 64px,#008aff 65px,#0093ff 66px,#00beff 67px,#10f6ef 68px,#62ff9d 69px,#c5ff3a 70px,#fdd802 71px,#ff8d00 72px,#ff5a00 73px,#ff4700 74px,#ff5600 75px,#ff8500 76px,#ffcd00 77px,#d4fe2b 78px,#16f8e9 80px,#00b7ff 81px,#0073ff 82px,#0047ff 83px,#0038ff 84px,#0045ff 85px,#006dff 86px,#0bf2f4 88px,#57ffa8 89px,#b4ff4b 90px,#f9ed06 91px,#ff6e00 93px,#ff4a00 94px,#ff3f00 95px,#ff4b00 96px,#ff6f00 97px,#fbea04 99px,#c0ff3f 100px,#1bfde4 102px,#00ceff 103px,#0092ff 104px,#0067ff 105px,#004fff 106px,#004eff 107px,#0061ff 108px,#0088ff 109px,#0bf7f4 111px,#e6fe19 114px,#ffd300 115px,#ff9c00 116px,#ff7400 117px,#ff5e00 118px,#ff5b00 119px,#ff6c00 120px,#ff8d00 121px,#f8f407 123px,#beff41 124px,#30ffcf 126px,#02ecfd 127px,#008cff 129px,#0071ff 130px,#0068ff 131px,#0070ff 132px,#0088ff 133px,#00e4ff 135px,#22ffdd 136px,#e7fe18 139px,#ffdd00 140px,#ffad00 141px,#ff8b00 142px,#ff7800 143px,#ff7500 144px,#ff8200 145px,#ff9e00 146px,#faf605 148px,#c8ff37 149px,#10fdef 152px,#00d9ff 153px,#00aeff 154px,#0091ff 155px,#0082ff 156px,#0081ff 157px,#0090ff 158px,#00acff 159px,#0bfcf4 161px,#effe10 165px,#ffdc00 166px,#ff9900 168px,#ff8b00 169px,#ff8b00 170px,#ffb500 172px,#ffdb00 173px,#f1fd0e 174px,#15ffea 178px,#00e4ff 179px,#00a3ff 181px,#0095ff 182px,#0094ff 183px,#00a0ff 184px,#00ddff 186px,#0dfdf2 187px,#e0ff1f 191px,#feef01 192px,#ffae00 194px,#ff9e00 195px,#ff9b00 196px,#ffbb00 198px,#f6fc09 200px,#2dffd2 204px,#05f9fa 205px,#00baff 207px,#00a2ff 209px,#00bbff 211px,#05f9fa 213px,#5effa1 215px,#f0fe0f 218px)}
.r54{background:linear-gradient(90deg,#80ff80 0px,#80ff7f 45px,#5cffa3 51px,#73ff8c 53px,#edff12 57px,#fbff04 58px,#f5ff0a 59px,#d7ff28 60px,#a3ff5c 61px,#18fce7 63px,#00d1ff 64px,#00a2ff 65px,#0090ff 66px,#00a0ff 67px,#00d1ff 68px,#20fddf 69px,#dafc25 71px,#ffc700 72px,#ff8100 73px,#ff5600 74px,#ff4d00 75px,#ff6500 76px,#ff9c00 77px,#fae605 78px,#b5ff4a 79px,#51ffae 80px,#07eaf8 81px,#00a0ff 82px,#0063ff 83px,#0041ff 84px,#003cff 85px,#0053ff 86px,#0085ff 87px,#00cbff 88px,#23fddc 89px,#d7fe28 91px,#ffd300 92px,#ff8e00 93px,#ff5e00 94px,#ff4400 95px,#ff4300 96px,#ff5a00 97px,#ff8700 98px,#ffc600 99px,#e8fc17 100px,#44ffbb 102px,#05effa 103px,#007bff 105px,#005aff 106px,#004dff 107px,#0056ff 108px,#0073ff 109px,#00a3ff 110px,#01e1fe 111px,#2affd5 112px,#c5ff3a 114px,#fbee04 115px,#ff8500 117px,#ff6700 118px,#ff5b00 119px,#ff6300 120px,#ff7d00 121px,#ffa700 122px,#ffdf00 123px,#dcff23 124px,#0efbf1 127px,#00ccff 128px,#009cff 129px,#007bff 130px,#006aff 131px,#006bff 132px,#007dff 133px,#009fff 134px,#00ceff 135px,#0dfbf2 136px,#d0ff2f 139px,#fdef02 140px,#ff9700 142px,#ff7e00 143px,#ff7500 144px,#ff7c00 145px,#ff9200 146px,#ffe700 148px,#deff21 149px,#22ffdd 152px,#00eaff 153px,#009aff 155px,#0085ff 156px,#0080ff 157px,#0089ff 158px,#00a1ff 159px,#03f3fc 161px,#2effd1 162px,#dfff20 165px,#ffeb00 166px,#ffa100 168px,#ff8e00 169px,#ff8a00 170px,#ff9400 171px,#ffab00 172px,#faf705 174px,#ceff31 175px,#24ffdb 178px,#01f1fe 179px,#00aaff 181px,#0098ff 182px,#0093ff 183px,#009bff 184px,#00d2ff 186px,#05f8fa 187px,#65ff9a 189px,#d2ff2d 191px,#fbf804 192px,#ffb500 194px,#ff9b00 196px,#ffa100 197px,#ffd200 199px,#fcf603 200px,#d6ff29 201px,#0cfdf3 205px,#00c1ff 207px,#00a3ff 209px,#00b5ff 211px,#01f3fe 213px,#20ffdf 214px,#e6ff19 218px)}
.r55{background:linear-gradient(90deg,#7fff80 0px,#80ff7f 46px,#5fffa0 52px,#77ff88 54px,#ebff14 58px,#f6ff09 59px,#edff12 60px,#ccff33 61px,#96ff69 62px,#11f9ee 64px,#00ccff 65px,#00a3ff 66px,#0098ff 67px,#00aeff 68px,#02e2fd 69px,#35ffca 70px,#eaf715 72px,#ffb700 73px,#ff7700 74px,#ff5600 75px,#ff5500 76px,#ff7600 77px,#ffb400 78px,#edf612 79px,#33fecc 81px,#01d5fe 82px,#008bff 83px,#0057ff 84px,#003fff 85px,#0044ff 86px,#0065ff 87px,#009fff 88px,#04e7fb 89px,#45ffba 90px,#f1f60e 92px,#ffb600 93px,#ff7900 94px,#ff5200 95px,#ff4200 96px,#ff4c00 97px,#ff6d00 98px,#ffa200 99px,#fde602 100px,#c6ff39 101px,#20fedf 103px,#00d3ff 104px,#0095ff 105px,#006aff 106px,#0052ff 107px,#0050ff 108px,#0063ff 109px,#008aff 110px,#00c2ff 111px,#0df8f2 112px,#e9fd16 115px,#ffd000 116px,#ff9a00 117px,#ff7300 118px,#ff5f00 119px,#ff5e00 120px,#ff6f00 121px,#ff9300 122px,#f4f90b 124px,#26ffd9 127px,#00e5ff 128px,#00afff 129px,#0087ff 130px,#0070ff 131px,#0069ff 132px,#0074ff 133px,#0090ff 134px,#02eefd 136px,#30ffcf 137px,#f2fb0d 140px,#ffd100 141px,#ffa500 142px,#ff8600 143px,#ff7700 144px,#ff7700 145px,#ff8800 146px,#ffd400 148px,#f1fc0e 149px,#38ffc7 152px,#06f7f9 153px,#00a5ff 155px,#008bff 156px,#0080ff 157px,#0085ff 158px,#0098ff 159px,#00b8ff 160px,#00e5ff 161px,#1affe5 162px,#ccff33 165px,#faf705 166px,#ffaa00 168px,#ff9300 169px,#ff8a00 170px,#ff8f00 171px,#ffc200 173px,#ffec00 174px,#dfff20 175px,#35ffca 178px,#07faf8 179px,#00b2ff 181px,#009cff 182px,#0093ff 183px,#00a9ff 185px,#01effe 187px,#20ffdf 188px,#f3fd0c 192px,#ffbc00 194px,#ff9c00 196px,#ff9e00 197px,#ffc900 199px,#ffee00 200px,#e3ff1c 201px,#16ffe9 205px,#00eaff 206px,#00b0ff 208px,#00a4ff 210px,#00c8ff 212px,#00eaff 213px,#15ffea 214px,#daff25 218px)}
.r56{background:linear-gradient(90deg,#80ff80 0px,#7fff80 47px,#61ff9e 53px,#7aff85 55px,#e8ff17 59px,#f1ff0e 60px,#e4ff1b 61px,#c1ff3e 62px,#8bff74 63px,#0bf7f4 65px,#00a6ff 67px,#00a1ff 68px,#00bdff 69px,#07f1f8 70px,#4bffb4 71px,#a9ff56 72px,#f5ee0a 73px,#ffa800 74px,#ff7100 75px,#ff5700 76px,#ff6000 77px,#ff8900 78px,#ffce00 79px,#d7fe28 80px,#1afae5 82px,#00beff 83px,#007aff 84px,#004fff 85px,#0041ff 86px,#0050ff 87px,#007aff 88px,#00bbff 89px,#14f9eb 90px,#c4ff3b 92px,#fde202 93px,#ff9c00 94px,#ff6800 95px,#ff4a00 96px,#ff4500 97px,#ff5900 98px,#ff8300 99px,#ffc100 100px,#edfa12 101px,#4bffb4 103px,#08f2f7 104px,#007fff 106px,#005dff 107px,#004fff 108px,#0058ff 109px,#0075ff 110px,#00a5ff 111px,#01e2fe 112px,#2cffd3 113px,#c7ff38 115px,#fcec03 116px,#ff8400 118px,#ff6700 119px,#ff5c00 120px,#ff6600 121px,#ff8100 122px,#ffad00 123px,#fee601 124px,#d4ff2b 125px,#45ffba 127px,#09f7f6 128px,#0097ff 130px,#0078ff 131px,#006aff 132px,#006eff 133px,#0083ff 134px,#00a7ff 135px,#00d9ff 136px,#17fee8 137px,#ddff22 140px,#ffe600 141px,#ff9000 143px,#ff7b00 144px,#ff7600 145px,#ff8000 146px,#ff9b00 147px,#fcf203 149px,#cdff32 150px,#13feec 153px,#00dcff 154px,#00b1ff 155px,#0093ff 156px,#0083ff 157px,#0082ff 158px,#0090ff 159px,#00d4ff 161px,#0bfbf4 162px,#f0fe0f 166px,#ffdc00 167px,#ffb400 168px,#ff9900 169px,#ff8c00 170px,#ff8c00 171px,#ff9b00 172px,#ffde00 174px,#eefe11 175px,#11feee 179px,#00e1ff 180px,#00a2ff 182px,#0095ff 183px,#0095ff 184px,#00bdff 186px,#00e3ff 187px,#12feed 188px,#e7ff18 192px,#ffea00 193px,#ffab00 195px,#ff9d00 196px,#ff9c00 197px,#ffc000 199px,#ffe300 200px,#effe10 201px,#23ffdc 205px,#01f4fe 206px,#00b6ff 208px,#00a6ff 209px,#00acff 211px,#00e0ff 213px,#0bfdf4 214px,#ceff31 218px)}
.r57{background:linear-gradient(90deg,#80ff80 0px,#7fff80 48px,#64ff9b 54px,#7dff82 56px,#e6ff19 60px,#ebff14 61px,#dcff23 62px,#b7ff48 63px,#3dffc2 65px,#08f3f7 66px,#00c6ff 67px,#00a9ff 68px,#00aaff 69px,#00ccff 70px,#12faed 71px,#61ff9e 72px,#beff41 73px,#fbe204 74px,#ff9c00 75px,#ff6c00 76px,#ff5c00 77px,#ff6d00 78px,#ff9e00 79px,#fbe404 80px,#baff45 81px,#58ffa7 82px,#0aeff5 83px,#006cff 85px,#004aff 86px,#0046ff 87px,#005fff 88px,#0091ff 89px,#01d8fe 90px,#30ffcf 91px,#e3fc1c 93px,#ffc700 94px,#ff8600 95px,#ff5b00 96px,#ff4700 97px,#ff4c00 98px,#ff6a00 99px,#ff9d00 100px,#fee001 101px,#ceff31 102px,#27ffd8 104px,#00d9ff 105px,#009bff 106px,#006eff 107px,#0055ff 108px,#0052ff 109px,#0064ff 110px,#008bff 111px,#00c2ff 112px,#0ef9f1 113px,#eafc15 116px,#ffcf00 117px,#ff9900 118px,#ff7300 119px,#ff6000 120px,#ff6000 121px,#ff7300 122px,#ff9800 123px,#ffcc00 124px,#effb10 125px,#1fffe0 128px,#00deff 129px,#00aaff 130px,#0084ff 131px,#006fff 132px,#006bff 133px,#0078ff 134px,#0096ff 135px,#06f5f9 137px,#3cffc3 138px,#c3ff3c 140px,#f8f607 141px,#ff9e00 143px,#ff8200 144px,#ff7600 145px,#ff7b00 146px,#ff8f00 147px,#ffe100 149px,#e4ff1b 150px,#28ffd7 153px,#01eefe 154px,#009dff 156px,#0087ff 157px,#0081ff 158px,#0089ff 159px,#00c5ff 161px,#02f2fd 162px,#2cffd3 163px,#deff21 166px,#ffeb00 167px,#ffa100 169px,#ff8f00 170px,#ff8b00 171px,#ff9500 172px,#ffd100 174px,#f9f806 175px,#92ff6d 177px,#21ffde 179px,#01eefe 180px,#00a9ff 182px,#0097ff 183px,#009dff 185px,#00d6ff 187px,#08faf7 188px,#d8ff27 192px,#fdf402 193px,#ffb200 195px,#ffa000 196px,#ff9b00 197px,#ffb800 199px,#f8fa07 201px,#99ff66 203px,#31ffce 205px,#06fbf9 206px,#00bcff 208px,#00a9ff 209px,#00a9ff 211px,#00d7ff 213px,#04f9fb 214px,#5dffa2 216px,#c2ff3d 218px)}
.r58{background:linear-gradient(90deg,#80ff80 0px,#7fff80 49px,#65ff9a 54px,#6fff90 56px,#99ff66 58px,#d1ff2e 60px,#e3ff1c 61px,#e5ff1a 62px,#d3ff2c 63px,#adff52 64px,#34ffcb 66px,#05f0fa 67px,#00c5ff 68px,#00aeff 69px,#00b5ff 70px,#00dcff 71px,#21fede 72px,#d1fe2e 74px,#fed501 75px,#ff9300 76px,#ff6a00 77px,#ff6200 78px,#ff7c00 79px,#ffb400 80px,#f0f50f 81px,#9dff62 82px,#3bffc4 83px,#02ddfd 84px,#0094ff 85px,#0061ff 86px,#0049ff 87px,#004eff 88px,#0070ff 89px,#09f0f6 91px,#52ffad 92px,#aeff51 93px,#f7f008 94px,#ff7400 96px,#ff5100 97px,#ff4800 98px,#ff5700 99px,#ff7e00 100px,#ffb900 101px,#f2f60d 102px,#54ffab 104px,#0cf6f3 105px,#0085ff 107px,#0061ff 108px,#0052ff 109px,#0059ff 110px,#0076ff 111px,#00a5ff 112px,#01e2fe 113px,#2cffd3 114px,#c7ff38 116px,#fcec03 117px,#ff8400 119px,#ff6700 120px,#ff5e00 121px,#ff6800 122px,#ff8500 123px,#fdeb02 125px,#ceff31 126px,#3effc1 128px,#06f4f9 129px,#0093ff 131px,#0076ff 132px,#006bff 133px,#0071ff 134px,#0088ff 135px,#00e2ff 137px,#21ffde 138px,#e7fe18 141px,#ffdc00 142px,#ffad00 143px,#ff8c00 144px,#ff7900 145px,#ff7700 146px,#ff8600 147px,#ffa300 148px,#f5fa0a 150px,#09faf6 154px,#00a8ff 156px,#008eff 157px,#0081ff 158px,#0085ff 159px,#0097ff 160px,#00e3ff 162px,#18ffe7 163px,#cbff34 166px,#faf705 167px,#ffab00 169px,#ff9400 170px,#ff8b00 171px,#ff9000 172px,#ffc400 174px,#feee01 175px,#ddff22 176px,#32ffcd 179px,#06f8f9 180px,#00b1ff 182px,#009cff 183px,#0094ff 184px,#0099ff 185px,#00cbff 187px,#02f2fd 188px,#26ffd9 189px,#c9ff36 192px,#f6fb09 193px,#ffb900 195px,#ffa400 196px,#ffa000 198px,#ffce00 200px,#fef301 201px,#dbff24 202px,#0ffef0 206px,#00e4ff 207px,#00adff 209px,#00a3ff 210px,#00b4ff 212px,#01f1fe 214px,#1fffe0 215px,#b5ff4a 218px)}
.r59{background:linear-gradient(90deg,#80ff80 0px,#7eff81 50px,#66ff99 55px,#72ff8d 57px,#b7ff48 60px,#dfff20 62px,#dfff20 63px,#cbff34 64px,#a3ff5c 65px,#2cffd3 67px,#03edfc 68px,#00c5ff 69px,#00b3ff 70px,#00c0ff 71px,#02eafd 72px,#34ffcb 73px,#e1fb1e 75px,#ffc800 76px,#ff8b00 77px,#ff6a00 78px,#ff6b00 79px,#ff8d00 80px,#ffcb00 81px,#ddfd22 82px,#23fcdc 84px,#00c8ff 85px,#0084ff 86px,#0059ff 87px,#004aff 88px,#005aff 89px,#0084ff 90px,#00c6ff 91px,#1cfce3 92px,#cfff30 94px,#feda01 95px,#ff9600 96px,#ff6500 97px,#ff4d00 98px,#ff4d00 99px,#ff6600 100px,#ff9600 101px,#ffd700 102px,#d8fe27 103px,#30ffcf 105px,#01e1fe 106px,#00a2ff 107px,#0073ff 108px,#0058ff 109px,#0054ff 110px,#0065ff 111px,#008bff 112px,#00c2ff 113px,#0df8f2 114px,#e9fd16 117px,#ffcf00 118px,#ff9900 119px,#ff7400 120px,#ff6100 121px,#ff6200 122px,#ff7600 123px,#ff9c00 124px,#ffd000 125px,#ebfd14 126px,#19fee6 129px,#00d9ff 130px,#00a6ff 131px,#0082ff 132px,#006eff 133px,#006cff 134px,#007cff 135px,#009dff 136px,#0bfaf4 138px,#ceff31 141px,#fcf003 142px,#ff9800 144px,#ff7f00 145px,#ff7700 146px,#ff7e00 147px,#ff9600 148px,#feed01 150px,#d6ff29 151px,#1affe5 154px,#00e3ff 155px,#00b6ff 156px,#0096ff 157px,#0084ff 158px,#0082ff 159px,#008fff 160px,#00aaff 161px,#09faf6 163px,#eefe11 167px,#ffde00 168px,#ff9a00 170px,#ff8c00 171px,#ff8d00 172px,#ff9c00 173px,#ffdf00 175px,#edfe12 176px,#10feef 180px,#00dfff 181px,#00a1ff 183px,#0095ff 184px,#0096ff 185px,#00c0ff 187px,#00e6ff 188px,#16ffe9 189px,#ebff14 193px,#ffe600 194px,#ffa900 196px,#ff9d00 197px,#ffab00 199px,#ffe900 201px,#e9ff16 202px,#1cffe3 206px,#00efff 207px,#00b2ff 209px,#00a4ff 211px,#00c6ff 213px,#00e8ff 214px,#12ffed 215px,#a8ff57 218px)}
.r60{background:linear-gradient(90deg,#80ff80 0px,#7eff81 51px,#68ff97 56px,#74ff8b 58px,#cfff30 62px,#dcff23 63px,#d9ff26 64px,#c3ff3c 65px,#99ff66 66px,#25ffda 68px,#02eafd 69px,#00c6ff 70px,#00baff 71px,#00ccff 72px,#08f5f7 73px,#47ffb8 74px,#edf712 76px,#ffbc00 77px,#ff8500 78px,#ff6d00 79px,#ff7600 80px,#ff9f00 81px,#fde002 82px,#c4ff3b 83px,#10f5ef 85px,#00b4ff 86px,#0077ff 87px,#0054ff 88px,#004fff 89px,#0068ff 90px,#009bff 91px,#02e1fd 92px,#3affc5 93px,#eafa15 95px,#ffc100 96px,#ff8300 97px,#ff5b00 98px,#ff4c00 99px,#ff5600 100px,#ff7900 101px,#f8f107 103px,#b4ff4b 104px,#13faec 106px,#00c5ff 107px,#008cff 108px,#0065ff 109px,#0055ff 110px,#005aff 111px,#0075ff 112px,#00a3ff 113px,#01e0fe 114px,#2bffd4 115px,#c6ff39 117px,#fced03 118px,#ff8500 120px,#ff6900 121px,#ff6000 122px,#ff6a00 123px,#ff8800 124px,#fcee03 126px,#c9ff36 127px,#38ffc7 129px,#04f1fb 130px,#0091ff 132px,#0075ff 133px,#006cff 134px,#0074ff 135px,#008dff 136px,#01eafe 138px,#2bffd4 139px,#effc10 142px,#ffd400 143px,#ffa700 144px,#ff8800 145px,#ff7800 146px,#ff7a00 147px,#ff8b00 148px,#ffd900 150px,#ecfe13 151px,#31ffce 154px,#04f3fb 155px,#00a1ff 157px,#008aff 158px,#0081ff 159px,#0089ff 160px,#009fff 161px,#01effe 163px,#28ffd7 164px,#dbff24 167px,#feee01 168px,#ffa300 170px,#ff9000 171px,#ff8b00 172px,#ff9500 173px,#ffd100 175px,#f9f806 176px,#91ff6e 178px,#20ffdf 180px,#01edfe 181px,#00a8ff 183px,#0097ff 184px,#0094ff 185px,#00b6ff 187px,#0afcf5 189px,#dcff23 193px,#fef101 194px,#ffb000 196px,#ff9f00 197px,#ff9c00 198px,#ffbc00 200px,#f4fd0b 202px,#2affd5 206px,#03f7fc 207px,#00b9ff 209px,#00a3ff 211px,#00bfff 213px,#09fcf6 215px,#9aff65 218px)}
.r61{background:linear-gradient(90deg,#80ff80 0px,#7eff81 52px,#69ff96 57px,#77ff88 59px,#cdff32 63px,#d8ff27 64px,#d3ff2c 65px,#baff45 66px,#90ff6f 67px,#1efee1 69px,#01e8fe 70px,#00c8ff 71px,#00c1ff 72px,#00d9ff 73px,#12fced 74px,#5affa5 75px,#b0ff4f 76px,#f6f009 77px,#ffb100 78px,#ff8200 79px,#ff7100 80px,#ff8200 81px,#ffb200 82px,#f5f10a 83px,#a9ff56 84px,#49ffb6 85px,#05e8fa 86px,#00a2ff 87px,#006cff 88px,#0053ff 89px,#0058ff 90px,#0079ff 91px,#00b3ff 92px,#0df4f2 93px,#5affa5 94px,#b6ff49 95px,#f9ec06 96px,#ffa900 97px,#ff7300 98px,#ff5400 99px,#ff4f00 100px,#ff6300 101px,#ff8f00 102px,#ffcd00 103px,#e2fd1d 104px,#3cffc3 106px,#03eafc 107px,#00abff 108px,#007aff 109px,#005dff 110px,#0056ff 111px,#0065ff 112px,#0089ff 113px,#0cf7f3 115px,#e7fd18 118px,#ffd100 119px,#ff9b00 120px,#ff7500 121px,#ff6200 122px,#ff6300 123px,#ff7800 124px,#ff9e00 125px,#ffd400 126px,#e8fd17 127px,#16fde9 130px,#00d5ff 131px,#00a3ff 132px,#0080ff 133px,#006eff 134px,#006eff 135px,#0080ff 136px,#00a3ff 137px,#00d3ff 138px,#11fdee 139px,#d7ff28 142px,#feea01 143px,#ff9300 145px,#ff7d00 146px,#ff7800 147px,#ff8200 148px,#ff9d00 149px,#faf405 151px,#c9ff36 152px,#10fdef 155px,#00d8ff 156px,#00aeff 157px,#0091ff 158px,#0083ff 159px,#0084ff 160px,#0095ff 161px,#00deff 163px,#14feeb 164px,#c6ff39 167px,#f8f907 168px,#ffad00 170px,#ff9500 171px,#ff8b00 172px,#ff9000 173px,#ffa300 174px,#feed01 176px,#ddff22 177px,#32ffcd 180px,#05f8fa 181px,#00b1ff 183px,#009cff 184px,#0094ff 185px,#009aff 186px,#00cdff 188px,#02f4fd 189px,#29ffd6 190px,#ccff33 193px,#f8fa07 194px,#ffb700 196px,#ffa300 197px,#ff9c00 198px,#ffb400 200px,#fcf603 202px,#d5ff2a 203px,#0bfdf4 207px,#00c0ff 209px,#00abff 210px,#00a3ff 211px,#00b8ff 213px,#03f6fc 215px,#27ffd8 216px,#8bff74 218px)}
.r62{background:linear-gradient(90deg,#80ff80 0px,#7eff81 53px,#6bff94 58px,#79ff86 60px,#cbff34 64px,#d4ff2b 65px,#cdff32 66px,#b2ff4d 67px,#51ffae 69px,#19fee6 70px,#01e7fe 71px,#00cbff 72px,#00c9ff 73px,#00e6ff 74px,#20fedf 75px,#c1ff3e 77px,#fbe704 78px,#ffa800 79px,#ff8000 80px,#ff7700 81px,#ff9000 82px,#ffc600 83px,#e6fb19 84px,#30fecf 86px,#01d7fe 87px,#0092ff 88px,#0065ff 89px,#0055ff 90px,#0062ff 91px,#008cff 92px,#00cdff 93px,#22fddd 94px,#d4fe2b 96px,#fed601 97px,#ff9400 98px,#ff6600 99px,#ff5100 100px,#ff5600 101px,#ff7300 102px,#ffa700 103px,#fce803 104px,#c2ff3d 105px,#1cfde3 107px,#00d0ff 108px,#0094ff 109px,#006bff 110px,#0058ff 111px,#005bff 112px,#0074ff 113px,#00a1ff 114px,#00ddff 115px,#27ffd8 116px,#c2ff3d 118px,#fbef04 119px,#ff8700 121px,#ff6a00 122px,#ff6100 123px,#ff6c00 124px,#ff8a00 125px,#fbf004 127px,#c5ff3a 128px,#35ffca 130px,#03effc 131px,#008fff 133px,#0075ff 134px,#006dff 135px,#0077ff 136px,#0092ff 137px,#03f0fc 139px,#33ffcc 140px,#bbff44 142px,#f5fa0a 143px,#ffa200 145px,#ff8500 146px,#ff7800 147px,#ff7c00 148px,#ff9100 149px,#ffe300 151px,#e2ff1d 152px,#25ffda 155px,#01ebfe 156px,#009bff 158px,#0087ff 159px,#0082ff 160px,#008dff 161px,#00cdff 163px,#06f8f9 164px,#74ff8b 166px,#e9ff16 168px,#ffe200 169px,#ff9c00 171px,#ff8e00 172px,#ff8d00 173px,#ff9b00 174px,#ffde00 176px,#eefe11 177px,#11feee 181px,#00e0ff 182px,#00a1ff 184px,#0095ff 185px,#0097ff 186px,#00a6ff 187px,#00e8ff 189px,#18ffe7 190px,#eefe11 194px,#ffe300 195px,#ffa800 197px,#ff9d00 198px,#ffad00 200px,#ffed00 202px,#e4ff1b 203px,#16ffe9 207px,#00eaff 208px,#00b0ff 210px,#00a5ff 212px,#00cbff 214px,#00eeff 215px,#19ffe6 216px,#7dff82 218px)}
.r63{background:linear-gradient(90deg,#80ff80 0px,#7dff82 54px,#6cff93 59px,#7bff84 61px,#caff35 65px,#d0ff2f 66px,#c6ff39 67px,#abff54 68px,#15fdea 71px,#00e6ff 72px,#00ceff 73px,#00d2ff 74px,#03f1fc 75px,#30ffcf 76px,#d1fe2e 78px,#fedd01 79px,#ffa200 80px,#ff8000 81px,#ff7f00 82px,#ff9f00 83px,#fedb01 84px,#d0fe2f 85px,#1bfbe4 87px,#00c4ff 88px,#0085ff 89px,#0060ff 90px,#0059ff 91px,#0070ff 92px,#00a1ff 93px,#03e5fc 94px,#3fffc0 95px,#ecf913 97px,#ffbe00 98px,#ff8300 99px,#ff5e00 100px,#ff5200 101px,#ff6000 102px,#ff8700 103px,#ffc200 104px,#edfa12 105px,#4bffb4 107px,#08f2f7 108px,#0082ff 110px,#0062ff 111px,#0058ff 112px,#0065ff 113px,#0087ff 114px,#09f5f6 116px,#99ff66 118px,#e4fe1b 119px,#ffd500 120px,#ff9e00 121px,#ff7800 122px,#ff6400 123px,#ff6500 124px,#ff7a00 125px,#ffa000 126px,#ffd600 127px,#e6fe19 128px,#14fdeb 131px,#00d3ff 132px,#00a2ff 133px,#0080ff 134px,#006fff 135px,#0070ff 136px,#0084ff 137px,#00a8ff 138px,#00d9ff 139px,#17fee8 140px,#dfff20 143px,#ffe400 144px,#ffb300 145px,#ff9000 146px,#ff7c00 147px,#ff7900 148px,#ff8700 149px,#ffa400 150px,#f5fa0a 152px,#08f9f7 156px,#00a7ff 158px,#008dff 159px,#0083ff 160px,#0087ff 161px,#009bff 162px,#00eaff 164px,#21ffde 165px,#d5ff2a 168px,#fdf202 169px,#ffa600 171px,#ff9200 172px,#ff8c00 173px,#ff9500 174px,#ffcf00 176px,#faf705 177px,#93ff6c 179px,#22ffdd 181px,#01eefe 182px,#00a9ff 184px,#0098ff 185px,#0095ff 186px,#00b7ff 188px,#0bfcf4 190px,#deff21 194px,#fef001 195px,#ffaf00 197px,#ff9f00 198px,#ff9d00 199px,#ffbf00 201px,#ffe100 202px,#f1fe0e 203px,#25ffda 207px,#02f4fd 208px,#00b6ff 210px,#00a4ff 212px,#00adff 213px,#00e3ff 215px,#0dfef2 216px,#6eff91 218px)}
.r64{background:linear-gradient(90deg,#7fff80 0px,#7dff82 55px,#6eff91 60px,#7dff82 62px,#c8ff37 66px,#ccff33 67px,#c0ff3f 68px,#a3ff5c 69px,#11fdee 72px,#00e6ff 73px,#00d3ff 74px,#00dbff 75px,#08f9f7 76px,#40ffbf 77px,#dffd20 79px,#ffd300 80px,#ff9d00 81px,#ff8300 82px,#ff8900 83px,#ffb000 84px,#f9ec06 85px,#b8ff47 86px,#5bffa4 87px,#0df3f2 88px,#00b2ff 89px,#007bff 90px,#005fff 91px,#0060ff 92px,#007fff 93px,#00b8ff 94px,#0ff6f0 95px,#b8ff47 97px,#faeb05 98px,#ffa900 99px,#ff7400 100px,#ff5800 101px,#ff5600 102px,#ff6e00 103px,#ff9d00 104px,#fedd01 105px,#d1ff2e 106px,#2affd5 108px,#01dcfe 109px,#009fff 110px,#0073ff 111px,#005cff 112px,#005cff 113px,#0073ff 114px,#009dff 115px,#00d9ff 116px,#22fedd 117px,#bdff42 119px,#f9f206 120px,#ff8a00 122px,#ff6d00 123px,#ff6300 124px,#ff6e00 125px,#ff8b00 126px,#faf105 128px,#c4ff3b 129px,#33ffcc 131px,#03edfc 132px,#008eff 134px,#0075ff 135px,#006eff 136px,#0079ff 137px,#0096ff 138px,#05f4fa 140px,#3affc5 141px,#c2ff3d 143px,#f8f607 144px,#ff9e00 146px,#ff8300 147px,#ff7900 148px,#ff7f00 149px,#ff9600 150px,#feec01 152px,#d7ff28 153px,#1affe5 156px,#00e2ff 157px,#0096ff 159px,#0085ff 160px,#0084ff 161px,#0092ff 162px,#00d8ff 164px,#0efdf1 165px,#f4fc0b 169px,#ffb100 171px,#ff9800 172px,#ff8d00 173px,#ff9000 174px,#ffa200 175px,#ffeb00 177px,#e0ff1f 178px,#35ffca 181px,#06f9f9 182px,#00b2ff 184px,#009cff 185px,#0095ff 186px,#009bff 187px,#00aeff 188px,#03f5fc 190px,#2affd5 191px,#ceff31 194px,#f9f906 195px,#ffb700 197px,#ffa300 198px,#ff9c00 199px,#ffb600 201px,#faf805 203px,#9dff62 205px,#08fbf7 208px,#00bdff 210px,#00aaff 211px,#00a9ff 213px,#00d8ff 215px,#05fafa 216px,#5fffa0 218px)}
.r65{background:linear-gradient(90deg,#80ff80 0px,#7dff82 56px,#6fff90 61px,#7fff80 63px,#c5ff3a 67px,#c8ff37 68px,#baff45 69px,#9cff63 70px,#0efdf1 73px,#00e6ff 74px,#00d8ff 75px,#00e5ff 76px,#11fdee 77px,#50ffaf 78px,#eafa15 80px,#ffc900 81px,#ff9900 82px,#ff8600 83px,#ff9400 84px,#ffc100 85px,#eff710 86px,#a0ff5f 87px,#43ffbc 88px,#04e6fb 89px,#00a3ff 90px,#0073ff 91px,#005fff 92px,#006aff 93px,#0091ff 94px,#00d1ff 95px,#24fedb 96px,#d5fe2a 98px,#fed701 99px,#ff9600 100px,#ff6a00 101px,#ff5700 102px,#ff5e00 103px,#ff7f00 104px,#f6f309 106px,#b0ff4f 107px,#10f9ef 109px,#00c2ff 110px,#008bff 111px,#0068ff 112px,#005bff 113px,#0065ff 114px,#0084ff 115px,#06f2f9 117px,#44ffbb 118px,#defe21 120px,#ffda00 121px,#ffa200 122px,#ff7b00 123px,#ff6700 124px,#ff6700 125px,#ff7a00 126px,#ffa100 127px,#ffd600 128px,#e5fe1a 129px,#13fcec 132px,#00d2ff 133px,#00a1ff 134px,#0080ff 135px,#0070ff 136px,#0072ff 137px,#0087ff 138px,#00acff 139px,#00deff 140px,#1dffe2 141px,#e5fe1a 144px,#ffde00 145px,#ffaf00 146px,#ff8d00 147px,#ff7c00 148px,#ff7b00 149px,#ff8b00 150px,#ffaa00 151px,#ffd700 152px,#eefd11 153px,#33ffcc 156px,#04f4fb 157px,#00a2ff 159px,#008bff 160px,#0083ff 161px,#008bff 162px,#00a2ff 163px,#03f3fc 165px,#2fffd0 166px,#e2ff1d 169px,#ffe800 170px,#ffa000 172px,#ff8f00 173px,#ff8d00 174px,#ff9a00 175px,#ffdb00 177px,#f1fd0e 178px,#13feec 182px,#00e2ff 183px,#00a3ff 185px,#0096ff 186px,#0097ff 187px,#00a6ff 188px,#00e8ff 190px,#18ffe7 191px,#eefe11 195px,#ffe300 196px,#ffa800 198px,#ff9d00 199px,#ffaf00 201px,#feef01 203px,#e1ff1e 204px,#13ffec 208px,#00e7ff 209px,#00afff 211px,#00a4ff 212px,#00a6ff 213px,#00cfff 215px,#01f2fe 216px,#1fffe0 217px,#50ffaf 218px)}
.r66{background:linear-gradient(90deg,#80ff80 0px,#7dff82 57px,#70ff8f 62px,#91ff6e 65px,#c3ff3c 68px,#c3ff3c 69px,#b4ff4b 70px,#95ff6a 71px,#0cfcf3 74px,#00deff 76px,#01effe 77px,#1effe1 78px,#f2f60d 81px,#ffc100 82px,#ff9800 83px,#ff8c00 84px,#ffa100 85px,#ffd300 86px,#defd21 87px,#2dfed2 89px,#01d7fe 90px,#0096ff 91px,#006eff 92px,#0063ff 93px,#0076ff 94px,#00a5ff 95px,#04e7fb 96px,#3fffc0 97px,#ebf914 99px,#ffc000 100px,#ff8600 101px,#ff6200 102px,#ff5900 103px,#ff6a00 104px,#ff9200 105px,#ffd000 106px,#e1fd1e 107px,#3bffc4 109px,#03e9fc 110px,#00abff 111px,#007bff 112px,#0061ff 113px,#005eff 114px,#0071ff 115px,#0099ff 116px,#00d3ff 117px,#1bfde4 118px,#b5ff4a 120px,#f6f609 121px,#ff8f00 123px,#ff7000 124px,#ff6500 125px,#ff6f00 126px,#ff8c00 127px,#faf105 129px,#c4ff3b 130px,#33ffcc 132px,#03edfc 133px,#008fff 135px,#0076ff 136px,#006fff 137px,#007bff 138px,#0099ff 139px,#08f6f7 141px,#84ff7b 143px,#c8ff37 144px,#faf305 145px,#ff9b00 147px,#ff8200 148px,#ff7a00 149px,#ff8200 150px,#ff9b00 151px,#fcf203 153px,#cdff32 154px,#12feed 157px,#00daff 158px,#00b0ff 159px,#0093ff 160px,#0085ff 161px,#0086ff 162px,#0097ff 163px,#00e2ff 165px,#18ffe7 166px,#ccff33 169px,#faf605 170px,#ffaa00 172px,#ff9400 173px,#ff8d00 174px,#ff9400 175px,#ffa900 176px,#fbf504 178px,#d1ff2e 179px,#25ffda 182px,#01f1fe 183px,#00abff 185px,#0099ff 186px,#0095ff 187px,#00b7ff 189px,#0bfcf4 191px,#deff21 195px,#fef001 196px,#ffaf00 198px,#ffa000 199px,#ff9e00 200px,#ffc000 202px,#ffe300 203px,#effe10 204px,#21ffde 208px,#01f3fe 209px,#00b5ff 211px,#00a5ff 213px,#00afff 214px,#00e7ff 216px,#12ffed 217px,#41ffbe 218px)}
.r67{background:linear-gradient(90deg,#80ff80 0px,#7dff82 58px,#72ff8d 63px,#92ff6d 66px,#c0ff3f 69px,#bfff40 70px,#aeff51 71px,#63ff9c 73px,#0afcf5 75px,#00e4ff 77px,#03f7fc 78px,#2bffd4 79px,#bcff43 81px,#f8f007 82px,#ffbb00 83px,#ff9800 84px,#ff9300 85px,#ffae00 86px,#fde402 87px,#caff35 88px,#1bfbe4 90px,#00c7ff 91px,#008cff 92px,#006bff 93px,#0069ff 94px,#0085ff 95px,#00baff 96px,#0ef6f1 97px,#b6ff49 99px,#f9ed06 100px,#ffac00 101px,#ff7900 102px,#ff5e00 103px,#ff5e00 104px,#ff7800 105px,#ffa900 106px,#fce803 107px,#c3ff3c 108px,#1dfde2 110px,#00d1ff 111px,#0097ff 112px,#006fff 113px,#005eff 114px,#0064ff 115px,#0081ff 116px,#04edfb 118px,#3bffc4 119px,#d7ff28 121px,#fee101 122px,#ffa800 123px,#ff7f00 124px,#ff6900 125px,#ff6800 126px,#ff7b00 127px,#ffa000 128px,#ffd600 129px,#e6fe19 130px,#13fdec 133px,#00d3ff 134px,#00a2ff 135px,#0080ff 136px,#0071ff 137px,#0074ff 138px,#0089ff 139px,#00afff 140px,#00e2ff 141px,#21ffde 142px,#e9fe16 145px,#ffda00 146px,#ffac00 147px,#ff8c00 148px,#ff7c00 149px,#ff7d00 150px,#ff8e00 151px,#ffde00 153px,#e7fe18 154px,#2affd5 157px,#01eefe 158px,#009eff 160px,#0089ff 161px,#0084ff 162px,#008fff 163px,#00a9ff 164px,#08f9f7 166px,#78ff87 168px,#edfe12 170px,#ffde00 171px,#ffb600 172px,#ff9b00 173px,#ff8e00 174px,#ff9000 175px,#ffa000 176px,#ffe700 178px,#e5ff1a 179px,#39ffc6 182px,#09fbf6 183px,#00b4ff 185px,#009eff 186px,#0095ff 187px,#00adff 189px,#02f4fd 191px,#29ffd6 192px,#cdff32 195px,#f9fa06 196px,#ffb700 198px,#ffa300 199px,#ff9d00 200px,#ffb700 202px,#f9f906 204px,#9bff64 206px,#31ffce 208px,#07fbf8 209px,#00bcff 211px,#00a4ff 213px,#00beff 215px,#08fbf7 217px,#32ffcd 218px)}
.r68{background:linear-gradient(90deg,#80ff80 0px,#7dff82 59px,#73ff8c 64px,#94ff6b 67px,#beff41 70px,#bbff44 71px,#a9ff56 72px,#5dffa2 74px,#09fcf6 76px,#00ecff 77px,#00ebff 78px,#09fcf6 79px,#39ffc6 80px,#c9ff36 82px,#fcea03 83px,#ffb600 84px,#ff9900 85px,#ff9b00 86px,#ffbd00 87px,#f7f208 88px,#b3ff4c 89px,#0df4f2 91px,#00b8ff 92px,#0084ff 93px,#006bff 94px,#0071ff 95px,#0095ff 96px,#00d1ff 97px,#22fddd 98px,#d1fe2e 100px,#feda01 101px,#ff9a00 102px,#ff6f00 103px,#ff5d00 104px,#ff6600 105px,#ff8900 106px,#ffc100 107px,#eff910 108px,#4effb1 110px,#0af4f5 111px,#0086ff 113px,#0067ff 114px,#005fff 115px,#006fff 116px,#0094ff 117px,#00cbff 118px,#14fceb 119px,#f1f90e 122px,#ffc600 123px,#ff9400 124px,#ff7300 125px,#ff6700 126px,#ff6f00 127px,#ff8b00 128px,#fbf004 130px,#c5ff3a 131px,#34ffcb 133px,#03eefc 134px,#008fff 136px,#0077ff 137px,#0071ff 138px,#007dff 139px,#009bff 140px,#0af8f5 142px,#89ff76 144px,#ccff33 145px,#fcf103 146px,#ff9900 148px,#ff8100 149px,#ff7b00 150px,#ff8500 151px,#ff9f00 152px,#f9f606 154px,#85ff7a 156px,#0cfbf3 158px,#00abff 160px,#0090ff 161px,#0085ff 162px,#0089ff 163px,#009dff 164px,#01ebfe 166px,#23ffdc 167px,#d8ff27 170px,#fef001 171px,#ffa400 173px,#ff9200 174px,#ff8d00 175px,#ff9800 176px,#ffd600 178px,#f5fb0a 179px,#18ffe7 183px,#00e6ff 184px,#00a5ff 186px,#0097ff 187px,#0097ff 188px,#00a5ff 189px,#00e7ff 191px,#17ffe8 192px,#edfe12 196px,#ffe400 197px,#ffc000 198px,#ff9e00 200px,#ffa000 201px,#ffaf00 202px,#fef001 204px,#dfff20 205px,#11ffee 209px,#00e6ff 210px,#00aeff 212px,#00a7ff 214px,#00d1ff 216px,#02f4fd 217px,#23ffdc 218px)}
.r69{background:linear-gradient(90deg,#80ff80 0px,#7dff82 60px,#74ff8b 65px,#95ff6a 68px,#bbff44 71px,#b6ff49 72px,#a3ff5c 73px,#57ffa8 75px,#08fcf7 77px,#00f0ff 78px,#00f3ff 79px,#11ffee 80px,#46ffb9 81px,#d5fe2a 83px,#fee301 84px,#ffb300 85px,#ff9c00 86px,#ffa500 87px,#ffcc00 88px,#ebfa14 89px,#44ffbb 91px,#05eafa 92px,#00abff 93px,#007eff 94px,#006eff 95px,#007cff 96px,#00a7ff 97px,#03e6fc 98px,#3cffc3 99px,#e8fb17 101px,#ffc600 102px,#ff8b00 103px,#ff6900 104px,#ff6000 105px,#ff7200 106px,#ff9c00 107px,#feda01 108px,#d6fe29 109px,#30ffcf 111px,#01e1fe 112px,#00a4ff 113px,#0078ff 114px,#0063ff 115px,#0064ff 116px,#007dff 117px,#00aaff 118px,#02e6fd 119px,#31ffce 120px,#cdff32 122px,#fde802 123px,#ffaf00 124px,#ff8400 125px,#ff6c00 126px,#ff6900 127px,#ff7b00 128px,#ff9f00 129px,#ffd400 130px,#e8fd17 131px,#15fdea 134px,#00d4ff 135px,#00a3ff 136px,#0082ff 137px,#0072ff 138px,#0076ff 139px,#008bff 140px,#00b1ff 141px,#00e5ff 142px,#24ffdb 143px,#ecfd13 146px,#ffd700 147px,#ffaa00 148px,#ff8b00 149px,#ff7c00 150px,#ff7f00 151px,#ff9200 152px,#ffe400 154px,#e0ff1f 155px,#22ffdd 158px,#00e9ff 159px,#00bbff 160px,#009aff 161px,#0088ff 162px,#0085ff 163px,#0093ff 164px,#00afff 165px,#00d8ff 166px,#0ffdf0 167px,#f5fb0a 171px,#ffb000 173px,#ff9800 174px,#ff8e00 175px,#ff9300 176px,#ffa600 177px,#fdf102 179px,#d8ff27 180px,#2cffd3 183px,#03f5fc 184px,#00adff 186px,#009bff 187px,#0096ff 188px,#009fff 189px,#00b5ff 190px,#09fbf6 192px,#dcff23 196px,#fef101 197px,#ffb000 199px,#ffa000 200px,#ff9e00 201px,#ffa900 202px,#ffe300 204px,#effe10 205px,#20ffdf 209px,#01f2fe 210px,#00b4ff 212px,#00a5ff 214px,#00c8ff 216px,#00eaff 217px,#15ffea 218px)}
.r70{background:linear-gradient(90deg,#80ff80 0px,#7aff85 62px,#75ff8a 66px,#a5ff5a 70px,#b8ff47 72px,#b2ff4d 73px,#9eff61 74px,#07fdf8 78px,#00f4ff 79px,#01f9fe 80px,#1cffe3 81px,#53ffac 82px,#e0fe1f 84px,#ffdc00 85px,#ffb100 86px,#ffa000 87px,#ffb000 88px,#ffdc00 89px,#dbfe24 90px,#30fecf 92px,#01ddfe 93px,#00a0ff 94px,#007aff 95px,#0072ff 96px,#0089ff 97px,#0cf5f3 99px,#57ffa8 100px,#b0ff4f 101px,#f6f109 102px,#ff7f00 104px,#ff6500 105px,#ff6500 106px,#ff8000 107px,#f9ef06 109px,#b8ff47 110px,#16fbe9 112px,#00caff 113px,#0092ff 114px,#006fff 115px,#0062ff 116px,#006dff 117px,#008eff 118px,#00c2ff 119px,#0df8f2 120px,#eafc15 123px,#ffcf00 124px,#ff9b00 125px,#ff7800 126px,#ff6900 127px,#ff7000 128px,#ff8a00 129px,#fcee03 131px,#c9ff36 132px,#37ffc8 134px,#04f0fb 135px,#0091ff 137px,#0078ff 138px,#0072ff 139px,#007fff 140px,#009dff 141px,#0bf9f4 143px,#cfff30 146px,#fdef02 147px,#ff9800 149px,#ff8100 150px,#ff7c00 151px,#ff8800 152px,#ffa400 153px,#f5f90a 155px,#7dff82 157px,#08f9f7 159px,#00a7ff 161px,#008eff 162px,#0085ff 163px,#008cff 164px,#00a2ff 165px,#03f2fc 167px,#2effd1 168px,#e2ff1d 171px,#ffe800 172px,#ffa000 174px,#ff9000 175px,#ff8f00 176px,#ff9d00 177px,#ffe000 179px,#ecfe13 180px,#0dfdf2 184px,#00dcff 185px,#00a0ff 187px,#0096ff 188px,#009aff 189px,#00caff 191px,#01f2fe 192px,#25ffda 193px,#caff35 196px,#f7fb08 197px,#ffb800 199px,#ffa400 200px,#ff9d00 201px,#ffb700 203px,#f9f906 205px,#9aff65 207px,#31ffce 209px,#06faf9 210px,#00bcff 212px,#00a4ff 214px,#00bfff 216px,#09fcf6 218px)}
.r71{background:linear-gradient(90deg,#80ff80 0px,#7aff85 63px,#76ff89 67px,#b1ff4e 72px,#aeff51 74px,#99ff66 75px,#25ffda 78px,#07fef8 79px,#05fdfa 81px,#27ffd8 82px,#a5ff5a 84px,#e9fc16 85px,#ffd600 86px,#ffb000 87px,#ffa600 88px,#ffbb00 89px,#fcea03 90px,#c8ff37 91px,#1ffce0 93px,#00cfff 94px,#0097ff 95px,#0079ff 96px,#0079ff 97px,#0097ff 98px,#00cfff 99px,#1efde1 100px,#caff35 102px,#fde102 103px,#ffa200 104px,#ff7600 105px,#ff6500 106px,#ff6e00 107px,#ff9100 108px,#ffc900 109px,#e8fb17 110px,#46ffb9 112px,#06f0f9 113px,#0083ff 115px,#0069ff 116px,#0065ff 117px,#0079ff 118px,#00a2ff 119px,#00ddff 120px,#26ffd9 121px,#c2ff3d 123px,#faef05 124px,#ff8a00 126px,#ff7000 127px,#ff6b00 128px,#ff7a00 129px,#ff9d00 130px,#ffd000 131px,#ebfc14 132px,#18fee7 135px,#00d7ff 136px,#00a5ff 137px,#0084ff 138px,#0074ff 139px,#0077ff 140px,#008cff 141px,#01e6fe 143px,#26ffd9 144px,#edfd12 147px,#ffd500 148px,#ffa900 149px,#ff8a00 150px,#ff7d00 151px,#ff8100 152px,#ff9500 153px,#fee901 155px,#daff25 156px,#1cffe3 159px,#00e3ff 160px,#00b7ff 161px,#0098ff 162px,#0087ff 163px,#0087ff 164px,#0097ff 165px,#00b5ff 166px,#00e0ff 167px,#16fee9 168px,#cbff34 171px,#faf705 172px,#ffab00 174px,#ff9500 175px,#ff8e00 176px,#ff9600 177px,#ffac00 178px,#f9f806 180px,#91ff6e 182px,#1fffe0 184px,#00ecff 185px,#00a8ff 187px,#0099ff 188px,#0097ff 189px,#00a4ff 190px,#00e3ff 192px,#13feec 193px,#eaff15 197px,#ffe600 198px,#ffaa00 200px,#ffa000 202px,#ffca00 204px,#fef001 205px,#e0ff1f 206px,#11ffee 210px,#00e6ff 211px,#00afff 213px,#00a5ff 214px,#00a8ff 215px,#00d3ff 217px,#02f6fd 218px)}
.r72{background:linear-gradient(90deg,#80ff80 0px,#7aff85 64px,#77ff88 68px,#b0ff4f 73px,#aaff55 75px,#72ff8d 77px,#23ffdc 79px,#08fef7 80px,#00fcff 81px,#0cfff3 82px,#32ffcd 83px,#f0f90f 86px,#ffd100 87px,#ffb000 88px,#ffad00 89px,#ffc800 90px,#f6f509 91px,#b4ff4b 92px,#12f8ed 94px,#00c2ff 95px,#0090ff 96px,#007aff 97px,#0082ff 98px,#00a7ff 99px,#02e3fd 100px,#35ffca 101px,#e0fd1f 103px,#ffcf00 104px,#ff9400 105px,#ff7000 106px,#ff6700 107px,#ff7900 108px,#ffa300 109px,#fee101 110px,#cfff30 111px,#29ffd6 113px,#01dcfe 114px,#00a1ff 115px,#0078ff 116px,#0066ff 117px,#006cff 118px,#0089ff 119px,#07f3f8 121px,#45ffba 122px,#e0fe1f 124px,#ffd900 125px,#ffa200 126px,#ff7d00 127px,#ff6c00 128px,#ff7000 129px,#ff8800 130px,#ffb300 131px,#fdeb02 132px,#cdff32 133px,#3bffc4 135px,#05f2fa 136px,#0094ff 138px,#007aff 139px,#0074ff 140px,#0080ff 141px,#009eff 142px,#0cfaf3 144px,#d1ff2e 147px,#fdee02 148px,#ff9700 150px,#ff8200 151px,#ff7d00 152px,#ff8a00 153px,#ffa700 154px,#ffd200 155px,#f2fb0d 156px,#37ffc8 159px,#05f6fa 160px,#00a4ff 162px,#008dff 163px,#0086ff 164px,#008fff 165px,#00a7ff 166px,#06f7f9 168px,#74ff8b 170px,#ebfe14 172px,#ffe000 173px,#ff9c00 175px,#ff8f00 176px,#ff9100 177px,#ffa200 178px,#ffea00 180px,#e1ff1e 181px,#34ffcb 184px,#06f9f9 185px,#00b2ff 187px,#009dff 188px,#0096ff 189px,#009eff 190px,#00d4ff 192px,#06f9f9 193px,#6bff94 195px,#d8ff27 197px,#fdf402 198px,#ffb200 200px,#ffa100 201px,#ff9e00 202px,#ffc000 204px,#ffe200 205px,#f0fe0f 206px,#21ffde 210px,#01f2fe 211px,#00b5ff 213px,#00a7ff 214px,#00b1ff 216px,#00ebff 218px)}
.r73{background:linear-gradient(90deg,#7fff80 0px,#7aff85 65px,#78ff87 69px,#aeff51 74px,#a6ff59 76px,#6dff92 78px,#22ffdd 80px,#09fff6 81px,#03fffc 82px,#14ffeb 83px,#3dffc2 84px,#f5f70a 87px,#ffce00 88px,#ffb200 89px,#ffb500 90px,#ffd500 91px,#eafc15 92px,#4bffb4 94px,#09f1f6 95px,#00b7ff 96px,#008bff 97px,#007dff 98px,#008cff 99px,#00b8ff 100px,#09f2f6 101px,#4effb1 102px,#a6ff59 103px,#f1f60e 104px,#ffbc00 105px,#ff8800 106px,#ff6d00 107px,#ff6c00 108px,#ff8700 109px,#f6f309 111px,#b2ff4d 112px,#12faed 114px,#00c6ff 115px,#0091ff 116px,#0070ff 117px,#0067ff 118px,#0076ff 119px,#009bff 120px,#00d2ff 121px,#1afde5 122px,#b4ff4b 124px,#f5f60a 125px,#ff9100 127px,#ff7400 128px,#ff6c00 129px,#ff7900 130px,#ff9a00 131px,#ffcc00 132px,#effb10 133px,#1cfee3 136px,#00dbff 137px,#00a9ff 138px,#0086ff 139px,#0076ff 140px,#0078ff 141px,#008dff 142px,#00b3ff 143px,#01e7fe 144px,#27ffd8 145px,#eefc11 148px,#ffd500 149px,#ffa800 150px,#ff8a00 151px,#ff7e00 152px,#ff8200 153px,#ff9800 154px,#feed01 156px,#d5ff2a 157px,#17fee8 160px,#00dfff 161px,#00b4ff 162px,#0096ff 163px,#0087ff 164px,#0089ff 165px,#009bff 166px,#00e7ff 168px,#1effe1 169px,#d4ff2b 172px,#fdf202 173px,#ffa600 175px,#ff9300 176px,#ff8f00 177px,#ff9a00 178px,#ffd800 180px,#f3fc0c 181px,#14feeb 185px,#00e3ff 186px,#00bdff 187px,#0097ff 189px,#009aff 190px,#00c6ff 192px,#01eefe 193px,#20ffdf 194px,#f5fc0a 198px,#ffbb00 200px,#ffa600 201px,#ff9e00 202px,#ffb600 204px,#faf805 206px,#9cff63 208px,#32ffcd 210px,#07fbf8 211px,#00bdff 213px,#00aaff 214px,#00acff 216px,#00dfff 218px)}
.r74{background:linear-gradient(90deg,#80ff80 0px,#7aff85 66px,#79ff86 70px,#adff52 75px,#a2ff5d 77px,#69ff96 79px,#21ffde 81px,#0bfff4 82px,#08fff7 83px,#1dffe2 84px,#48ffb7 85px,#c6ff39 87px,#f9f306 88px,#ffcb00 89px,#ffb500 90px,#ffbd00 91px,#fee301 92px,#dcfe23 93px,#39ffc6 95px,#03e7fc 96px,#00adff 97px,#0089ff 98px,#0082ff 99px,#0099ff 100px,#00cbff 101px,#17fbe8 102px,#bfff40 104px,#fbea04 105px,#ffac00 106px,#ff7f00 107px,#ff6c00 108px,#ff7500 109px,#ff9700 110px,#ffcf00 111px,#e4fd1b 112px,#41ffbe 114px,#05edfa 115px,#00b2ff 116px,#0084ff 117px,#006cff 118px,#006cff 119px,#0083ff 120px,#00b0ff 121px,#03eafc 122px,#37ffc8 123px,#d3ff2c 125px,#fee401 126px,#ffac00 127px,#ff8400 128px,#ff6f00 129px,#ff7000 130px,#ff8600 131px,#ffaf00 132px,#fee601 133px,#d4ff2b 134px,#41ffbe 136px,#07f5f8 137px,#0097ff 139px,#007dff 140px,#0075ff 141px,#0081ff 142px,#009eff 143px,#0cfaf3 145px,#d1ff2e 148px,#fdee02 149px,#ff9700 151px,#ff8200 152px,#ff7e00 153px,#ff8c00 154px,#ffaa00 155px,#ffd600 156px,#effd10 157px,#32ffcd 160px,#04f3fb 161px,#00a2ff 163px,#008cff 164px,#0087ff 165px,#0091ff 166px,#00abff 167px,#0afbf5 169px,#f1fd0e 173px,#ffd900 174px,#ffb300 175px,#ff9a00 176px,#ff8f00 177px,#ff9400 178px,#ffa700 179px,#fdf202 181px,#d6ff29 182px,#29ffd6 185px,#02f3fd 186px,#00acff 188px,#009bff 189px,#0097ff 190px,#00a2ff 191px,#00deff 193px,#0efdf1 194px,#e5ff1a 198px,#ffeb00 199px,#ffac00 201px,#ffa000 203px,#ffae00 204px,#ffee00 206px,#e2ff1d 207px,#13ffec 211px,#00e7ff 212px,#00afff 214px,#00a5ff 215px,#00a8ff 216px,#00d3ff 218px)}
.r75{background:linear-gradient(90deg,#80ff80 0px,#7aff85 67px,#7aff85 71px,#abff54 76px,#9eff61 78px,#65ff9a 80px,#21ffde 82px,#0efff1 83px,#0efff1 84px,#26ffd9 85px,#53ffac 86px,#d0ff2f 88px,#fcf003 89px,#ffc900 90px,#ffb900 91px,#ffc700 92px,#fcee03 93px,#caff35 94px,#29fed6 96px,#01dcfe 97px,#00a5ff 98px,#0088ff 99px,#0088ff 100px,#00a7ff 101px,#01defe 102px,#2bfed4 103px,#d5fe2a 105px,#feda01 106px,#ff9e00 107px,#ff7900 108px,#ff6f00 109px,#ff7f00 110px,#ffa900 111px,#fde502 112px,#cbff34 113px,#26fed9 115px,#00daff 116px,#00a0ff 117px,#007aff 118px,#006bff 119px,#0073ff 120px,#0093ff 121px,#00c7ff 122px,#10faef 123px,#ecfb13 126px,#ffcd00 127px,#ff9a00 128px,#ff7a00 129px,#ff6e00 130px,#ff7800 131px,#ff9700 132px,#f3f90c 134px,#22ffdd 137px,#00e1ff 138px,#00adff 139px,#0089ff 140px,#0078ff 141px,#0079ff 142px,#008dff 143px,#00b3ff 144px,#01e6fe 145px,#26ffd9 146px,#eefd11 149px,#ffd500 150px,#ffa900 151px,#ff8b00 152px,#ff7f00 153px,#ff8400 154px,#ff9a00 155px,#fdf002 157px,#d1ff2e 158px,#13feec 161px,#00dbff 162px,#00b1ff 163px,#0095ff 164px,#0088ff 165px,#008bff 166px,#009eff 167px,#01edfe 169px,#26ffd9 170px,#dbff24 173px,#feed01 174px,#ffa300 176px,#ff9200 177px,#ff9000 178px,#ff9e00 179px,#ffb900 180px,#ffe100 181px,#ebfe14 182px,#0cfdf3 186px,#00b7ff 188px,#00a0ff 189px,#0097ff 190px,#009cff 191px,#00afff 192px,#04f6fb 194px,#2dffd2 195px,#d2ff2d 198px,#fbf704 199px,#ffb400 201px,#ffa300 202px,#ff9f00 203px,#ffa800 204px,#ffe000 206px,#f2fd0d 207px,#24ffdb 211px,#02f4fd 212px,#00b6ff 214px,#00a6ff 216px,#00b1ff 217px,#00c9ff 218px)}
.r76{background:linear-gradient(90deg,#80ff80 0px,#7bff84 68px,#7bff84 72px,#a9ff56 77px,#9aff65 79px,#61ff9e 81px,#21ffde 83px,#11ffee 84px,#14ffeb 85px,#2fffd0 86px,#5dffa2 87px,#d9ff26 89px,#fdec02 90px,#ffc900 91px,#ffbe00 92px,#ffd200 93px,#f6f709 94px,#b9ff46 95px,#1bfce4 97px,#00d1ff 98px,#009fff 99px,#0089ff 100px,#0091ff 101px,#00b6ff 102px,#05eefa 103px,#42ffbd 104px,#e8fb17 106px,#ffc900 107px,#ff9300 108px,#ff7600 109px,#ff7300 110px,#ff8c00 111px,#f4f50b 113px,#afff50 114px,#11f9ee 116px,#00c5ff 117px,#0091ff 118px,#0073ff 119px,#006dff 120px,#007eff 121px,#00a6ff 122px,#01dffe 123px,#28ffd7 124px,#c3ff3c 126px,#fbee04 127px,#ff8b00 129px,#ff7400 130px,#ff7100 131px,#ff8400 132px,#ffaa00 133px,#ffe000 134px,#dbff24 135px,#49ffb6 137px,#0bf8f4 138px,#009bff 140px,#007fff 141px,#0077ff 142px,#0081ff 143px,#009eff 144px,#0bf9f4 146px,#d0ff2f 149px,#fdee02 150px,#ff9800 152px,#ff8300 153px,#ff8000 154px,#ff8e00 155px,#ffac00 156px,#ffd900 157px,#ecfd13 158px,#2effd1 161px,#03f1fc 162px,#00a0ff 164px,#008cff 165px,#0088ff 166px,#0094ff 167px,#00d8ff 169px,#0ffdf0 170px,#f6fa09 174px,#ffaf00 176px,#ff9800 177px,#ff9000 178px,#ff9700 179px,#ffac00 180px,#faf705 182px,#92ff6d 184px,#1fffe0 186px,#00ecff 187px,#00a8ff 189px,#0099ff 190px,#0099ff 191px,#00a7ff 192px,#00e8ff 194px,#19ffe6 195px,#f0fe0f 199px,#ffe100 200px,#ffa800 202px,#ff9f00 203px,#ffa300 204px,#ffd200 206px,#fbf704 207px,#d4ff2b 208px,#35ffca 211px,#09fcf6 212px,#00beff 214px,#00abff 215px,#00a5ff 216px,#00acff 217px,#00c0ff 218px)}
.r77{background:linear-gradient(90deg,#80ff80 0px,#7bff84 69px,#7cff83 73px,#a7ff58 78px,#96ff69 80px,#21ffde 84px,#14ffeb 85px,#1bffe4 86px,#37ffc8 87px,#a3ff5c 89px,#e0fe1f 90px,#fee901 91px,#ffc900 92px,#ffc400 93px,#ffdd00 94px,#ecfc13 95px,#a8ff57 96px,#10f8ef 98px,#00c6ff 99px,#009bff 100px,#008cff 101px,#009bff 102px,#00c6ff 103px,#10f8ef 104px,#b0ff4f 106px,#f5f30a 107px,#ff8a00 109px,#ff7500 110px,#ff7b00 111px,#ff9b00 112px,#ffd200 113px,#e2fd1d 114px,#40ffbf 116px,#05edfa 117px,#00b2ff 118px,#0086ff 119px,#0070ff 120px,#0072ff 121px,#008cff 122px,#07f3f8 124px,#45ffba 125px,#dffe20 127px,#ffda00 128px,#ffa400 129px,#ff8000 130px,#ff7100 131px,#ff7800 132px,#ff9300 133px,#f7f508 135px,#bcff43 136px,#2affd5 138px,#01e7fe 139px,#00b3ff 140px,#008dff 141px,#007aff 142px,#007aff 143px,#008dff 144px,#00b2ff 145px,#00e4ff 146px,#24ffdb 147px,#ecfd13 150px,#ffd700 151px,#ffaa00 152px,#ff8c00 153px,#ff8000 154px,#ff8500 155px,#ff9c00 156px,#fcf103 158px,#ceff31 159px,#11fdee 162px,#00d9ff 163px,#00afff 164px,#0094ff 165px,#0088ff 166px,#008dff 167px,#00a2ff 168px,#02f1fd 170px,#2dffd2 171px,#e2ff1d 174px,#ffe800 175px,#ffa000 177px,#ff9200 178px,#ff9200 179px,#ffa200 180px,#ffe800 182px,#e3ff1c 183px,#36ffc9 186px,#07f9f8 187px,#00b2ff 189px,#009eff 190px,#0098ff 191px,#00a0ff 192px,#00d8ff 194px,#09fbf6 195px,#deff21 199px,#fef001 200px,#ffaf00 202px,#ffa100 203px,#ffa000 204px,#ffc600 206px,#ffea00 207px,#e7ff18 208px,#16ffe9 212px,#00eaff 213px,#00b1ff 215px,#00a6ff 216px,#00b8ff 218px)}
.r78{background:linear-gradient(90deg,#80ff80 0px,#7bff84 70px,#7dff82 74px,#a5ff5a 79px,#93ff6c 81px,#22ffdd 85px,#17ffe8 86px,#21ffde 87px,#40ffbf 88px,#acff53 90px,#e6fe19 91px,#ffe600 92px,#ffcb00 93px,#ffcb00 94px,#fee801 95px,#dfff20 96px,#47ffb8 98px,#08f2f7 99px,#00bdff 100px,#0099ff 101px,#0091ff 102px,#00a6ff 103px,#00d7ff 104px,#20fedf 105px,#c6ff39 107px,#fce703 108px,#ffab00 109px,#ff8400 110px,#ff7600 111px,#ff8400 112px,#ffac00 113px,#fde602 114px,#caff35 115px,#26fed9 117px,#01dbfe 118px,#00a2ff 119px,#007dff 120px,#0070ff 121px,#007aff 122px,#009cff 123px,#00d2ff 124px,#19fde6 125px,#b2ff4d 127px,#f4f70b 128px,#ff9400 130px,#ff7900 131px,#ff7200 132px,#ff8200 133px,#ffa500 134px,#ffd900 135px,#e3fe1c 136px,#10fbef 139px,#00cfff 140px,#00a1ff 141px,#0083ff 142px,#0078ff 143px,#0081ff 144px,#009dff 145px,#0af8f5 147px,#89ff76 149px,#cdff32 150px,#fcf003 151px,#ff9a00 153px,#ff8400 154px,#ff8100 155px,#ff8f00 156px,#ffae00 157px,#ffda00 158px,#eafe15 159px,#2cffd3 162px,#02effd 163px,#009fff 165px,#008cff 166px,#0089ff 167px,#0097ff 168px,#00b3ff 169px,#00ddff 170px,#14feeb 171px,#c8ff37 174px,#f9f806 175px,#ffac00 177px,#ff9700 178px,#ff9000 179px,#ff9900 180px,#ffb100 181px,#f5fb0a 183px,#16ffe9 187px,#00e5ff 188px,#00a5ff 190px,#0099ff 191px,#009bff 192px,#00abff 193px,#01f0fe 195px,#24ffdb 196px,#c9ff36 199px,#f7fb08 200px,#ffb900 202px,#ffa500 203px,#ff9f00 204px,#ffbb00 206px,#f5fc0a 208px,#28ffd7 212px,#03f6fc 213px,#00b8ff 215px,#00a6ff 217px,#00b1ff 218px)}
.r79{background:linear-gradient(90deg,#80ff80 0px,#7bff84 71px,#7dff82 75px,#a4ff5b 80px,#8fff70 82px,#23ffdc 86px,#1bffe4 87px,#28ffd7 88px,#49ffb6 89px,#ecfd13 92px,#ffe400 93px,#ffce00 94px,#ffd300 95px,#fcf203 96px,#d0ff2f 97px,#37ffc8 99px,#04eafb 100px,#00b6ff 101px,#0098ff 102px,#0097ff 103px,#00b3ff 104px,#02e7fd 105px,#34ffcb 106px,#dafe25 108px,#ffd800 109px,#ffa000 110px,#ff8000 111px,#ff7a00 112px,#ff9000 113px,#f4f50b 115px,#afff50 116px,#12faed 118px,#00c7ff 119px,#0095ff 120px,#0077ff 121px,#0072ff 122px,#0086ff 123px,#00afff 124px,#02e8fd 125px,#33ffcc 126px,#cfff30 128px,#fde702 129px,#ffb000 130px,#ff8800 131px,#ff7500 132px,#ff7700 133px,#ff8f00 134px,#fbf004 136px,#c6ff39 137px,#34ffcb 139px,#03edfc 140px,#00b9ff 141px,#0092ff 142px,#007dff 143px,#007bff 144px,#008cff 145px,#00b0ff 146px,#00e2ff 147px,#21ffde 148px,#eafe15 151px,#ffd900 152px,#ffac00 153px,#ff8e00 154px,#ff8100 155px,#ff8600 156px,#ff9d00 157px,#fbf204 159px,#ccff33 160px,#10fdef 163px,#00d7ff 164px,#00aeff 165px,#0094ff 166px,#0089ff 167px,#008fff 168px,#00a4ff 169px,#04f4fb 171px,#32ffcd 172px,#e7ff18 175px,#ffe300 176px,#ffba00 177px,#ff9f00 178px,#ff9200 179px,#ff9400 180px,#ffa500 181px,#feef01 183px,#daff25 184px,#2dffd2 187px,#03f5fc 188px,#00aeff 190px,#009cff 191px,#0099ff 192px,#00a3ff 193px,#00e0ff 195px,#10feef 196px,#e8ff17 200px,#ffe800 201px,#ffab00 203px,#ffa000 204px,#ffa200 205px,#ffce00 207px,#fdf302 208px,#daff25 209px,#0cfdf3 213px,#00c1ff 215px,#00adff 216px,#00a6ff 217px,#00acff 218px)}
.r80{background:linear-gradient(90deg,#80ff80 0px,#7aff85 73px,#85ff7a 77px,#a2ff5d 81px,#8cff73 83px,#24ffdb 87px,#20ffdf 88px,#2effd1 89px,#51ffae 90px,#f0fc0f 93px,#ffe200 94px,#ffd100 95px,#ffdb00 96px,#f7f908 97px,#c0ff3f 98px,#29fed6 100px,#01e1fe 101px,#00b1ff 102px,#0099ff 103px,#009fff 104px,#00c1ff 105px,#09f4f6 106px,#4affb5 107px,#ebfa14 109px,#ffc900 110px,#ff9700 111px,#ff7e00 112px,#ff8000 113px,#ff9e00 114px,#ffd200 115px,#e3fd1c 116px,#42ffbd 118px,#06eff9 119px,#00b6ff 120px,#008aff 121px,#0075ff 122px,#0078ff 123px,#0094ff 124px,#00c4ff 125px,#0df8f2 126px,#e8fd17 129px,#ffd200 130px,#ff9f00 131px,#ff7f00 132px,#ff7400 133px,#ff8000 134px,#ff9f00 135px,#ffd100 136px,#ebfc14 137px,#18fde7 140px,#00d7ff 141px,#00a7ff 142px,#0087ff 143px,#007aff 144px,#0081ff 145px,#009bff 146px,#08f6f7 148px,#40ffbf 149px,#c9ff36 151px,#fbf204 152px,#ff9c00 154px,#ff8600 155px,#ff8200 156px,#ff9000 157px,#ffae00 158px,#ffdb00 159px,#eafe15 160px,#2bffd4 163px,#02eefd 164px,#009fff 166px,#008cff 167px,#008aff 168px,#0099ff 169px,#00b6ff 170px,#00e1ff 171px,#18fee7 172px,#ceff31 175px,#fbf504 176px,#ffaa00 178px,#ff9600 179px,#ff9100 180px,#ff9c00 181px,#ffdc00 183px,#f0fd0f 184px,#10feef 188px,#00deff 189px,#00a2ff 191px,#0099ff 192px,#009dff 193px,#00b0ff 194px,#04f6fb 196px,#2effd1 197px,#d4ff2b 200px,#fcf603 201px,#ffb400 203px,#ffa300 204px,#ffa000 205px,#ffc200 207px,#ffe500 208px,#ecff13 209px,#1cffe3 213px,#00eeff 214px,#00b3ff 216px,#00a7ff 217px,#00a8ff 218px)}
.r81{background:linear-gradient(90deg,#80ff80 0px,#7aff85 74px,#85ff7a 78px,#a0ff5f 82px,#89ff76 84px,#38ffc7 87px,#26ffd9 88px,#24ffdb 89px,#35ffca 90px,#59ffa6 91px,#f4fb0b 94px,#ffd500 96px,#ffe400 97px,#eefd11 98px,#b1ff4e 99px,#1dfde2 101px,#00d9ff 102px,#00adff 103px,#009bff 104px,#00a8ff 105px,#00d0ff 106px,#15fbea 107px,#b3ff4c 109px,#f6f309 110px,#ffbb00 111px,#ff9000 112px,#ff7f00 113px,#ff8900 114px,#ffad00 115px,#fde602 116px,#ccff33 117px,#2affd5 119px,#01dffe 120px,#00a6ff 121px,#0082ff 122px,#0075ff 123px,#0081ff 124px,#00a4ff 125px,#00daff 126px,#21fede 127px,#bbff44 129px,#f8f307 130px,#ff9100 132px,#ff7a00 133px,#ff7700 134px,#ff8b00 135px,#ffb200 136px,#fde802 137px,#d1ff2e 138px,#3fffc0 140px,#06f4f9 141px,#0098ff 143px,#0080ff 144px,#007cff 145px,#008bff 146px,#00adff 147px,#00deff 148px,#1dfee2 149px,#e6fe19 152px,#ffdd00 153px,#ffaf00 154px,#ff9000 155px,#ff8200 156px,#ff8700 157px,#ff9d00 158px,#fbf204 160px,#ccff33 161px,#0ffcf0 164px,#00d7ff 165px,#00aeff 166px,#0094ff 167px,#008aff 168px,#0090ff 169px,#00a7ff 170px,#06f7f9 172px,#74ff8b 174px,#ebfe14 176px,#ffdf00 177px,#ff9d00 179px,#ff9200 180px,#ff9600 181px,#ffa900 182px,#fcf303 184px,#d3ff2c 185px,#25ffda 188px,#01f0fe 189px,#00abff 191px,#009bff 192px,#009aff 193px,#00a7ff 194px,#00e8ff 196px,#19ffe6 197px,#f1fe0e 201px,#ffe000 202px,#ffa800 204px,#ffa000 205px,#ffa500 206px,#ffd700 208px,#f9fa06 209px,#99ff66 211px,#2effd1 213px,#05f9fa 214px,#00bbff 216px,#00aaff 217px,#00a7ff 218px)}
.r82{background:linear-gradient(90deg,#80ff80 0px,#7fff80 78px,#9eff61 83px,#86ff79 85px,#38ffc7 88px,#28ffd7 89px,#28ffd7 90px,#3cffc3 91px,#61ff9e 92px,#cbff34 94px,#f7fa08 95px,#ffe200 96px,#ffda00 97px,#feed01 98px,#e3ff1c 99px,#13faec 102px,#00d1ff 103px,#00aaff 104px,#009fff 105px,#00b2ff 106px,#01e0fe 107px,#25feda 108px,#c8ff37 110px,#fce803 111px,#ffaf00 112px,#ff8b00 113px,#ff8100 114px,#ff9300 115px,#f5f40a 117px,#b3ff4c 118px,#15fbea 120px,#00ccff 121px,#0099ff 122px,#007dff 123px,#0078ff 124px,#008cff 125px,#00b6ff 126px,#04eefb 127px,#3cffc3 128px,#d7ff28 130px,#fee201 131px,#ffac00 132px,#ff8700 133px,#ff7700 134px,#ff7e00 135px,#ff9a00 136px,#f3f90c 138px,#22ffdd 141px,#00e1ff 142px,#00aeff 143px,#008cff 144px,#007dff 145px,#0081ff 146px,#0099ff 147px,#05f3fa 149px,#3affc5 150px,#c4ff3b 152px,#f9f506 153px,#ff9f00 155px,#ff8800 156px,#ff8300 157px,#ff9000 158px,#ffaf00 159px,#ffdb00 160px,#eafe15 161px,#2affd5 164px,#02eefd 165px,#009fff 167px,#008dff 168px,#008cff 169px,#009bff 170px,#00b9ff 171px,#00e4ff 172px,#1bffe4 173px,#d2ff2d 176px,#fcf303 177px,#ffa800 179px,#ff9500 180px,#ff9200 181px,#ff9f00 182px,#ffba00 183px,#ffe200 184px,#eafe15 185px,#0bfcf4 189px,#00b6ff 191px,#00a0ff 192px,#0099ff 193px,#00a0ff 194px,#00b5ff 195px,#09fbf6 197px,#a8ff57 200px,#deff21 201px,#fef001 202px,#ffb000 204px,#ffa200 205px,#ffa200 206px,#ffaf00 207px,#feee01 209px,#e1ff1e 210px,#11feee 214px,#00e5ff 215px,#00afff 217px,#00a7ff 218px)}
.r83{background:linear-gradient(90deg,#80ff80 0px,#80ff7f 79px,#9cff63 83px,#94ff6b 85px,#38ffc7 89px,#2bffd4 90px,#2dffd2 91px,#43ffbc 92px,#69ff96 93px,#d1ff2e 95px,#f9f906 96px,#ffe300 97px,#ffe000 98px,#fcf503 99px,#d6ff29 100px,#0bf7f4 103px,#00a9ff 105px,#00a5ff 106px,#00beff 107px,#04edfb 108px,#39ffc6 109px,#dafe25 111px,#fedb01 112px,#ffa600 113px,#ff8800 114px,#ff8600 115px,#ffa000 116px,#ffd100 117px,#e6fc19 118px,#48ffb7 120px,#08f3f7 121px,#008fff 123px,#007aff 124px,#007eff 125px,#009aff 126px,#00cbff 127px,#11faee 128px,#edfb12 131px,#ffcd00 132px,#ff9d00 133px,#ff8000 134px,#ff7900 135px,#ff8800 136px,#ffab00 137px,#ffdf00 138px,#ddff22 139px,#4bffb4 141px,#0cf9f3 142px,#009eff 144px,#0084ff 145px,#007dff 146px,#008aff 147px,#00aaff 148px,#00d9ff 149px,#18fee7 150px,#e1ff1e 153px,#ffe100 154px,#ffb200 155px,#ff9200 156px,#ff8400 157px,#ff8800 158px,#ff9d00 159px,#fbf204 161px,#ccff33 162px,#10fcef 165px,#00d7ff 166px,#00afff 167px,#0094ff 168px,#008bff 169px,#0092ff 170px,#00a9ff 171px,#07f8f8 173px,#78ff87 175px,#eefd11 177px,#ffdc00 178px,#ff9c00 180px,#ff9200 181px,#ff9800 182px,#ffac00 183px,#faf705 185px,#92ff6d 187px,#1effe1 189px,#00ebff 190px,#00a8ff 192px,#009bff 193px,#009cff 194px,#00abff 195px,#01effe 197px,#22ffdd 198px,#c8ff37 201px,#f7fb08 202px,#ffb900 204px,#ffa600 205px,#ffa000 206px,#ffa800 207px,#ffdf00 209px,#f2fd0d 210px,#23ffdc 214px,#01f3fe 215px,#00b6ff 217px,#00a8ff 218px)}
.r84{background:linear-gradient(90deg,#80ff80 0px,#80ff7f 80px,#9bff64 84px,#91ff6e 86px,#38ffc7 90px,#2dffd2 91px,#32ffcd 92px,#49ffb6 93px,#a3ff5c 95px,#d7ff28 96px,#faf805 97px,#ffe500 98px,#ffe600 99px,#f8fb07 100px,#c9ff36 101px,#3cffc3 103px,#06f1f9 104px,#00c4ff 105px,#00a9ff 106px,#00acff 107px,#00caff 108px,#0bf7f4 109px,#4dffb2 110px,#e9fb16 112px,#ffcd00 113px,#ff9e00 114px,#ff8800 115px,#ff8d00 116px,#ffae00 117px,#fee301 118px,#d1ff2e 119px,#30ffcf 121px,#02e5fd 122px,#00adff 123px,#0088ff 124px,#007bff 125px,#0087ff 126px,#00aaff 127px,#01e0fe 128px,#27ffd8 129px,#c1ff3e 131px,#faf005 132px,#ffba00 133px,#ff9100 134px,#ff7c00 135px,#ff7d00 136px,#ff9400 137px,#f9f306 139px,#c0ff3f 140px,#2effd1 142px,#02eafd 143px,#00b7ff 144px,#0092ff 145px,#007fff 146px,#0081ff 147px,#0096ff 148px,#03f0fc 150px,#34ffcb 151px,#beff41 153px,#f6f809 154px,#ffa200 156px,#ff8a00 157px,#ff8400 158px,#ff9100 159px,#ffae00 160px,#ffda00 161px,#ebfe14 162px,#2bffd4 165px,#02effd 166px,#00a0ff 168px,#008eff 169px,#008dff 170px,#009cff 171px,#00bbff 172px,#00e7ff 173px,#1effe1 174px,#d5ff2a 177px,#fdf102 178px,#ffa700 180px,#ff9500 181px,#ff9400 182px,#ffa100 183px,#ffe600 185px,#e5ff1a 186px,#37ffc8 189px,#07f9f8 190px,#00b3ff 192px,#009fff 193px,#009aff 194px,#00a3ff 195px,#00baff 196px,#00deff 197px,#0efdf1 198px,#e6ff19 202px,#ffe900 203px,#ffac00 205px,#ffa100 206px,#ffa400 207px,#ffb400 208px,#fcf503 210px,#d7ff28 211px,#09fcf6 215px,#00bfff 217px,#00acff 218px)}
.r85{background:linear-gradient(90deg,#80ff80 0px,#81ff7e 81px,#9aff65 85px,#8fff70 87px,#39ffc6 91px,#30ffcf 92px,#37ffc8 93px,#50ffaf 94px,#aaff55 96px,#dcff23 97px,#fcf803 98px,#ffe800 99px,#ffed00 100px,#f0fe0f 101px,#bbff44 102px,#2fffd0 104px,#03ebfc 105px,#00c0ff 106px,#00abff 107px,#00b3ff 108px,#00d8ff 109px,#17fde8 110px,#b2ff4d 112px,#f4f50b 113px,#ff9800 115px,#ff8900 116px,#ff9600 117px,#ffbd00 118px,#f8f207 119px,#baff45 120px,#1cfde3 122px,#00d4ff 123px,#00a0ff 124px,#0083ff 125px,#007eff 126px,#0091ff 127px,#06f2f9 129px,#42ffbd 130px,#dbfe24 132px,#ffde00 133px,#ffaa00 134px,#ff8800 135px,#ff7b00 136px,#ff8500 137px,#ffa300 138px,#ffd500 139px,#e8fd17 140px,#15fdea 143px,#00d5ff 144px,#00a6ff 145px,#0088ff 146px,#007fff 147px,#0089ff 148px,#00a6ff 149px,#00d4ff 150px,#12fced 151px,#dbff24 154px,#fee601 155px,#ffb700 156px,#ff9600 157px,#ff8600 158px,#ff8800 159px,#ff9d00 160px,#fcf103 162px,#ceff31 163px,#11fdee 166px,#00d8ff 167px,#00b0ff 168px,#0095ff 169px,#008cff 170px,#0093ff 171px,#00aaff 172px,#09f9f6 174px,#7bff84 176px,#f0fd0f 178px,#ffda00 179px,#ffb400 180px,#ff9c00 181px,#ff9300 182px,#ff9a00 183px,#ffaf00 184px,#f7f908 186px,#8cff73 188px,#19ffe6 190px,#00e7ff 191px,#00c0ff 192px,#00a6ff 193px,#009bff 194px,#009dff 195px,#00cdff 197px,#03f4fc 198px,#2affd5 199px,#d1ff2e 202px,#fbf704 203px,#ffb500 205px,#ffa400 206px,#ffa100 207px,#ffac00 208px,#ffe700 210px,#eaff15 211px,#19ffe6 215px,#00ecff 216px,#00b2ff 218px)}
.r86{background:linear-gradient(90deg,#80ff80 0px,#81ff7e 82px,#99ff66 86px,#8dff72 88px,#3affc5 92px,#33ffcc 93px,#3cffc3 94px,#56ffa9 95px,#e0ff1f 98px,#fcf803 99px,#ffeb00 100px,#fef401 101px,#e6ff19 102px,#6aff95 104px,#24fedb 105px,#01e5fe 106px,#00bdff 107px,#00aeff 108px,#00bdff 109px,#01e5fe 110px,#27ffd8 111px,#c4ff3b 113px,#fbec04 114px,#ffb700 115px,#ff9400 116px,#ff8d00 117px,#ffa100 118px,#ffce00 119px,#ebfb14 120px,#51ffae 122px,#0cf7f3 123px,#0096ff 125px,#0080ff 126px,#0083ff 127px,#009fff 128px,#00cfff 129px,#15fcea 130px,#effa10 133px,#ffcb00 134px,#ff9c00 135px,#ff8200 136px,#ff7d00 137px,#ff8f00 138px,#ffb500 139px,#fdea02 140px,#cfff30 141px,#3dffc2 143px,#06f3f9 144px,#0098ff 146px,#0083ff 147px,#0081ff 148px,#0094ff 149px,#00b9ff 150px,#02ebfd 151px,#2cffd3 152px,#b6ff49 154px,#f2fa0d 155px,#ffd000 156px,#ffa600 157px,#ff8d00 158px,#ff8500 159px,#ff9100 160px,#ffad00 161px,#ffd800 162px,#ecfd13 163px,#2effd1 166px,#03f0fc 167px,#00a1ff 169px,#008fff 170px,#008eff 171px,#009dff 172px,#00bcff 173px,#00e8ff 174px,#20ffdf 175px,#d7ff28 178px,#fdf002 179px,#ffa600 181px,#ff9600 182px,#ff9500 183px,#ffa400 184px,#ffea00 186px,#e0ff1f 187px,#31ffce 190px,#05f7fa 191px,#00b1ff 193px,#009eff 194px,#009bff 195px,#00a6ff 196px,#00e4ff 198px,#14feeb 199px,#edfe12 203px,#ffe300 204px,#ffc000 205px,#ffaa00 206px,#ffa100 207px,#ffa600 208px,#ffd800 210px,#f8fa07 211px,#97ff68 213px,#2cffd3 215px,#04f8fb 216px,#00baff 218px)}
.r87{background:linear-gradient(90deg,#80ff80 0px,#7eff81 82px,#97ff68 87px,#8aff75 89px,#3bffc4 93px,#36ffc9 94px,#41ffbe 95px,#5dffa2 96px,#e3ff1c 99px,#fdf802 100px,#ffef00 101px,#fcf903 102px,#dcff23 103px,#5dffa2 105px,#1afde5 106px,#00dfff 107px,#00bbff 108px,#00b3ff 109px,#00c7ff 110px,#05f1fa 111px,#39ffc6 112px,#d5fe2a 114px,#fee101 115px,#ffae00 116px,#ff9300 117px,#ff9200 118px,#ffad00 119px,#fedf01 120px,#d9fe26 121px,#3affc5 123px,#04ecfb 124px,#00b5ff 125px,#008fff 126px,#0081ff 127px,#008bff 128px,#00aeff 129px,#01e3fe 130px,#2bffd4 131px,#c4ff3b 133px,#fbef04 134px,#ffb900 135px,#ff9100 136px,#ff7f00 137px,#ff8300 138px,#ff9c00 139px,#ffc900 140px,#f2f90d 141px,#69ff96 143px,#22ffdd 144px,#00e1ff 145px,#00afff 146px,#008eff 147px,#0081ff 148px,#0088ff 149px,#00a2ff 150px,#00ceff 151px,#0dfaf2 152px,#d3ff2c 155px,#fdec02 156px,#ffbc00 157px,#ff9900 158px,#ff8800 159px,#ff8900 160px,#ff9c00 161px,#fdef02 163px,#d1ff2e 164px,#13fdec 167px,#00dbff 168px,#00b1ff 169px,#0097ff 170px,#008dff 171px,#0094ff 172px,#00abff 173px,#09faf6 175px,#f1fc0e 179px,#ffd900 180px,#ffb400 181px,#ff9c00 182px,#ff9400 183px,#ff9b00 184px,#ffb200 185px,#f4fb0b 187px,#15feea 191px,#00e3ff 192px,#00a5ff 194px,#009bff 195px,#009fff 196px,#00b2ff 197px,#05f8fa 199px,#69ff96 201px,#d9ff26 203px,#fdf302 204px,#ffb200 206px,#ffa300 207px,#ffa300 208px,#ffb000 209px,#feee01 211px,#e1ff1e 212px,#10feef 216px,#00e4ff 217px,#00c4ff 218px)}
.r88{background:linear-gradient(90deg,#80ff80 0px,#82ff7d 84px,#96ff69 88px,#88ff77 90px,#3cffc3 94px,#39ffc6 95px,#46ffb9 96px,#63ff9c 97px,#e6ff19 100px,#fdf902 101px,#fff300 102px,#f8fd07 103px,#d0ff2f 104px,#12fced 107px,#00d9ff 108px,#00bbff 109px,#00b8ff 110px,#00d2ff 111px,#0cf9f3 112px,#4bffb4 113px,#e4fd1b 115px,#ffd600 116px,#ffa800 117px,#ff9300 118px,#ff9a00 119px,#ffbb00 120px,#faef05 121px,#c3ff3c 122px,#25feda 124px,#01ddfe 125px,#00a9ff 126px,#008aff 127px,#0083ff 128px,#0096ff 129px,#08f3f7 131px,#44ffbb 132px,#ddfe22 134px,#ffde00 135px,#ffaa00 136px,#ff8a00 137px,#ff7f00 138px,#ff8b00 139px,#ffac00 140px,#ffdf00 141px,#defe21 142px,#4cffb3 144px,#0dfaf2 145px,#00ccff 146px,#00a1ff 147px,#0087ff 148px,#0082ff 149px,#0091ff 150px,#00b3ff 151px,#01e4fe 152px,#23ffdc 153px,#ecfd13 156px,#ffd700 157px,#ffab00 158px,#ff9000 159px,#ff8700 160px,#ff9000 161px,#ffab00 162px,#ffd600 163px,#effc10 164px,#31ffce 167px,#03f2fc 168px,#00a3ff 170px,#0090ff 171px,#008fff 172px,#009eff 173px,#00bdff 174px,#00e9ff 175px,#21ffde 176px,#d8ff27 179px,#feef01 180px,#ffa600 182px,#ff9600 183px,#ff9600 184px,#ffa600 185px,#feee01 187px,#dcff23 188px,#2dffd2 191px,#03f5fc 192px,#00afff 194px,#009eff 195px,#009cff 196px,#00a9ff 197px,#00e9ff 199px,#1bffe4 200px,#f3fd0c 204px,#ffbd00 206px,#ffa800 207px,#ffa100 208px,#ffa900 209px,#ffde00 211px,#f3fd0c 212px,#23ffdc 216px,#01f3fe 217px,#00d0ff 218px)}
.r89{background:linear-gradient(90deg,#80ff80 0px,#82ff7d 85px,#95ff6a 89px,#86ff79 91px,#3effc1 95px,#3dffc2 96px,#4bffb4 97px,#93ff6c 99px,#e9ff16 101px,#fdfa02 102px,#fff800 103px,#f1ff0e 104px,#c5ff3a 105px,#0cf9f3 108px,#00bcff 110px,#00bfff 111px,#00deff 112px,#17fde8 113px,#f0f90f 116px,#ffcb00 117px,#ffa300 118px,#ff9500 119px,#ffa300 120px,#ffca00 121px,#f1f90e 122px,#adff52 123px,#14fbeb 125px,#00ceff 126px,#009fff 127px,#0087ff 128px,#0088ff 129px,#00a2ff 130px,#00d2ff 131px,#16fce9 132px,#f0fa0f 135px,#ffcb00 136px,#ff9e00 137px,#ff8500 138px,#ff8200 139px,#ff9600 140px,#faf205 142px,#c3ff3c 143px,#31ffce 145px,#03ecfc 146px,#00baff 147px,#0095ff 148px,#0084ff 149px,#0087ff 150px,#009eff 151px,#08f6f7 153px,#40ffbf 154px,#caff35 156px,#fbf204 157px,#ff9e00 159px,#ff8a00 160px,#ff8900 161px,#ff9b00 162px,#ffbd00 163px,#feec01 164px,#d5ff2a 165px,#16fee9 168px,#00deff 169px,#00b4ff 170px,#0098ff 171px,#008eff 172px,#0095ff 173px,#00acff 174px,#0afaf5 176px,#7dff82 178px,#f1fc0e 180px,#ffd900 181px,#ffb300 182px,#ff9c00 183px,#ff9400 184px,#ff9d00 185px,#ffb400 186px,#ffd900 187px,#f2fc0d 188px,#11feee 192px,#00e0ff 193px,#00bbff 194px,#00a4ff 195px,#009bff 196px,#00a1ff 197px,#00d7ff 199px,#09fbf6 200px,#71ff8e 202px,#dfff20 204px,#feef01 205px,#ffaf00 207px,#ffa300 208px,#ffa400 209px,#ffb300 210px,#fdf402 212px,#d8ff27 213px,#0afcf5 217px,#00deff 218px)}
.r90{background:linear-gradient(90deg,#7fff80 0px,#7fff80 85px,#94ff6b 90px,#73ff8c 93px,#40ffbf 96px,#40ffbf 97px,#50ffaf 98px,#99ff66 100px,#ebff14 102px,#fdfc02 103px,#fefc01 104px,#e8ff17 105px,#baff45 106px,#3affc5 108px,#07f6f8 109px,#00d1ff 110px,#00beff 111px,#00c6ff 112px,#01e9fe 113px,#26ffd9 114px,#bdff42 116px,#f8f207 117px,#ffc100 118px,#ff9f00 119px,#ff9800 120px,#ffad00 121px,#ffda00 122px,#e1fe1e 123px,#47ffb8 125px,#08f3f7 126px,#0097ff 128px,#0087ff 129px,#0090ff 130px,#00b1ff 131px,#01e5fe 132px,#2cffd3 133px,#c5ff3a 135px,#fbef04 136px,#ffba00 137px,#ff9400 138px,#ff8300 139px,#ff8800 140px,#ffa400 141px,#ffd200 142px,#ebfc14 143px,#19fee6 146px,#00d9ff 147px,#00aaff 148px,#008dff 149px,#0084ff 150px,#008fff 151px,#00aeff 152px,#00ddff 153px,#1afee5 154px,#e5fe1a 157px,#ffdf00 158px,#ffb100 159px,#ff9400 160px,#ff8800 161px,#ff9000 162px,#ffa900 163px,#ffd200 164px,#f2fb0d 165px,#35ffca 168px,#05f4fa 169px,#00a5ff 171px,#0092ff 172px,#0090ff 173px,#009eff 174px,#00bdff 175px,#00e9ff 176px,#20ffdf 177px,#d8ff27 180px,#feef01 181px,#ffa600 183px,#ff9700 184px,#ff9700 185px,#ffa800 186px,#fdf002 188px,#d8ff27 189px,#29ffd6 192px,#02f3fd 193px,#00adff 195px,#009eff 196px,#009dff 197px,#00abff 198px,#01eefe 200px,#21ffde 201px,#c8ff37 204px,#f7fb08 205px,#ffb900 207px,#ffa700 208px,#ffa200 209px,#ffc200 211px,#ffe500 212px,#ecfe13 213px,#1bffe4 217px,#00edff 218px)}
.r91{background:linear-gradient(90deg,#80ff80 0px,#7fff80 86px,#93ff6c 91px,#82ff7d 93px,#41ffbe 97px,#44ffbb 98px,#55ffaa 99px,#9eff61 101px,#ecff13 103px,#fdfe02 104px,#fbff04 105px,#e0ff1f 106px,#afff50 107px,#30ffcf 109px,#04f2fb 110px,#00cfff 111px,#00c1ff 112px,#00cfff 113px,#04f3fb 114px,#36ffc9 115px,#cdff32 117px,#fcea03 118px,#ffb900 119px,#ff9e00 120px,#ff9e00 121px,#ffb900 122px,#fde902 123px,#ceff31 124px,#32ffcd 126px,#02e8fd 127px,#00b3ff 128px,#0092ff 129px,#0089ff 130px,#0099ff 131px,#08f4f7 133px,#44ffbb 134px,#dcfe23 136px,#fedf01 137px,#ffac00 138px,#ff8d00 139px,#ff8300 140px,#ff9100 141px,#ffb400 142px,#fee701 143px,#d4ff2b 144px,#43ffbc 146px,#08f6f7 147px,#009dff 149px,#0088ff 150px,#0087ff 151px,#009aff 152px,#04f1fb 154px,#35ffca 155px,#bfff40 157px,#f7f708 158px,#ffa300 160px,#ff8d00 161px,#ff8a00 162px,#ff9a00 163px,#ffba00 164px,#fee901 165px,#daff25 166px,#1afee5 169px,#00e1ff 170px,#00b7ff 171px,#009bff 172px,#008fff 173px,#0095ff 174px,#00acff 175px,#09faf6 177px,#f1fc0e 181px,#ffd900 182px,#ffb400 183px,#ff9d00 184px,#ff9500 185px,#ff9e00 186px,#ffb600 187px,#ffdc00 188px,#f0fd0f 189px,#0ffdf0 193px,#00ddff 194px,#00a3ff 196px,#009cff 197px,#00a3ff 198px,#00b9ff 199px,#0cfdf3 201px,#e5ff1a 205px,#ffea00 206px,#ffae00 208px,#ffa300 209px,#ffa600 210px,#ffb700 211px,#faf805 213px,#9bff64 215px,#2fffd0 217px,#06f9f9 218px)}
.r92{background:linear-gradient(90deg,#80ff80 0px,#83ff7c 88px,#92ff6d 92px,#70ff8f 95px,#43ffbc 98px,#47ffb8 99px,#5affa5 100px,#edff12 104px,#fcff03 105px,#f5ff0a 106px,#d6ff29 107px,#66ff99 109px,#27ffd8 110px,#02eefd 111px,#00ceff 112px,#00c5ff 113px,#00d8ff 114px,#0bfaf4 115px,#46ffb9 116px,#dbfe24 118px,#fee001 119px,#ffb300 120px,#ff9e00 121px,#ffa500 122px,#ffc600 123px,#f6f509 124px,#b9ff46 125px,#1ffee0 127px,#00daff 128px,#00a9ff 129px,#008fff 130px,#008dff 131px,#00a5ff 132px,#00d3ff 133px,#16fce9 134px,#eefa11 137px,#ffcd00 138px,#ffa100 139px,#ff8800 140px,#ff8700 141px,#ff9c00 142px,#f6f609 144px,#baff45 145px,#29ffd6 147px,#01e7fe 148px,#00b5ff 149px,#0094ff 150px,#0086ff 151px,#008dff 152px,#00a8ff 153px,#00d4ff 154px,#12fced 155px,#dbff24 158px,#fee701 159px,#ffb800 160px,#ff9800 161px,#ff8a00 162px,#ff8f00 163px,#ffa700 164px,#f5f90a 166px,#3bffc4 169px,#07f7f8 170px,#00a8ff 172px,#0094ff 173px,#0090ff 174px,#009eff 175px,#00bcff 176px,#00e8ff 177px,#1fffe0 178px,#d7ff28 181px,#fdef02 182px,#ffa700 184px,#ff9700 185px,#ff9800 186px,#ffa900 187px,#fdf102 189px,#d6ff29 190px,#26ffd9 193px,#02f1fd 194px,#00acff 196px,#009eff 197px,#009eff 198px,#00aeff 199px,#02f2fd 201px,#26ffd9 202px,#ceff31 205px,#f9f906 206px,#ffb700 208px,#ffa600 209px,#ffa300 210px,#ffae00 211px,#ffeb00 213px,#e5ff1a 214px,#13ffec 218px)}
.r93{background:linear-gradient(90deg,#80ff80 0px,#83ff7c 89px,#90ff6f 93px,#7fff80 95px,#4dffb2 98px,#45ffba 99px,#4bffb4 100px,#5fffa0 101px,#edff12 105px,#f9ff06 106px,#eeff11 107px,#cdff32 108px,#5cffa3 110px,#1fffe0 111px,#01eafe 112px,#00ceff 113px,#00caff 114px,#00e2ff 115px,#16fde9 116px,#e8fc17 119px,#ffd700 120px,#ffaf00 121px,#ffa000 122px,#ffad00 123px,#ffd400 124px,#ebfc14 125px,#10faef 128px,#00ccff 129px,#00a1ff 130px,#008eff 131px,#0094ff 132px,#00b2ff 133px,#01e5fe 134px,#2affd5 135px,#c2ff3d 137px,#faf105 138px,#ff9700 140px,#ff8700 141px,#ff8d00 142px,#ffaa00 143px,#ffd900 144px,#e5fe1a 145px,#13fcec 148px,#00d4ff 149px,#00a7ff 150px,#008dff 151px,#0087ff 152px,#0096ff 153px,#00b8ff 154px,#01e9fe 155px,#29ffd6 156px,#f1fb0e 159px,#ffd200 160px,#ffa900 161px,#ff9100 162px,#ff8b00 163px,#ff9800 164px,#ffb700 165px,#ffe400 166px,#e0ff1f 167px,#1fffe0 170px,#00e6ff 171px,#00baff 172px,#009dff 173px,#0091ff 174px,#0095ff 175px,#00abff 176px,#08f9f7 178px,#7aff85 180px,#f0fd0f 182px,#ffda00 183px,#ffb500 184px,#ff9e00 185px,#ff9600 186px,#ff9f00 187px,#ffb700 188px,#ffdd00 189px,#effd10 190px,#0dfdf2 194px,#00dcff 195px,#00b9ff 196px,#00a3ff 197px,#009dff 198px,#00a5ff 199px,#00bcff 200px,#00e0ff 201px,#10feef 202px,#eaff15 206px,#ffe600 207px,#ffac00 209px,#ffa300 210px,#ffa800 211px,#ffda00 213px,#f6fb09 214px,#28ffd7 218px)}
.r94{background:linear-gradient(90deg,#80ff80 0px,#80ff7f 89px,#8fff70 94px,#6dff92 97px,#4dffb2 99px,#4fffb0 101px,#85ff7a 103px,#d2ff2d 105px,#edff12 106px,#f5ff0a 107px,#e8ff17 108px,#c4ff3b 109px,#18fee7 112px,#00e7ff 113px,#00ceff 114px,#00d0ff 115px,#01ecfe 116px,#22ffdd 117px,#f1f90e 120px,#ffce00 121px,#ffac00 122px,#ffa400 123px,#ffb700 124px,#fee301 125px,#daff25 126px,#41ffbe 128px,#07f2f8 129px,#00c0ff 130px,#009bff 131px,#008fff 132px,#009cff 133px,#00c1ff 134px,#07f3f8 135px,#41ffbe 136px,#d8ff27 138px,#fee201 139px,#ffb000 140px,#ff9100 141px,#ff8800 142px,#ff9600 143px,#ffba00 144px,#fcec03 145px,#cdff32 146px,#3cffc3 148px,#06f3f9 149px,#009cff 151px,#0089ff 152px,#008cff 153px,#00a2ff 154px,#0af8f5 156px,#8aff75 158px,#cfff30 159px,#fcef03 160px,#ff9d00 162px,#ff8d00 163px,#ff8f00 164px,#ffa400 165px,#f8f607 167px,#c4ff3b 168px,#41ffbe 170px,#0afaf5 171px,#00abff 173px,#0096ff 174px,#0091ff 175px,#009eff 176px,#00bbff 177px,#00e6ff 178px,#1dffe2 179px,#d5ff2a 182px,#fdf002 183px,#ffa800 185px,#ff9800 186px,#ff9900 187px,#ffaa00 188px,#fcf203 190px,#d4ff2b 191px,#25ffda 194px,#01f0fe 195px,#00acff 197px,#009eff 198px,#00a0ff 199px,#00b0ff 200px,#03f4fc 202px,#2bffd4 203px,#d3ff2c 206px,#fbf604 207px,#ffb500 209px,#ffa500 210px,#ffa400 211px,#ffb100 212px,#fef001 214px,#dfff20 215px,#3effc1 218px)}
.r95{background:linear-gradient(90deg,#80ff80 0px,#80ff7f 90px,#8eff71 95px,#6cff93 98px,#4effb1 100px,#52ffad 102px,#89ff76 104px,#d4ff2b 106px,#ecff13 107px,#f1ff0e 108px,#e1ff1e 109px,#bbff44 110px,#12fded 113px,#00e4ff 114px,#00d0ff 115px,#00d7ff 116px,#04f4fb 117px,#31ffce 118px,#c0ff3f 120px,#f8f307 121px,#ffc700 122px,#ffaa00 123px,#ffa900 124px,#ffc200 125px,#fbf004 126px,#c7ff38 127px,#2effd1 129px,#02e7fd 130px,#00b5ff 131px,#0097ff 132px,#0092ff 133px,#00a7ff 134px,#00d2ff 135px,#14fceb 136px,#ebfc14 139px,#ffd200 140px,#ffa500 141px,#ff8d00 142px,#ff8c00 143px,#ffa100 144px,#ffcb00 145px,#f2f90d 146px,#23ffdc 149px,#01e3fe 150px,#00b3ff 151px,#0094ff 152px,#0089ff 153px,#0093ff 154px,#00b1ff 155px,#00e0ff 156px,#1efee1 157px,#e7fe18 160px,#ffdc00 161px,#ffb000 162px,#ff9500 163px,#ff8c00 164px,#ff9700 165px,#ffb300 166px,#ffdf00 167px,#e6fe19 168px,#26ffd9 171px,#01ebfe 172px,#00bfff 173px,#00a0ff 174px,#0092ff 175px,#0096ff 176px,#00aaff 177px,#07f8f8 179px,#78ff87 181px,#eefd11 183px,#ffdc00 184px,#ffb600 185px,#ff9f00 186px,#ff9700 187px,#ffa000 188px,#ffb800 189px,#ffde00 190px,#eefe11 191px,#0cfcf3 195px,#00b8ff 197px,#00a3ff 198px,#009dff 199px,#00a7ff 200px,#00beff 201px,#00e3ff 202px,#13feec 203px,#edfe12 207px,#ffe300 208px,#ffab00 210px,#ffa300 211px,#ffaa00 212px,#ffbe00 213px,#ffdf00 214px,#f2fd0d 215px,#55ffaa 218px)}
.r96{background:linear-gradient(90deg,#80ff80 0px,#80ff7f 91px,#8dff72 96px,#4fffb0 101px,#4cffb3 102px,#56ffa9 103px,#8eff71 105px,#d5ff2a 107px,#ebff14 108px,#edff12 109px,#daff25 110px,#b2ff4d 111px,#0dfcf2 114px,#00e2ff 115px,#00d3ff 116px,#00deff 117px,#0afaf5 118px,#3fffc0 119px,#ceff31 121px,#fcec03 122px,#ffc100 123px,#ffaa00 124px,#ffaf00 125px,#f3f90c 127px,#b4ff4b 128px,#1dfee2 130px,#00daff 131px,#00acff 132px,#0095ff 133px,#0098ff 134px,#00b3ff 135px,#01e3fe 136px,#26ffd9 137px,#bcff43 139px,#f7f408 140px,#ff9c00 142px,#ff8b00 143px,#ff9200 144px,#ffaf00 145px,#ffde00 146px,#e0fe1f 147px,#10fbef 150px,#00d0ff 151px,#00a6ff 152px,#008eff 153px,#008bff 154px,#009dff 155px,#05f2fa 157px,#37ffc8 158px,#c1ff3e 160px,#f8f607 161px,#ffa400 163px,#ff9000 164px,#ff8f00 165px,#ffa100 166px,#fbf204 168px,#ccff33 169px,#0ffcf0 172px,#00d7ff 173px,#00b0ff 174px,#0098ff 175px,#0092ff 176px,#009eff 177px,#00baff 178px,#00e4ff 179px,#1bffe4 180px,#d3ff2c 183px,#fcf203 184px,#ffa900 186px,#ff9900 187px,#ff9a00 188px,#ffaa00 189px,#fcf303 191px,#d3ff2c 192px,#24ffdb 195px,#01effe 196px,#00acff 198px,#009fff 199px,#00a1ff 200px,#00b2ff 201px,#04f6fb 203px,#2effd1 204px,#d7ff28 207px,#fcf403 208px,#ffb400 210px,#ffa500 211px,#ffa500 212px,#ffcf00 214px,#fdf402 215px,#d8ff27 216px,#6dff92 218px)}
.r97{background:linear-gradient(90deg,#80ff80 0px,#81ff7e 92px,#8cff73 97px,#50ffaf 102px,#5affa5 104px,#92ff6d 106px,#d6ff29 108px,#e9ff16 109px,#e8ff17 110px,#d2ff2d 111px,#72ff8d 113px,#37ffc8 114px,#09faf6 115px,#00e1ff 116px,#00d6ff 117px,#00e7ff 118px,#13fdec 119px,#95ff6a 121px,#dbfe24 122px,#fee501 123px,#ffbc00 124px,#ffac00 125px,#ffb700 126px,#ffdc00 127px,#e6fd19 128px,#10faef 131px,#00ceff 132px,#00a6ff 133px,#0096ff 134px,#009fff 135px,#00c1ff 136px,#05f1fa 137px,#3cffc3 138px,#d2ff2d 140px,#fde702 141px,#ffb600 142px,#ff9600 143px,#ff8d00 144px,#ff9b00 145px,#ffbe00 146px,#fbf004 147px,#c8ff37 148px,#37ffc8 150px,#04f1fb 151px,#00c0ff 152px,#009cff 153px,#008cff 154px,#0091ff 155px,#00aaff 156px,#00d6ff 157px,#13fcec 158px,#dbff24 161px,#fee701 162px,#ffb900 163px,#ff9a00 164px,#ff8e00 165px,#ff9500 166px,#ffaf00 167px,#ffd900 168px,#edfd12 169px,#2effd1 172px,#03f0fc 173px,#00a4ff 175px,#0094ff 176px,#0096ff 177px,#00a9ff 178px,#06f6f9 180px,#36ffc9 181px,#ecfe13 184px,#ffdf00 185px,#ffb800 186px,#ffa000 187px,#ff9800 188px,#ffa000 189px,#ffde00 191px,#eefe11 192px,#0cfcf3 196px,#00b8ff 198px,#00a4ff 199px,#009eff 200px,#00a8ff 201px,#00c0ff 202px,#00e5ff 203px,#16ffe9 204px,#f0fe0f 208px,#ffe000 209px,#ffaa00 211px,#ffa400 212px,#ffac00 213px,#ffe400 215px,#eefe11 216px,#85ff7a 218px)}
.r98{background:linear-gradient(90deg,#80ff80 0px,#81ff7e 93px,#8bff74 98px,#51ffae 103px,#5dffa2 105px,#96ff69 107px,#d7ff28 109px,#e7ff18 110px,#e3ff1c 111px,#cbff34 112px,#69ff96 114px,#30ffcf 115px,#06f9f9 116px,#00e1ff 117px,#00dbff 118px,#01effe 119px,#1effe1 120px,#e6fd19 123px,#ffdd00 124px,#ffb900 125px,#ffaf00 126px,#ffc000 127px,#fee901 128px,#d6ff29 129px,#41ffbe 131px,#07f3f8 132px,#00c3ff 133px,#00a1ff 134px,#0098ff 135px,#00a8ff 136px,#00d0ff 137px,#10fbef 138px,#e6fd19 141px,#ffd800 142px,#ffab00 143px,#ff9200 144px,#ff9000 145px,#ffa600 146px,#ffcf00 147px,#f0fb0f 148px,#20fedf 151px,#00e1ff 152px,#00b2ff 153px,#0095ff 154px,#008cff 155px,#0099ff 156px,#00baff 157px,#01e9fe 158px,#29ffd6 159px,#f0fb0f 162px,#ffd400 163px,#ffab00 164px,#ff9400 165px,#ff8f00 166px,#ff9e00 167px,#ffbf00 168px,#fded02 169px,#d5ff2a 170px,#15feea 173px,#00ddff 174px,#00b4ff 175px,#009bff 176px,#0093ff 177px,#009dff 178px,#00b8ff 179px,#00e1ff 180px,#17fee8 181px,#cfff30 184px,#fbf404 185px,#ffab00 187px,#ff9b00 188px,#ff9b00 189px,#ffab00 190px,#fcf303 192px,#d4ff2b 193px,#24ffdb 196px,#01effe 197px,#00acff 199px,#009fff 200px,#00a2ff 201px,#00b3ff 202px,#05f8fa 204px,#31ffce 205px,#daff25 208px,#fdf202 209px,#ffb200 211px,#ffa500 212px,#ffa700 213px,#ffb600 214px,#fbf704 216px,#d3ff2c 217px,#9eff61 218px)}
.r99{background:linear-gradient(90deg,#80ff80 0px,#84ff7b 95px,#8aff75 99px,#53ffac 104px,#61ff9e 106px,#d8ff27 110px,#e5ff1a 111px,#deff21 112px,#c3ff3c 113px,#60ff9f 115px,#29ffd6 116px,#04f7fb 117px,#00e1ff 118px,#00e0ff 119px,#03f6fc 120px,#2affd5 121px,#effb10 124px,#ffd600 125px,#ffb800 126px,#ffb300 127px,#ffca00 128px,#f9f306 129px,#c4ff3b 130px,#2fffd0 132px,#02e9fd 133px,#00baff 134px,#009eff 135px,#009cff 136px,#00b3ff 137px,#00e0ff 138px,#21fede 139px,#b5ff4a 141px,#f4f80b 142px,#ffa200 144px,#ff9000 145px,#ff9600 146px,#ffb200 147px,#ffe200 148px,#ddff22 149px,#0efaf1 152px,#00cfff 153px,#00a6ff 154px,#0090ff 155px,#0090ff 156px,#00a4ff 157px,#0af8f5 159px,#88ff77 161px,#cdff32 162px,#fcf003 163px,#ffa000 165px,#ff9000 166px,#ff9400 167px,#ffab00 168px,#f3fb0c 170px,#37ffc8 173px,#05f5fa 174px,#00a8ff 176px,#0096ff 177px,#0096ff 178px,#00a8ff 179px,#04f4fb 181px,#32ffcd 182px,#e9fe16 185px,#ffe200 186px,#ffbb00 187px,#ffa200 188px,#ff9900 189px,#ffa100 190px,#ffb800 191px,#ffde00 192px,#eefe11 193px,#0cfcf3 197px,#00b8ff 199px,#00a4ff 200px,#009fff 201px,#00a9ff 202px,#00e7ff 204px,#18ffe7 205px,#f2fd0d 209px,#ffde00 210px,#ffaa00 212px,#ffa500 213px,#ffae00 214px,#ffe800 216px,#e9ff16 217px,#b6ff49 218px)}
.r100{background:linear-gradient(90deg,#80ff80 0px,#84ff7b 96px,#89ff76 100px,#54ffab 105px,#64ff9b 107px,#d8ff27 111px,#e2ff1d 112px,#d9ff26 113px,#bcff43 114px,#23ffdc 117px,#03f5fc 118px,#00e2ff 119px,#00e6ff 120px,#08fbf7 121px,#37ffc8 122px,#beff41 124px,#f6f709 125px,#ffd000 126px,#ffb700 127px,#ffb900 128px,#ffd500 129px,#f1fa0e 130px,#67ff98 132px,#1ffee0 133px,#00deff 134px,#00b2ff 135px,#009dff 136px,#00a2ff 137px,#00bfff 138px,#04eefb 139px,#35ffca 140px,#caff35 142px,#fcee03 143px,#ffbd00 144px,#ff9c00 145px,#ff9100 146px,#ff9e00 147px,#ffc100 148px,#faf205 149px,#c6ff39 150px,#36ffc9 152px,#04f0fb 153px,#00c0ff 154px,#009dff 155px,#008fff 156px,#0096ff 157px,#00b1ff 158px,#00deff 159px,#1bfee4 160px,#e4fe1b 163px,#ffdf00 164px,#ffb300 165px,#ff9800 166px,#ff9100 167px,#ff9c00 168px,#ffba00 169px,#ffe600 170px,#deff21 171px,#1dffe2 174px,#00e4ff 175px,#00baff 176px,#009fff 177px,#0094ff 178px,#009cff 179px,#00b5ff 180px,#00ddff 181px,#13feec 182px,#caff35 185px,#f9f706 186px,#ffae00 188px,#ff9c00 189px,#ff9b00 190px,#ffab00 191px,#fdf202 193px,#d5ff2a 194px,#24ffdb 197px,#01f0fe 198px,#00c8ff 199px,#00adff 200px,#00a0ff 201px,#00a3ff 202px,#00b4ff 203px,#06f9f9 205px,#6cff93 207px,#dcff23 209px,#fef101 210px,#ffb200 212px,#ffa600 213px,#ffa800 214px,#ffd600 216px,#f9f906 217px,#ceff31 218px)}
.r101{background:linear-gradient(90deg,#80ff80 0px,#84ff7b 97px,#88ff77 101px,#56ffa9 106px,#68ff97 108px,#d7ff28 112px,#dfff20 113px,#d3ff2c 114px,#b4ff4b 115px,#1dffe2 118px,#02f4fd 119px,#00e4ff 120px,#00ecff 121px,#10feef 122px,#44ffbb 123px,#cbff34 125px,#faf205 126px,#ffcc00 127px,#ffb800 128px,#ffc000 129px,#ffe100 130px,#e5fe1a 131px,#12fbed 134px,#00d3ff 135px,#00adff 136px,#009eff 137px,#00aaff 138px,#0cf8f3 140px,#4affb5 141px,#defe21 143px,#fee001 144px,#ffb200 145px,#ff9800 146px,#ff9500 147px,#ffa900 148px,#ffd200 149px,#effb10 150px,#20fedf 153px,#00e1ff 154px,#00b3ff 155px,#0097ff 156px,#0090ff 157px,#009fff 158px,#00c1ff 159px,#03f0fc 160px,#33ffcc 161px,#bdff42 163px,#f5f80a 164px,#ffa700 166px,#ff9400 167px,#ff9400 168px,#ffa700 169px,#f8f707 171px,#c4ff3b 172px,#41ffbe 174px,#0af9f5 175px,#00adff 177px,#0099ff 178px,#0096ff 179px,#00a6ff 180px,#03f1fc 182px,#2cffd3 183px,#e4ff1b 186px,#ffe600 187px,#ffbe00 188px,#ffa400 189px,#ff9a00 190px,#ffa100 191px,#ffb800 192px,#ffdd00 193px,#effd10 194px,#0dfdf2 198px,#00dcff 199px,#00b9ff 200px,#00a5ff 201px,#00a0ff 202px,#00aaff 203px,#00c3ff 204px,#00e9ff 205px,#1affe5 206px,#f3fd0c 210px,#ffbd00 212px,#ffaa00 213px,#ffa500 214px,#ffaf00 215px,#ffeb00 217px,#e5ff1a 218px)}
.r102{background:linear-gradient(90deg,#7fff80 0px,#84ff7b 98px,#87ff78 102px,#57ffa8 107px,#6bff94 109px,#c2ff3d 112px,#d6ff29 113px,#dcff23 114px,#ceff31 115px,#adff52 116px,#18ffe7 119px,#01f3fe 120px,#00e7ff 121px,#01f3fe 122px,#19ffe6 123px,#93ff6c 125px,#d6ff29 126px,#fdec02 127px,#ffc800 128px,#ffba00 129px,#ffc800 130px,#fdec02 131px,#d5ff2a 132px,#44ffbb 134px,#09f6f6 135px,#00c9ff 136px,#00a9ff 137px,#00a1ff 138px,#00b3ff 139px,#00dcff 140px,#1afee5 141px,#edfb12 144px,#ffd200 145px,#ffa900 146px,#ff9600 147px,#ff9a00 148px,#ffb500 149px,#fee301 150px,#dcff23 151px,#0efaf1 154px,#00d0ff 155px,#00a8ff 156px,#0093ff 157px,#0094ff 158px,#00aaff 159px,#00d2ff 160px,#0ffbf0 161px,#d5ff2a 164px,#fdeb02 165px,#ffbd00 166px,#ff9e00 167px,#ff9200 168px,#ff9a00 169px,#ffb400 170px,#ffde00 171px,#e7fe18 172px,#27ffd8 175px,#01ecfe 176px,#00c0ff 177px,#00a3ff 178px,#0096ff 179px,#009cff 180px,#00b2ff 181px,#00d9ff 182px,#0ffcf0 183px,#c4ff3b 186px,#f7f908 187px,#ffb000 189px,#ff9e00 190px,#ff9c00 191px,#ffaa00 192px,#fdf102 194px,#d6ff29 195px,#26ffd9 198px,#02f1fd 199px,#00c9ff 200px,#00aeff 201px,#00a1ff 202px,#00a3ff 203px,#00b5ff 204px,#07f9f8 206px,#6eff91 208px,#ddff22 210px,#fef001 211px,#ffb200 213px,#ffa600 214px,#ffa900 215px,#ffd900 217px,#f7fb08 218px)}
.r103{background:linear-gradient(90deg,#80ff80 0px,#84ff7b 99px,#86ff79 103px,#59ffa6 108px,#6fff90 110px,#c3ff3c 113px,#d5ff2a 114px,#d8ff27 115px,#c8ff37 116px,#76ff89 118px,#14ffeb 120px,#01f3fe 121px,#00ebff 122px,#03f8fc 123px,#24ffdb 124px,#e1fe1e 127px,#fee701 128px,#ffc600 129px,#ffbe00 130px,#ffd000 131px,#f9f506 132px,#c5ff3a 133px,#33ffcc 135px,#03eefc 136px,#00c1ff 137px,#00a6ff 138px,#00a5ff 139px,#00beff 140px,#02eafd 141px,#2cffd3 142px,#bfff40 144px,#f8f407 145px,#ffa200 147px,#ff9600 148px,#ffa200 149px,#ffc300 150px,#faf205 151px,#c6ff39 152px,#36ffc9 154px,#04f1fb 155px,#00c1ff 156px,#00a0ff 157px,#0092ff 158px,#009bff 159px,#00b7ff 160px,#01e5fe 161px,#23ffdc 162px,#ebfd14 165px,#ffda00 166px,#ffb000 167px,#ff9800 168px,#ff9400 169px,#ffa300 170px,#fcf103 172px,#cfff30 173px,#11fdee 176px,#00d9ff 177px,#00b2ff 178px,#009cff 179px,#0097ff 180px,#00a4ff 181px,#00c2ff 182px,#01edfe 183px,#26ffd9 184px,#dfff20 187px,#feea01 188px,#ffc100 189px,#ffa600 190px,#ff9b00 191px,#ffa100 192px,#ffb700 193px,#ffdb00 194px,#f1fd0e 195px,#0ffdf0 199px,#00ddff 200px,#00bbff 201px,#00a6ff 202px,#00a1ff 203px,#00abff 204px,#00e9ff 206px,#1bffe4 207px,#f4fc0b 211px,#ffbc00 213px,#ffaa00 214px,#ffa600 215px,#ffb100 216px,#feee01 218px)}
.r104{background:linear-gradient(90deg,#80ff80 0px,#84ff7b 100px,#85ff7a 104px,#5affa5 109px,#72ff8d 111px,#c4ff3b 114px,#d4ff2b 115px,#d4ff2b 116px,#c2ff3d 117px,#6eff91 119px,#11feee 121px,#00f3ff 122px,#00efff 123px,#07fcf8 124px,#2fffd0 125px,#e9fd16 128px,#ffe100 129px,#ffc500 130px,#ffc200 131px,#ffda00 132px,#f1fb0e 133px,#6bff94 135px,#24ffdb 136px,#01e5fe 137px,#00baff 138px,#00a6ff 139px,#00abff 140px,#08f5f7 142px,#40ffbf 143px,#d3ff2c 145px,#fde902 146px,#ffba00 147px,#ff9e00 148px,#ff9900 149px,#ffab00 150px,#ffd300 151px,#effb10 152px,#21fede 155px,#00e2ff 156px,#00b5ff 157px,#009aff 158px,#0094ff 159px,#00a4ff 160px,#06f5f9 162px,#3bffc4 163px,#c4ff3b 165px,#f9f506 166px,#ffa600 168px,#ff9500 169px,#ff9800 170px,#ffaf00 171px,#ffd600 172px,#f0fc0f 173px,#32ffcd 176px,#04f3fb 177px,#00a7ff 179px,#0098ff 180px,#009bff 181px,#00b0ff 182px,#0bfaf4 184px,#f3fb0c 188px,#ffb400 190px,#ffa000 191px,#ff9c00 192px,#ffaa00 193px,#feef01 195px,#d9ff26 196px,#29ffd6 199px,#02f2fd 200px,#00afff 202px,#00a2ff 203px,#00a4ff 204px,#00b6ff 205px,#07faf8 207px,#6eff91 209px,#deff21 211px,#feef01 212px,#ffb100 214px,#ffa700 215px,#ffaa00 216px,#ffbc00 217px,#ffdc00 218px)}
.r105{background:linear-gradient(90deg,#80ff80 0px,#84ff7b 101px,#84ff7b 105px,#5cffa3 110px,#75ff8a 112px,#c4ff3b 115px,#d3ff2c 116px,#d1ff2e 117px,#bcff43 118px,#67ff98 120px,#0efef1 122px,#00f4ff 123px,#00f4ff 124px,#0dfef2 125px,#3affc5 126px,#f1fb0e 129px,#ffdc00 130px,#ffc500 131px,#ffc800 132px,#ffe500 133px,#e5fe1a 134px,#17fde8 137px,#00dbff 138px,#00b5ff 139px,#00a7ff 140px,#00b3ff 141px,#00d7ff 142px,#13fcec 143px,#e4fe1b 146px,#ffdc00 147px,#ffb100 148px,#ff9c00 149px,#ff9e00 150px,#ffb700 151px,#fee301 152px,#ddff22 153px,#10fbef 156px,#00d3ff 157px,#00abff 158px,#0097ff 159px,#0098ff 160px,#00afff 161px,#00d8ff 162px,#14fdeb 163px,#dcff23 166px,#fee701 167px,#ffba00 168px,#ff9e00 169px,#ff9500 170px,#ffa000 171px,#ffbd00 172px,#fee901 173px,#dbff24 174px,#1afee5 177px,#00e2ff 178px,#00b9ff 179px,#00a0ff 180px,#0098ff 181px,#00a2ff 182px,#00beff 183px,#00e8ff 184px,#1fffe0 185px,#d8ff27 188px,#fdef02 189px,#ffa900 191px,#ff9d00 192px,#ffa100 193px,#ffb600 194px,#f3fc0c 196px,#11feee 200px,#00dfff 201px,#00bcff 202px,#00a7ff 203px,#00a1ff 204px,#00abff 205px,#00c4ff 206px,#00eaff 207px,#1bffe4 208px,#c4ff3b 211px,#f4fc0b 212px,#ffbc00 214px,#ffaa00 215px,#ffa700 216px,#ffb200 217px,#ffcb00 218px)}
.r106{background:linear-gradient(90deg,#80ff80 0px,#84ff7b 102px,#83ff7c 106px,#5fffa0 110px,#66ff99 112px,#c5ff3a 116px,#d1ff2e 117px,#ccff33 118px,#b6ff49 119px,#61ff9e 121px,#0cfef3 123px,#00f6ff 124px,#01f8fe 125px,#15ffea 126px,#45ffba 127px,#c3ff3c 129px,#f6f909 130px,#ffd800 131px,#ffc600 132px,#ffcf00 133px,#fdee02 134px,#d7ff28 135px,#0df9f2 138px,#00d2ff 139px,#00b1ff 140px,#00aaff 141px,#00bcff 142px,#01e5fe 143px,#22ffdd 144px,#f1fa0e 147px,#ffcf00 148px,#ffaa00 149px,#ff9b00 150px,#ffa400 151px,#ffc400 152px,#faf205 153px,#c8ff37 154px,#39ffc6 156px,#05f3fa 157px,#00c4ff 158px,#00a3ff 159px,#0096ff 160px,#009fff 161px,#00bcff 162px,#01eafe 163px,#29ffd6 164px,#effc10 167px,#ffd600 168px,#ffae00 169px,#ff9900 170px,#ff9800 171px,#ffaa00 172px,#f7f808 174px,#c2ff3d 175px,#3fffc0 177px,#09f9f6 178px,#00adff 180px,#009bff 181px,#009bff 182px,#00adff 183px,#07f8f8 185px,#77ff88 187px,#eefd11 189px,#ffdc00 190px,#ffb800 191px,#ffa200 192px,#ff9d00 193px,#ffa900 194px,#feed01 196px,#ddff22 197px,#2cffd3 200px,#03f4fc 201px,#00b1ff 203px,#00a3ff 204px,#00a5ff 205px,#00b6ff 206px,#07f9f8 208px,#6eff91 210px,#deff21 212px,#feef01 213px,#ffb200 215px,#ffa700 216px,#ffab00 217px,#ffbe00 218px)}
.r107{background:linear-gradient(90deg,#80ff80 0px,#84ff7b 103px,#83ff7c 107px,#60ff9f 111px,#69ff96 113px,#c5ff3a 117px,#cfff30 118px,#c8ff37 119px,#b0ff4f 120px,#2cffd3 123px,#0afef5 124px,#00f8ff 125px,#03fcfc 126px,#1effe1 127px,#8eff71 129px,#cdff32 130px,#faf505 131px,#ffd600 132px,#ffc900 133px,#ffd600 134px,#f9f606 135px,#c8ff37 136px,#3bffc4 138px,#06f4f9 139px,#00caff 140px,#00b0ff 141px,#00aeff 142px,#00c6ff 143px,#04f1fb 144px,#35ffca 145px,#c5ff3a 147px,#faf205 148px,#ffc400 149px,#ffa500 150px,#ff9d00 151px,#ffad00 152px,#ffd200 153px,#f0fb0f 154px,#24ffdb 157px,#01e5fe 158px,#00b8ff 159px,#009dff 160px,#0098ff 161px,#00a8ff 162px,#09f7f6 164px,#40ffbf 165px,#c9ff36 167px,#faf305 168px,#ffa500 170px,#ff9700 171px,#ff9d00 172px,#ffb600 173px,#ffe000 174px,#e6fe19 175px,#26ffd9 178px,#01ecfe 179px,#00c1ff 180px,#00a4ff 181px,#0099ff 182px,#00a1ff 183px,#00baff 184px,#00e2ff 185px,#18fee7 186px,#d0ff2f 189px,#fbf404 190px,#ffad00 192px,#ff9e00 193px,#ffa100 194px,#ffb400 195px,#f5fb0a 197px,#14feeb 201px,#00e2ff 202px,#00beff 203px,#00a8ff 204px,#00a2ff 205px,#00acff 206px,#00c4ff 207px,#00e9ff 208px,#1bffe4 209px,#f4fc0b 213px,#ffbd00 215px,#ffab00 216px,#ffa800 217px,#ffb300 218px)}
.r108{background:linear-gradient(90deg,#80ff80 0px,#84ff7b 104px,#82ff7d 108px,#61ff9e 112px,#6bff94 114px,#c4ff3b 118px,#ccff33 119px,#c4ff3b 120px,#aaff55 121px,#28ffd7 124px,#09fef6 125px,#00faff 126px,#07fef8 127px,#27ffd8 128px,#99ff66 130px,#d7ff28 131px,#fcf103 132px,#ffd400 133px,#ffcc00 134px,#ffdf00 135px,#f2fc0d 136px,#b9ff46 137px,#2dffd2 139px,#02ecfd 140px,#00c4ff 141px,#00afff 142px,#00b4ff 143px,#0cf9f3 145px,#90ff6f 147px,#d7ff28 148px,#fee701 149px,#ffbb00 150px,#ffa200 151px,#ffa100 152px,#ffb700 153px,#ffe200 154px,#e0fe1f 155px,#13fcec 158px,#00d7ff 159px,#00afff 160px,#009bff 161px,#009cff 162px,#00b3ff 163px,#00ddff 164px,#18fee7 165px,#e0ff1f 168px,#ffe400 169px,#ffb900 170px,#ff9f00 171px,#ff9800 172px,#ffa500 173px,#fcf103 175px,#cfff30 176px,#11fdee 179px,#00daff 180px,#00b4ff 181px,#009eff 182px,#009bff 183px,#00aaff 184px,#04f3fb 186px,#30ffcf 187px,#e8fe17 190px,#ffe300 191px,#ffbc00 192px,#ffa500 193px,#ff9e00 194px,#ffa800 195px,#ffc200 196px,#ffea00 197px,#e1ff1e 198px,#30ffcf 201px,#04f6fb 202px,#00b3ff 204px,#00a4ff 205px,#00a5ff 206px,#00b6ff 207px,#07f9f8 209px,#6dff92 211px,#deff21 213px,#fef001 214px,#ffb200 216px,#ffa800 217px,#ffac00 218px)}
.r109{background:linear-gradient(90deg,#80ff80 0px,#84ff7b 105px,#81ff7e 109px,#62ff9d 113px,#6dff92 115px,#c4ff3b 119px,#caff35 120px,#bfff40 121px,#a4ff5b 122px,#25ffda 125px,#08fff7 126px,#00fdff 127px,#0cfff3 128px,#31ffce 129px,#dfff20 132px,#feed01 133px,#ffd300 134px,#ffd100 135px,#ffe800 136px,#e7fe18 137px,#1ffee0 140px,#01e4fe 141px,#00bfff 142px,#00b0ff 143px,#00bbff 144px,#00dfff 145px,#18fee7 146px,#e7fd18 149px,#ffdb00 150px,#ffb300 151px,#ffa100 152px,#ffa700 153px,#ffc400 154px,#fbf004 155px,#ccff33 156px,#3effc1 158px,#07f5f8 159px,#00a7ff 161px,#009aff 162px,#00a3ff 163px,#00c0ff 164px,#02edfd 165px,#2dffd2 166px,#f1fb0e 169px,#ffd400 170px,#ffae00 171px,#ff9b00 172px,#ff9c00 173px,#ffb000 174px,#ffd600 175px,#f1fc0e 176px,#33ffcc 179px,#04f4fb 180px,#00aaff 182px,#009bff 183px,#00a0ff 184px,#00b6ff 185px,#00dbff 186px,#11fdee 187px,#c7ff38 190px,#f8f807 191px,#ffb100 193px,#ffa000 194px,#ffa100 195px,#ffb200 196px,#f7f908 198px,#8bff74 200px,#17ffe8 202px,#00e6ff 203px,#00c1ff 204px,#00aaff 205px,#00a3ff 206px,#00acff 207px,#00c3ff 208px,#00e8ff 209px,#19ffe6 210px,#f3fc0c 214px,#ffbd00 216px,#ffac00 217px,#ffa800 218px)}
.r110{background:linear-gradient(90deg,#80ff80 0px,#84ff7b 106px,#81ff7e 110px,#63ff9c 114px,#70ff8f 116px,#c3ff3c 120px,#c7ff38 121px,#bbff44 122px,#76ff89 124px,#22ffdd 126px,#08fff7 127px,#02fffd 128px,#13ffec 129px,#3affc5 130px,#e7fe18 133px,#ffea00 134px,#ffd300 135px,#ffd600 136px,#fdf002 137px,#dbff24 138px,#14fdeb 141px,#00dcff 142px,#00bbff 143px,#00b3ff 144px,#00c4ff 145px,#02ebfd 146px,#28ffd7 147px,#b6ff49 149px,#f3f90c 150px,#ffae00 152px,#ffa200 153px,#ffae00 154px,#f3fa0c 156px,#2affd5 159px,#02eafd 160px,#00bdff 161px,#00a2ff 162px,#009cff 163px,#00abff 164px,#0bf9f4 166px,#89ff76 168px,#ccff33 169px,#fbf104 170px,#ffc500 171px,#ffa600 172px,#ff9a00 173px,#ffa200 174px,#ffbd00 175px,#fee801 176px,#ddff22 177px,#1cffe3 180px,#00e5ff 181px,#00bcff 182px,#00a3ff 183px,#009cff 184px,#00a7ff 185px,#00c4ff 186px,#02eefd 187px,#27ffd8 188px,#e0ff1f 191px,#fee901 192px,#ffc200 193px,#ffa800 194px,#ff9f00 195px,#ffa700 196px,#ffc000 197px,#ffe600 198px,#e5ff1a 199px,#35ffca 202px,#07f8f8 203px,#00b5ff 205px,#00a5ff 206px,#00a6ff 207px,#00b5ff 208px,#06f8f9 210px,#6cff93 212px,#dcff23 214px,#fef101 215px,#ffb300 217px,#ffa900 218px)}
.r111{background:linear-gradient(90deg,#80ff80 0px,#84ff7b 107px,#80ff7f 111px,#64ff9b 115px,#72ff8d 117px,#c2ff3d 121px,#c4ff3b 122px,#b6ff49 123px,#70ff8f 125px,#1fffe0 127px,#08fff7 128px,#06fff9 129px,#1bffe4 130px,#44ffbb 131px,#edfd12 134px,#ffe700 135px,#ffd500 136px,#ffdc00 137px,#faf705 138px,#cdff32 139px,#46ffb9 141px,#0cf9f3 142px,#00b9ff 144px,#00b7ff 145px,#00ceff 146px,#06f5f9 147px,#3affc5 148px,#c8ff37 150px,#faf205 151px,#ffc600 152px,#ffaa00 153px,#ffa500 154px,#ffb800 155px,#ffe000 156px,#e4fe1b 157px,#18fde7 160px,#00dcff 161px,#00b3ff 162px,#009fff 163px,#00a0ff 164px,#00b6ff 165px,#00e0ff 166px,#1afee5 167px,#e2fe1d 170px,#ffe300 171px,#ffb900 172px,#ffa000 173px,#ff9b00 174px,#ffab00 175px,#f8f607 177px,#c5ff3a 178px,#42ffbd 180px,#0bfaf4 181px,#00b0ff 183px,#009eff 184px,#009fff 185px,#00b1ff 186px,#0bfaf4 188px,#7fff80 190px,#f3fb0c 192px,#ffb500 194px,#ffa300 195px,#ffa100 196px,#ffb000 197px,#faf705 199px,#cdff32 200px,#1cffe3 203px,#00eaff 204px,#00c4ff 205px,#00acff 206px,#00a4ff 207px,#00acff 208px,#00c2ff 209px,#00e7ff 210px,#18ffe7 211px,#f2fd0d 215px,#ffde00 216px,#ffac00 218px)}
.r112{background:linear-gradient(90deg,#80ff80 0px,#84ff7b 108px,#7fff80 112px,#65ff9a 116px,#74ff8b 118px,#b4ff4b 121px,#c1ff3e 122px,#c1ff3e 123px,#b1ff4e 124px,#6bff94 126px,#1dffe2 128px,#09fff6 129px,#0afff5 130px,#22ffdd 131px,#86ff79 133px,#f3fc0c 135px,#ffd700 137px,#ffe300 138px,#f3fc0c 139px,#bfff40 140px,#38ffc7 142px,#06f5f9 143px,#00cfff 144px,#00b9ff 145px,#00bcff 146px,#00d9ff 147px,#0ffbf0 148px,#93ff6c 150px,#d8ff27 151px,#fee801 152px,#ffbe00 153px,#ffa800 154px,#ffaa00 155px,#ffc300 156px,#fdee02 157px,#d1ff2e 158px,#45ffba 160px,#0bf8f4 161px,#00acff 163px,#009eff 164px,#00a6ff 165px,#00c3ff 166px,#03effc 167px,#2fffd0 168px,#b7ff48 170px,#f2fb0d 171px,#ffd300 172px,#ffaf00 173px,#ff9d00 174px,#ffa000 175px,#ffb600 176px,#ffdd00 177px,#eafe15 178px,#2bffd4 181px,#02effd 182px,#00c5ff 183px,#00a8ff 184px,#009dff 185px,#00a5ff 186px,#00beff 187px,#00e7ff 188px,#1effe1 189px,#d6ff29 192px,#fdf002 193px,#ffac00 195px,#ffa000 196px,#ffa600 197px,#ffbd00 198px,#ffe200 199px,#eafe15 200px,#3bffc4 203px,#09fbf6 204px,#00b8ff 206px,#00a7ff 207px,#00a6ff 208px,#00b5ff 209px,#05f7fa 211px,#30ffcf 212px,#daff25 215px,#fdf202 216px,#ffb400 218px)}
.r113{background:linear-gradient(90deg,#80ff80 0px,#85ff7a 110px,#77ff88 114px,#66ff99 117px,#77ff88 119px,#b4ff4b 122px,#c0ff3f 123px,#beff41 124px,#adff52 125px,#1bffe4 129px,#0bfff4 130px,#0ffff0 131px,#2affd5 132px,#90ff6f 134px,#caff35 135px,#f7fa08 136px,#ffe300 137px,#ffda00 138px,#ffeb00 139px,#eafe15 140px,#6eff91 142px,#2bffd4 143px,#03eefc 144px,#00caff 145px,#00baff 146px,#00c3ff 147px,#00e4ff 148px,#1cfee3 149px,#e7fd18 152px,#ffdd00 153px,#ffb700 154px,#ffa800 155px,#ffb000 156px,#f6f809 158px,#bdff42 159px,#31ffce 161px,#03effc 162px,#00c3ff 163px,#00a7ff 164px,#009fff 165px,#00aeff 166px,#0cfaf3 168px,#8aff75 170px,#cdff32 171px,#fbf104 172px,#ffa700 174px,#ff9d00 175px,#ffa600 176px,#ffc300 177px,#fdee02 178px,#d5ff2a 179px,#16fee9 182px,#00dfff 183px,#00b8ff 184px,#00a2ff 185px,#009fff 186px,#00aeff 187px,#06f6f9 189px,#36ffc9 190px,#ecfe13 193px,#ffdf00 194px,#ffbb00 195px,#ffa500 196px,#ffa100 197px,#ffae00 198px,#fcf303 200px,#d3ff2c 201px,#22ffdd 204px,#01eefe 205px,#00c8ff 206px,#00afff 207px,#00a5ff 208px,#00abff 209px,#00c1ff 210px,#00e5ff 211px,#15feea 212px,#f0fd0f 216px,#ffe000 217px,#ffc000 218px)}
.r114{background:linear-gradient(90deg,#80ff80 0px,#83ff7c 113px,#67ff98 118px,#79ff86 120px,#b4ff4b 123px,#beff41 124px,#bbff44 125px,#a8ff57 126px,#1affe5 130px,#0dfff2 131px,#15ffea 132px,#32ffcd 133px,#99ff66 135px,#d2ff2d 136px,#faf805 137px,#ffe200 138px,#ffde00 139px,#fef201 140px,#dfff20 141px,#1ffee0 144px,#01e8fe 145px,#00c6ff 146px,#00bcff 147px,#00cbff 148px,#02effd 149px,#2bffd4 150px,#b6ff49 152px,#f2fa0d 153px,#ffd300 154px,#ffb300 155px,#ffa900 156px,#ffb800 157px,#ffdd00 158px,#e9fd16 159px,#1ffee0 162px,#00e3ff 163px,#00b9ff 164px,#00a3ff 165px,#00a3ff 166px,#00b9ff 167px,#00e1ff 168px,#1bfee4 169px,#e2fe1d 172px,#ffe300 173px,#ffba00 174px,#ffa200 175px,#ff9f00 176px,#ffaf00 177px,#f4fa0b 179px,#7bff84 181px,#3affc5 182px,#07f7f8 183px,#00aeff 185px,#009fff 186px,#00a3ff 187px,#00b9ff 188px,#00dfff 189px,#14feeb 190px,#cbff34 193px,#faf605 194px,#ffb000 196px,#ffa200 197px,#ffa500 198px,#ffba00 199px,#ffdd00 200px,#effd10 201px,#0dfcf2 205px,#00dcff 206px,#00bbff 207px,#00a9ff 208px,#00a6ff 209px,#00b4ff 210px,#04f6fb 212px,#2dffd2 213px,#d7ff28 216px,#fdf402 217px,#ffd000 218px)}
.r115{background:linear-gradient(90deg,#80ff80 0px,#82ff7d 114px,#68ff97 119px,#7bff84 121px,#b4ff4b 124px,#bdff42 125px,#b8ff47 126px,#a4ff5b 127px,#36ffc9 130px,#1affe5 131px,#0ffff0 132px,#1affe5 133px,#3affc5 134px,#d9ff26 137px,#fcf603 138px,#ffe200 139px,#ffe300 140px,#fbf804 141px,#d3ff2c 142px,#16fde9 145px,#00e1ff 146px,#00c4ff 147px,#00bfff 148px,#00d4ff 149px,#07f7f8 150px,#3cffc3 151px,#c7ff38 153px,#f9f306 154px,#ffca00 155px,#ffb000 156px,#ffad00 157px,#ffc200 158px,#feea01 159px,#d8ff27 160px,#10fbef 163px,#00d6ff 164px,#00b2ff 165px,#00a2ff 166px,#00a9ff 167px,#00c5ff 168px,#03f0fc 169px,#30ffcf 170px,#f2fb0d 173px,#ffd400 174px,#ffb100 175px,#ffa000 176px,#ffa300 177px,#ffbb00 178px,#ffe300 179px,#e4fe1b 180px,#24ffdb 183px,#01ebfe 184px,#00c1ff 185px,#00a7ff 186px,#009fff 187px,#00aaff 188px,#02f0fd 190px,#2affd5 191px,#e2ff1d 194px,#ffe800 195px,#ffc100 196px,#ffa900 197px,#ffa200 198px,#ffad00 199px,#ffc700 200px,#feef01 201px,#daff25 202px,#29ffd6 205px,#02f2fd 206px,#00b1ff 208px,#00a6ff 209px,#00abff 210px,#00c0ff 211px,#00e2ff 212px,#12feed 213px,#eefe11 217px,#ffe300 218px)}
.r116{background:linear-gradient(90deg,#80ff80 0px,#82ff7d 115px,#69ff96 120px,#8fff70 123px,#b4ff4b 125px,#bbff44 126px,#b4ff4b 127px,#7eff81 129px,#33ffcc 131px,#1affe5 132px,#12ffed 133px,#20ffdf 134px,#42ffbd 135px,#e0ff1f 138px,#fdf402 139px,#ffe300 140px,#ffe800 141px,#f5fc0a 142px,#c7ff38 143px,#0dfbf2 146px,#00dbff 147px,#00c3ff 148px,#00c4ff 149px,#00deff 150px,#10fcef 151px,#d6ff29 154px,#fdeb02 155px,#ffc300 156px,#ffae00 157px,#ffb200 158px,#ffcc00 159px,#f9f506 160px,#c5ff3a 161px,#3affc5 163px,#06f5f9 164px,#00caff 165px,#00acff 166px,#00a3ff 167px,#00b1ff 168px,#0cfaf3 170px,#89ff76 172px,#ccff33 173px,#fbf204 174px,#ffc700 175px,#ffaa00 176px,#ffa000 177px,#ffaa00 178px,#fbf204 180px,#ceff31 181px,#11fdee 184px,#00dbff 185px,#00b6ff 186px,#00a3ff 187px,#00a2ff 188px,#00b4ff 189px,#0cfbf3 191px,#f4fb0b 195px,#ffb600 197px,#ffa500 198px,#ffa500 199px,#ffb700 200px,#f4fb0b 202px,#13feec 206px,#00e2ff 207px,#00bfff 208px,#00abff 209px,#00a7ff 210px,#00b3ff 211px,#03f4fc 213px,#29ffd6 214px,#d3ff2c 217px,#fbf604 218px)}
.r117{background:linear-gradient(90deg,#80ff80 0px,#82ff7d 116px,#6bff94 121px,#7fff80 123px,#b4ff4b 126px,#b9ff46 127px,#b1ff4e 128px,#79ff86 130px,#31ffce 132px,#1affe5 133px,#15ffea 134px,#26ffd9 135px,#4affb5 136px,#e6ff19 139px,#fef301 140px,#ffe500 141px,#ffee00 142px,#eefe11 143px,#7bff84 145px,#39ffc6 146px,#08f8f7 147px,#00d6ff 148px,#00c3ff 149px,#00caff 150px,#00e8ff 151px,#1dffe2 152px,#e4fe1b 155px,#ffe100 156px,#ffbd00 157px,#ffaf00 158px,#ffb800 159px,#ffd900 160px,#effc10 161px,#28ffd7 164px,#02ebfd 165px,#00c0ff 166px,#00a9ff 167px,#00a6ff 168px,#00baff 169px,#00e2ff 170px,#1bfee4 171px,#e0ff1f 174px,#ffe500 175px,#ffbc00 176px,#ffa500 177px,#ffa200 178px,#ffb400 179px,#ffd700 180px,#f1fc0e 181px,#35ffca 184px,#05f5fa 185px,#00aeff 187px,#00a1ff 188px,#00a8ff 189px,#00c0ff 190px,#00e8ff 191px,#1fffe0 192px,#d7ff28 195px,#fdf002 196px,#ffc800 197px,#ffad00 198px,#ffa300 199px,#ffab00 200px,#ffc300 201px,#ffea00 202px,#e1ff1e 203px,#30ffcf 206px,#05f6fa 207px,#00b5ff 209px,#00a7ff 210px,#00abff 211px,#00beff 212px,#00dfff 213px,#0ffdf0 214px,#eafe15 218px)}
.r118{background:linear-gradient(90deg,#80ff80 0px,#81ff7e 117px,#6cff93 122px,#80ff7f 124px,#b3ff4c 127px,#b7ff48 128px,#adff52 129px,#74ff8b 131px,#2fffd0 133px,#1bffe4 134px,#19ffe6 135px,#2cffd3 136px,#52ffad 137px,#ebff14 140px,#fff200 141px,#ffe700 142px,#fef401 143px,#e4ff1b 144px,#6eff91 146px,#2effd1 147px,#04f3fb 148px,#00d2ff 149px,#00c5ff 150px,#00d1ff 151px,#03f1fc 152px,#2bffd4 153px,#effb10 156px,#ffd800 157px,#ffb900 158px,#ffb100 159px,#ffc000 160px,#fee601 161px,#e0ff1f 162px,#18fee7 165px,#00dfff 166px,#00b9ff 167px,#00a7ff 168px,#00acff 169px,#00c6ff 170px,#03f0fc 171px,#2effd1 172px,#f0fb0f 175px,#ffd700 176px,#ffb300 177px,#ffa300 178px,#ffa700 179px,#ffbf00 180px,#fee801 181px,#dfff20 182px,#1fffe0 185px,#01e8fe 186px,#00bfff 187px,#00a8ff 188px,#00a2ff 189px,#00b0ff 190px,#06f7f9 192px,#36ffc9 193px,#ecfe13 196px,#ffe000 197px,#ffbc00 198px,#ffa800 199px,#ffa500 200px,#ffb400 201px,#f8f807 203px,#8eff71 205px,#19ffe6 207px,#00e8ff 208px,#00c3ff 209px,#00adff 210px,#00a7ff 211px,#00b2ff 212px,#02f1fd 214px,#25ffda 215px,#cfff30 218px)}
.r119{background:linear-gradient(90deg,#80ff80 0px,#81ff7e 118px,#6dff92 123px,#94ff6b 126px,#b2ff4d 128px,#b5ff4a 129px,#aaff55 130px,#70ff8f 132px,#2dffd2 134px,#1cffe3 135px,#1dffe2 136px,#33ffcc 137px,#8eff71 139px,#effe10 141px,#fff100 142px,#ffea00 143px,#fcf903 144px,#daff25 145px,#23ffdc 148px,#02eefd 149px,#00d0ff 150px,#00c8ff 151px,#00d9ff 152px,#08f9f7 153px,#3bffc4 154px,#c3ff3c 156px,#f7f708 157px,#ffd000 158px,#ffb600 159px,#ffb400 160px,#ffca00 161px,#fcf103 162px,#cfff30 163px,#46ffb9 165px,#0cfaf3 166px,#00b2ff 168px,#00a7ff 169px,#00b3ff 170px,#0bf9f4 172px,#87ff78 174px,#caff35 175px,#faf405 176px,#ffca00 177px,#ffad00 178px,#ffa300 179px,#ffae00 180px,#faf505 182px,#c9ff36 183px,#0efcf1 186px,#00d8ff 187px,#00b5ff 188px,#00a4ff 189px,#00a6ff 190px,#00baff 191px,#00dfff 192px,#14feeb 193px,#caff35 196px,#f9f706 197px,#ffb200 199px,#ffa500 200px,#ffaa00 201px,#ffbf00 202px,#ffe400 203px,#e9fe16 204px,#39ffc6 207px,#08faf7 208px,#00b8ff 210px,#00a9ff 211px,#00aaff 212px,#00bcff 213px,#0cfcf3 215px,#b1ff4e 218px)}
.r120{background:linear-gradient(90deg,#80ff80 0px,#80ff7f 119px,#6eff91 124px,#b1ff4e 129px,#b2ff4d 130px,#a6ff59 131px,#2cffd3 135px,#1dffe2 136px,#21ffde 137px,#3affc5 138px,#96ff69 140px,#f3fe0c 142px,#ffee00 144px,#f7fd08 145px,#cfff30 146px,#1afee5 149px,#00e9ff 150px,#00ceff 151px,#00cbff 152px,#00e2ff 153px,#11fdee 154px,#8eff71 156px,#d2ff2d 157px,#fcf003 158px,#ffc900 159px,#ffb500 160px,#ffb900 161px,#f4f90b 163px,#bdff42 164px,#34ffcb 166px,#04f2fb 167px,#00c9ff 168px,#00aeff 169px,#00aaff 170px,#00bbff 171px,#00e1ff 172px,#19fee6 173px,#ddff22 176px,#fee801 177px,#ffbf00 178px,#ffa800 179px,#ffa600 180px,#ffb700 181px,#ffdb00 182px,#edfd12 183px,#31ffce 186px,#04f3fb 187px,#00caff 188px,#00aeff 189px,#00a3ff 190px,#00acff 191px,#00c7ff 192px,#02effd 193px,#29ffd6 194px,#e1ff1e 197px,#fee901 198px,#ffc300 199px,#ffab00 200px,#ffa500 201px,#ffb100 202px,#fcf403 204px,#d2ff2d 205px,#21ffde 208px,#01eefe 209px,#00c8ff 210px,#00b0ff 211px,#00a8ff 212px,#00b1ff 213px,#00c9ff 214px,#01eefe 215px,#20ffdf 216px,#91ff6e 218px)}
.r121{background:linear-gradient(90deg,#80ff80 0px,#80ff7f 120px,#6fff90 125px,#b0ff4f 130px,#b0ff4f 131px,#a3ff5c 132px,#2bffd4 136px,#1fffe0 137px,#26ffd9 138px,#40ffbf 139px,#d0ff2f 142px,#f6fd09 143px,#fff100 144px,#fff300 145px,#f1fe0e 146px,#c4ff3b 147px,#12fded 150px,#00e4ff 151px,#00ceff 152px,#00d0ff 153px,#01ebfe 154px,#1cffe3 155px,#dfff20 158px,#fee801 159px,#ffc400 160px,#ffb600 161px,#ffc000 162px,#ffe100 163px,#e9fe16 164px,#23ffdc 167px,#01e8fe 168px,#00c0ff 169px,#00acff 170px,#00aeff 171px,#00c6ff 172px,#02eefd 173px,#2bffd4 174px,#edfd12 177px,#ffdb00 178px,#ffb700 179px,#ffa600 180px,#ffaa00 181px,#ffc200 182px,#feeb01 183px,#dbff24 184px,#1cffe3 187px,#00e6ff 188px,#00bfff 189px,#00a9ff 190px,#00a5ff 191px,#00b5ff 192px,#0bfbf4 194px,#7eff81 196px,#f2fc0d 198px,#ffd900 199px,#ffb800 200px,#ffa800 201px,#ffa900 202px,#ffbb00 203px,#ffdd00 204px,#f0fd0f 205px,#0efdf1 209px,#00ddff 210px,#00bdff 211px,#00abff 212px,#00aaff 213px,#00baff 214px,#09faf6 216px,#71ff8e 218px)}
.r122{background:linear-gradient(90deg,#80ff80 0px,#80ff7f 121px,#6eff91 125px,#87ff78 128px,#afff50 131px,#9fff60 133px,#2bffd4 137px,#21ffde 138px,#2bffd4 139px,#47ffb8 140px,#d5ff2a 143px,#f8fd07 144px,#fff200 145px,#fef701 146px,#e9ff16 147px,#7dff82 149px,#3effc1 150px,#0cfbf3 151px,#00cfff 153px,#00d6ff 154px,#03f3fc 155px,#2affd5 156px,#eafd15 159px,#ffdf00 160px,#ffc000 161px,#ffb800 162px,#ffc800 163px,#feec01 164px,#d9ff26 165px,#14fdeb 168px,#00ddff 169px,#00baff 170px,#00acff 171px,#00b4ff 172px,#09f8f6 174px,#3fffc0 175px,#c5ff3a 177px,#f8f607 178px,#ffb000 180px,#ffa600 181px,#ffb100 182px,#f8f707 184px,#c6ff39 185px,#44ffbb 187px,#0cfbf3 188px,#00b6ff 190px,#00a6ff 191px,#00aaff 192px,#00c0ff 193px,#00e6ff 194px,#1cffe3 195px,#d3ff2c 198px,#fcf203 199px,#ffb000 201px,#ffa700 202px,#ffaf00 203px,#ffc700 204px,#feee01 205px,#dcff23 206px,#2bffd4 209px,#03f4fc 210px,#00b4ff 212px,#00a9ff 213px,#00b0ff 214px,#00c6ff 215px,#00e9ff 216px,#1affe5 217px,#51ffae 218px)}
.r123{background:linear-gradient(90deg,#80ff80 0px,#7fff80 122px,#6fff90 126px,#88ff77 129px,#aeff51 132px,#abff54 133px,#81ff7e 135px,#41ffbe 137px,#2bffd4 138px,#24ffdb 139px,#2fffd0 140px,#4effb1 141px,#daff25 144px,#fafd05 145px,#fff400 146px,#fcfb03 147px,#e0ff1f 148px,#71ff8e 150px,#34ffcb 151px,#07f8f8 152px,#00dcff 153px,#00d0ff 154px,#00ddff 155px,#08f9f7 156px,#38ffc7 157px,#bcff43 159px,#f3fa0c 160px,#ffbe00 162px,#ffbc00 163px,#ffd100 164px,#f9f606 165px,#c8ff37 166px,#41ffbe 168px,#0af9f5 169px,#00b5ff 171px,#00adff 172px,#00bcff 173px,#00dfff 174px,#16fee9 175px,#d8ff27 178px,#fdec02 179px,#ffc400 180px,#ffac00 181px,#ffa900 182px,#ffba00 183px,#ffde00 184px,#ebfd14 185px,#2fffd0 188px,#03f2fc 189px,#00caff 190px,#00afff 191px,#00a6ff 192px,#00b1ff 193px,#04f5fb 195px,#31ffce 196px,#e8fe17 199px,#ffe400 200px,#ffbf00 201px,#ffab00 202px,#ffa800 203px,#ffb700 204px,#f6fa09 206px,#89ff76 208px,#15feea 210px,#00e5ff 211px,#00c2ff 212px,#00aeff 213px,#00abff 214px,#00b8ff 215px,#06f8f9 217px,#32ffcd 218px)}
.r124{background:linear-gradient(90deg,#80ff80 0px,#7fff80 123px,#70ff8f 127px,#89ff76 130px,#adff52 133px,#98ff67 135px,#3fffc0 138px,#2bffd4 139px,#26ffd9 140px,#35ffca 141px,#81ff7e 143px,#dfff20 145px,#fbfd04 146px,#fff700 147px,#f9fe06 148px,#d6ff29 149px,#2affd5 152px,#04f5fb 153px,#00daff 154px,#00d3ff 155px,#00e5ff 156px,#10fdef 157px,#88ff77 159px,#caff35 160px,#f9f506 161px,#ffd100 162px,#ffbd00 163px,#ffc100 164px,#ffdb00 165px,#f1fc0e 166px,#73ff8c 168px,#30ffcf 169px,#04f1fb 170px,#00caff 171px,#00b2ff 172px,#00b1ff 173px,#00c6ff 174px,#02ecfd 175px,#27ffd8 176px,#e9fe16 179px,#ffe000 180px,#ffbb00 181px,#ffaa00 182px,#ffad00 183px,#ffc500 184px,#feed01 185px,#d9ff26 186px,#1bfee4 189px,#00e5ff 190px,#00bfff 191px,#00aaff 192px,#00a8ff 193px,#00baff 194px,#00dcff 195px,#10fdef 196px,#c5ff3a 199px,#f7f908 200px,#ffb600 202px,#ffa800 203px,#ffad00 204px,#ffc200 205px,#ffe700 206px,#e5ff1a 207px,#35ffca 210px,#07f8f8 211px,#00b8ff 213px,#00abff 214px,#00afff 215px,#00c2ff 216px,#00e5ff 217px,#15feea 218px)}
.r125{background:linear-gradient(90deg,#80ff80 0px,#7fff80 124px,#70ff8f 128px,#8bff74 131px,#abff54 134px,#95ff6a 136px,#3effc1 139px,#2cffd3 140px,#29ffd6 141px,#3affc5 142px,#5bffa4 143px,#e3ff1c 146px,#fcfd03 147px,#fffa00 148px,#f3ff0c 149px,#cdff32 150px,#21ffde 153px,#02f1fd 154px,#00d9ff 155px,#00d7ff 156px,#00edff 157px,#1affe5 158px,#d7ff28 161px,#fdef02 162px,#ffcc00 163px,#ffbd00 164px,#ffc700 165px,#ffe600 166px,#e4fe1b 167px,#21ffde 170px,#01e8fe 171px,#00c2ff 172px,#00b1ff 173px,#00b6ff 174px,#00d0ff 175px,#07f7f8 176px,#3affc5 177px,#bfff40 179px,#f5f90a 180px,#ffb400 182px,#ffaa00 183px,#ffb400 184px,#f7f808 186px,#c4ff3b 187px,#43ffbc 189px,#0cfbf3 190px,#00b7ff 192px,#00a8ff 193px,#00adff 194px,#00c5ff 195px,#01ecfe 196px,#23ffdc 197px,#daff25 200px,#feee01 201px,#ffc800 202px,#ffaf00 203px,#ffa900 204px,#ffb400 205px,#fbf604 207px,#cfff30 208px,#1fffe0 211px,#01ecfe 212px,#00c8ff 213px,#00b1ff 214px,#00abff 215px,#00b6ff 216px,#03f5fc 218px)}
.r126{background:linear-gradient(90deg,#80ff80 0px,#7eff81 125px,#71ff8e 129px,#8cff73 132px,#aaff55 135px,#91ff6e 137px,#3dffc2 140px,#2cffd3 141px,#2dffd2 142px,#3fffc0 143px,#90ff6f 145px,#e6ff19 147px,#fcfd03 148px,#fefd01 149px,#ecff13 150px,#c3ff3c 151px,#1affe5 154px,#01eefe 155px,#00d9ff 156px,#00dcff 157px,#02f4fd 158px,#26ffd9 159px,#e3fe1c 162px,#fee701 163px,#ffc800 164px,#ffbf00 165px,#ffce00 166px,#fdf102 167px,#d5ff2a 168px,#13fdec 171px,#00deff 172px,#00bdff 173px,#00b1ff 174px,#00bdff 175px,#00ddff 176px,#12fded 177px,#d1ff2e 180px,#fcf103 181px,#ffc900 182px,#ffb000 183px,#ffac00 184px,#ffbc00 185px,#ffe000 186px,#eafe15 187px,#2effd1 190px,#03f2fc 191px,#00b0ff 193px,#00a9ff 194px,#00b5ff 195px,#07f8f8 197px,#38ffc7 198px,#edfd12 201px,#ffdf00 202px,#ffbd00 203px,#ffab00 204px,#ffac00 205px,#ffbd00 206px,#ffdf00 207px,#eefd11 208px,#0dfcf2 212px,#00dcff 213px,#00bdff 214px,#00adff 215px,#00aeff 216px,#00bfff 217px,#00e0ff 218px)}
.r127{background:linear-gradient(90deg,#80ff80 0px,#7eff81 126px,#72ff8d 130px,#8dff72 133px,#a8ff57 136px,#8eff71 138px,#3cffc3 141px,#2effd1 142px,#30ffcf 143px,#45ffba 144px,#96ff69 146px,#e9ff16 148px,#fdfe02 149px,#fcff03 150px,#e4ff1b 151px,#82ff7d 153px,#13feec 155px,#00eaff 156px,#00daff 157px,#00e1ff 158px,#07faf8 159px,#33ffcc 160px,#edfd12 163px,#ffe100 164px,#ffc600 165px,#ffc300 166px,#ffd700 167px,#f7f808 168px,#c4ff3b 169px,#3fffc0 171px,#0af9f5 172px,#00b9ff 174px,#00b4ff 175px,#00c5ff 176px,#01eafe 177px,#21ffde 178px,#e2fe1d 181px,#ffe500 182px,#ffc000 183px,#ffae00 184px,#ffb000 185px,#ffc700 186px,#fdee02 187px,#d8ff27 188px,#1bffe4 191px,#00e6ff 192px,#00c0ff 193px,#00acff 194px,#00acff 195px,#00beff 196px,#00e1ff 197px,#15feea 198px,#cbff34 201px,#f9f706 202px,#ffb500 204px,#ffaa00 205px,#ffb100 206px,#ffc900 207px,#feef01 208px,#daff25 209px,#2affd5 212px,#03f3fc 213px,#00b5ff 215px,#00acff 216px,#00b4ff 217px,#00ccff 218px)}
.r128{background:linear-gradient(90deg,#80ff80 0px,#7eff81 127px,#73ff8c 131px,#a5ff5a 136px,#9eff61 138px,#3bffc4 142px,#2fffd0 143px,#34ffcb 144px,#4affb5 145px,#c9ff36 148px,#ebff14 149px,#fcff03 150px,#f8ff07 151px,#ddff22 152px,#77ff88 154px,#0dfdf2 156px,#00e8ff 157px,#00dcff 158px,#00e8ff 159px,#0efdf1 160px,#40ffbf 161px,#c0ff3f 163px,#f5fa0a 164px,#ffc500 166px,#ffc700 167px,#ffe100 168px,#eefd11 169px,#30ffcf 172px,#04f2fb 173px,#00ccff 174px,#00b7ff 175px,#00b8ff 176px,#00cfff 177px,#05f4fa 178px,#33ffcc 179px,#b7ff48 181px,#f0fc0f 182px,#ffda00 183px,#ffb900 184px,#ffad00 185px,#ffb600 186px,#f7f808 188px,#c4ff3b 189px,#43ffbc 191px,#0dfbf2 192px,#00d8ff 193px,#00b8ff 194px,#00abff 195px,#00b1ff 196px,#00c9ff 197px,#02f0fd 198px,#28ffd7 199px,#e0ff1f 202px,#feeb01 203px,#ffc500 204px,#ffaf00 205px,#ffab00 206px,#ffb900 207px,#f6fa09 209px,#88ff77 211px,#15feea 213px,#00e5ff 214px,#00c3ff 215px,#00b0ff 216px,#00aeff 217px,#00bcff 218px)}
.r129{background:linear-gradient(90deg,#80ff80 0px,#7eff81 128px,#73ff8c 132px,#a4ff5b 137px,#9bff64 139px,#3bffc4 143px,#31ffce 144px,#38ffc7 145px,#50ffaf 146px,#cdff32 149px,#edff12 150px,#fbff04 151px,#f3ff0c 152px,#d5ff2a 153px,#6dff92 155px,#34ffcb 156px,#09fbf6 157px,#00e6ff 158px,#00deff 159px,#00efff 160px,#17ffe8 161px,#cdff32 164px,#faf605 165px,#ffd500 166px,#ffc500 167px,#ffcd00 168px,#feeb01 169px,#e1ff1e 170px,#21ffde 173px,#01e9fe 174px,#00c6ff 175px,#00b6ff 176px,#00bdff 177px,#00daff 178px,#0dfbf2 179px,#87ff78 181px,#c9ff36 182px,#f9f506 183px,#ffb500 185px,#ffaf00 186px,#ffbe00 187px,#ffe000 188px,#ebfe14 189px,#30ffcf 192px,#04f3fb 193px,#00ccff 194px,#00b2ff 195px,#00acff 196px,#00b8ff 197px,#0afaf5 199px,#7cff83 201px,#f1fc0e 203px,#ffdc00 204px,#ffbc00 205px,#ffac00 206px,#ffaf00 207px,#ffc300 208px,#ffe700 209px,#e6ff19 210px,#36ffc9 213px,#07f9f8 214px,#00baff 216px,#00aeff 217px,#00b2ff 218px)}
.r130{background:linear-gradient(90deg,#80ff80 0px,#7dff82 129px,#74ff8b 133px,#a3ff5c 138px,#99ff66 140px,#3affc5 144px,#33ffcc 145px,#3cffc3 146px,#55ffaa 147px,#d1ff2e 150px,#eeff11 151px,#f9ff06 152px,#edff12 153px,#ccff33 154px,#2cffd3 157px,#05f9fa 158px,#00e5ff 159px,#00e2ff 160px,#02f5fd 161px,#22ffdd 162px,#d9ff26 165px,#fdf002 166px,#ffd100 167px,#ffc700 168px,#ffd400 169px,#fcf403 170px,#d2ff2d 171px,#14fdeb 174px,#00e0ff 175px,#00c1ff 176px,#00b7ff 177px,#00c4ff 178px,#00e6ff 179px,#1bfee4 180px,#daff25 183px,#feec01 184px,#ffc600 185px,#ffb200 186px,#ffb200 187px,#ffc800 188px,#fdee02 189px,#d9ff26 190px,#1dffe2 193px,#00e7ff 194px,#00c3ff 195px,#00afff 196px,#00afff 197px,#00c1ff 198px,#00e5ff 199px,#19fee6 200px,#cfff30 203px,#fbf504 204px,#ffb500 206px,#ffac00 207px,#ffb500 208px,#fbf504 210px,#d1ff2e 211px,#20ffdf 214px,#01edfe 215px,#00c9ff 216px,#00b3ff 217px,#00aeff 218px)}
.r131{background:linear-gradient(90deg,#80ff80 0px,#7dff82 130px,#75ff8a 134px,#a3ff5c 139px,#96ff69 141px,#3bffc4 145px,#35ffca 146px,#40ffbf 147px,#82ff7d 149px,#d5ff2a 151px,#efff10 152px,#f6ff09 153px,#e7ff18 154px,#c4ff3b 155px,#24ffdb 158px,#03f7fc 159px,#00e5ff 160px,#00e6ff 161px,#05fafa 162px,#2effd1 163px,#e3ff1c 166px,#feea01 167px,#ffcf00 168px,#ffc900 169px,#f6fa09 171px,#c3ff3c 172px,#41ffbe 174px,#0bfaf4 175px,#00beff 177px,#00baff 178px,#00cdff 179px,#03f1fc 180px,#2bffd4 181px,#e9fe16 184px,#ffe100 185px,#ffbf00 186px,#ffb100 187px,#ffb800 188px,#f8f807 190px,#c6ff39 191px,#0efcf1 194px,#00dbff 195px,#00bbff 196px,#00aeff 197px,#00b4ff 198px,#00cdff 199px,#03f3fc 200px,#2dffd2 201px,#e3ff1c 204px,#ffe800 205px,#ffc400 206px,#ffb000 207px,#ffae00 208px,#ffbe00 209px,#ffde00 210px,#f0fd0f 211px,#0efdf1 215px,#00deff 216px,#00bfff 217px,#00b0ff 218px)}
</style></head><body><div id="w">
<div class="hm" style="left:46px;width:219px"><i class="l131"></i><i class="l130"></i><i class="l129"></i><i class="l128"></i><i class="l127"></i><i class="l126"></i><i class="l125"></i><i class="l124"></i><i class="l123"></i><i class="l122"></i><i class="l121"></i><i class="l120"></i><i class="l119"></i><i class="l118"></i><i class="l117"></i><i class="l116"></i><i class="l115"></i><i class="l114"></i><i class="l113"></i><i class="l112"></i><i class="l111"></i><i class="l110"></i><i class="l109"></i><i class="l108"></i><i class="l107"></i><i class="l106"></i><i class="l105"></i><i class="l104"></i><i class="l103"></i><i class="l102"></i><i class="l101"></i><i class="l100"></i><i class="l99"></i><i class="l98"></i><i class="l97"></i><i class="l96"></i><i class="l95"></i><i class="l94"></i><i class="l93"></i><i class="l92"></i><i class="l91"></i><i class="l90"></i><i class="l89"></i><i class="l88"></i><i class="l87"></i><i class="l86"></i><i class="l85"></i><i class="l84"></i><i class="l83"></i><i class="l82"></i><i class="l81"></i><i class="l80"></i><i class="l79"></i><i class="l78"></i><i class="l77"></i><i class="l76"></i><i class="l75"></i><i class="l74"></i><i class="l73"></i><i class="l72"></i><i class="l71"></i><i class="l70"></i><i class="l69"></i><i class="l68"></i><i class="l67"></i><i class="l66"></i><i class="l65"></i><i class="l64"></i><i class="l63"></i><i class="l62"></i><i class="l61"></i><i class="l60"></i><i class="l59"></i><i class="l58"></i><i class="l57"></i><i class="l56"></i><i class="l55"></i><i class="l54"></i><i class="l53"></i><i class="l52"></i><i class="l51"></i><i class="l50"></i><i class="l49"></i><i class="l48"></i><i class="l47"></i><i class="l46"></i><i class="l45"></i><i class="l44"></i><i class="l43"></i><i class="l42"></i><i class="l41"></i><i class="l40"></i><i class="l39"></i><i class="l38"></i><i class="l37"></i><i class="l36"></i><i class="l35"></i><i class="l34"></i><i class="l33"></i><i class="l32"></i><i class="l31"></i><i class="l30"></i><i class="l29"></i><i class="l28"></i><i class="l27"></i><i class="l26"></i><i class="l25"></i><i class="l24"></i><i class="l23"></i><i class="l22"></i><i class="l21"></i><i class="l20"></i><i class="l19"></i><i class="l18"></i><i class="l17"></i><i class="l16"></i><i class="l15"></i><i class="l14"></i><i class="l13"></i><i class="l12"></i><i class="l11"></i><i class="l10"></i><i class="l9"></i><i class="l8"></i><i class="l7"></i><i class="l6"></i><i class="l5"></i><i class="l4"></i><i class="l3"></i><i class="l2"></i><i class="l1"></i><i class="l0"></i><i class="l1"></i><i class="l2"></i><i class="l3"></i><i class="l4"></i><i class="l5"></i><i class="l6"></i><i class="l7"></i><i class="l8"></i><i class="l9"></i><i class="l10"></i><i class="l11"></i><i class="l12"></i><i class="l13"></i><i class="l14"></i><i class="l15"></i><i class="l16"></i><i class="l17"></i><i class="l18"></i><i class="l19"></i><i class="l20"></i><i class="l21"></i><i class="l22"></i><i class="l23"></i><i class="l24"></i><i class="l25"></i><i class="l26"></i><i class="l27"></i><i class="l28"></i><i class="l29"></i><i class="l30"></i><i class="l31"></i><i class="l32"></i><i class="l33"></i><i class="l34"></i><i class="l35"></i><i class="l36"></i><i class="l37"></i><i class="l38"></i><i class="l39"></i><i class="l40"></i><i class="l41"></i><i class="l42"></i><i class="l43"></i><i class="l44"></i><i class="l45"></i><i class="l46"></i><i class="l47"></i><i class="l48"></i><i class="l49"></i><i class="l50"></i><i class="l51"></i><i class="l52"></i><i class="l53"></i><i class="l54"></i><i class="l55"></i><i class="l56"></i><i class="l57"></i><i class="l58"></i><i class="l59"></i><i class="l60"></i><i class="l61"></i><i class="l62"></i><i class="l63"></i><i class="l64"></i><i class="l65"></i><i class="l66"></i><i class="l67"></i><i class="l68"></i><i class="l69"></i><i class="l70"></i><i class="l71"></i><i class="l72"></i><i class="l73"></i><i class="l74"></i><i class="l75"></i><i class="l76"></i><i class="l77"></i><i class="l78"></i><i class="l79"></i><i class="l80"></i><i class="l81"></i><i class="l82"></i><i class="l83"></i><i class="l84"></i><i class="l85"></i><i class="l86"></i><i class="l87"></i><i class="l88"></i><i class="l89"></i><i class="l90"></i><i class="l91"></i><i class="l92"></i><i class="l93"></i><i class="l94"></i><i class="l95"></i><i class="l96"></i><i class="l97"></i><i class="l98"></i><i class="l99"></i><i class="l100"></i><i class="l101"></i><i class="l102"></i><i class="l103"></i><i class="l104"></i><i class="l105"></i><i class="l106"></i><i class="l107"></i><i class="l108"></i><i class="l109"></i><i class="l110"></i><i class="l111"></i><i class="l112"></i><i class="l113"></i><i class="l114"></i><i class="l115"></i><i class="l116"></i><i class="l117"></i><i class="l118"></i><i class="l119"></i><i class="l120"></i><i class="l121"></i><i class="l122"></i><i class="l123"></i><i class="l124"></i><i class="l125"></i><i class="l126"></i><i class="l127"></i><i class="l128"></i><i class="l129"></i><i class="l130"></i><i class="l131"></i></div>
<div class="hm" style="left:324px;width:218px"><i class="r131"></i><i class="r130"></i><i class="r129"></i><i class="r128"></i><i class="r127"></i><i class="r126"></i><i class="r125"></i><i class="r124"></i><i class="r123"></i><i class="r122"></i><i class="r121"></i><i class="r120"></i><i class="r119"></i><i class="r118"></i><i class="r117"></i><i class="r116"></i><i class="r115"></i><i class="r114"></i><i class="r113"></i><i class="r112"></i><i class="r111"></i><i class="r110"></i><i class="r109"></i><i class="r108"></i><i class="r107"></i><i class="r106"></i><i class="r105"></i><i class="r104"></i><i class="r103"></i><i class="r102"></i><i class="r101"></i><i class="r100"></i><i class="r99"></i><i class="r98"></i><i class="r97"></i><i class="r96"></i><i class="r95"></i><i class="r94"></i><i class="r93"></i><i class="r92"></i><i class="r91"></i><i class="r90"></i><i class="r89"></i><i class="r88"></i><i class="r87"></i><i class="r86"></i><i class="r85"></i><i class="r84"></i><i class="r83"></i><i class="r82"></i><i class="r81"></i><i class="r80"></i><i class="r79"></i><i class="r78"></i><i class="r77"></i><i class="r76"></i><i class="r75"></i><i class="r74"></i><i class="r73"></i><i class="r72"></i><i class="r71"></i><i class="r70"></i><i class="r69"></i><i class="r68"></i><i class="r67"></i><i class="r66"></i><i class="r65"></i><i class="r64"></i><i class="r63"></i><i class="r62"></i><i class="r61"></i><i class="r60"></i><i class="r59"></i><i class="r58"></i><i class="r57"></i><i class="r56"></i><i class="r55"></i><i class="r54"></i><i class="r53"></i><i class="r52"></i><i class="r51"></i><i class="r50"></i><i class="r49"></i><i class="r48"></i><i class="r47"></i><i class="r46"></i><i class="r45"></i><i class="r44"></i><i class="r43"></i><i class="r42"></i><i class="r41"></i><i class="r40"></i><i class="r39"></i><i class="r38"></i><i class="r37"></i><i class="r36"></i><i class="r35"></i><i class="r34"></i><i class="r33"></i><i class="r32"></i><i class="r31"></i><i class="r30"></i><i class="r29"></i><i class="r28"></i><i class="r27"></i><i class="r26"></i><i class="r25"></i><i class="r24"></i><i class="r23"></i><i class="r22"></i><i class="r21"></i><i class="r20"></i><i class="r19"></i><i class="r18"></i><i class="r17"></i><i class="r16"></i><i class="r15"></i><i class="r14"></i><i class="r13"></i><i class="r12"></i><i class="r11"></i><i class="r10"></i><i class="r9"></i><i class="r8"></i><i class="r7"></i><i class="r6"></i><i class="r5"></i><i class="r4"></i><i class="r3"></i><i class="r2"></i><i class="r1"></i><i class="r0"></i><i class="r1"></i><i class="r2"></i><i class="r3"></i><i class="r4"></i><i class="r5"></i><i class="r6"></i><i class="r7"></i><i class="r8"></i><i class="r9"></i><i class="r10"></i><i class="r11"></i><i class="r12"></i><i class="r13"></i><i class="r14"></i><i class="r15"></i><i class="r16"></i><i class="r17"></i><i class="r18"></i><i class="r19"></i><i class="r20"></i><i class="r21"></i><i class="r22"></i><i class="r23"></i><i class="r24"></i><i class="r25"></i><i class="r26"></i><i class="r27"></i><i class="r28"></i><i class="r29"></i><i class="r30"></i><i class="r31"></i><i class="r32"></i><i class="r33"></i><i class="r34"></i><i class="r35"></i><i class="r36"></i><i class="r37"></i><i class="r38"></i><i class="r39"></i><i class="r40"></i><i class="r41"></i><i class="r42"></i><i class="r43"></i><i class="r44"></i><i class="r45"></i><i class="r46"></i><i class="r47"></i><i class="r48"></i><i class="r49"></i><i class="r50"></i><i class="r51"></i><i class="r52"></i><i class="r53"></i><i class="r54"></i><i class="r55"></i><i class="r56"></i><i class="r57"></i><i class="r58"></i><i class="r59"></i><i class="r60"></i><i class="r61"></i><i class="r62"></i><i class="r63"></i><i class="r64"></i><i class="r65"></i><i class="r66"></i><i class="r67"></i><i class="r68"></i><i class="r69"></i><i class="r70"></i><i class="r71"></i><i class="r72"></i><i class="r73"></i><i class="r74"></i><i class="r75"></i><i class="r76"></i><i class="r77"></i><i class="r78"></i><i class="r79"></i><i class="r80"></i><i class="r81"></i><i class="r82"></i><i class="r83"></i><i class="r84"></i><i class="r85"></i><i class="r86"></i><i class="r87"></i><i class="r88"></i><i class="r89"></i><i class="r90"></i><i class="r91"></i><i class="r92"></i><i class="r93"></i><i class="r94"></i><i class="r95"></i><i class="r96"></i><i class="r97"></i><i class="r98"></i><i class="r99"></i><i class="r100"></i><i class="r101"></i><i class="r102"></i><i class="r103"></i><i class="r104"></i><i class="r105"></i><i class="r106"></i><i class="r107"></i><i class="r108"></i><i class="r109"></i><i class="r110"></i><i class="r111"></i><i class="r112"></i><i class="r113"></i><i class="r114"></i><i class="r115"></i><i class="r116"></i><i class="r117"></i><i class="r118"></i><i class="r119"></i><i class="r120"></i><i class="r121"></i><i class="r122"></i><i class="r123"></i><i class="r124"></i><i class="r125"></i><i class="r126"></i><i class="r127"></i><i class="r128"></i><i class="r129"></i><i class="r130"></i><i class="r131"></i></div>
<svg width="550" height="318" viewBox="0 0 550 318">
<path d="M50.97 21.30v3.00M50.97 283.40v-3.00M55.33 21.30v3.00M55.33 283.40v-3.00M59.70 21.30v3.00M59.70 283.40v-3.00M64.07 21.30v3.00M64.07 283.40v-3.00M68.44 21.30v3.00M68.44 283.40v-3.00M72.80 21.30v3.00M72.80 283.40v-3.00M77.17 21.30v3.00M77.17 283.40v-3.00M81.54 21.30v3.00M81.54 283.40v-3.00M85.90 21.30v3.00M85.90 283.40v-3.00M90.27 21.30v5.50M90.27 283.40v-5.50M94.64 21.30v3.00M94.64 283.40v-3.00M99.00 21.30v3.00M99.00 283.40v-3.00M103.37 21.30v3.00M103.37 283.40v-3.00M107.74 21.30v3.00M107.74 283.40v-3.00M112.10 21.30v3.00M112.10 283.40v-3.00M116.47 21.30v3.00M116.47 283.40v-3.00M120.84 21.30v3.00M120.84 283.40v-3.00M125.21 21.30v3.00M125.21 283.40v-3.00M129.57 21.30v3.00M129.57 283.40v-3.00M133.94 21.30v5.50M133.94 283.40v-5.50M138.31 21.30v3.00M138.31 283.40v-3.00M142.67 21.30v3.00M142.67 283.40v-3.00M147.04 21.30v3.00M147.04 283.40v-3.00M151.41 21.30v3.00M151.41 283.40v-3.00M155.78 21.30v3.00M155.78 283.40v-3.00M160.14 21.30v3.00M160.14 283.40v-3.00M164.51 21.30v3.00M164.51 283.40v-3.00M168.88 21.30v3.00M168.88 283.40v-3.00M173.24 21.30v3.00M173.24 283.40v-3.00M177.61 21.30v5.50M177.61 283.40v-5.50M181.98 21.30v3.00M181.98 283.40v-3.00M186.34 21.30v3.00M186.34 283.40v-3.00M190.71 21.30v3.00M190.71 283.40v-3.00M195.08 21.30v3.00M195.08 283.40v-3.00M199.44 21.30v3.00M199.44 283.40v-3.00M203.81 21.30v3.00M203.81 283.40v-3.00M208.18 21.30v3.00M208.18 283.40v-3.00M212.55 21.30v3.00M212.55 283.40v-3.00M216.91 21.30v3.00M216.91 283.40v-3.00M221.28 21.30v5.50M221.28 283.40v-5.50M225.65 21.30v3.00M225.65 283.40v-3.00M230.01 21.30v3.00M230.01 283.40v-3.00M234.38 21.30v3.00M234.38 283.40v-3.00M238.75 21.30v3.00M238.75 283.40v-3.00M243.11 21.30v3.00M243.11 283.40v-3.00M247.48 21.30v3.00M247.48 283.40v-3.00M251.85 21.30v3.00M251.85 283.40v-3.00M256.22 21.30v3.00M256.22 283.40v-3.00M260.58 21.30v3.00M260.58 283.40v-3.00M46.20 279.14h2.50M264.50 279.14h-2.50M46.20 274.78h2.50M264.50 274.78h-2.50M46.20 270.41h2.50M264.50 270.41h-2.50M46.20 266.04h2.50M264.50 266.04h-2.50M46.20 261.68h2.50M264.50 261.68h-2.50M46.20 257.31h2.50M264.50 257.31h-2.50M46.20 252.94h2.50M264.50 252.94h-2.50M46.20 248.57h2.50M264.50 248.57h-2.50M46.20 244.21h2.50M264.50 244.21h-2.50M46.20 239.84h4.60M264.50 239.84h-4.60M46.20 235.47h2.50M264.50 235.47h-2.50M46.20 231.11h2.50M264.50 231.11h-2.50M46.20 226.74h2.50M264.50 226.74h-2.50M46.20 222.37h2.50M264.50 222.37h-2.50M46.20 218.00h2.50M264.50 218.00h-2.50M46.20 213.64h2.50M264.50 213.64h-2.50M46.20 209.27h2.50M264.50 209.27h-2.50M46.20 204.90h2.50M264.50 204.90h-2.50M46.20 200.54h2.50M264.50 200.54h-2.50M46.20 196.17h4.60M264.50 196.17h-4.60M46.20 191.80h2.50M264.50 191.80h-2.50M46.20 187.44h2.50M264.50 187.44h-2.50M46.20 183.07h2.50M264.50 183.07h-2.50M46.20 178.70h2.50M264.50 178.70h-2.50M46.20 174.34h2.50M264.50 174.34h-2.50M46.20 169.97h2.50M264.50 169.97h-2.50M46.20 165.60h2.50M264.50 165.60h-2.50M46.20 161.23h2.50M264.50 161.23h-2.50M46.20 156.87h2.50M264.50 156.87h-2.50M46.20 152.50h4.60M264.50 152.50h-4.60M46.20 148.13h2.50M264.50 148.13h-2.50M46.20 143.77h2.50M264.50 143.77h-2.50M46.20 139.40h2.50M264.50 139.40h-2.50M46.20 135.03h2.50M264.50 135.03h-2.50M46.20 130.66h2.50M264.50 130.66h-2.50M46.20 126.30h2.50M264.50 126.30h-2.50M46.20 121.93h2.50M264.50 121.93h-2.50M46.20 117.56h2.50M264.50 117.56h-2.50M46.20 113.20h2.50M264.50 113.20h-2.50M46.20 108.83h4.60M264.50 108.83h-4.60M46.20 104.46h2.50M264.50 104.46h-2.50M46.20 100.10h2.50M264.50 100.10h-2.50M46.20 95.73h2.50M264.50 95.73h-2.50M46.20 91.36h2.50M264.50 91.36h-2.50M46.20 87.00h2.50M264.50 87.00h-2.50M46.20 82.63h2.50M264.50 82.63h-2.50M46.20 78.26h2.50M264.50 78.26h-2.50M46.20 73.89h2.50M264.50 73.89h-2.50M46.20 69.53h2.50M264.50 69.53h-2.50M46.20 65.16h4.60M264.50 65.16h-4.60M46.20 60.79h2.50M264.50 60.79h-2.50M46.20 56.43h2.50M264.50 56.43h-2.50M46.20 52.06h2.50M264.50 52.06h-2.50M46.20 47.69h2.50M264.50 47.69h-2.50M46.20 43.33h2.50M264.50 43.33h-2.50M46.20 38.96h2.50M264.50 38.96h-2.50M46.20 34.59h2.50M264.50 34.59h-2.50M46.20 30.22h2.50M264.50 30.22h-2.50M46.20 25.86h2.50M264.50 25.86h-2.50" stroke="#000" stroke-opacity="0.55" stroke-width="1" fill="none"/>
<rect x="46.20" y="21.30" width="218.30" height="262.10" fill="none" stroke="#000" stroke-opacity="0.42" stroke-width="1"/>
<clipPath id="cp0"><rect x="46.20" y="21.30" width="218.30" height="262.10"/></clipPath>
<path clip-path="url(#cp0)" d="M46.60 152.50L177.61 21.49M46.60 152.50L177.61 283.51" stroke="#fff" stroke-width="1.3" stroke-opacity="0.85" fill="none"/>
<path clip-path="url(#cp0)" d="M46.60 152.50L264.95 98.35M46.60 152.50L264.95 206.65" stroke="#fff" stroke-width="1.1" stroke-opacity="0.75" fill="none"/>
<text x="155.78" y="14.00" font-size="19.5" text-anchor="middle">L=0.2</text>
<text x="42.80" y="284.00" font-size="16" text-anchor="end">-30</text>
<text x="42.80" y="245.00" font-size="16" text-anchor="end">-20</text>
<text x="42.80" y="202.00" font-size="16" text-anchor="end">-10</text>
<text x="42.80" y="158.00" font-size="16" text-anchor="end">0</text>
<text x="42.80" y="114.00" font-size="16" text-anchor="end">10</text>
<text x="42.80" y="71.00" font-size="16" text-anchor="end">20</text>
<text x="42.80" y="31.00" font-size="16" text-anchor="end">30</text>
<text x="46.60" y="302.00" font-size="16" text-anchor="middle">0</text>
<text x="90.27" y="302.00" font-size="16" text-anchor="middle">10</text>
<text x="133.94" y="302.00" font-size="16" text-anchor="middle">20</text>
<text x="177.61" y="302.00" font-size="16" text-anchor="middle">30</text>
<text x="221.28" y="302.00" font-size="16" text-anchor="middle">40</text>
<text x="264.95" y="302.00" font-size="16" text-anchor="middle">50</text>
<text x="155.78" y="319.00" font-size="16" text-anchor="middle">t</text>
<text transform="translate(8.10 152.50) rotate(-90) scale(1 0.9)" font-size="16" text-anchor="middle" dy="0">z</text>
<path d="M328.17 21.30v3.00M328.17 283.40v-3.00M332.53 21.30v3.00M332.53 283.40v-3.00M336.90 21.30v3.00M336.90 283.40v-3.00M341.27 21.30v3.00M341.27 283.40v-3.00M345.63 21.30v3.00M345.63 283.40v-3.00M350.00 21.30v3.00M350.00 283.40v-3.00M354.37 21.30v3.00M354.37 283.40v-3.00M358.74 21.30v3.00M358.74 283.40v-3.00M363.10 21.30v3.00M363.10 283.40v-3.00M367.47 21.30v5.50M367.47 283.40v-5.50M371.84 21.30v3.00M371.84 283.40v-3.00M376.20 21.30v3.00M376.20 283.40v-3.00M380.57 21.30v3.00M380.57 283.40v-3.00M384.94 21.30v3.00M384.94 283.40v-3.00M389.31 21.30v3.00M389.31 283.40v-3.00M393.67 21.30v3.00M393.67 283.40v-3.00M398.04 21.30v3.00M398.04 283.40v-3.00M402.41 21.30v3.00M402.41 283.40v-3.00M406.77 21.30v3.00M406.77 283.40v-3.00M411.14 21.30v5.50M411.14 283.40v-5.50M415.51 21.30v3.00M415.51 283.40v-3.00M419.87 21.30v3.00M419.87 283.40v-3.00M424.24 21.30v3.00M424.24 283.40v-3.00M428.61 21.30v3.00M428.61 283.40v-3.00M432.98 21.30v3.00M432.98 283.40v-3.00M437.34 21.30v3.00M437.34 283.40v-3.00M441.71 21.30v3.00M441.71 283.40v-3.00M446.08 21.30v3.00M446.08 283.40v-3.00M450.44 21.30v3.00M450.44 283.40v-3.00M454.81 21.30v5.50M454.81 283.40v-5.50M459.18 21.30v3.00M459.18 283.40v-3.00M463.54 21.30v3.00M463.54 283.40v-3.00M467.91 21.30v3.00M467.91 283.40v-3.00M472.28 21.30v3.00M472.28 283.40v-3.00M476.64 21.30v3.00M476.64 283.40v-3.00M481.01 21.30v3.00M481.01 283.40v-3.00M485.38 21.30v3.00M485.38 283.40v-3.00M489.75 21.30v3.00M489.75 283.40v-3.00M494.11 21.30v3.00M494.11 283.40v-3.00M498.48 21.30v5.50M498.48 283.40v-5.50M502.85 21.30v3.00M502.85 283.40v-3.00M507.21 21.30v3.00M507.21 283.40v-3.00M511.58 21.30v3.00M511.58 283.40v-3.00M515.95 21.30v3.00M515.95 283.40v-3.00M520.32 21.30v3.00M520.32 283.40v-3.00M524.68 21.30v3.00M524.68 283.40v-3.00M529.05 21.30v3.00M529.05 283.40v-3.00M533.42 21.30v3.00M533.42 283.40v-3.00M537.78 21.30v3.00M537.78 283.40v-3.00M323.60 279.14h2.50M542.40 279.14h-2.50M323.60 274.78h2.50M542.40 274.78h-2.50M323.60 270.41h2.50M542.40 270.41h-2.50M323.60 266.04h2.50M542.40 266.04h-2.50M323.60 261.68h2.50M542.40 261.68h-2.50M323.60 257.31h2.50M542.40 257.31h-2.50M323.60 252.94h2.50M542.40 252.94h-2.50M323.60 248.57h2.50M542.40 248.57h-2.50M323.60 244.21h2.50M542.40 244.21h-2.50M323.60 239.84h4.60M542.40 239.84h-4.60M323.60 235.47h2.50M542.40 235.47h-2.50M323.60 231.11h2.50M542.40 231.11h-2.50M323.60 226.74h2.50M542.40 226.74h-2.50M323.60 222.37h2.50M542.40 222.37h-2.50M323.60 218.00h2.50M542.40 218.00h-2.50M323.60 213.64h2.50M542.40 213.64h-2.50M323.60 209.27h2.50M542.40 209.27h-2.50M323.60 204.90h2.50M542.40 204.90h-2.50M323.60 200.54h2.50M542.40 200.54h-2.50M323.60 196.17h4.60M542.40 196.17h-4.60M323.60 191.80h2.50M542.40 191.80h-2.50M323.60 187.44h2.50M542.40 187.44h-2.50M323.60 183.07h2.50M542.40 183.07h-2.50M323.60 178.70h2.50M542.40 178.70h-2.50M323.60 174.34h2.50M542.40 174.34h-2.50M323.60 169.97h2.50M542.40 169.97h-2.50M323.60 165.60h2.50M542.40 165.60h-2.50M323.60 161.23h2.50M542.40 161.23h-2.50M323.60 156.87h2.50M542.40 156.87h-2.50M323.60 152.50h4.60M542.40 152.50h-4.60M323.60 148.13h2.50M542.40 148.13h-2.50M323.60 143.77h2.50M542.40 143.77h-2.50M323.60 139.40h2.50M542.40 139.40h-2.50M323.60 135.03h2.50M542.40 135.03h-2.50M323.60 130.66h2.50M542.40 130.66h-2.50M323.60 126.30h2.50M542.40 126.30h-2.50M323.60 121.93h2.50M542.40 121.93h-2.50M323.60 117.56h2.50M542.40 117.56h-2.50M323.60 113.20h2.50M542.40 113.20h-2.50M323.60 108.83h4.60M542.40 108.83h-4.60M323.60 104.46h2.50M542.40 104.46h-2.50M323.60 100.10h2.50M542.40 100.10h-2.50M323.60 95.73h2.50M542.40 95.73h-2.50M323.60 91.36h2.50M542.40 91.36h-2.50M323.60 87.00h2.50M542.40 87.00h-2.50M323.60 82.63h2.50M542.40 82.63h-2.50M323.60 78.26h2.50M542.40 78.26h-2.50M323.60 73.89h2.50M542.40 73.89h-2.50M323.60 69.53h2.50M542.40 69.53h-2.50M323.60 65.16h4.60M542.40 65.16h-4.60M323.60 60.79h2.50M542.40 60.79h-2.50M323.60 56.43h2.50M542.40 56.43h-2.50M323.60 52.06h2.50M542.40 52.06h-2.50M323.60 47.69h2.50M542.40 47.69h-2.50M323.60 43.33h2.50M542.40 43.33h-2.50M323.60 38.96h2.50M542.40 38.96h-2.50M323.60 34.59h2.50M542.40 34.59h-2.50M323.60 30.22h2.50M542.40 30.22h-2.50M323.60 25.86h2.50M542.40 25.86h-2.50" stroke="#000" stroke-opacity="0.55" stroke-width="1" fill="none"/>
<rect x="323.60" y="21.30" width="218.80" height="262.10" fill="none" stroke="#000" stroke-opacity="0.42" stroke-width="1"/>
<clipPath id="cp1"><rect x="323.60" y="21.30" width="218.80" height="262.10"/></clipPath>
<path clip-path="url(#cp1)" d="M323.80 152.50L454.81 21.49M323.80 152.50L454.81 283.51" stroke="#fff" stroke-width="1.3" stroke-opacity="0.85" fill="none"/>
<path clip-path="url(#cp1)" d="M323.80 152.50L542.15 98.35M323.80 152.50L542.15 206.65" stroke="#fff" stroke-width="1.1" stroke-opacity="0.75" fill="none"/>
<text x="432.98" y="14.00" font-size="19.5" text-anchor="middle">L=2.0</text>
<text x="320.70" y="284.00" font-size="16" text-anchor="end">-30</text>
<text x="320.70" y="245.00" font-size="16" text-anchor="end">-20</text>
<text x="320.70" y="202.00" font-size="16" text-anchor="end">-10</text>
<text x="320.70" y="158.00" font-size="16" text-anchor="end">0</text>
<text x="320.70" y="114.00" font-size="16" text-anchor="end">10</text>
<text x="320.70" y="71.00" font-size="16" text-anchor="end">20</text>
<text x="320.70" y="31.00" font-size="16" text-anchor="end">30</text>
<text x="323.80" y="302.00" font-size="16" text-anchor="middle">0</text>
<text x="367.47" y="302.00" font-size="16" text-anchor="middle">10</text>
<text x="411.14" y="302.00" font-size="16" text-anchor="middle">20</text>
<text x="454.81" y="302.00" font-size="16" text-anchor="middle">30</text>
<text x="498.48" y="302.00" font-size="16" text-anchor="middle">40</text>
<text x="542.15" y="302.00" font-size="16" text-anchor="middle">50</text>
<text x="433.60" y="319.00" font-size="16" text-anchor="middle">t</text>
<text transform="translate(290.10 152.50) rotate(-90) scale(1 0.9)" font-size="16" text-anchor="middle" dy="0">z</text>
</svg></div></body></html>
